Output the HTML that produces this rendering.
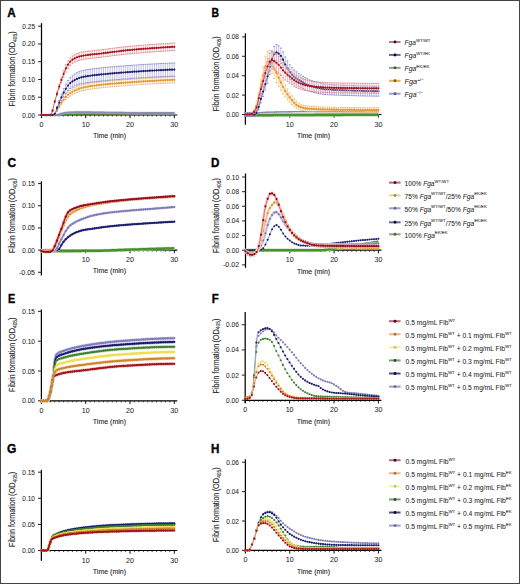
<!DOCTYPE html>
<html><head><meta charset="utf-8"><style>
html,body{margin:0;padding:0;background:#fff;}
body{width:520px;height:584px;overflow:hidden;}
svg{display:block;font-family:"Liberation Sans", sans-serif;}
text{stroke:#2a2a2a;stroke-width:0.04px;paint-order:stroke;}
.bt{stroke-width:0.1px;}
</style></head><body>
<svg width="520" height="584" viewBox="0 0 520 584">
<rect x="0" y="0" width="520" height="584" fill="#fff"/>
<line x1="41.50" y1="23.20" x2="41.50" y2="118.00" stroke="#000" stroke-width="1.25"/>
<line x1="38.10" y1="115.00" x2="41.50" y2="115.00" stroke="#333" stroke-width="1.1"/>
<text x="35.10" y="117.50" font-size="7.1" text-anchor="end" fill="#222" textLength="12.75" lengthAdjust="spacingAndGlyphs">0.00</text>
<line x1="38.10" y1="97.24" x2="41.50" y2="97.24" stroke="#333" stroke-width="1.1"/>
<text x="35.10" y="99.74" font-size="7.1" text-anchor="end" fill="#222" textLength="12.75" lengthAdjust="spacingAndGlyphs">0.05</text>
<line x1="38.10" y1="79.48" x2="41.50" y2="79.48" stroke="#333" stroke-width="1.1"/>
<text x="35.10" y="81.98" font-size="7.1" text-anchor="end" fill="#222" textLength="12.75" lengthAdjust="spacingAndGlyphs">0.10</text>
<line x1="38.10" y1="61.72" x2="41.50" y2="61.72" stroke="#333" stroke-width="1.1"/>
<text x="35.10" y="64.22" font-size="7.1" text-anchor="end" fill="#222" textLength="12.75" lengthAdjust="spacingAndGlyphs">0.15</text>
<line x1="38.10" y1="43.96" x2="41.50" y2="43.96" stroke="#333" stroke-width="1.1"/>
<text x="35.10" y="46.46" font-size="7.1" text-anchor="end" fill="#222" textLength="12.75" lengthAdjust="spacingAndGlyphs">0.20</text>
<line x1="38.10" y1="26.20" x2="41.50" y2="26.20" stroke="#333" stroke-width="1.1"/>
<text x="35.10" y="28.70" font-size="7.1" text-anchor="end" fill="#222" textLength="12.75" lengthAdjust="spacingAndGlyphs">0.25</text>
<line x1="41.50" y1="115.00" x2="177.30" y2="115.00" stroke="#000" stroke-width="1.2"/>
<line x1="41.50" y1="115.00" x2="41.50" y2="118.20" stroke="#111" stroke-width="1"/>
<text x="41.50" y="127.00" font-size="7.1" text-anchor="middle" fill="#222">0</text>
<line x1="45.93" y1="115.00" x2="45.93" y2="116.60" stroke="#222" stroke-width="0.8"/>
<line x1="50.35" y1="115.00" x2="50.35" y2="116.60" stroke="#222" stroke-width="0.8"/>
<line x1="54.78" y1="115.00" x2="54.78" y2="116.60" stroke="#222" stroke-width="0.8"/>
<line x1="59.21" y1="115.00" x2="59.21" y2="116.60" stroke="#222" stroke-width="0.8"/>
<line x1="63.63" y1="115.00" x2="63.63" y2="116.60" stroke="#222" stroke-width="0.8"/>
<line x1="68.06" y1="115.00" x2="68.06" y2="116.60" stroke="#222" stroke-width="0.8"/>
<line x1="72.49" y1="115.00" x2="72.49" y2="116.60" stroke="#222" stroke-width="0.8"/>
<line x1="76.91" y1="115.00" x2="76.91" y2="116.60" stroke="#222" stroke-width="0.8"/>
<line x1="81.34" y1="115.00" x2="81.34" y2="116.60" stroke="#222" stroke-width="0.8"/>
<line x1="85.77" y1="115.00" x2="85.77" y2="118.20" stroke="#111" stroke-width="1"/>
<text x="85.77" y="127.00" font-size="7.1" text-anchor="middle" fill="#222">10</text>
<line x1="90.19" y1="115.00" x2="90.19" y2="116.60" stroke="#222" stroke-width="0.8"/>
<line x1="94.62" y1="115.00" x2="94.62" y2="116.60" stroke="#222" stroke-width="0.8"/>
<line x1="99.05" y1="115.00" x2="99.05" y2="116.60" stroke="#222" stroke-width="0.8"/>
<line x1="103.47" y1="115.00" x2="103.47" y2="116.60" stroke="#222" stroke-width="0.8"/>
<line x1="107.90" y1="115.00" x2="107.90" y2="116.60" stroke="#222" stroke-width="0.8"/>
<line x1="112.33" y1="115.00" x2="112.33" y2="116.60" stroke="#222" stroke-width="0.8"/>
<line x1="116.75" y1="115.00" x2="116.75" y2="116.60" stroke="#222" stroke-width="0.8"/>
<line x1="121.18" y1="115.00" x2="121.18" y2="116.60" stroke="#222" stroke-width="0.8"/>
<line x1="125.61" y1="115.00" x2="125.61" y2="116.60" stroke="#222" stroke-width="0.8"/>
<line x1="130.03" y1="115.00" x2="130.03" y2="118.20" stroke="#111" stroke-width="1"/>
<text x="130.03" y="127.00" font-size="7.1" text-anchor="middle" fill="#222">20</text>
<line x1="134.46" y1="115.00" x2="134.46" y2="116.60" stroke="#222" stroke-width="0.8"/>
<line x1="138.89" y1="115.00" x2="138.89" y2="116.60" stroke="#222" stroke-width="0.8"/>
<line x1="143.31" y1="115.00" x2="143.31" y2="116.60" stroke="#222" stroke-width="0.8"/>
<line x1="147.74" y1="115.00" x2="147.74" y2="116.60" stroke="#222" stroke-width="0.8"/>
<line x1="152.17" y1="115.00" x2="152.17" y2="116.60" stroke="#222" stroke-width="0.8"/>
<line x1="156.59" y1="115.00" x2="156.59" y2="116.60" stroke="#222" stroke-width="0.8"/>
<line x1="161.02" y1="115.00" x2="161.02" y2="116.60" stroke="#222" stroke-width="0.8"/>
<line x1="165.45" y1="115.00" x2="165.45" y2="116.60" stroke="#222" stroke-width="0.8"/>
<line x1="169.87" y1="115.00" x2="169.87" y2="116.60" stroke="#222" stroke-width="0.8"/>
<line x1="174.30" y1="115.00" x2="174.30" y2="118.20" stroke="#111" stroke-width="1"/>
<text x="174.30" y="127.00" font-size="7.1" text-anchor="middle" fill="#222">30</text>
<text class="bt" x="109.50" y="138.30" font-size="7.8" text-anchor="middle" fill="#222" textLength="33.2" lengthAdjust="spacingAndGlyphs">Time (min)</text>
<text class="bt" transform="translate(15.10,106.50) rotate(-90)" font-size="8.9" fill="#222" textLength="49.7" lengthAdjust="spacingAndGlyphs">Fibrin formation</text>
<text class="bt" transform="translate(15.10,55.51) rotate(-90)" font-size="8.9" fill="#222" textLength="24.2" lengthAdjust="spacingAndGlyphs">(OD<tspan font-size="5.9" dy="1.5">405</tspan><tspan dy="-1.5">)</tspan></text>
<text transform="translate(7.2,17.0) scale(0.97,1)" font-size="12" font-weight="bold" fill="#000" style="stroke:#000;stroke-width:0.35px">A</text>
<polyline points="41.50,115.00 42.61,115.00 43.71,115.00 44.82,115.00 45.93,115.00 47.03,115.00 48.14,115.00 49.25,115.00 50.35,115.00 51.46,115.00 52.57,115.00 53.67,115.00 54.78,115.00 55.89,114.98 56.99,114.93 58.10,114.86 59.21,114.77 60.31,114.68 61.42,114.60 62.53,114.52 63.63,114.47 64.74,114.43 65.85,114.39 66.95,114.35 68.06,114.32 69.17,114.28 70.27,114.25 71.38,114.22 72.49,114.19 73.59,114.16 74.70,114.13 75.81,114.11 76.91,114.08 78.02,114.06 79.13,114.04 80.23,114.02 81.34,114.00 82.45,113.98 83.55,113.96 84.66,113.95 85.77,113.93 86.87,113.92 87.98,113.91 89.09,113.89 90.19,113.88 91.30,113.87 92.41,113.86 93.51,113.84 94.62,113.83 95.73,113.82 96.83,113.81 97.94,113.80 99.05,113.79 100.15,113.78 101.26,113.77 102.37,113.76 103.47,113.75 104.58,113.74 105.69,113.73 106.79,113.72 107.90,113.72 109.01,113.71 110.11,113.70 111.22,113.69 112.33,113.68 113.43,113.68 114.54,113.67 115.65,113.66 116.75,113.66 117.86,113.65 118.97,113.64 120.07,113.63 121.18,113.63 122.29,113.62 123.39,113.62 124.50,113.61 125.61,113.60 126.71,113.60 127.82,113.59 128.93,113.59 130.03,113.58 131.14,113.57 132.25,113.57 133.35,113.56 134.46,113.56 135.57,113.55 136.67,113.54 137.78,113.54 138.89,113.53 139.99,113.53 141.10,113.52 142.21,113.52 143.31,113.51 144.42,113.51 145.53,113.50 146.63,113.50 147.74,113.49 148.85,113.49 149.95,113.48 151.06,113.48 152.17,113.47 153.27,113.47 154.38,113.46 155.49,113.46 156.59,113.45 157.70,113.45 158.81,113.45 159.91,113.44 161.02,113.44 162.13,113.43 163.23,113.43 164.34,113.43 165.45,113.42 166.55,113.42 167.66,113.42 168.77,113.41 169.87,113.41 170.98,113.41 172.09,113.41 173.19,113.40 174.30,113.40" fill="none" stroke="#3f8030" stroke-width="1.5" stroke-linejoin="round"/>
<path d="M40.60,115.00a0.9,0.9 0 1,0 1.8,0a0.9,0.9 0 1,0 -1.8,0M42.81,115.00a0.9,0.9 0 1,0 1.8,0a0.9,0.9 0 1,0 -1.8,0M45.03,115.00a0.9,0.9 0 1,0 1.8,0a0.9,0.9 0 1,0 -1.8,0M47.24,115.00a0.9,0.9 0 1,0 1.8,0a0.9,0.9 0 1,0 -1.8,0M49.45,115.00a0.9,0.9 0 1,0 1.8,0a0.9,0.9 0 1,0 -1.8,0M51.67,115.00a0.9,0.9 0 1,0 1.8,0a0.9,0.9 0 1,0 -1.8,0M53.88,115.00a0.9,0.9 0 1,0 1.8,0a0.9,0.9 0 1,0 -1.8,0M56.09,114.93a0.9,0.9 0 1,0 1.8,0a0.9,0.9 0 1,0 -1.8,0M58.31,114.77a0.9,0.9 0 1,0 1.8,0a0.9,0.9 0 1,0 -1.8,0M60.52,114.60a0.9,0.9 0 1,0 1.8,0a0.9,0.9 0 1,0 -1.8,0M62.73,114.47a0.9,0.9 0 1,0 1.8,0a0.9,0.9 0 1,0 -1.8,0M64.95,114.39a0.9,0.9 0 1,0 1.8,0a0.9,0.9 0 1,0 -1.8,0M67.16,114.32a0.9,0.9 0 1,0 1.8,0a0.9,0.9 0 1,0 -1.8,0M69.37,114.25a0.9,0.9 0 1,0 1.8,0a0.9,0.9 0 1,0 -1.8,0M71.59,114.19a0.9,0.9 0 1,0 1.8,0a0.9,0.9 0 1,0 -1.8,0M73.80,114.13a0.9,0.9 0 1,0 1.8,0a0.9,0.9 0 1,0 -1.8,0M76.01,114.08a0.9,0.9 0 1,0 1.8,0a0.9,0.9 0 1,0 -1.8,0M78.23,114.04a0.9,0.9 0 1,0 1.8,0a0.9,0.9 0 1,0 -1.8,0M80.44,114.00a0.9,0.9 0 1,0 1.8,0a0.9,0.9 0 1,0 -1.8,0M82.65,113.96a0.9,0.9 0 1,0 1.8,0a0.9,0.9 0 1,0 -1.8,0M84.87,113.93a0.9,0.9 0 1,0 1.8,0a0.9,0.9 0 1,0 -1.8,0M87.08,113.91a0.9,0.9 0 1,0 1.8,0a0.9,0.9 0 1,0 -1.8,0M89.29,113.88a0.9,0.9 0 1,0 1.8,0a0.9,0.9 0 1,0 -1.8,0M91.51,113.86a0.9,0.9 0 1,0 1.8,0a0.9,0.9 0 1,0 -1.8,0M93.72,113.83a0.9,0.9 0 1,0 1.8,0a0.9,0.9 0 1,0 -1.8,0M95.93,113.81a0.9,0.9 0 1,0 1.8,0a0.9,0.9 0 1,0 -1.8,0M98.15,113.79a0.9,0.9 0 1,0 1.8,0a0.9,0.9 0 1,0 -1.8,0M100.36,113.77a0.9,0.9 0 1,0 1.8,0a0.9,0.9 0 1,0 -1.8,0M102.57,113.75a0.9,0.9 0 1,0 1.8,0a0.9,0.9 0 1,0 -1.8,0M104.79,113.73a0.9,0.9 0 1,0 1.8,0a0.9,0.9 0 1,0 -1.8,0M107.00,113.72a0.9,0.9 0 1,0 1.8,0a0.9,0.9 0 1,0 -1.8,0M109.21,113.70a0.9,0.9 0 1,0 1.8,0a0.9,0.9 0 1,0 -1.8,0M111.43,113.68a0.9,0.9 0 1,0 1.8,0a0.9,0.9 0 1,0 -1.8,0M113.64,113.67a0.9,0.9 0 1,0 1.8,0a0.9,0.9 0 1,0 -1.8,0M115.85,113.66a0.9,0.9 0 1,0 1.8,0a0.9,0.9 0 1,0 -1.8,0M118.07,113.64a0.9,0.9 0 1,0 1.8,0a0.9,0.9 0 1,0 -1.8,0M120.28,113.63a0.9,0.9 0 1,0 1.8,0a0.9,0.9 0 1,0 -1.8,0M122.49,113.62a0.9,0.9 0 1,0 1.8,0a0.9,0.9 0 1,0 -1.8,0M124.71,113.60a0.9,0.9 0 1,0 1.8,0a0.9,0.9 0 1,0 -1.8,0M126.92,113.59a0.9,0.9 0 1,0 1.8,0a0.9,0.9 0 1,0 -1.8,0M129.13,113.58a0.9,0.9 0 1,0 1.8,0a0.9,0.9 0 1,0 -1.8,0M131.35,113.57a0.9,0.9 0 1,0 1.8,0a0.9,0.9 0 1,0 -1.8,0M133.56,113.56a0.9,0.9 0 1,0 1.8,0a0.9,0.9 0 1,0 -1.8,0M135.77,113.54a0.9,0.9 0 1,0 1.8,0a0.9,0.9 0 1,0 -1.8,0M137.99,113.53a0.9,0.9 0 1,0 1.8,0a0.9,0.9 0 1,0 -1.8,0M140.20,113.52a0.9,0.9 0 1,0 1.8,0a0.9,0.9 0 1,0 -1.8,0M142.41,113.51a0.9,0.9 0 1,0 1.8,0a0.9,0.9 0 1,0 -1.8,0M144.63,113.50a0.9,0.9 0 1,0 1.8,0a0.9,0.9 0 1,0 -1.8,0M146.84,113.49a0.9,0.9 0 1,0 1.8,0a0.9,0.9 0 1,0 -1.8,0M149.05,113.48a0.9,0.9 0 1,0 1.8,0a0.9,0.9 0 1,0 -1.8,0M151.27,113.47a0.9,0.9 0 1,0 1.8,0a0.9,0.9 0 1,0 -1.8,0M153.48,113.46a0.9,0.9 0 1,0 1.8,0a0.9,0.9 0 1,0 -1.8,0M155.69,113.45a0.9,0.9 0 1,0 1.8,0a0.9,0.9 0 1,0 -1.8,0M157.91,113.45a0.9,0.9 0 1,0 1.8,0a0.9,0.9 0 1,0 -1.8,0M160.12,113.44a0.9,0.9 0 1,0 1.8,0a0.9,0.9 0 1,0 -1.8,0M162.33,113.43a0.9,0.9 0 1,0 1.8,0a0.9,0.9 0 1,0 -1.8,0M164.55,113.42a0.9,0.9 0 1,0 1.8,0a0.9,0.9 0 1,0 -1.8,0M166.76,113.42a0.9,0.9 0 1,0 1.8,0a0.9,0.9 0 1,0 -1.8,0M168.97,113.41a0.9,0.9 0 1,0 1.8,0a0.9,0.9 0 1,0 -1.8,0M171.19,113.41a0.9,0.9 0 1,0 1.8,0a0.9,0.9 0 1,0 -1.8,0M173.40,113.40a0.9,0.9 0 1,0 1.8,0a0.9,0.9 0 1,0 -1.8,0" fill="#3f8030"/>
<path d="M41.50,114.11V115.89M43.71,114.11V115.89M45.93,114.11V115.89M48.14,114.11V115.89M50.35,114.11V115.89M52.57,114.11V115.89M54.78,114.11V115.89M56.99,114.11V115.89M59.21,113.50V115.28M61.42,112.84V114.62M63.63,112.34V114.11M65.85,111.93V113.70M68.06,111.70V113.47M70.27,111.59V113.37M72.49,111.51V113.28M74.70,111.44V113.21M76.91,111.38V113.16M79.13,111.35V113.13M81.34,111.34V113.12M83.55,111.35V113.12M85.77,111.37V113.14M87.98,111.39V113.17M90.19,111.42V113.20M92.41,111.45V113.23M94.62,111.48V113.26M96.83,111.52V113.29M99.05,111.56V113.33M101.26,111.60V113.38M103.47,111.64V113.42M105.69,111.69V113.47M107.90,111.73V113.51M110.11,111.77V113.55M112.33,111.80V113.58M114.54,111.83V113.61M116.75,111.86V113.63M118.97,111.88V113.66M121.18,111.91V113.68M123.39,111.93V113.70M125.61,111.95V113.72M127.82,111.97V113.74M130.03,111.98V113.76M132.25,111.99V113.77M134.46,112.01V113.78M136.67,112.02V113.80M138.89,112.03V113.81M141.10,112.05V113.82M143.31,112.06V113.83M145.53,112.07V113.85M147.74,112.08V113.86M149.95,112.09V113.87M152.17,112.10V113.88M154.38,112.11V113.89M156.59,112.12V113.90M158.81,112.13V113.91M161.02,112.14V113.91M163.23,112.14V113.92M165.45,112.15V113.92M167.66,112.15V113.93M169.87,112.16V113.93M172.09,112.16V113.93M174.30,112.16V113.93" stroke="#c8c8dc" stroke-width="0.8" fill="none"/>
<path d="M40.55,114.11h1.9M40.55,115.89h1.9M42.76,114.11h1.9M42.76,115.89h1.9M44.98,114.11h1.9M44.98,115.89h1.9M47.19,114.11h1.9M47.19,115.89h1.9M49.40,114.11h1.9M49.40,115.89h1.9M51.62,114.11h1.9M51.62,115.89h1.9M53.83,114.11h1.9M53.83,115.89h1.9M56.04,114.11h1.9M56.04,115.89h1.9M58.26,113.50h1.9M58.26,115.28h1.9M60.47,112.84h1.9M60.47,114.62h1.9M62.68,112.34h1.9M62.68,114.11h1.9M64.90,111.93h1.9M64.90,113.70h1.9M67.11,111.70h1.9M67.11,113.47h1.9M69.32,111.59h1.9M69.32,113.37h1.9M71.54,111.51h1.9M71.54,113.28h1.9M73.75,111.44h1.9M73.75,113.21h1.9M75.96,111.38h1.9M75.96,113.16h1.9M78.18,111.35h1.9M78.18,113.13h1.9M80.39,111.34h1.9M80.39,113.12h1.9M82.60,111.35h1.9M82.60,113.12h1.9M84.82,111.37h1.9M84.82,113.14h1.9M87.03,111.39h1.9M87.03,113.17h1.9M89.24,111.42h1.9M89.24,113.20h1.9M91.46,111.45h1.9M91.46,113.23h1.9M93.67,111.48h1.9M93.67,113.26h1.9M95.88,111.52h1.9M95.88,113.29h1.9M98.10,111.56h1.9M98.10,113.33h1.9M100.31,111.60h1.9M100.31,113.38h1.9M102.52,111.64h1.9M102.52,113.42h1.9M104.74,111.69h1.9M104.74,113.47h1.9M106.95,111.73h1.9M106.95,113.51h1.9M109.16,111.77h1.9M109.16,113.55h1.9M111.38,111.80h1.9M111.38,113.58h1.9M113.59,111.83h1.9M113.59,113.61h1.9M115.80,111.86h1.9M115.80,113.63h1.9M118.02,111.88h1.9M118.02,113.66h1.9M120.23,111.91h1.9M120.23,113.68h1.9M122.44,111.93h1.9M122.44,113.70h1.9M124.66,111.95h1.9M124.66,113.72h1.9M126.87,111.97h1.9M126.87,113.74h1.9M129.08,111.98h1.9M129.08,113.76h1.9M131.30,111.99h1.9M131.30,113.77h1.9M133.51,112.01h1.9M133.51,113.78h1.9M135.72,112.02h1.9M135.72,113.80h1.9M137.94,112.03h1.9M137.94,113.81h1.9M140.15,112.05h1.9M140.15,113.82h1.9M142.36,112.06h1.9M142.36,113.83h1.9M144.58,112.07h1.9M144.58,113.85h1.9M146.79,112.08h1.9M146.79,113.86h1.9M149.00,112.09h1.9M149.00,113.87h1.9M151.22,112.10h1.9M151.22,113.88h1.9M153.43,112.11h1.9M153.43,113.89h1.9M155.64,112.12h1.9M155.64,113.90h1.9M157.86,112.13h1.9M157.86,113.91h1.9M160.07,112.14h1.9M160.07,113.91h1.9M162.28,112.14h1.9M162.28,113.92h1.9M164.50,112.15h1.9M164.50,113.92h1.9M166.71,112.15h1.9M166.71,113.93h1.9M168.92,112.16h1.9M168.92,113.93h1.9M171.14,112.16h1.9M171.14,113.93h1.9M173.35,112.16h1.9M173.35,113.93h1.9" stroke="#c8c8dc" stroke-width="0.8" fill="none"/>
<polyline points="41.50,115.00 42.61,115.00 43.71,115.00 44.82,115.00 45.93,115.00 47.03,115.00 48.14,115.00 49.25,115.00 50.35,115.00 51.46,115.00 52.57,115.00 53.67,115.00 54.78,115.00 55.89,115.00 56.99,115.00 58.10,114.81 59.21,114.39 60.31,113.99 61.42,113.73 62.53,113.47 63.63,113.23 64.74,113.00 65.85,112.81 66.95,112.67 68.06,112.58 69.17,112.53 70.27,112.48 71.38,112.44 72.49,112.39 73.59,112.36 74.70,112.32 75.81,112.30 76.91,112.27 78.02,112.25 79.13,112.24 80.23,112.23 81.34,112.23 82.45,112.23 83.55,112.24 84.66,112.24 85.77,112.25 86.87,112.27 87.98,112.28 89.09,112.29 90.19,112.31 91.30,112.32 92.41,112.34 93.51,112.36 94.62,112.37 95.73,112.39 96.83,112.40 97.94,112.42 99.05,112.44 100.15,112.47 101.26,112.49 102.37,112.51 103.47,112.53 104.58,112.55 105.69,112.58 106.79,112.60 107.90,112.62 109.01,112.64 110.11,112.66 111.22,112.68 112.33,112.69 113.43,112.71 114.54,112.72 115.65,112.73 116.75,112.75 117.86,112.76 118.97,112.77 120.07,112.78 121.18,112.80 122.29,112.81 123.39,112.82 124.50,112.83 125.61,112.84 126.71,112.85 127.82,112.85 128.93,112.86 130.03,112.87 131.14,112.88 132.25,112.88 133.35,112.89 134.46,112.90 135.57,112.90 136.67,112.91 137.78,112.92 138.89,112.92 139.99,112.93 141.10,112.93 142.21,112.94 143.31,112.95 144.42,112.95 145.53,112.96 146.63,112.96 147.74,112.97 148.85,112.98 149.95,112.98 151.06,112.99 152.17,112.99 153.27,113.00 154.38,113.00 155.49,113.01 156.59,113.01 157.70,113.01 158.81,113.02 159.91,113.02 161.02,113.03 162.13,113.03 163.23,113.03 164.34,113.03 165.45,113.04 166.55,113.04 167.66,113.04 168.77,113.04 169.87,113.04 170.98,113.04 172.09,113.05 173.19,113.05 174.30,113.05" fill="none" stroke="#8c8cb0" stroke-width="1.9" stroke-linejoin="round"/>
<path d="M41.50,114.64V115.36M43.71,114.64V115.36M45.93,114.64V115.36M48.14,114.64V115.36M50.35,114.64V115.36M52.57,114.64V115.36M54.78,113.87V114.75M56.99,109.90V111.63M59.21,105.36V108.06M61.42,101.12V104.73M63.63,97.56V101.93M65.85,94.37V99.43M68.06,91.97V97.54M70.27,90.20V96.15M72.49,88.75V94.79M74.70,87.53V93.57M76.91,86.50V92.54M79.13,85.65V91.69M81.34,84.99V91.02M83.55,84.45V90.49M85.77,83.98V90.01M87.98,83.56V89.59M90.19,83.18V89.22M92.41,82.84V88.88M94.62,82.54V88.58M96.83,82.26V88.30M99.05,81.99V88.03M101.26,81.74V87.78M103.47,81.50V87.53M105.69,81.27V87.30M107.90,81.05V87.09M110.11,80.85V86.88M112.33,80.65V86.69M114.54,80.47V86.50M116.75,80.29V86.33M118.97,80.11V86.15M121.18,79.95V85.99M123.39,79.78V85.82M125.61,79.62V85.66M127.82,79.46V85.50M130.03,79.30V85.34M132.25,79.14V85.18M134.46,78.99V85.03M136.67,78.84V84.87M138.89,78.69V84.73M141.10,78.54V84.58M143.31,78.40V84.44M145.53,78.27V84.30M147.74,78.13V84.17M149.95,78.01V84.04M152.17,77.88V83.92M154.38,77.76V83.80M156.59,77.64V83.68M158.81,77.53V83.57M161.02,77.42V83.45M163.23,77.31V83.35M165.45,77.20V83.24M167.66,77.10V83.14M169.87,77.00V83.04M172.09,76.91V82.95M174.30,76.82V82.85" stroke="#f6cf98" stroke-width="0.8" fill="none"/>
<path d="M40.55,114.64h1.9M40.55,115.36h1.9M42.76,114.64h1.9M42.76,115.36h1.9M44.98,114.64h1.9M44.98,115.36h1.9M47.19,114.64h1.9M47.19,115.36h1.9M49.40,114.64h1.9M49.40,115.36h1.9M51.62,114.64h1.9M51.62,115.36h1.9M53.83,113.87h1.9M53.83,114.75h1.9M56.04,109.90h1.9M56.04,111.63h1.9M58.26,105.36h1.9M58.26,108.06h1.9M60.47,101.12h1.9M60.47,104.73h1.9M62.68,97.56h1.9M62.68,101.93h1.9M64.90,94.37h1.9M64.90,99.43h1.9M67.11,91.97h1.9M67.11,97.54h1.9M69.32,90.20h1.9M69.32,96.15h1.9M71.54,88.75h1.9M71.54,94.79h1.9M73.75,87.53h1.9M73.75,93.57h1.9M75.96,86.50h1.9M75.96,92.54h1.9M78.18,85.65h1.9M78.18,91.69h1.9M80.39,84.99h1.9M80.39,91.02h1.9M82.60,84.45h1.9M82.60,90.49h1.9M84.82,83.98h1.9M84.82,90.01h1.9M87.03,83.56h1.9M87.03,89.59h1.9M89.24,83.18h1.9M89.24,89.22h1.9M91.46,82.84h1.9M91.46,88.88h1.9M93.67,82.54h1.9M93.67,88.58h1.9M95.88,82.26h1.9M95.88,88.30h1.9M98.10,81.99h1.9M98.10,88.03h1.9M100.31,81.74h1.9M100.31,87.78h1.9M102.52,81.50h1.9M102.52,87.53h1.9M104.74,81.27h1.9M104.74,87.30h1.9M106.95,81.05h1.9M106.95,87.09h1.9M109.16,80.85h1.9M109.16,86.88h1.9M111.38,80.65h1.9M111.38,86.69h1.9M113.59,80.47h1.9M113.59,86.50h1.9M115.80,80.29h1.9M115.80,86.33h1.9M118.02,80.11h1.9M118.02,86.15h1.9M120.23,79.95h1.9M120.23,85.99h1.9M122.44,79.78h1.9M122.44,85.82h1.9M124.66,79.62h1.9M124.66,85.66h1.9M126.87,79.46h1.9M126.87,85.50h1.9M129.08,79.30h1.9M129.08,85.34h1.9M131.30,79.14h1.9M131.30,85.18h1.9M133.51,78.99h1.9M133.51,85.03h1.9M135.72,78.84h1.9M135.72,84.87h1.9M137.94,78.69h1.9M137.94,84.73h1.9M140.15,78.54h1.9M140.15,84.58h1.9M142.36,78.40h1.9M142.36,84.44h1.9M144.58,78.27h1.9M144.58,84.30h1.9M146.79,78.13h1.9M146.79,84.17h1.9M149.00,78.01h1.9M149.00,84.04h1.9M151.22,77.88h1.9M151.22,83.92h1.9M153.43,77.76h1.9M153.43,83.80h1.9M155.64,77.64h1.9M155.64,83.68h1.9M157.86,77.53h1.9M157.86,83.57h1.9M160.07,77.42h1.9M160.07,83.45h1.9M162.28,77.31h1.9M162.28,83.35h1.9M164.50,77.20h1.9M164.50,83.24h1.9M166.71,77.10h1.9M166.71,83.14h1.9M168.92,77.00h1.9M168.92,83.04h1.9M171.14,76.91h1.9M171.14,82.95h1.9M173.35,76.82h1.9M173.35,82.85h1.9" stroke="#e8b070" stroke-width="0.8" fill="none"/>
<polyline points="41.50,115.00 42.61,115.00 43.71,115.00 44.82,115.00 45.93,115.00 47.03,115.00 48.14,115.00 49.25,115.00 50.35,115.00 51.46,115.00 52.57,115.00 53.67,115.00 54.78,114.31 55.89,112.50 56.99,110.76 58.10,108.79 59.21,106.71 60.31,104.70 61.42,102.92 62.53,101.32 63.63,99.75 64.74,98.26 65.85,96.90 66.95,95.72 68.06,94.75 69.17,93.94 70.27,93.17 71.38,92.45 72.49,91.77 73.59,91.14 74.70,90.55 75.81,90.01 76.91,89.52 78.02,89.07 79.13,88.67 80.23,88.31 81.34,88.00 82.45,87.73 83.55,87.47 84.66,87.23 85.77,87.00 86.87,86.78 87.98,86.57 89.09,86.38 90.19,86.20 91.30,86.03 92.41,85.86 93.51,85.71 94.62,85.56 95.73,85.42 96.83,85.28 97.94,85.14 99.05,85.01 100.15,84.88 101.26,84.76 102.37,84.63 103.47,84.51 104.58,84.40 105.69,84.29 106.79,84.18 107.90,84.07 109.01,83.97 110.11,83.86 111.22,83.77 112.33,83.67 113.43,83.58 114.54,83.48 115.65,83.39 116.75,83.31 117.86,83.22 118.97,83.13 120.07,83.05 121.18,82.97 122.29,82.88 123.39,82.80 124.50,82.72 125.61,82.64 126.71,82.56 127.82,82.48 128.93,82.40 130.03,82.32 131.14,82.24 132.25,82.16 133.35,82.08 134.46,82.01 135.57,81.93 136.67,81.85 137.78,81.78 138.89,81.71 139.99,81.63 141.10,81.56 142.21,81.49 143.31,81.42 144.42,81.35 145.53,81.29 146.63,81.22 147.74,81.15 148.85,81.09 149.95,81.02 151.06,80.96 152.17,80.90 153.27,80.84 154.38,80.78 155.49,80.72 156.59,80.66 157.70,80.60 158.81,80.55 159.91,80.49 161.02,80.44 162.13,80.38 163.23,80.33 164.34,80.27 165.45,80.22 166.55,80.17 167.66,80.12 168.77,80.07 169.87,80.02 170.98,79.97 172.09,79.93 173.19,79.88 174.30,79.84" fill="none" stroke="#f0b060" stroke-width="0.8" stroke-linejoin="round"/>
<path d="M40.40,115.00a1.1,1.1 0 1,0 2.2,0a1.1,1.1 0 1,0 -2.2,0M42.61,115.00a1.1,1.1 0 1,0 2.2,0a1.1,1.1 0 1,0 -2.2,0M44.83,115.00a1.1,1.1 0 1,0 2.2,0a1.1,1.1 0 1,0 -2.2,0M47.04,115.00a1.1,1.1 0 1,0 2.2,0a1.1,1.1 0 1,0 -2.2,0M49.25,115.00a1.1,1.1 0 1,0 2.2,0a1.1,1.1 0 1,0 -2.2,0M51.47,115.00a1.1,1.1 0 1,0 2.2,0a1.1,1.1 0 1,0 -2.2,0M53.68,114.31a1.1,1.1 0 1,0 2.2,0a1.1,1.1 0 1,0 -2.2,0M55.89,110.76a1.1,1.1 0 1,0 2.2,0a1.1,1.1 0 1,0 -2.2,0M58.11,106.71a1.1,1.1 0 1,0 2.2,0a1.1,1.1 0 1,0 -2.2,0M60.32,102.92a1.1,1.1 0 1,0 2.2,0a1.1,1.1 0 1,0 -2.2,0M62.53,99.75a1.1,1.1 0 1,0 2.2,0a1.1,1.1 0 1,0 -2.2,0M64.75,96.90a1.1,1.1 0 1,0 2.2,0a1.1,1.1 0 1,0 -2.2,0M66.96,94.75a1.1,1.1 0 1,0 2.2,0a1.1,1.1 0 1,0 -2.2,0M69.17,93.17a1.1,1.1 0 1,0 2.2,0a1.1,1.1 0 1,0 -2.2,0M71.39,91.77a1.1,1.1 0 1,0 2.2,0a1.1,1.1 0 1,0 -2.2,0M73.60,90.55a1.1,1.1 0 1,0 2.2,0a1.1,1.1 0 1,0 -2.2,0M75.81,89.52a1.1,1.1 0 1,0 2.2,0a1.1,1.1 0 1,0 -2.2,0M78.03,88.67a1.1,1.1 0 1,0 2.2,0a1.1,1.1 0 1,0 -2.2,0M80.24,88.00a1.1,1.1 0 1,0 2.2,0a1.1,1.1 0 1,0 -2.2,0M82.45,87.47a1.1,1.1 0 1,0 2.2,0a1.1,1.1 0 1,0 -2.2,0M84.67,87.00a1.1,1.1 0 1,0 2.2,0a1.1,1.1 0 1,0 -2.2,0M86.88,86.57a1.1,1.1 0 1,0 2.2,0a1.1,1.1 0 1,0 -2.2,0M89.09,86.20a1.1,1.1 0 1,0 2.2,0a1.1,1.1 0 1,0 -2.2,0M91.31,85.86a1.1,1.1 0 1,0 2.2,0a1.1,1.1 0 1,0 -2.2,0M93.52,85.56a1.1,1.1 0 1,0 2.2,0a1.1,1.1 0 1,0 -2.2,0M95.73,85.28a1.1,1.1 0 1,0 2.2,0a1.1,1.1 0 1,0 -2.2,0M97.95,85.01a1.1,1.1 0 1,0 2.2,0a1.1,1.1 0 1,0 -2.2,0M100.16,84.76a1.1,1.1 0 1,0 2.2,0a1.1,1.1 0 1,0 -2.2,0M102.37,84.51a1.1,1.1 0 1,0 2.2,0a1.1,1.1 0 1,0 -2.2,0M104.59,84.29a1.1,1.1 0 1,0 2.2,0a1.1,1.1 0 1,0 -2.2,0M106.80,84.07a1.1,1.1 0 1,0 2.2,0a1.1,1.1 0 1,0 -2.2,0M109.01,83.86a1.1,1.1 0 1,0 2.2,0a1.1,1.1 0 1,0 -2.2,0M111.23,83.67a1.1,1.1 0 1,0 2.2,0a1.1,1.1 0 1,0 -2.2,0M113.44,83.48a1.1,1.1 0 1,0 2.2,0a1.1,1.1 0 1,0 -2.2,0M115.65,83.31a1.1,1.1 0 1,0 2.2,0a1.1,1.1 0 1,0 -2.2,0M117.87,83.13a1.1,1.1 0 1,0 2.2,0a1.1,1.1 0 1,0 -2.2,0M120.08,82.97a1.1,1.1 0 1,0 2.2,0a1.1,1.1 0 1,0 -2.2,0M122.29,82.80a1.1,1.1 0 1,0 2.2,0a1.1,1.1 0 1,0 -2.2,0M124.51,82.64a1.1,1.1 0 1,0 2.2,0a1.1,1.1 0 1,0 -2.2,0M126.72,82.48a1.1,1.1 0 1,0 2.2,0a1.1,1.1 0 1,0 -2.2,0M128.93,82.32a1.1,1.1 0 1,0 2.2,0a1.1,1.1 0 1,0 -2.2,0M131.15,82.16a1.1,1.1 0 1,0 2.2,0a1.1,1.1 0 1,0 -2.2,0M133.36,82.01a1.1,1.1 0 1,0 2.2,0a1.1,1.1 0 1,0 -2.2,0M135.57,81.85a1.1,1.1 0 1,0 2.2,0a1.1,1.1 0 1,0 -2.2,0M137.79,81.71a1.1,1.1 0 1,0 2.2,0a1.1,1.1 0 1,0 -2.2,0M140.00,81.56a1.1,1.1 0 1,0 2.2,0a1.1,1.1 0 1,0 -2.2,0M142.21,81.42a1.1,1.1 0 1,0 2.2,0a1.1,1.1 0 1,0 -2.2,0M144.43,81.29a1.1,1.1 0 1,0 2.2,0a1.1,1.1 0 1,0 -2.2,0M146.64,81.15a1.1,1.1 0 1,0 2.2,0a1.1,1.1 0 1,0 -2.2,0M148.85,81.02a1.1,1.1 0 1,0 2.2,0a1.1,1.1 0 1,0 -2.2,0M151.07,80.90a1.1,1.1 0 1,0 2.2,0a1.1,1.1 0 1,0 -2.2,0M153.28,80.78a1.1,1.1 0 1,0 2.2,0a1.1,1.1 0 1,0 -2.2,0M155.49,80.66a1.1,1.1 0 1,0 2.2,0a1.1,1.1 0 1,0 -2.2,0M157.71,80.55a1.1,1.1 0 1,0 2.2,0a1.1,1.1 0 1,0 -2.2,0M159.92,80.44a1.1,1.1 0 1,0 2.2,0a1.1,1.1 0 1,0 -2.2,0M162.13,80.33a1.1,1.1 0 1,0 2.2,0a1.1,1.1 0 1,0 -2.2,0M164.35,80.22a1.1,1.1 0 1,0 2.2,0a1.1,1.1 0 1,0 -2.2,0M166.56,80.12a1.1,1.1 0 1,0 2.2,0a1.1,1.1 0 1,0 -2.2,0M168.77,80.02a1.1,1.1 0 1,0 2.2,0a1.1,1.1 0 1,0 -2.2,0M170.99,79.93a1.1,1.1 0 1,0 2.2,0a1.1,1.1 0 1,0 -2.2,0M173.20,79.84a1.1,1.1 0 1,0 2.2,0a1.1,1.1 0 1,0 -2.2,0" fill="#e0962e"/>
<path d="M41.50,114.64V115.36M43.71,114.64V115.36M45.93,114.64V115.36M48.14,114.64V115.36M50.35,114.64V115.36M52.57,114.64V115.36M54.78,113.25V114.35M56.99,106.48V109.44M59.21,100.21V104.90M61.42,94.21V100.56M63.63,88.72V96.58M65.85,84.18V93.29M68.06,80.44V90.58M70.27,77.57V88.51M72.49,75.68V87.14M74.70,74.09V85.99M76.91,72.77V85.03M79.13,71.73V84.28M81.34,70.97V83.73M83.55,70.40V83.31M85.77,69.90V82.96M87.98,69.49V82.63M90.19,69.16V82.30M92.41,68.87V82.01M94.62,68.61V81.75M96.83,68.37V81.51M99.05,68.13V81.27M101.26,67.89V81.03M103.47,67.65V80.80M105.69,67.43V80.57M107.90,67.22V80.36M110.11,67.01V80.16M112.33,66.82V79.96M114.54,66.63V79.77M116.75,66.45V79.59M118.97,66.28V79.42M121.18,66.10V79.25M123.39,65.94V79.08M125.61,65.77V78.92M127.82,65.61V78.75M130.03,65.45V78.59M132.25,65.29V78.43M134.46,65.13V78.28M136.67,64.98V78.13M138.89,64.83V77.98M141.10,64.69V77.83M143.31,64.55V77.69M145.53,64.41V77.56M147.74,64.28V77.42M149.95,64.15V77.30M152.17,64.03V77.17M154.38,63.91V77.05M156.59,63.79V76.93M158.81,63.68V76.82M161.02,63.56V76.71M163.23,63.45V76.60M165.45,63.35V76.49M167.66,63.25V76.39M169.87,63.15V76.29M172.09,63.05V76.20M174.30,62.96V76.11" stroke="#b4b4e4" stroke-width="0.8" fill="none"/>
<path d="M40.55,114.64h1.9M40.55,115.36h1.9M42.76,114.64h1.9M42.76,115.36h1.9M44.98,114.64h1.9M44.98,115.36h1.9M47.19,114.64h1.9M47.19,115.36h1.9M49.40,114.64h1.9M49.40,115.36h1.9M51.62,114.64h1.9M51.62,115.36h1.9M53.83,113.25h1.9M53.83,114.35h1.9M56.04,106.48h1.9M56.04,109.44h1.9M58.26,100.21h1.9M58.26,104.90h1.9M60.47,94.21h1.9M60.47,100.56h1.9M62.68,88.72h1.9M62.68,96.58h1.9M64.90,84.18h1.9M64.90,93.29h1.9M67.11,80.44h1.9M67.11,90.58h1.9M69.32,77.57h1.9M69.32,88.51h1.9M71.54,75.68h1.9M71.54,87.14h1.9M73.75,74.09h1.9M73.75,85.99h1.9M75.96,72.77h1.9M75.96,85.03h1.9M78.18,71.73h1.9M78.18,84.28h1.9M80.39,70.97h1.9M80.39,83.73h1.9M82.60,70.40h1.9M82.60,83.31h1.9M84.82,69.90h1.9M84.82,82.96h1.9M87.03,69.49h1.9M87.03,82.63h1.9M89.24,69.16h1.9M89.24,82.30h1.9M91.46,68.87h1.9M91.46,82.01h1.9M93.67,68.61h1.9M93.67,81.75h1.9M95.88,68.37h1.9M95.88,81.51h1.9M98.10,68.13h1.9M98.10,81.27h1.9M100.31,67.89h1.9M100.31,81.03h1.9M102.52,67.65h1.9M102.52,80.80h1.9M104.74,67.43h1.9M104.74,80.57h1.9M106.95,67.22h1.9M106.95,80.36h1.9M109.16,67.01h1.9M109.16,80.16h1.9M111.38,66.82h1.9M111.38,79.96h1.9M113.59,66.63h1.9M113.59,79.77h1.9M115.80,66.45h1.9M115.80,79.59h1.9M118.02,66.28h1.9M118.02,79.42h1.9M120.23,66.10h1.9M120.23,79.25h1.9M122.44,65.94h1.9M122.44,79.08h1.9M124.66,65.77h1.9M124.66,78.92h1.9M126.87,65.61h1.9M126.87,78.75h1.9M129.08,65.45h1.9M129.08,78.59h1.9M131.30,65.29h1.9M131.30,78.43h1.9M133.51,65.13h1.9M133.51,78.28h1.9M135.72,64.98h1.9M135.72,78.13h1.9M137.94,64.83h1.9M137.94,77.98h1.9M140.15,64.69h1.9M140.15,77.83h1.9M142.36,64.55h1.9M142.36,77.69h1.9M144.58,64.41h1.9M144.58,77.56h1.9M146.79,64.28h1.9M146.79,77.42h1.9M149.00,64.15h1.9M149.00,77.30h1.9M151.22,64.03h1.9M151.22,77.17h1.9M153.43,63.91h1.9M153.43,77.05h1.9M155.64,63.79h1.9M155.64,76.93h1.9M157.86,63.68h1.9M157.86,76.82h1.9M160.07,63.56h1.9M160.07,76.71h1.9M162.28,63.45h1.9M162.28,76.60h1.9M164.50,63.35h1.9M164.50,76.49h1.9M166.71,63.25h1.9M166.71,76.39h1.9M168.92,63.15h1.9M168.92,76.29h1.9M171.14,63.05h1.9M171.14,76.20h1.9M173.35,62.96h1.9M173.35,76.11h1.9" stroke="#7a7ac4" stroke-width="0.8" fill="none"/>
<polyline points="41.50,115.00 42.61,115.00 43.71,115.00 44.82,115.00 45.93,115.00 47.03,115.00 48.14,115.00 49.25,115.00 50.35,115.00 51.46,115.00 52.57,115.00 53.67,114.84 54.78,113.80 55.89,111.13 56.99,107.96 58.10,105.25 59.21,102.56 60.31,99.89 61.42,97.38 62.53,94.98 63.63,92.65 64.74,90.54 65.85,88.73 66.95,87.06 68.06,85.51 69.17,84.15 70.27,83.04 71.38,82.19 72.49,81.41 73.59,80.70 74.70,80.04 75.81,79.44 76.91,78.90 78.02,78.42 79.13,78.00 80.23,77.64 81.34,77.35 82.45,77.09 83.55,76.86 84.66,76.63 85.77,76.43 86.87,76.24 87.98,76.06 89.09,75.89 90.19,75.73 91.30,75.58 92.41,75.44 93.51,75.31 94.62,75.18 95.73,75.06 96.83,74.94 97.94,74.82 99.05,74.70 100.15,74.58 101.26,74.46 102.37,74.34 103.47,74.23 104.58,74.11 105.69,74.00 106.79,73.89 107.90,73.79 109.01,73.69 110.11,73.59 111.22,73.49 112.33,73.39 113.43,73.30 114.54,73.20 115.65,73.11 116.75,73.02 117.86,72.93 118.97,72.85 120.07,72.76 121.18,72.68 122.29,72.59 123.39,72.51 124.50,72.43 125.61,72.34 126.71,72.26 127.82,72.18 128.93,72.10 130.03,72.02 131.14,71.94 132.25,71.86 133.35,71.78 134.46,71.71 135.57,71.63 136.67,71.55 137.78,71.48 138.89,71.41 139.99,71.33 141.10,71.26 142.21,71.19 143.31,71.12 144.42,71.05 145.53,70.98 146.63,70.92 147.74,70.85 148.85,70.79 149.95,70.72 151.06,70.66 152.17,70.60 153.27,70.54 154.38,70.48 155.49,70.42 156.59,70.36 157.70,70.30 158.81,70.25 159.91,70.19 161.02,70.13 162.13,70.08 163.23,70.03 164.34,69.97 165.45,69.92 166.55,69.87 167.66,69.82 168.77,69.77 169.87,69.72 170.98,69.67 172.09,69.63 173.19,69.58 174.30,69.53" fill="none" stroke="#5a5aa0" stroke-width="0.8" stroke-linejoin="round"/>
<path d="M40.40,115.00a1.1,1.1 0 1,0 2.2,0a1.1,1.1 0 1,0 -2.2,0M42.61,115.00a1.1,1.1 0 1,0 2.2,0a1.1,1.1 0 1,0 -2.2,0M44.83,115.00a1.1,1.1 0 1,0 2.2,0a1.1,1.1 0 1,0 -2.2,0M47.04,115.00a1.1,1.1 0 1,0 2.2,0a1.1,1.1 0 1,0 -2.2,0M49.25,115.00a1.1,1.1 0 1,0 2.2,0a1.1,1.1 0 1,0 -2.2,0M51.47,115.00a1.1,1.1 0 1,0 2.2,0a1.1,1.1 0 1,0 -2.2,0M53.68,113.80a1.1,1.1 0 1,0 2.2,0a1.1,1.1 0 1,0 -2.2,0M55.89,107.96a1.1,1.1 0 1,0 2.2,0a1.1,1.1 0 1,0 -2.2,0M58.11,102.56a1.1,1.1 0 1,0 2.2,0a1.1,1.1 0 1,0 -2.2,0M60.32,97.38a1.1,1.1 0 1,0 2.2,0a1.1,1.1 0 1,0 -2.2,0M62.53,92.65a1.1,1.1 0 1,0 2.2,0a1.1,1.1 0 1,0 -2.2,0M64.75,88.73a1.1,1.1 0 1,0 2.2,0a1.1,1.1 0 1,0 -2.2,0M66.96,85.51a1.1,1.1 0 1,0 2.2,0a1.1,1.1 0 1,0 -2.2,0M69.17,83.04a1.1,1.1 0 1,0 2.2,0a1.1,1.1 0 1,0 -2.2,0M71.39,81.41a1.1,1.1 0 1,0 2.2,0a1.1,1.1 0 1,0 -2.2,0M73.60,80.04a1.1,1.1 0 1,0 2.2,0a1.1,1.1 0 1,0 -2.2,0M75.81,78.90a1.1,1.1 0 1,0 2.2,0a1.1,1.1 0 1,0 -2.2,0M78.03,78.00a1.1,1.1 0 1,0 2.2,0a1.1,1.1 0 1,0 -2.2,0M80.24,77.35a1.1,1.1 0 1,0 2.2,0a1.1,1.1 0 1,0 -2.2,0M82.45,76.86a1.1,1.1 0 1,0 2.2,0a1.1,1.1 0 1,0 -2.2,0M84.67,76.43a1.1,1.1 0 1,0 2.2,0a1.1,1.1 0 1,0 -2.2,0M86.88,76.06a1.1,1.1 0 1,0 2.2,0a1.1,1.1 0 1,0 -2.2,0M89.09,75.73a1.1,1.1 0 1,0 2.2,0a1.1,1.1 0 1,0 -2.2,0M91.31,75.44a1.1,1.1 0 1,0 2.2,0a1.1,1.1 0 1,0 -2.2,0M93.52,75.18a1.1,1.1 0 1,0 2.2,0a1.1,1.1 0 1,0 -2.2,0M95.73,74.94a1.1,1.1 0 1,0 2.2,0a1.1,1.1 0 1,0 -2.2,0M97.95,74.70a1.1,1.1 0 1,0 2.2,0a1.1,1.1 0 1,0 -2.2,0M100.16,74.46a1.1,1.1 0 1,0 2.2,0a1.1,1.1 0 1,0 -2.2,0M102.37,74.23a1.1,1.1 0 1,0 2.2,0a1.1,1.1 0 1,0 -2.2,0M104.59,74.00a1.1,1.1 0 1,0 2.2,0a1.1,1.1 0 1,0 -2.2,0M106.80,73.79a1.1,1.1 0 1,0 2.2,0a1.1,1.1 0 1,0 -2.2,0M109.01,73.59a1.1,1.1 0 1,0 2.2,0a1.1,1.1 0 1,0 -2.2,0M111.23,73.39a1.1,1.1 0 1,0 2.2,0a1.1,1.1 0 1,0 -2.2,0M113.44,73.20a1.1,1.1 0 1,0 2.2,0a1.1,1.1 0 1,0 -2.2,0M115.65,73.02a1.1,1.1 0 1,0 2.2,0a1.1,1.1 0 1,0 -2.2,0M117.87,72.85a1.1,1.1 0 1,0 2.2,0a1.1,1.1 0 1,0 -2.2,0M120.08,72.68a1.1,1.1 0 1,0 2.2,0a1.1,1.1 0 1,0 -2.2,0M122.29,72.51a1.1,1.1 0 1,0 2.2,0a1.1,1.1 0 1,0 -2.2,0M124.51,72.34a1.1,1.1 0 1,0 2.2,0a1.1,1.1 0 1,0 -2.2,0M126.72,72.18a1.1,1.1 0 1,0 2.2,0a1.1,1.1 0 1,0 -2.2,0M128.93,72.02a1.1,1.1 0 1,0 2.2,0a1.1,1.1 0 1,0 -2.2,0M131.15,71.86a1.1,1.1 0 1,0 2.2,0a1.1,1.1 0 1,0 -2.2,0M133.36,71.71a1.1,1.1 0 1,0 2.2,0a1.1,1.1 0 1,0 -2.2,0M135.57,71.55a1.1,1.1 0 1,0 2.2,0a1.1,1.1 0 1,0 -2.2,0M137.79,71.41a1.1,1.1 0 1,0 2.2,0a1.1,1.1 0 1,0 -2.2,0M140.00,71.26a1.1,1.1 0 1,0 2.2,0a1.1,1.1 0 1,0 -2.2,0M142.21,71.12a1.1,1.1 0 1,0 2.2,0a1.1,1.1 0 1,0 -2.2,0M144.43,70.98a1.1,1.1 0 1,0 2.2,0a1.1,1.1 0 1,0 -2.2,0M146.64,70.85a1.1,1.1 0 1,0 2.2,0a1.1,1.1 0 1,0 -2.2,0M148.85,70.72a1.1,1.1 0 1,0 2.2,0a1.1,1.1 0 1,0 -2.2,0M151.07,70.60a1.1,1.1 0 1,0 2.2,0a1.1,1.1 0 1,0 -2.2,0M153.28,70.48a1.1,1.1 0 1,0 2.2,0a1.1,1.1 0 1,0 -2.2,0M155.49,70.36a1.1,1.1 0 1,0 2.2,0a1.1,1.1 0 1,0 -2.2,0M157.71,70.25a1.1,1.1 0 1,0 2.2,0a1.1,1.1 0 1,0 -2.2,0M159.92,70.13a1.1,1.1 0 1,0 2.2,0a1.1,1.1 0 1,0 -2.2,0M162.13,70.03a1.1,1.1 0 1,0 2.2,0a1.1,1.1 0 1,0 -2.2,0M164.35,69.92a1.1,1.1 0 1,0 2.2,0a1.1,1.1 0 1,0 -2.2,0M166.56,69.82a1.1,1.1 0 1,0 2.2,0a1.1,1.1 0 1,0 -2.2,0M168.77,69.72a1.1,1.1 0 1,0 2.2,0a1.1,1.1 0 1,0 -2.2,0M170.99,69.63a1.1,1.1 0 1,0 2.2,0a1.1,1.1 0 1,0 -2.2,0M173.20,69.53a1.1,1.1 0 1,0 2.2,0a1.1,1.1 0 1,0 -2.2,0" fill="#1a1a6a"/>
<path d="M41.50,114.64V115.36M43.71,114.64V115.36M45.93,114.64V115.36M48.14,114.64V115.36M50.35,114.48V115.21M52.57,109.98V111.30M54.78,100.20V102.80M56.99,92.05V95.72M59.21,84.28V88.96M61.42,77.15V82.76M63.63,70.68V77.14M65.85,64.78V72.02M68.06,60.81V68.27M70.27,57.82V65.28M72.49,55.93V63.39M74.70,54.66V62.12M76.91,53.64V61.10M79.13,52.87V60.33M81.34,52.31V59.77M83.55,51.88V59.34M85.77,51.52V58.98M87.98,51.22V58.68M90.19,50.96V58.42M92.41,50.72V58.18M94.62,50.49V57.95M96.83,50.27V57.73M99.05,50.03V57.49M101.26,49.77V57.22M103.47,49.49V56.94M105.69,49.20V56.66M107.90,48.91V56.37M110.11,48.62V56.08M112.33,48.34V55.80M114.54,48.05V55.51M116.75,47.77V55.23M118.97,47.50V54.96M121.18,47.23V54.69M123.39,46.97V54.43M125.61,46.72V54.18M127.82,46.49V53.95M130.03,46.27V53.73M132.25,46.06V53.52M134.46,45.86V53.32M136.67,45.67V53.13M138.89,45.49V52.95M141.10,45.31V52.77M143.31,45.14V52.60M145.53,44.97V52.43M147.74,44.81V52.27M149.95,44.65V52.11M152.17,44.49V51.95M154.38,44.34V51.80M156.59,44.18V51.64M158.81,44.03V51.49M161.02,43.88V51.34M163.23,43.74V51.20M165.45,43.60V51.06M167.66,43.46V50.92M169.87,43.33V50.79M172.09,43.20V50.66M174.30,43.07V50.53" stroke="#f3b4b8" stroke-width="0.8" fill="none"/>
<path d="M40.55,114.64h1.9M40.55,115.36h1.9M42.76,114.64h1.9M42.76,115.36h1.9M44.98,114.64h1.9M44.98,115.36h1.9M47.19,114.64h1.9M47.19,115.36h1.9M49.40,114.48h1.9M49.40,115.21h1.9M51.62,109.98h1.9M51.62,111.30h1.9M53.83,100.20h1.9M53.83,102.80h1.9M56.04,92.05h1.9M56.04,95.72h1.9M58.26,84.28h1.9M58.26,88.96h1.9M60.47,77.15h1.9M60.47,82.76h1.9M62.68,70.68h1.9M62.68,77.14h1.9M64.90,64.78h1.9M64.90,72.02h1.9M67.11,60.81h1.9M67.11,68.27h1.9M69.32,57.82h1.9M69.32,65.28h1.9M71.54,55.93h1.9M71.54,63.39h1.9M73.75,54.66h1.9M73.75,62.12h1.9M75.96,53.64h1.9M75.96,61.10h1.9M78.18,52.87h1.9M78.18,60.33h1.9M80.39,52.31h1.9M80.39,59.77h1.9M82.60,51.88h1.9M82.60,59.34h1.9M84.82,51.52h1.9M84.82,58.98h1.9M87.03,51.22h1.9M87.03,58.68h1.9M89.24,50.96h1.9M89.24,58.42h1.9M91.46,50.72h1.9M91.46,58.18h1.9M93.67,50.49h1.9M93.67,57.95h1.9M95.88,50.27h1.9M95.88,57.73h1.9M98.10,50.03h1.9M98.10,57.49h1.9M100.31,49.77h1.9M100.31,57.22h1.9M102.52,49.49h1.9M102.52,56.94h1.9M104.74,49.20h1.9M104.74,56.66h1.9M106.95,48.91h1.9M106.95,56.37h1.9M109.16,48.62h1.9M109.16,56.08h1.9M111.38,48.34h1.9M111.38,55.80h1.9M113.59,48.05h1.9M113.59,55.51h1.9M115.80,47.77h1.9M115.80,55.23h1.9M118.02,47.50h1.9M118.02,54.96h1.9M120.23,47.23h1.9M120.23,54.69h1.9M122.44,46.97h1.9M122.44,54.43h1.9M124.66,46.72h1.9M124.66,54.18h1.9M126.87,46.49h1.9M126.87,53.95h1.9M129.08,46.27h1.9M129.08,53.73h1.9M131.30,46.06h1.9M131.30,53.52h1.9M133.51,45.86h1.9M133.51,53.32h1.9M135.72,45.67h1.9M135.72,53.13h1.9M137.94,45.49h1.9M137.94,52.95h1.9M140.15,45.31h1.9M140.15,52.77h1.9M142.36,45.14h1.9M142.36,52.60h1.9M144.58,44.97h1.9M144.58,52.43h1.9M146.79,44.81h1.9M146.79,52.27h1.9M149.00,44.65h1.9M149.00,52.11h1.9M151.22,44.49h1.9M151.22,51.95h1.9M153.43,44.34h1.9M153.43,51.80h1.9M155.64,44.18h1.9M155.64,51.64h1.9M157.86,44.03h1.9M157.86,51.49h1.9M160.07,43.88h1.9M160.07,51.34h1.9M162.28,43.74h1.9M162.28,51.20h1.9M164.50,43.60h1.9M164.50,51.06h1.9M166.71,43.46h1.9M166.71,50.92h1.9M168.92,43.33h1.9M168.92,50.79h1.9M171.14,43.20h1.9M171.14,50.66h1.9M173.35,43.07h1.9M173.35,50.53h1.9" stroke="#d87a80" stroke-width="0.8" fill="none"/>
<polyline points="41.50,115.00 42.61,115.00 43.71,115.00 44.82,115.00 45.93,115.00 47.03,115.00 48.14,115.00 49.25,114.96 50.35,114.85 51.46,114.04 52.57,110.64 53.67,105.92 54.78,101.50 55.89,97.72 56.99,93.89 58.10,90.15 59.21,86.62 60.31,83.22 61.42,79.96 62.53,76.87 63.63,73.91 64.74,71.01 65.85,68.40 66.95,66.32 68.06,64.54 69.17,62.93 70.27,61.55 71.38,60.45 72.49,59.66 73.59,58.99 74.70,58.39 75.81,57.85 76.91,57.37 78.02,56.96 79.13,56.60 80.23,56.29 81.34,56.04 82.45,55.82 83.55,55.61 84.66,55.43 85.77,55.25 86.87,55.10 87.98,54.95 89.09,54.81 90.19,54.69 91.30,54.56 92.41,54.45 93.51,54.34 94.62,54.22 95.73,54.11 96.83,54.00 97.94,53.88 99.05,53.76 100.15,53.63 101.26,53.50 102.37,53.36 103.47,53.21 104.58,53.07 105.69,52.93 106.79,52.79 107.90,52.64 109.01,52.50 110.11,52.35 111.22,52.21 112.33,52.07 113.43,51.92 114.54,51.78 115.65,51.64 116.75,51.50 117.86,51.36 118.97,51.23 120.07,51.09 121.18,50.96 122.29,50.83 123.39,50.70 124.50,50.57 125.61,50.45 126.71,50.33 127.82,50.22 128.93,50.11 130.03,50.00 131.14,49.89 132.25,49.79 133.35,49.69 134.46,49.59 135.57,49.50 136.67,49.40 137.78,49.31 138.89,49.22 139.99,49.13 141.10,49.04 142.21,48.96 143.31,48.87 144.42,48.79 145.53,48.70 146.63,48.62 147.74,48.54 148.85,48.46 149.95,48.38 151.06,48.30 152.17,48.22 153.27,48.14 154.38,48.07 155.49,47.99 156.59,47.91 157.70,47.84 158.81,47.76 159.91,47.69 161.02,47.61 162.13,47.54 163.23,47.47 164.34,47.40 165.45,47.33 166.55,47.26 167.66,47.19 168.77,47.12 169.87,47.06 170.98,46.99 172.09,46.93 173.19,46.86 174.30,46.80" fill="none" stroke="#c83038" stroke-width="0.8" stroke-linejoin="round"/>
<path d="M40.40,115.00a1.1,1.1 0 1,0 2.2,0a1.1,1.1 0 1,0 -2.2,0M42.61,115.00a1.1,1.1 0 1,0 2.2,0a1.1,1.1 0 1,0 -2.2,0M44.83,115.00a1.1,1.1 0 1,0 2.2,0a1.1,1.1 0 1,0 -2.2,0M47.04,115.00a1.1,1.1 0 1,0 2.2,0a1.1,1.1 0 1,0 -2.2,0M49.25,114.85a1.1,1.1 0 1,0 2.2,0a1.1,1.1 0 1,0 -2.2,0M51.47,110.64a1.1,1.1 0 1,0 2.2,0a1.1,1.1 0 1,0 -2.2,0M53.68,101.50a1.1,1.1 0 1,0 2.2,0a1.1,1.1 0 1,0 -2.2,0M55.89,93.89a1.1,1.1 0 1,0 2.2,0a1.1,1.1 0 1,0 -2.2,0M58.11,86.62a1.1,1.1 0 1,0 2.2,0a1.1,1.1 0 1,0 -2.2,0M60.32,79.96a1.1,1.1 0 1,0 2.2,0a1.1,1.1 0 1,0 -2.2,0M62.53,73.91a1.1,1.1 0 1,0 2.2,0a1.1,1.1 0 1,0 -2.2,0M64.75,68.40a1.1,1.1 0 1,0 2.2,0a1.1,1.1 0 1,0 -2.2,0M66.96,64.54a1.1,1.1 0 1,0 2.2,0a1.1,1.1 0 1,0 -2.2,0M69.17,61.55a1.1,1.1 0 1,0 2.2,0a1.1,1.1 0 1,0 -2.2,0M71.39,59.66a1.1,1.1 0 1,0 2.2,0a1.1,1.1 0 1,0 -2.2,0M73.60,58.39a1.1,1.1 0 1,0 2.2,0a1.1,1.1 0 1,0 -2.2,0M75.81,57.37a1.1,1.1 0 1,0 2.2,0a1.1,1.1 0 1,0 -2.2,0M78.03,56.60a1.1,1.1 0 1,0 2.2,0a1.1,1.1 0 1,0 -2.2,0M80.24,56.04a1.1,1.1 0 1,0 2.2,0a1.1,1.1 0 1,0 -2.2,0M82.45,55.61a1.1,1.1 0 1,0 2.2,0a1.1,1.1 0 1,0 -2.2,0M84.67,55.25a1.1,1.1 0 1,0 2.2,0a1.1,1.1 0 1,0 -2.2,0M86.88,54.95a1.1,1.1 0 1,0 2.2,0a1.1,1.1 0 1,0 -2.2,0M89.09,54.69a1.1,1.1 0 1,0 2.2,0a1.1,1.1 0 1,0 -2.2,0M91.31,54.45a1.1,1.1 0 1,0 2.2,0a1.1,1.1 0 1,0 -2.2,0M93.52,54.22a1.1,1.1 0 1,0 2.2,0a1.1,1.1 0 1,0 -2.2,0M95.73,54.00a1.1,1.1 0 1,0 2.2,0a1.1,1.1 0 1,0 -2.2,0M97.95,53.76a1.1,1.1 0 1,0 2.2,0a1.1,1.1 0 1,0 -2.2,0M100.16,53.50a1.1,1.1 0 1,0 2.2,0a1.1,1.1 0 1,0 -2.2,0M102.37,53.21a1.1,1.1 0 1,0 2.2,0a1.1,1.1 0 1,0 -2.2,0M104.59,52.93a1.1,1.1 0 1,0 2.2,0a1.1,1.1 0 1,0 -2.2,0M106.80,52.64a1.1,1.1 0 1,0 2.2,0a1.1,1.1 0 1,0 -2.2,0M109.01,52.35a1.1,1.1 0 1,0 2.2,0a1.1,1.1 0 1,0 -2.2,0M111.23,52.07a1.1,1.1 0 1,0 2.2,0a1.1,1.1 0 1,0 -2.2,0M113.44,51.78a1.1,1.1 0 1,0 2.2,0a1.1,1.1 0 1,0 -2.2,0M115.65,51.50a1.1,1.1 0 1,0 2.2,0a1.1,1.1 0 1,0 -2.2,0M117.87,51.23a1.1,1.1 0 1,0 2.2,0a1.1,1.1 0 1,0 -2.2,0M120.08,50.96a1.1,1.1 0 1,0 2.2,0a1.1,1.1 0 1,0 -2.2,0M122.29,50.70a1.1,1.1 0 1,0 2.2,0a1.1,1.1 0 1,0 -2.2,0M124.51,50.45a1.1,1.1 0 1,0 2.2,0a1.1,1.1 0 1,0 -2.2,0M126.72,50.22a1.1,1.1 0 1,0 2.2,0a1.1,1.1 0 1,0 -2.2,0M128.93,50.00a1.1,1.1 0 1,0 2.2,0a1.1,1.1 0 1,0 -2.2,0M131.15,49.79a1.1,1.1 0 1,0 2.2,0a1.1,1.1 0 1,0 -2.2,0M133.36,49.59a1.1,1.1 0 1,0 2.2,0a1.1,1.1 0 1,0 -2.2,0M135.57,49.40a1.1,1.1 0 1,0 2.2,0a1.1,1.1 0 1,0 -2.2,0M137.79,49.22a1.1,1.1 0 1,0 2.2,0a1.1,1.1 0 1,0 -2.2,0M140.00,49.04a1.1,1.1 0 1,0 2.2,0a1.1,1.1 0 1,0 -2.2,0M142.21,48.87a1.1,1.1 0 1,0 2.2,0a1.1,1.1 0 1,0 -2.2,0M144.43,48.70a1.1,1.1 0 1,0 2.2,0a1.1,1.1 0 1,0 -2.2,0M146.64,48.54a1.1,1.1 0 1,0 2.2,0a1.1,1.1 0 1,0 -2.2,0M148.85,48.38a1.1,1.1 0 1,0 2.2,0a1.1,1.1 0 1,0 -2.2,0M151.07,48.22a1.1,1.1 0 1,0 2.2,0a1.1,1.1 0 1,0 -2.2,0M153.28,48.07a1.1,1.1 0 1,0 2.2,0a1.1,1.1 0 1,0 -2.2,0M155.49,47.91a1.1,1.1 0 1,0 2.2,0a1.1,1.1 0 1,0 -2.2,0M157.71,47.76a1.1,1.1 0 1,0 2.2,0a1.1,1.1 0 1,0 -2.2,0M159.92,47.61a1.1,1.1 0 1,0 2.2,0a1.1,1.1 0 1,0 -2.2,0M162.13,47.47a1.1,1.1 0 1,0 2.2,0a1.1,1.1 0 1,0 -2.2,0M164.35,47.33a1.1,1.1 0 1,0 2.2,0a1.1,1.1 0 1,0 -2.2,0M166.56,47.19a1.1,1.1 0 1,0 2.2,0a1.1,1.1 0 1,0 -2.2,0M168.77,47.06a1.1,1.1 0 1,0 2.2,0a1.1,1.1 0 1,0 -2.2,0M170.99,46.93a1.1,1.1 0 1,0 2.2,0a1.1,1.1 0 1,0 -2.2,0M173.20,46.80a1.1,1.1 0 1,0 2.2,0a1.1,1.1 0 1,0 -2.2,0" fill="#a0121a"/>
<line x1="245.40" y1="33.30" x2="245.40" y2="124.80" stroke="#000" stroke-width="1.25"/>
<line x1="242.00" y1="114.50" x2="245.40" y2="114.50" stroke="#333" stroke-width="1.1"/>
<text x="239.00" y="117.00" font-size="7.1" text-anchor="end" fill="#222" textLength="12.75" lengthAdjust="spacingAndGlyphs">0.00</text>
<line x1="242.00" y1="95.10" x2="245.40" y2="95.10" stroke="#333" stroke-width="1.1"/>
<text x="239.00" y="97.60" font-size="7.1" text-anchor="end" fill="#222" textLength="12.75" lengthAdjust="spacingAndGlyphs">0.02</text>
<line x1="242.00" y1="75.70" x2="245.40" y2="75.70" stroke="#333" stroke-width="1.1"/>
<text x="239.00" y="78.20" font-size="7.1" text-anchor="end" fill="#222" textLength="12.75" lengthAdjust="spacingAndGlyphs">0.04</text>
<line x1="242.00" y1="56.30" x2="245.40" y2="56.30" stroke="#333" stroke-width="1.1"/>
<text x="239.00" y="58.80" font-size="7.1" text-anchor="end" fill="#222" textLength="12.75" lengthAdjust="spacingAndGlyphs">0.06</text>
<line x1="242.00" y1="36.90" x2="245.40" y2="36.90" stroke="#333" stroke-width="1.1"/>
<text x="239.00" y="39.40" font-size="7.1" text-anchor="end" fill="#222" textLength="12.75" lengthAdjust="spacingAndGlyphs">0.08</text>
<line x1="245.40" y1="114.50" x2="381.40" y2="114.50" stroke="#000" stroke-width="1.2"/>
<line x1="245.40" y1="114.50" x2="245.40" y2="117.70" stroke="#111" stroke-width="1"/>
<line x1="249.83" y1="114.50" x2="249.83" y2="116.10" stroke="#222" stroke-width="0.8"/>
<line x1="254.27" y1="114.50" x2="254.27" y2="116.10" stroke="#222" stroke-width="0.8"/>
<line x1="258.70" y1="114.50" x2="258.70" y2="116.10" stroke="#222" stroke-width="0.8"/>
<line x1="263.13" y1="114.50" x2="263.13" y2="116.10" stroke="#222" stroke-width="0.8"/>
<line x1="267.57" y1="114.50" x2="267.57" y2="116.10" stroke="#222" stroke-width="0.8"/>
<line x1="272.00" y1="114.50" x2="272.00" y2="116.10" stroke="#222" stroke-width="0.8"/>
<line x1="276.43" y1="114.50" x2="276.43" y2="116.10" stroke="#222" stroke-width="0.8"/>
<line x1="280.87" y1="114.50" x2="280.87" y2="116.10" stroke="#222" stroke-width="0.8"/>
<line x1="285.30" y1="114.50" x2="285.30" y2="116.10" stroke="#222" stroke-width="0.8"/>
<line x1="289.73" y1="114.50" x2="289.73" y2="117.70" stroke="#111" stroke-width="1"/>
<text x="289.73" y="126.50" font-size="7.1" text-anchor="middle" fill="#222">10</text>
<line x1="294.17" y1="114.50" x2="294.17" y2="116.10" stroke="#222" stroke-width="0.8"/>
<line x1="298.60" y1="114.50" x2="298.60" y2="116.10" stroke="#222" stroke-width="0.8"/>
<line x1="303.03" y1="114.50" x2="303.03" y2="116.10" stroke="#222" stroke-width="0.8"/>
<line x1="307.47" y1="114.50" x2="307.47" y2="116.10" stroke="#222" stroke-width="0.8"/>
<line x1="311.90" y1="114.50" x2="311.90" y2="116.10" stroke="#222" stroke-width="0.8"/>
<line x1="316.33" y1="114.50" x2="316.33" y2="116.10" stroke="#222" stroke-width="0.8"/>
<line x1="320.77" y1="114.50" x2="320.77" y2="116.10" stroke="#222" stroke-width="0.8"/>
<line x1="325.20" y1="114.50" x2="325.20" y2="116.10" stroke="#222" stroke-width="0.8"/>
<line x1="329.63" y1="114.50" x2="329.63" y2="116.10" stroke="#222" stroke-width="0.8"/>
<line x1="334.07" y1="114.50" x2="334.07" y2="117.70" stroke="#111" stroke-width="1"/>
<text x="334.07" y="126.50" font-size="7.1" text-anchor="middle" fill="#222">20</text>
<line x1="338.50" y1="114.50" x2="338.50" y2="116.10" stroke="#222" stroke-width="0.8"/>
<line x1="342.93" y1="114.50" x2="342.93" y2="116.10" stroke="#222" stroke-width="0.8"/>
<line x1="347.37" y1="114.50" x2="347.37" y2="116.10" stroke="#222" stroke-width="0.8"/>
<line x1="351.80" y1="114.50" x2="351.80" y2="116.10" stroke="#222" stroke-width="0.8"/>
<line x1="356.23" y1="114.50" x2="356.23" y2="116.10" stroke="#222" stroke-width="0.8"/>
<line x1="360.67" y1="114.50" x2="360.67" y2="116.10" stroke="#222" stroke-width="0.8"/>
<line x1="365.10" y1="114.50" x2="365.10" y2="116.10" stroke="#222" stroke-width="0.8"/>
<line x1="369.53" y1="114.50" x2="369.53" y2="116.10" stroke="#222" stroke-width="0.8"/>
<line x1="373.97" y1="114.50" x2="373.97" y2="116.10" stroke="#222" stroke-width="0.8"/>
<line x1="378.40" y1="114.50" x2="378.40" y2="117.70" stroke="#111" stroke-width="1"/>
<text x="378.40" y="126.50" font-size="7.1" text-anchor="middle" fill="#222">30</text>
<text class="bt" x="313.50" y="137.80" font-size="7.8" text-anchor="middle" fill="#222" textLength="33.2" lengthAdjust="spacingAndGlyphs">Time (min)</text>
<text class="bt" transform="translate(219.00,111.30) rotate(-90)" font-size="8.9" fill="#222" textLength="49.6" lengthAdjust="spacingAndGlyphs">Fibrin formation</text>
<text class="bt" transform="translate(219.00,60.38) rotate(-90)" font-size="8.9" fill="#222" textLength="24.2" lengthAdjust="spacingAndGlyphs">(OD<tspan font-size="5.9" dy="1.5">405</tspan><tspan dy="-1.5">)</tspan></text>
<text transform="translate(211.4,16.6) scale(0.87,1)" font-size="12" font-weight="bold" fill="#000" style="stroke:#000;stroke-width:0.35px">B</text>
<polyline points="245.40,114.50 246.51,114.49 247.62,114.46 248.72,114.42 249.83,114.36 250.94,114.29 252.05,114.20 253.16,114.11 254.27,114.02 255.38,113.85 256.48,113.59 257.59,113.28 258.70,112.97 259.81,112.71 260.92,112.56 262.02,112.48 263.13,112.41 264.24,112.34 265.35,112.29 266.46,112.24 267.57,112.20 268.68,112.16 269.78,112.13 270.89,112.10 272.00,112.08 273.11,112.05 274.22,112.03 275.32,112.01 276.43,111.98 277.54,111.96 278.65,111.94 279.76,111.92 280.87,111.90 281.98,111.88 283.08,111.86 284.19,111.84 285.30,111.82 286.41,111.81 287.52,111.79 288.62,111.77 289.73,111.76 290.84,111.74 291.95,111.73 293.06,111.71 294.17,111.70 295.27,111.69 296.38,111.67 297.49,111.66 298.60,111.65 299.71,111.64 300.82,111.63 301.93,111.63 303.03,111.62 304.14,111.61 305.25,111.61 306.36,111.60 307.47,111.60 308.57,111.59 309.68,111.59 310.79,111.59 311.90,111.59 313.01,111.59 314.12,111.59 315.23,111.59 316.33,111.59 317.44,111.59 318.55,111.59 319.66,111.59 320.77,111.59 321.88,111.59 322.98,111.59 324.09,111.59 325.20,111.59 326.31,111.59 327.42,111.59 328.52,111.59 329.63,111.59 330.74,111.59 331.85,111.59 332.96,111.59 334.07,111.59 335.18,111.59 336.28,111.59 337.39,111.59 338.50,111.59 339.61,111.59 340.72,111.59 341.82,111.59 342.93,111.59 344.04,111.59 345.15,111.59 346.26,111.59 347.37,111.59 348.48,111.59 349.58,111.59 350.69,111.59 351.80,111.59 352.91,111.59 354.02,111.59 355.12,111.59 356.23,111.59 357.34,111.59 358.45,111.59 359.56,111.59 360.67,111.59 361.77,111.59 362.88,111.59 363.99,111.59 365.10,111.59 366.21,111.59 367.32,111.59 368.42,111.59 369.53,111.59 370.64,111.59 371.75,111.59 372.86,111.59 373.97,111.59 375.07,111.59 376.18,111.59 377.29,111.59 378.40,111.59" fill="none" stroke="#8484b8" stroke-width="1.3" stroke-linejoin="round"/>
<path d="M244.70,114.50a0.7,0.7 0 1,0 1.4,0a0.7,0.7 0 1,0 -1.4,0M246.92,114.46a0.7,0.7 0 1,0 1.4,0a0.7,0.7 0 1,0 -1.4,0M249.13,114.36a0.7,0.7 0 1,0 1.4,0a0.7,0.7 0 1,0 -1.4,0M251.35,114.20a0.7,0.7 0 1,0 1.4,0a0.7,0.7 0 1,0 -1.4,0M253.57,114.02a0.7,0.7 0 1,0 1.4,0a0.7,0.7 0 1,0 -1.4,0M255.78,113.59a0.7,0.7 0 1,0 1.4,0a0.7,0.7 0 1,0 -1.4,0M258.00,112.97a0.7,0.7 0 1,0 1.4,0a0.7,0.7 0 1,0 -1.4,0M260.22,112.56a0.7,0.7 0 1,0 1.4,0a0.7,0.7 0 1,0 -1.4,0M262.43,112.41a0.7,0.7 0 1,0 1.4,0a0.7,0.7 0 1,0 -1.4,0M264.65,112.29a0.7,0.7 0 1,0 1.4,0a0.7,0.7 0 1,0 -1.4,0M266.87,112.20a0.7,0.7 0 1,0 1.4,0a0.7,0.7 0 1,0 -1.4,0M269.08,112.13a0.7,0.7 0 1,0 1.4,0a0.7,0.7 0 1,0 -1.4,0M271.30,112.08a0.7,0.7 0 1,0 1.4,0a0.7,0.7 0 1,0 -1.4,0M273.52,112.03a0.7,0.7 0 1,0 1.4,0a0.7,0.7 0 1,0 -1.4,0M275.73,111.98a0.7,0.7 0 1,0 1.4,0a0.7,0.7 0 1,0 -1.4,0M277.95,111.94a0.7,0.7 0 1,0 1.4,0a0.7,0.7 0 1,0 -1.4,0M280.17,111.90a0.7,0.7 0 1,0 1.4,0a0.7,0.7 0 1,0 -1.4,0M282.38,111.86a0.7,0.7 0 1,0 1.4,0a0.7,0.7 0 1,0 -1.4,0M284.60,111.82a0.7,0.7 0 1,0 1.4,0a0.7,0.7 0 1,0 -1.4,0M286.82,111.79a0.7,0.7 0 1,0 1.4,0a0.7,0.7 0 1,0 -1.4,0M289.03,111.76a0.7,0.7 0 1,0 1.4,0a0.7,0.7 0 1,0 -1.4,0M291.25,111.73a0.7,0.7 0 1,0 1.4,0a0.7,0.7 0 1,0 -1.4,0M293.47,111.70a0.7,0.7 0 1,0 1.4,0a0.7,0.7 0 1,0 -1.4,0M295.68,111.67a0.7,0.7 0 1,0 1.4,0a0.7,0.7 0 1,0 -1.4,0M297.90,111.65a0.7,0.7 0 1,0 1.4,0a0.7,0.7 0 1,0 -1.4,0M300.12,111.63a0.7,0.7 0 1,0 1.4,0a0.7,0.7 0 1,0 -1.4,0M302.33,111.62a0.7,0.7 0 1,0 1.4,0a0.7,0.7 0 1,0 -1.4,0M304.55,111.61a0.7,0.7 0 1,0 1.4,0a0.7,0.7 0 1,0 -1.4,0M306.77,111.60a0.7,0.7 0 1,0 1.4,0a0.7,0.7 0 1,0 -1.4,0M308.98,111.59a0.7,0.7 0 1,0 1.4,0a0.7,0.7 0 1,0 -1.4,0M311.20,111.59a0.7,0.7 0 1,0 1.4,0a0.7,0.7 0 1,0 -1.4,0M313.42,111.59a0.7,0.7 0 1,0 1.4,0a0.7,0.7 0 1,0 -1.4,0M315.63,111.59a0.7,0.7 0 1,0 1.4,0a0.7,0.7 0 1,0 -1.4,0M317.85,111.59a0.7,0.7 0 1,0 1.4,0a0.7,0.7 0 1,0 -1.4,0M320.07,111.59a0.7,0.7 0 1,0 1.4,0a0.7,0.7 0 1,0 -1.4,0M322.28,111.59a0.7,0.7 0 1,0 1.4,0a0.7,0.7 0 1,0 -1.4,0M324.50,111.59a0.7,0.7 0 1,0 1.4,0a0.7,0.7 0 1,0 -1.4,0M326.72,111.59a0.7,0.7 0 1,0 1.4,0a0.7,0.7 0 1,0 -1.4,0M328.93,111.59a0.7,0.7 0 1,0 1.4,0a0.7,0.7 0 1,0 -1.4,0M331.15,111.59a0.7,0.7 0 1,0 1.4,0a0.7,0.7 0 1,0 -1.4,0M333.37,111.59a0.7,0.7 0 1,0 1.4,0a0.7,0.7 0 1,0 -1.4,0M335.58,111.59a0.7,0.7 0 1,0 1.4,0a0.7,0.7 0 1,0 -1.4,0M337.80,111.59a0.7,0.7 0 1,0 1.4,0a0.7,0.7 0 1,0 -1.4,0M340.02,111.59a0.7,0.7 0 1,0 1.4,0a0.7,0.7 0 1,0 -1.4,0M342.23,111.59a0.7,0.7 0 1,0 1.4,0a0.7,0.7 0 1,0 -1.4,0M344.45,111.59a0.7,0.7 0 1,0 1.4,0a0.7,0.7 0 1,0 -1.4,0M346.67,111.59a0.7,0.7 0 1,0 1.4,0a0.7,0.7 0 1,0 -1.4,0M348.88,111.59a0.7,0.7 0 1,0 1.4,0a0.7,0.7 0 1,0 -1.4,0M351.10,111.59a0.7,0.7 0 1,0 1.4,0a0.7,0.7 0 1,0 -1.4,0M353.32,111.59a0.7,0.7 0 1,0 1.4,0a0.7,0.7 0 1,0 -1.4,0M355.53,111.59a0.7,0.7 0 1,0 1.4,0a0.7,0.7 0 1,0 -1.4,0M357.75,111.59a0.7,0.7 0 1,0 1.4,0a0.7,0.7 0 1,0 -1.4,0M359.97,111.59a0.7,0.7 0 1,0 1.4,0a0.7,0.7 0 1,0 -1.4,0M362.18,111.59a0.7,0.7 0 1,0 1.4,0a0.7,0.7 0 1,0 -1.4,0M364.40,111.59a0.7,0.7 0 1,0 1.4,0a0.7,0.7 0 1,0 -1.4,0M366.62,111.59a0.7,0.7 0 1,0 1.4,0a0.7,0.7 0 1,0 -1.4,0M368.83,111.59a0.7,0.7 0 1,0 1.4,0a0.7,0.7 0 1,0 -1.4,0M371.05,111.59a0.7,0.7 0 1,0 1.4,0a0.7,0.7 0 1,0 -1.4,0M373.27,111.59a0.7,0.7 0 1,0 1.4,0a0.7,0.7 0 1,0 -1.4,0M375.48,111.59a0.7,0.7 0 1,0 1.4,0a0.7,0.7 0 1,0 -1.4,0M377.70,111.59a0.7,0.7 0 1,0 1.4,0a0.7,0.7 0 1,0 -1.4,0" fill="#8484b8"/>
<polyline points="245.40,115.18 246.51,115.17 247.62,115.17 248.72,115.17 249.83,115.16 250.94,115.16 252.05,115.15 253.16,115.15 254.27,115.15 255.38,115.14 256.48,115.14 257.59,115.13 258.70,115.13 259.81,115.13 260.92,115.12 262.02,115.12 263.13,115.11 264.24,115.11 265.35,115.11 266.46,115.10 267.57,115.10 268.68,115.09 269.78,115.09 270.89,115.09 272.00,115.08 273.11,115.08 274.22,115.07 275.32,115.07 276.43,115.07 277.54,115.06 278.65,115.06 279.76,115.05 280.87,115.05 281.98,115.05 283.08,115.04 284.19,115.04 285.30,115.03 286.41,115.03 287.52,115.03 288.62,115.02 289.73,115.02 290.84,115.01 291.95,115.01 293.06,115.01 294.17,115.00 295.27,115.00 296.38,114.99 297.49,114.99 298.60,114.98 299.71,114.98 300.82,114.98 301.93,114.97 303.03,114.97 304.14,114.96 305.25,114.96 306.36,114.96 307.47,114.95 308.57,114.95 309.68,114.94 310.79,114.94 311.90,114.94 313.01,114.93 314.12,114.93 315.23,114.92 316.33,114.92 317.44,114.92 318.55,114.91 319.66,114.91 320.77,114.90 321.88,114.90 322.98,114.90 324.09,114.89 325.20,114.89 326.31,114.88 327.42,114.88 328.52,114.88 329.63,114.87 330.74,114.87 331.85,114.86 332.96,114.86 334.07,114.86 335.18,114.85 336.28,114.85 337.39,114.84 338.50,114.84 339.61,114.84 340.72,114.83 341.82,114.83 342.93,114.82 344.04,114.82 345.15,114.82 346.26,114.81 347.37,114.81 348.48,114.80 349.58,114.80 350.69,114.80 351.80,114.79 352.91,114.79 354.02,114.78 355.12,114.78 356.23,114.77 357.34,114.77 358.45,114.77 359.56,114.76 360.67,114.76 361.77,114.75 362.88,114.75 363.99,114.75 365.10,114.74 366.21,114.74 367.32,114.73 368.42,114.73 369.53,114.73 370.64,114.72 371.75,114.72 372.86,114.71 373.97,114.71 375.07,114.71 376.18,114.70 377.29,114.70 378.40,114.69" fill="none" stroke="#b8dca8" stroke-width="3.4" stroke-linejoin="round"/>
<polyline points="245.40,115.18 246.51,115.17 247.62,115.17 248.72,115.17 249.83,115.16 250.94,115.16 252.05,115.15 253.16,115.15 254.27,115.15 255.38,115.14 256.48,115.14 257.59,115.13 258.70,115.13 259.81,115.13 260.92,115.12 262.02,115.12 263.13,115.11 264.24,115.11 265.35,115.11 266.46,115.10 267.57,115.10 268.68,115.09 269.78,115.09 270.89,115.09 272.00,115.08 273.11,115.08 274.22,115.07 275.32,115.07 276.43,115.07 277.54,115.06 278.65,115.06 279.76,115.05 280.87,115.05 281.98,115.05 283.08,115.04 284.19,115.04 285.30,115.03 286.41,115.03 287.52,115.03 288.62,115.02 289.73,115.02 290.84,115.01 291.95,115.01 293.06,115.01 294.17,115.00 295.27,115.00 296.38,114.99 297.49,114.99 298.60,114.98 299.71,114.98 300.82,114.98 301.93,114.97 303.03,114.97 304.14,114.96 305.25,114.96 306.36,114.96 307.47,114.95 308.57,114.95 309.68,114.94 310.79,114.94 311.90,114.94 313.01,114.93 314.12,114.93 315.23,114.92 316.33,114.92 317.44,114.92 318.55,114.91 319.66,114.91 320.77,114.90 321.88,114.90 322.98,114.90 324.09,114.89 325.20,114.89 326.31,114.88 327.42,114.88 328.52,114.88 329.63,114.87 330.74,114.87 331.85,114.86 332.96,114.86 334.07,114.86 335.18,114.85 336.28,114.85 337.39,114.84 338.50,114.84 339.61,114.84 340.72,114.83 341.82,114.83 342.93,114.82 344.04,114.82 345.15,114.82 346.26,114.81 347.37,114.81 348.48,114.80 349.58,114.80 350.69,114.80 351.80,114.79 352.91,114.79 354.02,114.78 355.12,114.78 356.23,114.77 357.34,114.77 358.45,114.77 359.56,114.76 360.67,114.76 361.77,114.75 362.88,114.75 363.99,114.75 365.10,114.74 366.21,114.74 367.32,114.73 368.42,114.73 369.53,114.73 370.64,114.72 371.75,114.72 372.86,114.71 373.97,114.71 375.07,114.71 376.18,114.70 377.29,114.70 378.40,114.69" fill="none" stroke="#4a9030" stroke-width="2.6" stroke-linejoin="round"/>
<path d="M245.40,113.05V115.95M247.62,112.91V115.87M249.83,112.52V115.61M252.05,111.88V115.18M254.27,109.06V113.30M256.48,103.13V109.35M258.70,93.20V102.72M260.92,79.80V93.79M263.13,66.97V85.24M265.35,56.35V77.69M267.57,51.39V72.73M269.78,50.34V71.68M272.00,52.09V73.43M274.22,57.27V78.61M276.43,62.97V82.57M278.65,68.87V86.51M280.87,74.52V90.27M283.08,80.02V93.94M285.30,84.83V97.15M287.52,88.99V99.92M289.73,92.61V102.33M291.95,95.84V104.48M294.17,98.92V106.54M296.38,101.45V108.22M298.60,103.04V109.29M300.82,104.15V110.02M303.03,105.05V110.62M305.25,105.70V111.06M307.47,106.06V111.30M309.68,106.25V111.42M311.90,106.41V111.53M314.12,106.55V111.62M316.33,106.67V111.71M318.55,106.78V111.78M320.77,106.87V111.84M322.98,106.95V111.89M325.20,107.02V111.94M327.42,107.07V111.97M329.63,107.13V112.01M331.85,107.18V112.04M334.07,107.22V112.08M336.28,107.27V112.11M338.50,107.32V112.14M340.72,107.36V112.17M342.93,107.41V112.20M345.15,107.45V112.22M347.37,107.49V112.25M349.58,107.53V112.28M351.80,107.56V112.30M354.02,107.60V112.33M356.23,107.63V112.35M358.45,107.66V112.37M360.67,107.69V112.39M362.88,107.72V112.40M365.10,107.74V112.42M367.32,107.76V112.43M369.53,107.78V112.44M371.75,107.79V112.45M373.97,107.80V112.46M376.18,107.81V112.46M378.40,107.81V112.46" stroke="#f6cf98" stroke-width="0.8" fill="none"/>
<path d="M244.45,113.05h1.9M244.45,115.95h1.9M246.67,112.91h1.9M246.67,115.87h1.9M248.88,112.52h1.9M248.88,115.61h1.9M251.10,111.88h1.9M251.10,115.18h1.9M253.32,109.06h1.9M253.32,113.30h1.9M255.53,103.13h1.9M255.53,109.35h1.9M257.75,93.20h1.9M257.75,102.72h1.9M259.97,79.80h1.9M259.97,93.79h1.9M262.18,66.97h1.9M262.18,85.24h1.9M264.40,56.35h1.9M264.40,77.69h1.9M266.62,51.39h1.9M266.62,72.73h1.9M268.83,50.34h1.9M268.83,71.68h1.9M271.05,52.09h1.9M271.05,73.43h1.9M273.27,57.27h1.9M273.27,78.61h1.9M275.48,62.97h1.9M275.48,82.57h1.9M277.70,68.87h1.9M277.70,86.51h1.9M279.92,74.52h1.9M279.92,90.27h1.9M282.13,80.02h1.9M282.13,93.94h1.9M284.35,84.83h1.9M284.35,97.15h1.9M286.57,88.99h1.9M286.57,99.92h1.9M288.78,92.61h1.9M288.78,102.33h1.9M291.00,95.84h1.9M291.00,104.48h1.9M293.22,98.92h1.9M293.22,106.54h1.9M295.43,101.45h1.9M295.43,108.22h1.9M297.65,103.04h1.9M297.65,109.29h1.9M299.87,104.15h1.9M299.87,110.02h1.9M302.08,105.05h1.9M302.08,110.62h1.9M304.30,105.70h1.9M304.30,111.06h1.9M306.52,106.06h1.9M306.52,111.30h1.9M308.73,106.25h1.9M308.73,111.42h1.9M310.95,106.41h1.9M310.95,111.53h1.9M313.17,106.55h1.9M313.17,111.62h1.9M315.38,106.67h1.9M315.38,111.71h1.9M317.60,106.78h1.9M317.60,111.78h1.9M319.82,106.87h1.9M319.82,111.84h1.9M322.03,106.95h1.9M322.03,111.89h1.9M324.25,107.02h1.9M324.25,111.94h1.9M326.47,107.07h1.9M326.47,111.97h1.9M328.68,107.13h1.9M328.68,112.01h1.9M330.90,107.18h1.9M330.90,112.04h1.9M333.12,107.22h1.9M333.12,112.08h1.9M335.33,107.27h1.9M335.33,112.11h1.9M337.55,107.32h1.9M337.55,112.14h1.9M339.77,107.36h1.9M339.77,112.17h1.9M341.98,107.41h1.9M341.98,112.20h1.9M344.20,107.45h1.9M344.20,112.22h1.9M346.42,107.49h1.9M346.42,112.25h1.9M348.63,107.53h1.9M348.63,112.28h1.9M350.85,107.56h1.9M350.85,112.30h1.9M353.07,107.60h1.9M353.07,112.33h1.9M355.28,107.63h1.9M355.28,112.35h1.9M357.50,107.66h1.9M357.50,112.37h1.9M359.72,107.69h1.9M359.72,112.39h1.9M361.93,107.72h1.9M361.93,112.40h1.9M364.15,107.74h1.9M364.15,112.42h1.9M366.37,107.76h1.9M366.37,112.43h1.9M368.58,107.78h1.9M368.58,112.44h1.9M370.80,107.79h1.9M370.80,112.45h1.9M373.02,107.80h1.9M373.02,112.46h1.9M375.23,107.81h1.9M375.23,112.46h1.9M377.45,107.81h1.9M377.45,112.46h1.9" stroke="#e8b070" stroke-width="0.8" fill="none"/>
<polyline points="245.40,114.50 246.51,114.47 247.62,114.39 248.72,114.26 249.83,114.07 250.94,113.82 252.05,113.53 253.16,112.72 254.27,111.18 255.38,109.22 256.48,106.24 257.59,102.30 258.70,97.96 259.81,92.74 260.92,86.80 262.02,81.04 263.13,76.10 264.24,71.27 265.35,67.02 266.46,64.06 267.57,62.06 268.68,60.90 269.78,61.01 270.89,61.51 272.00,62.76 273.11,65.29 274.22,67.94 275.32,70.32 276.43,72.77 277.54,75.25 278.65,77.69 279.76,80.05 280.87,82.39 281.98,84.72 283.08,86.98 284.19,89.08 285.30,90.99 286.41,92.78 287.52,94.46 288.62,96.02 289.73,97.47 290.84,98.81 291.95,100.16 293.06,101.48 294.17,102.73 295.27,103.86 296.38,104.84 297.49,105.61 298.60,106.16 299.71,106.64 300.82,107.08 301.93,107.48 303.03,107.84 304.14,108.14 305.25,108.38 306.36,108.56 307.47,108.68 308.57,108.76 309.68,108.83 310.79,108.90 311.90,108.97 313.01,109.03 314.12,109.09 315.23,109.14 316.33,109.19 317.44,109.23 318.55,109.28 319.66,109.32 320.77,109.35 321.88,109.39 322.98,109.42 324.09,109.45 325.20,109.48 326.31,109.50 327.42,109.52 328.52,109.55 329.63,109.57 330.74,109.59 331.85,109.61 332.96,109.63 334.07,109.65 335.18,109.67 336.28,109.69 337.39,109.71 338.50,109.73 339.61,109.75 340.72,109.76 341.82,109.78 342.93,109.80 344.04,109.82 345.15,109.84 346.26,109.85 347.37,109.87 348.48,109.89 349.58,109.90 350.69,109.92 351.80,109.93 352.91,109.95 354.02,109.96 355.12,109.98 356.23,109.99 357.34,110.00 358.45,110.02 359.56,110.03 360.67,110.04 361.77,110.05 362.88,110.06 363.99,110.07 365.10,110.08 366.21,110.09 367.32,110.10 368.42,110.10 369.53,110.11 370.64,110.12 371.75,110.12 372.86,110.12 373.97,110.13 375.07,110.13 376.18,110.13 377.29,110.13 378.40,110.14" fill="none" stroke="#f8dcb0" stroke-width="2.6" stroke-linejoin="round"/>
<polyline points="245.40,114.50 246.51,114.47 247.62,114.39 248.72,114.26 249.83,114.07 250.94,113.82 252.05,113.53 253.16,112.72 254.27,111.18 255.38,109.22 256.48,106.24 257.59,102.30 258.70,97.96 259.81,92.74 260.92,86.80 262.02,81.04 263.13,76.10 264.24,71.27 265.35,67.02 266.46,64.06 267.57,62.06 268.68,60.90 269.78,61.01 270.89,61.51 272.00,62.76 273.11,65.29 274.22,67.94 275.32,70.32 276.43,72.77 277.54,75.25 278.65,77.69 279.76,80.05 280.87,82.39 281.98,84.72 283.08,86.98 284.19,89.08 285.30,90.99 286.41,92.78 287.52,94.46 288.62,96.02 289.73,97.47 290.84,98.81 291.95,100.16 293.06,101.48 294.17,102.73 295.27,103.86 296.38,104.84 297.49,105.61 298.60,106.16 299.71,106.64 300.82,107.08 301.93,107.48 303.03,107.84 304.14,108.14 305.25,108.38 306.36,108.56 307.47,108.68 308.57,108.76 309.68,108.83 310.79,108.90 311.90,108.97 313.01,109.03 314.12,109.09 315.23,109.14 316.33,109.19 317.44,109.23 318.55,109.28 319.66,109.32 320.77,109.35 321.88,109.39 322.98,109.42 324.09,109.45 325.20,109.48 326.31,109.50 327.42,109.52 328.52,109.55 329.63,109.57 330.74,109.59 331.85,109.61 332.96,109.63 334.07,109.65 335.18,109.67 336.28,109.69 337.39,109.71 338.50,109.73 339.61,109.75 340.72,109.76 341.82,109.78 342.93,109.80 344.04,109.82 345.15,109.84 346.26,109.85 347.37,109.87 348.48,109.89 349.58,109.90 350.69,109.92 351.80,109.93 352.91,109.95 354.02,109.96 355.12,109.98 356.23,109.99 357.34,110.00 358.45,110.02 359.56,110.03 360.67,110.04 361.77,110.05 362.88,110.06 363.99,110.07 365.10,110.08 366.21,110.09 367.32,110.10 368.42,110.10 369.53,110.11 370.64,110.12 371.75,110.12 372.86,110.12 373.97,110.13 375.07,110.13 376.18,110.13 377.29,110.13 378.40,110.14" fill="none" stroke="#f0b060" stroke-width="0.8" stroke-linejoin="round"/>
<path d="M244.30,114.50a1.1,1.1 0 1,0 2.2,0a1.1,1.1 0 1,0 -2.2,0M246.52,114.39a1.1,1.1 0 1,0 2.2,0a1.1,1.1 0 1,0 -2.2,0M248.73,114.07a1.1,1.1 0 1,0 2.2,0a1.1,1.1 0 1,0 -2.2,0M250.95,113.53a1.1,1.1 0 1,0 2.2,0a1.1,1.1 0 1,0 -2.2,0M253.17,111.18a1.1,1.1 0 1,0 2.2,0a1.1,1.1 0 1,0 -2.2,0M255.38,106.24a1.1,1.1 0 1,0 2.2,0a1.1,1.1 0 1,0 -2.2,0M257.60,97.96a1.1,1.1 0 1,0 2.2,0a1.1,1.1 0 1,0 -2.2,0M259.82,86.80a1.1,1.1 0 1,0 2.2,0a1.1,1.1 0 1,0 -2.2,0M262.03,76.10a1.1,1.1 0 1,0 2.2,0a1.1,1.1 0 1,0 -2.2,0M264.25,67.02a1.1,1.1 0 1,0 2.2,0a1.1,1.1 0 1,0 -2.2,0M266.47,62.06a1.1,1.1 0 1,0 2.2,0a1.1,1.1 0 1,0 -2.2,0M268.68,61.01a1.1,1.1 0 1,0 2.2,0a1.1,1.1 0 1,0 -2.2,0M270.90,62.76a1.1,1.1 0 1,0 2.2,0a1.1,1.1 0 1,0 -2.2,0M273.12,67.94a1.1,1.1 0 1,0 2.2,0a1.1,1.1 0 1,0 -2.2,0M275.33,72.77a1.1,1.1 0 1,0 2.2,0a1.1,1.1 0 1,0 -2.2,0M277.55,77.69a1.1,1.1 0 1,0 2.2,0a1.1,1.1 0 1,0 -2.2,0M279.77,82.39a1.1,1.1 0 1,0 2.2,0a1.1,1.1 0 1,0 -2.2,0M281.98,86.98a1.1,1.1 0 1,0 2.2,0a1.1,1.1 0 1,0 -2.2,0M284.20,90.99a1.1,1.1 0 1,0 2.2,0a1.1,1.1 0 1,0 -2.2,0M286.42,94.46a1.1,1.1 0 1,0 2.2,0a1.1,1.1 0 1,0 -2.2,0M288.63,97.47a1.1,1.1 0 1,0 2.2,0a1.1,1.1 0 1,0 -2.2,0M290.85,100.16a1.1,1.1 0 1,0 2.2,0a1.1,1.1 0 1,0 -2.2,0M293.07,102.73a1.1,1.1 0 1,0 2.2,0a1.1,1.1 0 1,0 -2.2,0M295.28,104.84a1.1,1.1 0 1,0 2.2,0a1.1,1.1 0 1,0 -2.2,0M297.50,106.16a1.1,1.1 0 1,0 2.2,0a1.1,1.1 0 1,0 -2.2,0M299.72,107.08a1.1,1.1 0 1,0 2.2,0a1.1,1.1 0 1,0 -2.2,0M301.93,107.84a1.1,1.1 0 1,0 2.2,0a1.1,1.1 0 1,0 -2.2,0M304.15,108.38a1.1,1.1 0 1,0 2.2,0a1.1,1.1 0 1,0 -2.2,0M306.37,108.68a1.1,1.1 0 1,0 2.2,0a1.1,1.1 0 1,0 -2.2,0M308.58,108.83a1.1,1.1 0 1,0 2.2,0a1.1,1.1 0 1,0 -2.2,0M310.80,108.97a1.1,1.1 0 1,0 2.2,0a1.1,1.1 0 1,0 -2.2,0M313.02,109.09a1.1,1.1 0 1,0 2.2,0a1.1,1.1 0 1,0 -2.2,0M315.23,109.19a1.1,1.1 0 1,0 2.2,0a1.1,1.1 0 1,0 -2.2,0M317.45,109.28a1.1,1.1 0 1,0 2.2,0a1.1,1.1 0 1,0 -2.2,0M319.67,109.35a1.1,1.1 0 1,0 2.2,0a1.1,1.1 0 1,0 -2.2,0M321.88,109.42a1.1,1.1 0 1,0 2.2,0a1.1,1.1 0 1,0 -2.2,0M324.10,109.48a1.1,1.1 0 1,0 2.2,0a1.1,1.1 0 1,0 -2.2,0M326.32,109.52a1.1,1.1 0 1,0 2.2,0a1.1,1.1 0 1,0 -2.2,0M328.53,109.57a1.1,1.1 0 1,0 2.2,0a1.1,1.1 0 1,0 -2.2,0M330.75,109.61a1.1,1.1 0 1,0 2.2,0a1.1,1.1 0 1,0 -2.2,0M332.97,109.65a1.1,1.1 0 1,0 2.2,0a1.1,1.1 0 1,0 -2.2,0M335.18,109.69a1.1,1.1 0 1,0 2.2,0a1.1,1.1 0 1,0 -2.2,0M337.40,109.73a1.1,1.1 0 1,0 2.2,0a1.1,1.1 0 1,0 -2.2,0M339.62,109.76a1.1,1.1 0 1,0 2.2,0a1.1,1.1 0 1,0 -2.2,0M341.83,109.80a1.1,1.1 0 1,0 2.2,0a1.1,1.1 0 1,0 -2.2,0M344.05,109.84a1.1,1.1 0 1,0 2.2,0a1.1,1.1 0 1,0 -2.2,0M346.27,109.87a1.1,1.1 0 1,0 2.2,0a1.1,1.1 0 1,0 -2.2,0M348.48,109.90a1.1,1.1 0 1,0 2.2,0a1.1,1.1 0 1,0 -2.2,0M350.70,109.93a1.1,1.1 0 1,0 2.2,0a1.1,1.1 0 1,0 -2.2,0M352.92,109.96a1.1,1.1 0 1,0 2.2,0a1.1,1.1 0 1,0 -2.2,0M355.13,109.99a1.1,1.1 0 1,0 2.2,0a1.1,1.1 0 1,0 -2.2,0M357.35,110.02a1.1,1.1 0 1,0 2.2,0a1.1,1.1 0 1,0 -2.2,0M359.57,110.04a1.1,1.1 0 1,0 2.2,0a1.1,1.1 0 1,0 -2.2,0M361.78,110.06a1.1,1.1 0 1,0 2.2,0a1.1,1.1 0 1,0 -2.2,0M364.00,110.08a1.1,1.1 0 1,0 2.2,0a1.1,1.1 0 1,0 -2.2,0M366.22,110.10a1.1,1.1 0 1,0 2.2,0a1.1,1.1 0 1,0 -2.2,0M368.43,110.11a1.1,1.1 0 1,0 2.2,0a1.1,1.1 0 1,0 -2.2,0M370.65,110.12a1.1,1.1 0 1,0 2.2,0a1.1,1.1 0 1,0 -2.2,0M372.87,110.13a1.1,1.1 0 1,0 2.2,0a1.1,1.1 0 1,0 -2.2,0M375.08,110.13a1.1,1.1 0 1,0 2.2,0a1.1,1.1 0 1,0 -2.2,0M377.30,110.14a1.1,1.1 0 1,0 2.2,0a1.1,1.1 0 1,0 -2.2,0" fill="#e0962e"/>
<path d="M245.40,112.56V116.44M247.62,112.56V116.44M249.83,112.56V116.44M252.05,112.56V116.44M254.27,112.56V116.44M256.48,110.66V114.98M258.70,104.13V109.95M260.92,94.95V102.88M263.13,86.68V96.51M265.35,78.26V90.04M267.57,69.43V83.24M269.78,59.11V74.63M272.00,50.99V66.51M274.22,46.47V61.99M276.43,44.66V60.18M278.65,45.80V61.32M280.87,48.05V63.58M283.08,51.92V67.44M285.30,56.93V72.45M287.52,60.89V76.41M289.73,64.70V79.59M291.95,67.68V81.89M294.17,69.93V83.62M296.38,71.81V85.07M298.60,73.44V86.32M300.82,74.93V87.46M303.03,76.34V88.55M305.25,77.66V89.57M307.47,78.87V90.50M309.68,79.91V91.31M311.90,80.77V91.97M314.12,81.51V92.53M316.33,82.20V93.06M318.55,82.81V93.54M320.77,83.34V93.95M322.98,83.77V94.27M325.20,84.06V94.50M327.42,84.27V94.66M329.63,84.45V94.80M331.85,84.61V94.92M334.07,84.74V95.02M336.28,84.86V95.11M338.50,84.96V95.19M340.72,85.06V95.27M342.93,85.16V95.34M345.15,85.25V95.42M347.37,85.34V95.49M349.58,85.44V95.56M351.80,85.53V95.63M354.02,85.61V95.69M356.23,85.69V95.76M358.45,85.77V95.82M360.67,85.85V95.88M362.88,85.92V95.93M365.10,85.99V95.98M367.32,86.05V96.03M369.53,86.10V96.07M371.75,86.15V96.11M373.97,86.19V96.14M376.18,86.23V96.17M378.40,86.25V96.19" stroke="#b4b4e4" stroke-width="0.8" fill="none"/>
<path d="M244.45,112.56h1.9M244.45,116.44h1.9M246.67,112.56h1.9M246.67,116.44h1.9M248.88,112.56h1.9M248.88,116.44h1.9M251.10,112.56h1.9M251.10,116.44h1.9M253.32,112.56h1.9M253.32,116.44h1.9M255.53,110.66h1.9M255.53,114.98h1.9M257.75,104.13h1.9M257.75,109.95h1.9M259.97,94.95h1.9M259.97,102.88h1.9M262.18,86.68h1.9M262.18,96.51h1.9M264.40,78.26h1.9M264.40,90.04h1.9M266.62,69.43h1.9M266.62,83.24h1.9M268.83,59.11h1.9M268.83,74.63h1.9M271.05,50.99h1.9M271.05,66.51h1.9M273.27,46.47h1.9M273.27,61.99h1.9M275.48,44.66h1.9M275.48,60.18h1.9M277.70,45.80h1.9M277.70,61.32h1.9M279.92,48.05h1.9M279.92,63.58h1.9M282.13,51.92h1.9M282.13,67.44h1.9M284.35,56.93h1.9M284.35,72.45h1.9M286.57,60.89h1.9M286.57,76.41h1.9M288.78,64.70h1.9M288.78,79.59h1.9M291.00,67.68h1.9M291.00,81.89h1.9M293.22,69.93h1.9M293.22,83.62h1.9M295.43,71.81h1.9M295.43,85.07h1.9M297.65,73.44h1.9M297.65,86.32h1.9M299.87,74.93h1.9M299.87,87.46h1.9M302.08,76.34h1.9M302.08,88.55h1.9M304.30,77.66h1.9M304.30,89.57h1.9M306.52,78.87h1.9M306.52,90.50h1.9M308.73,79.91h1.9M308.73,91.31h1.9M310.95,80.77h1.9M310.95,91.97h1.9M313.17,81.51h1.9M313.17,92.53h1.9M315.38,82.20h1.9M315.38,93.06h1.9M317.60,82.81h1.9M317.60,93.54h1.9M319.82,83.34h1.9M319.82,93.95h1.9M322.03,83.77h1.9M322.03,94.27h1.9M324.25,84.06h1.9M324.25,94.50h1.9M326.47,84.27h1.9M326.47,94.66h1.9M328.68,84.45h1.9M328.68,94.80h1.9M330.90,84.61h1.9M330.90,94.92h1.9M333.12,84.74h1.9M333.12,95.02h1.9M335.33,84.86h1.9M335.33,95.11h1.9M337.55,84.96h1.9M337.55,95.19h1.9M339.77,85.06h1.9M339.77,95.27h1.9M341.98,85.16h1.9M341.98,95.34h1.9M344.20,85.25h1.9M344.20,95.42h1.9M346.42,85.34h1.9M346.42,95.49h1.9M348.63,85.44h1.9M348.63,95.56h1.9M350.85,85.53h1.9M350.85,95.63h1.9M353.07,85.61h1.9M353.07,95.69h1.9M355.28,85.69h1.9M355.28,95.76h1.9M357.50,85.77h1.9M357.50,95.82h1.9M359.72,85.85h1.9M359.72,95.88h1.9M361.93,85.92h1.9M361.93,95.93h1.9M364.15,85.99h1.9M364.15,95.98h1.9M366.37,86.05h1.9M366.37,96.03h1.9M368.58,86.10h1.9M368.58,96.07h1.9M370.80,86.15h1.9M370.80,96.11h1.9M373.02,86.19h1.9M373.02,96.14h1.9M375.23,86.23h1.9M375.23,96.17h1.9M377.45,86.25h1.9M377.45,96.19h1.9" stroke="#7a7ac4" stroke-width="0.8" fill="none"/>
<polyline points="245.40,114.50 246.51,114.50 247.62,114.50 248.72,114.50 249.83,114.50 250.94,114.50 252.05,114.50 253.16,114.50 254.27,114.50 255.38,114.44 256.48,112.82 257.59,110.39 258.70,107.04 259.81,102.99 260.92,98.92 262.02,95.23 263.13,91.59 264.24,87.93 265.35,84.15 266.46,80.31 267.57,76.34 268.68,72.08 269.78,66.87 270.89,61.88 272.00,58.75 273.11,56.29 274.22,54.23 275.32,52.85 276.43,52.42 277.54,52.77 278.65,53.56 279.76,54.63 280.87,55.82 281.98,57.43 283.08,59.68 284.19,62.21 285.30,64.69 286.41,66.77 287.52,68.65 288.62,70.47 289.73,72.15 290.84,73.60 291.95,74.79 293.06,75.83 294.17,76.77 295.27,77.64 296.38,78.44 297.49,79.18 298.60,79.88 299.71,80.55 300.82,81.20 301.93,81.83 303.03,82.45 304.14,83.04 305.25,83.62 306.36,84.17 307.47,84.68 308.57,85.16 309.68,85.61 310.79,86.01 311.90,86.37 313.01,86.70 314.12,87.02 315.23,87.33 316.33,87.63 317.44,87.91 318.55,88.18 319.66,88.42 320.77,88.65 321.88,88.84 322.98,89.02 324.09,89.16 325.20,89.28 326.31,89.38 327.42,89.47 328.52,89.55 329.63,89.62 330.74,89.70 331.85,89.76 332.96,89.82 334.07,89.88 335.18,89.93 336.28,89.99 337.39,90.03 338.50,90.08 339.61,90.12 340.72,90.17 341.82,90.21 342.93,90.25 344.04,90.29 345.15,90.33 346.26,90.37 347.37,90.42 348.48,90.46 349.58,90.50 350.69,90.54 351.80,90.58 352.91,90.61 354.02,90.65 355.12,90.69 356.23,90.73 357.34,90.76 358.45,90.80 359.56,90.83 360.67,90.86 361.77,90.89 362.88,90.93 363.99,90.96 365.10,90.98 366.21,91.01 367.32,91.04 368.42,91.06 369.53,91.09 370.64,91.11 371.75,91.13 372.86,91.15 373.97,91.17 375.07,91.18 376.18,91.20 377.29,91.21 378.40,91.22" fill="none" stroke="#5a5aa0" stroke-width="0.8" stroke-linejoin="round"/>
<path d="M244.30,114.50a1.1,1.1 0 1,0 2.2,0a1.1,1.1 0 1,0 -2.2,0M246.52,114.50a1.1,1.1 0 1,0 2.2,0a1.1,1.1 0 1,0 -2.2,0M248.73,114.50a1.1,1.1 0 1,0 2.2,0a1.1,1.1 0 1,0 -2.2,0M250.95,114.50a1.1,1.1 0 1,0 2.2,0a1.1,1.1 0 1,0 -2.2,0M253.17,114.50a1.1,1.1 0 1,0 2.2,0a1.1,1.1 0 1,0 -2.2,0M255.38,112.82a1.1,1.1 0 1,0 2.2,0a1.1,1.1 0 1,0 -2.2,0M257.60,107.04a1.1,1.1 0 1,0 2.2,0a1.1,1.1 0 1,0 -2.2,0M259.82,98.92a1.1,1.1 0 1,0 2.2,0a1.1,1.1 0 1,0 -2.2,0M262.03,91.59a1.1,1.1 0 1,0 2.2,0a1.1,1.1 0 1,0 -2.2,0M264.25,84.15a1.1,1.1 0 1,0 2.2,0a1.1,1.1 0 1,0 -2.2,0M266.47,76.34a1.1,1.1 0 1,0 2.2,0a1.1,1.1 0 1,0 -2.2,0M268.68,66.87a1.1,1.1 0 1,0 2.2,0a1.1,1.1 0 1,0 -2.2,0M270.90,58.75a1.1,1.1 0 1,0 2.2,0a1.1,1.1 0 1,0 -2.2,0M273.12,54.23a1.1,1.1 0 1,0 2.2,0a1.1,1.1 0 1,0 -2.2,0M275.33,52.42a1.1,1.1 0 1,0 2.2,0a1.1,1.1 0 1,0 -2.2,0M277.55,53.56a1.1,1.1 0 1,0 2.2,0a1.1,1.1 0 1,0 -2.2,0M279.77,55.82a1.1,1.1 0 1,0 2.2,0a1.1,1.1 0 1,0 -2.2,0M281.98,59.68a1.1,1.1 0 1,0 2.2,0a1.1,1.1 0 1,0 -2.2,0M284.20,64.69a1.1,1.1 0 1,0 2.2,0a1.1,1.1 0 1,0 -2.2,0M286.42,68.65a1.1,1.1 0 1,0 2.2,0a1.1,1.1 0 1,0 -2.2,0M288.63,72.15a1.1,1.1 0 1,0 2.2,0a1.1,1.1 0 1,0 -2.2,0M290.85,74.79a1.1,1.1 0 1,0 2.2,0a1.1,1.1 0 1,0 -2.2,0M293.07,76.77a1.1,1.1 0 1,0 2.2,0a1.1,1.1 0 1,0 -2.2,0M295.28,78.44a1.1,1.1 0 1,0 2.2,0a1.1,1.1 0 1,0 -2.2,0M297.50,79.88a1.1,1.1 0 1,0 2.2,0a1.1,1.1 0 1,0 -2.2,0M299.72,81.20a1.1,1.1 0 1,0 2.2,0a1.1,1.1 0 1,0 -2.2,0M301.93,82.45a1.1,1.1 0 1,0 2.2,0a1.1,1.1 0 1,0 -2.2,0M304.15,83.62a1.1,1.1 0 1,0 2.2,0a1.1,1.1 0 1,0 -2.2,0M306.37,84.68a1.1,1.1 0 1,0 2.2,0a1.1,1.1 0 1,0 -2.2,0M308.58,85.61a1.1,1.1 0 1,0 2.2,0a1.1,1.1 0 1,0 -2.2,0M310.80,86.37a1.1,1.1 0 1,0 2.2,0a1.1,1.1 0 1,0 -2.2,0M313.02,87.02a1.1,1.1 0 1,0 2.2,0a1.1,1.1 0 1,0 -2.2,0M315.23,87.63a1.1,1.1 0 1,0 2.2,0a1.1,1.1 0 1,0 -2.2,0M317.45,88.18a1.1,1.1 0 1,0 2.2,0a1.1,1.1 0 1,0 -2.2,0M319.67,88.65a1.1,1.1 0 1,0 2.2,0a1.1,1.1 0 1,0 -2.2,0M321.88,89.02a1.1,1.1 0 1,0 2.2,0a1.1,1.1 0 1,0 -2.2,0M324.10,89.28a1.1,1.1 0 1,0 2.2,0a1.1,1.1 0 1,0 -2.2,0M326.32,89.47a1.1,1.1 0 1,0 2.2,0a1.1,1.1 0 1,0 -2.2,0M328.53,89.62a1.1,1.1 0 1,0 2.2,0a1.1,1.1 0 1,0 -2.2,0M330.75,89.76a1.1,1.1 0 1,0 2.2,0a1.1,1.1 0 1,0 -2.2,0M332.97,89.88a1.1,1.1 0 1,0 2.2,0a1.1,1.1 0 1,0 -2.2,0M335.18,89.99a1.1,1.1 0 1,0 2.2,0a1.1,1.1 0 1,0 -2.2,0M337.40,90.08a1.1,1.1 0 1,0 2.2,0a1.1,1.1 0 1,0 -2.2,0M339.62,90.17a1.1,1.1 0 1,0 2.2,0a1.1,1.1 0 1,0 -2.2,0M341.83,90.25a1.1,1.1 0 1,0 2.2,0a1.1,1.1 0 1,0 -2.2,0M344.05,90.33a1.1,1.1 0 1,0 2.2,0a1.1,1.1 0 1,0 -2.2,0M346.27,90.42a1.1,1.1 0 1,0 2.2,0a1.1,1.1 0 1,0 -2.2,0M348.48,90.50a1.1,1.1 0 1,0 2.2,0a1.1,1.1 0 1,0 -2.2,0M350.70,90.58a1.1,1.1 0 1,0 2.2,0a1.1,1.1 0 1,0 -2.2,0M352.92,90.65a1.1,1.1 0 1,0 2.2,0a1.1,1.1 0 1,0 -2.2,0M355.13,90.73a1.1,1.1 0 1,0 2.2,0a1.1,1.1 0 1,0 -2.2,0M357.35,90.80a1.1,1.1 0 1,0 2.2,0a1.1,1.1 0 1,0 -2.2,0M359.57,90.86a1.1,1.1 0 1,0 2.2,0a1.1,1.1 0 1,0 -2.2,0M361.78,90.93a1.1,1.1 0 1,0 2.2,0a1.1,1.1 0 1,0 -2.2,0M364.00,90.98a1.1,1.1 0 1,0 2.2,0a1.1,1.1 0 1,0 -2.2,0M366.22,91.04a1.1,1.1 0 1,0 2.2,0a1.1,1.1 0 1,0 -2.2,0M368.43,91.09a1.1,1.1 0 1,0 2.2,0a1.1,1.1 0 1,0 -2.2,0M370.65,91.13a1.1,1.1 0 1,0 2.2,0a1.1,1.1 0 1,0 -2.2,0M372.87,91.17a1.1,1.1 0 1,0 2.2,0a1.1,1.1 0 1,0 -2.2,0M375.08,91.20a1.1,1.1 0 1,0 2.2,0a1.1,1.1 0 1,0 -2.2,0M377.30,91.22a1.1,1.1 0 1,0 2.2,0a1.1,1.1 0 1,0 -2.2,0" fill="#1a1a6a"/>
<path d="M245.40,113.53V115.47M247.62,113.47V115.43M249.83,113.29V115.29M252.05,112.97V115.06M254.27,110.59V113.30M256.48,105.57V109.58M258.70,94.81V101.64M260.92,84.34V93.90M263.13,75.09V87.06M265.35,66.03V80.36M267.57,58.31V74.66M269.78,53.14V70.60M272.00,51.48V68.94M274.22,52.42V69.88M276.43,54.03V71.49M278.65,56.32V73.18M280.87,59.50V75.53M283.08,62.80V77.98M285.30,65.47V79.95M287.52,67.76V81.64M289.73,69.97V83.27M291.95,72.04V84.81M294.17,73.94V86.21M296.38,75.60V87.43M298.60,76.97V88.45M300.82,78.02V89.22M303.03,78.89V89.86M305.25,79.65V90.43M307.47,80.30V90.91M309.68,80.82V91.29M311.90,81.18V91.56M314.12,81.45V91.76M316.33,81.70V91.94M318.55,81.93V92.11M320.77,82.13V92.26M322.98,82.31V92.39M325.20,82.46V92.51M327.42,82.59V92.60M329.63,82.70V92.69M331.85,82.79V92.75M334.07,82.85V92.80M336.28,82.90V92.83M338.50,82.95V92.87M340.72,83.00V92.90M342.93,83.04V92.94M345.15,83.09V92.97M347.37,83.13V93.00M349.58,83.16V93.03M351.80,83.20V93.05M354.02,83.23V93.08M356.23,83.26V93.10M358.45,83.29V93.12M360.67,83.31V93.14M362.88,83.34V93.15M365.10,83.36V93.17M367.32,83.37V93.18M369.53,83.39V93.19M371.75,83.40V93.20M373.97,83.41V93.20M376.18,83.41V93.21M378.40,83.41V93.21" stroke="#f3b4b8" stroke-width="0.8" fill="none"/>
<path d="M244.45,113.53h1.9M244.45,115.47h1.9M246.67,113.47h1.9M246.67,115.43h1.9M248.88,113.29h1.9M248.88,115.29h1.9M251.10,112.97h1.9M251.10,115.06h1.9M253.32,110.59h1.9M253.32,113.30h1.9M255.53,105.57h1.9M255.53,109.58h1.9M257.75,94.81h1.9M257.75,101.64h1.9M259.97,84.34h1.9M259.97,93.90h1.9M262.18,75.09h1.9M262.18,87.06h1.9M264.40,66.03h1.9M264.40,80.36h1.9M266.62,58.31h1.9M266.62,74.66h1.9M268.83,53.14h1.9M268.83,70.60h1.9M271.05,51.48h1.9M271.05,68.94h1.9M273.27,52.42h1.9M273.27,69.88h1.9M275.48,54.03h1.9M275.48,71.49h1.9M277.70,56.32h1.9M277.70,73.18h1.9M279.92,59.50h1.9M279.92,75.53h1.9M282.13,62.80h1.9M282.13,77.98h1.9M284.35,65.47h1.9M284.35,79.95h1.9M286.57,67.76h1.9M286.57,81.64h1.9M288.78,69.97h1.9M288.78,83.27h1.9M291.00,72.04h1.9M291.00,84.81h1.9M293.22,73.94h1.9M293.22,86.21h1.9M295.43,75.60h1.9M295.43,87.43h1.9M297.65,76.97h1.9M297.65,88.45h1.9M299.87,78.02h1.9M299.87,89.22h1.9M302.08,78.89h1.9M302.08,89.86h1.9M304.30,79.65h1.9M304.30,90.43h1.9M306.52,80.30h1.9M306.52,90.91h1.9M308.73,80.82h1.9M308.73,91.29h1.9M310.95,81.18h1.9M310.95,91.56h1.9M313.17,81.45h1.9M313.17,91.76h1.9M315.38,81.70h1.9M315.38,91.94h1.9M317.60,81.93h1.9M317.60,92.11h1.9M319.82,82.13h1.9M319.82,92.26h1.9M322.03,82.31h1.9M322.03,92.39h1.9M324.25,82.46h1.9M324.25,92.51h1.9M326.47,82.59h1.9M326.47,92.60h1.9M328.68,82.70h1.9M328.68,92.69h1.9M330.90,82.79h1.9M330.90,92.75h1.9M333.12,82.85h1.9M333.12,92.80h1.9M335.33,82.90h1.9M335.33,92.83h1.9M337.55,82.95h1.9M337.55,92.87h1.9M339.77,83.00h1.9M339.77,92.90h1.9M341.98,83.04h1.9M341.98,92.94h1.9M344.20,83.09h1.9M344.20,92.97h1.9M346.42,83.13h1.9M346.42,93.00h1.9M348.63,83.16h1.9M348.63,93.03h1.9M350.85,83.20h1.9M350.85,93.05h1.9M353.07,83.23h1.9M353.07,93.08h1.9M355.28,83.26h1.9M355.28,93.10h1.9M357.50,83.29h1.9M357.50,93.12h1.9M359.72,83.31h1.9M359.72,93.14h1.9M361.93,83.34h1.9M361.93,93.15h1.9M364.15,83.36h1.9M364.15,93.17h1.9M366.37,83.37h1.9M366.37,93.18h1.9M368.58,83.39h1.9M368.58,93.19h1.9M370.80,83.40h1.9M370.80,93.20h1.9M373.02,83.41h1.9M373.02,93.20h1.9M375.23,83.41h1.9M375.23,93.21h1.9M377.45,83.41h1.9M377.45,93.21h1.9" stroke="#d87a80" stroke-width="0.8" fill="none"/>
<polyline points="245.40,114.50 246.51,114.49 247.62,114.45 248.72,114.38 249.83,114.29 250.94,114.17 252.05,114.02 253.16,113.37 254.27,111.95 255.38,109.99 256.48,107.57 257.59,103.40 258.70,98.23 259.81,93.33 260.92,89.12 262.02,85.03 263.13,81.08 264.24,77.21 265.35,73.20 266.46,69.44 267.57,66.48 268.68,64.06 269.78,61.87 270.89,60.45 272.00,60.21 273.11,60.55 274.22,61.15 275.32,61.93 276.43,62.76 277.54,63.63 278.65,64.75 279.76,66.08 280.87,67.51 281.98,68.98 283.08,70.39 284.19,71.65 285.30,72.71 286.41,73.71 287.52,74.70 288.62,75.67 289.73,76.62 290.84,77.54 291.95,78.42 293.06,79.27 294.17,80.07 295.27,80.82 296.38,81.52 297.49,82.15 298.60,82.71 299.71,83.20 300.82,83.62 301.93,84.01 303.03,84.38 304.14,84.72 305.25,85.04 306.36,85.34 307.47,85.61 308.57,85.85 309.68,86.05 310.79,86.23 311.90,86.37 313.01,86.49 314.12,86.61 315.23,86.72 316.33,86.82 317.44,86.92 318.55,87.02 319.66,87.11 320.77,87.19 321.88,87.27 322.98,87.35 324.09,87.42 325.20,87.48 326.31,87.54 327.42,87.60 328.52,87.65 329.63,87.69 330.74,87.73 331.85,87.77 332.96,87.80 334.07,87.83 335.18,87.85 336.28,87.87 337.39,87.89 338.50,87.91 339.61,87.93 340.72,87.95 341.82,87.97 342.93,87.99 344.04,88.01 345.15,88.03 346.26,88.05 347.37,88.06 348.48,88.08 349.58,88.10 350.69,88.11 351.80,88.13 352.91,88.14 354.02,88.15 355.12,88.17 356.23,88.18 357.34,88.19 358.45,88.20 359.56,88.22 360.67,88.23 361.77,88.24 362.88,88.25 363.99,88.25 365.10,88.26 366.21,88.27 367.32,88.28 368.42,88.28 369.53,88.29 370.64,88.29 371.75,88.30 372.86,88.30 373.97,88.30 375.07,88.31 376.18,88.31 377.29,88.31 378.40,88.31" fill="none" stroke="#c83038" stroke-width="0.8" stroke-linejoin="round"/>
<path d="M244.30,114.50a1.1,1.1 0 1,0 2.2,0a1.1,1.1 0 1,0 -2.2,0M246.52,114.45a1.1,1.1 0 1,0 2.2,0a1.1,1.1 0 1,0 -2.2,0M248.73,114.29a1.1,1.1 0 1,0 2.2,0a1.1,1.1 0 1,0 -2.2,0M250.95,114.02a1.1,1.1 0 1,0 2.2,0a1.1,1.1 0 1,0 -2.2,0M253.17,111.95a1.1,1.1 0 1,0 2.2,0a1.1,1.1 0 1,0 -2.2,0M255.38,107.57a1.1,1.1 0 1,0 2.2,0a1.1,1.1 0 1,0 -2.2,0M257.60,98.23a1.1,1.1 0 1,0 2.2,0a1.1,1.1 0 1,0 -2.2,0M259.82,89.12a1.1,1.1 0 1,0 2.2,0a1.1,1.1 0 1,0 -2.2,0M262.03,81.08a1.1,1.1 0 1,0 2.2,0a1.1,1.1 0 1,0 -2.2,0M264.25,73.20a1.1,1.1 0 1,0 2.2,0a1.1,1.1 0 1,0 -2.2,0M266.47,66.48a1.1,1.1 0 1,0 2.2,0a1.1,1.1 0 1,0 -2.2,0M268.68,61.87a1.1,1.1 0 1,0 2.2,0a1.1,1.1 0 1,0 -2.2,0M270.90,60.21a1.1,1.1 0 1,0 2.2,0a1.1,1.1 0 1,0 -2.2,0M273.12,61.15a1.1,1.1 0 1,0 2.2,0a1.1,1.1 0 1,0 -2.2,0M275.33,62.76a1.1,1.1 0 1,0 2.2,0a1.1,1.1 0 1,0 -2.2,0M277.55,64.75a1.1,1.1 0 1,0 2.2,0a1.1,1.1 0 1,0 -2.2,0M279.77,67.51a1.1,1.1 0 1,0 2.2,0a1.1,1.1 0 1,0 -2.2,0M281.98,70.39a1.1,1.1 0 1,0 2.2,0a1.1,1.1 0 1,0 -2.2,0M284.20,72.71a1.1,1.1 0 1,0 2.2,0a1.1,1.1 0 1,0 -2.2,0M286.42,74.70a1.1,1.1 0 1,0 2.2,0a1.1,1.1 0 1,0 -2.2,0M288.63,76.62a1.1,1.1 0 1,0 2.2,0a1.1,1.1 0 1,0 -2.2,0M290.85,78.42a1.1,1.1 0 1,0 2.2,0a1.1,1.1 0 1,0 -2.2,0M293.07,80.07a1.1,1.1 0 1,0 2.2,0a1.1,1.1 0 1,0 -2.2,0M295.28,81.52a1.1,1.1 0 1,0 2.2,0a1.1,1.1 0 1,0 -2.2,0M297.50,82.71a1.1,1.1 0 1,0 2.2,0a1.1,1.1 0 1,0 -2.2,0M299.72,83.62a1.1,1.1 0 1,0 2.2,0a1.1,1.1 0 1,0 -2.2,0M301.93,84.38a1.1,1.1 0 1,0 2.2,0a1.1,1.1 0 1,0 -2.2,0M304.15,85.04a1.1,1.1 0 1,0 2.2,0a1.1,1.1 0 1,0 -2.2,0M306.37,85.61a1.1,1.1 0 1,0 2.2,0a1.1,1.1 0 1,0 -2.2,0M308.58,86.05a1.1,1.1 0 1,0 2.2,0a1.1,1.1 0 1,0 -2.2,0M310.80,86.37a1.1,1.1 0 1,0 2.2,0a1.1,1.1 0 1,0 -2.2,0M313.02,86.61a1.1,1.1 0 1,0 2.2,0a1.1,1.1 0 1,0 -2.2,0M315.23,86.82a1.1,1.1 0 1,0 2.2,0a1.1,1.1 0 1,0 -2.2,0M317.45,87.02a1.1,1.1 0 1,0 2.2,0a1.1,1.1 0 1,0 -2.2,0M319.67,87.19a1.1,1.1 0 1,0 2.2,0a1.1,1.1 0 1,0 -2.2,0M321.88,87.35a1.1,1.1 0 1,0 2.2,0a1.1,1.1 0 1,0 -2.2,0M324.10,87.48a1.1,1.1 0 1,0 2.2,0a1.1,1.1 0 1,0 -2.2,0M326.32,87.60a1.1,1.1 0 1,0 2.2,0a1.1,1.1 0 1,0 -2.2,0M328.53,87.69a1.1,1.1 0 1,0 2.2,0a1.1,1.1 0 1,0 -2.2,0M330.75,87.77a1.1,1.1 0 1,0 2.2,0a1.1,1.1 0 1,0 -2.2,0M332.97,87.83a1.1,1.1 0 1,0 2.2,0a1.1,1.1 0 1,0 -2.2,0M335.18,87.87a1.1,1.1 0 1,0 2.2,0a1.1,1.1 0 1,0 -2.2,0M337.40,87.91a1.1,1.1 0 1,0 2.2,0a1.1,1.1 0 1,0 -2.2,0M339.62,87.95a1.1,1.1 0 1,0 2.2,0a1.1,1.1 0 1,0 -2.2,0M341.83,87.99a1.1,1.1 0 1,0 2.2,0a1.1,1.1 0 1,0 -2.2,0M344.05,88.03a1.1,1.1 0 1,0 2.2,0a1.1,1.1 0 1,0 -2.2,0M346.27,88.06a1.1,1.1 0 1,0 2.2,0a1.1,1.1 0 1,0 -2.2,0M348.48,88.10a1.1,1.1 0 1,0 2.2,0a1.1,1.1 0 1,0 -2.2,0M350.70,88.13a1.1,1.1 0 1,0 2.2,0a1.1,1.1 0 1,0 -2.2,0M352.92,88.15a1.1,1.1 0 1,0 2.2,0a1.1,1.1 0 1,0 -2.2,0M355.13,88.18a1.1,1.1 0 1,0 2.2,0a1.1,1.1 0 1,0 -2.2,0M357.35,88.20a1.1,1.1 0 1,0 2.2,0a1.1,1.1 0 1,0 -2.2,0M359.57,88.23a1.1,1.1 0 1,0 2.2,0a1.1,1.1 0 1,0 -2.2,0M361.78,88.25a1.1,1.1 0 1,0 2.2,0a1.1,1.1 0 1,0 -2.2,0M364.00,88.26a1.1,1.1 0 1,0 2.2,0a1.1,1.1 0 1,0 -2.2,0M366.22,88.28a1.1,1.1 0 1,0 2.2,0a1.1,1.1 0 1,0 -2.2,0M368.43,88.29a1.1,1.1 0 1,0 2.2,0a1.1,1.1 0 1,0 -2.2,0M370.65,88.30a1.1,1.1 0 1,0 2.2,0a1.1,1.1 0 1,0 -2.2,0M372.87,88.30a1.1,1.1 0 1,0 2.2,0a1.1,1.1 0 1,0 -2.2,0M375.08,88.31a1.1,1.1 0 1,0 2.2,0a1.1,1.1 0 1,0 -2.2,0M377.30,88.31a1.1,1.1 0 1,0 2.2,0a1.1,1.1 0 1,0 -2.2,0" fill="#a0121a"/>
<line x1="41.40" y1="181.30" x2="41.40" y2="275.50" stroke="#000" stroke-width="1.25"/>
<line x1="38.00" y1="272.30" x2="41.40" y2="272.30" stroke="#333" stroke-width="1.1"/>
<text x="35.00" y="274.80" font-size="7.1" text-anchor="end" fill="#222" textLength="16.08" lengthAdjust="spacingAndGlyphs">-0.05</text>
<line x1="38.00" y1="250.10" x2="41.40" y2="250.10" stroke="#333" stroke-width="1.1"/>
<text x="35.00" y="252.60" font-size="7.1" text-anchor="end" fill="#222" textLength="12.75" lengthAdjust="spacingAndGlyphs">0.00</text>
<line x1="38.00" y1="227.90" x2="41.40" y2="227.90" stroke="#333" stroke-width="1.1"/>
<text x="35.00" y="230.40" font-size="7.1" text-anchor="end" fill="#222" textLength="12.75" lengthAdjust="spacingAndGlyphs">0.05</text>
<line x1="38.00" y1="205.70" x2="41.40" y2="205.70" stroke="#333" stroke-width="1.1"/>
<text x="35.00" y="208.20" font-size="7.1" text-anchor="end" fill="#222" textLength="12.75" lengthAdjust="spacingAndGlyphs">0.10</text>
<line x1="38.00" y1="183.50" x2="41.40" y2="183.50" stroke="#333" stroke-width="1.1"/>
<text x="35.00" y="186.00" font-size="7.1" text-anchor="end" fill="#222" textLength="12.75" lengthAdjust="spacingAndGlyphs">0.15</text>
<line x1="41.40" y1="250.10" x2="177.30" y2="250.10" stroke="#000" stroke-width="1.2"/>
<line x1="41.40" y1="250.10" x2="41.40" y2="253.30" stroke="#111" stroke-width="1"/>
<line x1="45.83" y1="250.10" x2="45.83" y2="251.70" stroke="#222" stroke-width="0.8"/>
<line x1="50.26" y1="250.10" x2="50.26" y2="251.70" stroke="#222" stroke-width="0.8"/>
<line x1="54.69" y1="250.10" x2="54.69" y2="251.70" stroke="#222" stroke-width="0.8"/>
<line x1="59.12" y1="250.10" x2="59.12" y2="251.70" stroke="#222" stroke-width="0.8"/>
<line x1="63.55" y1="250.10" x2="63.55" y2="251.70" stroke="#222" stroke-width="0.8"/>
<line x1="67.98" y1="250.10" x2="67.98" y2="251.70" stroke="#222" stroke-width="0.8"/>
<line x1="72.41" y1="250.10" x2="72.41" y2="251.70" stroke="#222" stroke-width="0.8"/>
<line x1="76.84" y1="250.10" x2="76.84" y2="251.70" stroke="#222" stroke-width="0.8"/>
<line x1="81.27" y1="250.10" x2="81.27" y2="251.70" stroke="#222" stroke-width="0.8"/>
<line x1="85.70" y1="250.10" x2="85.70" y2="253.30" stroke="#111" stroke-width="1"/>
<text x="85.70" y="262.10" font-size="7.1" text-anchor="middle" fill="#222">10</text>
<line x1="90.13" y1="250.10" x2="90.13" y2="251.70" stroke="#222" stroke-width="0.8"/>
<line x1="94.56" y1="250.10" x2="94.56" y2="251.70" stroke="#222" stroke-width="0.8"/>
<line x1="98.99" y1="250.10" x2="98.99" y2="251.70" stroke="#222" stroke-width="0.8"/>
<line x1="103.42" y1="250.10" x2="103.42" y2="251.70" stroke="#222" stroke-width="0.8"/>
<line x1="107.85" y1="250.10" x2="107.85" y2="251.70" stroke="#222" stroke-width="0.8"/>
<line x1="112.28" y1="250.10" x2="112.28" y2="251.70" stroke="#222" stroke-width="0.8"/>
<line x1="116.71" y1="250.10" x2="116.71" y2="251.70" stroke="#222" stroke-width="0.8"/>
<line x1="121.14" y1="250.10" x2="121.14" y2="251.70" stroke="#222" stroke-width="0.8"/>
<line x1="125.57" y1="250.10" x2="125.57" y2="251.70" stroke="#222" stroke-width="0.8"/>
<line x1="130.00" y1="250.10" x2="130.00" y2="253.30" stroke="#111" stroke-width="1"/>
<text x="130.00" y="262.10" font-size="7.1" text-anchor="middle" fill="#222">20</text>
<line x1="134.43" y1="250.10" x2="134.43" y2="251.70" stroke="#222" stroke-width="0.8"/>
<line x1="138.86" y1="250.10" x2="138.86" y2="251.70" stroke="#222" stroke-width="0.8"/>
<line x1="143.29" y1="250.10" x2="143.29" y2="251.70" stroke="#222" stroke-width="0.8"/>
<line x1="147.72" y1="250.10" x2="147.72" y2="251.70" stroke="#222" stroke-width="0.8"/>
<line x1="152.15" y1="250.10" x2="152.15" y2="251.70" stroke="#222" stroke-width="0.8"/>
<line x1="156.58" y1="250.10" x2="156.58" y2="251.70" stroke="#222" stroke-width="0.8"/>
<line x1="161.01" y1="250.10" x2="161.01" y2="251.70" stroke="#222" stroke-width="0.8"/>
<line x1="165.44" y1="250.10" x2="165.44" y2="251.70" stroke="#222" stroke-width="0.8"/>
<line x1="169.87" y1="250.10" x2="169.87" y2="251.70" stroke="#222" stroke-width="0.8"/>
<line x1="174.30" y1="250.10" x2="174.30" y2="253.30" stroke="#111" stroke-width="1"/>
<text x="174.30" y="262.10" font-size="7.1" text-anchor="middle" fill="#222">30</text>
<text class="bt" x="109.45" y="273.40" font-size="7.8" text-anchor="middle" fill="#222" textLength="33.2" lengthAdjust="spacingAndGlyphs">Time (min)</text>
<text class="bt" transform="translate(15.00,253.10) rotate(-90)" font-size="8.9" fill="#222" textLength="49.5" lengthAdjust="spacingAndGlyphs">Fibrin formation</text>
<text class="bt" transform="translate(15.00,202.25) rotate(-90)" font-size="8.9" fill="#222" textLength="24.2" lengthAdjust="spacingAndGlyphs">(OD<tspan font-size="5.9" dy="1.5">405</tspan><tspan dy="-1.5">)</tspan></text>
<text transform="translate(7.5,167.2) scale(1.0,1)" font-size="12" font-weight="bold" fill="#000" style="stroke:#000;stroke-width:0.35px">C</text>
<polyline points="41.40,250.99 42.51,250.99 43.62,250.99 44.72,250.99 45.83,250.99 46.94,250.99 48.05,250.99 49.15,250.99 50.26,250.99 51.37,250.99 52.47,250.99 53.58,250.99 54.69,250.99 55.80,250.99 56.91,250.99 58.01,250.99 59.12,250.98 60.23,250.98 61.34,250.98 62.44,250.98 63.55,250.97 64.66,250.97 65.77,250.97 66.87,250.96 67.98,250.96 69.09,250.95 70.19,250.95 71.30,250.94 72.41,250.94 73.52,250.93 74.62,250.92 75.73,250.92 76.84,250.91 77.95,250.90 79.06,250.90 80.16,250.89 81.27,250.88 82.38,250.87 83.48,250.86 84.59,250.85 85.70,250.85 86.81,250.84 87.91,250.83 89.02,250.82 90.13,250.81 91.24,250.80 92.34,250.79 93.45,250.78 94.56,250.77 95.67,250.75 96.78,250.74 97.88,250.72 98.99,250.70 100.10,250.68 101.20,250.65 102.31,250.63 103.42,250.60 104.53,250.56 105.63,250.53 106.74,250.50 107.85,250.46 108.96,250.42 110.06,250.38 111.17,250.35 112.28,250.30 113.39,250.26 114.50,250.22 115.60,250.18 116.71,250.14 117.82,250.09 118.93,250.05 120.03,250.01 121.14,249.97 122.25,249.92 123.35,249.88 124.46,249.84 125.57,249.80 126.68,249.76 127.78,249.73 128.89,249.69 130.00,249.66 131.11,249.62 132.22,249.59 133.32,249.55 134.43,249.52 135.54,249.49 136.64,249.45 137.75,249.42 138.86,249.39 139.97,249.35 141.07,249.32 142.18,249.28 143.29,249.25 144.40,249.22 145.50,249.18 146.61,249.15 147.72,249.12 148.83,249.08 149.94,249.05 151.04,249.02 152.15,248.98 153.26,248.95 154.37,248.92 155.47,248.88 156.58,248.85 157.69,248.82 158.80,248.78 159.90,248.75 161.01,248.72 162.12,248.68 163.22,248.65 164.33,248.62 165.44,248.59 166.55,248.55 167.66,248.52 168.76,248.49 169.87,248.45 170.98,248.42 172.09,248.39 173.19,248.36 174.30,248.32" fill="none" stroke="#b8dca8" stroke-width="3.4" stroke-linejoin="round"/>
<polyline points="41.40,250.99 42.51,250.99 43.62,250.99 44.72,250.99 45.83,250.99 46.94,250.99 48.05,250.99 49.15,250.99 50.26,250.99 51.37,250.99 52.47,250.99 53.58,250.99 54.69,250.99 55.80,250.99 56.91,250.99 58.01,250.99 59.12,250.98 60.23,250.98 61.34,250.98 62.44,250.98 63.55,250.97 64.66,250.97 65.77,250.97 66.87,250.96 67.98,250.96 69.09,250.95 70.19,250.95 71.30,250.94 72.41,250.94 73.52,250.93 74.62,250.92 75.73,250.92 76.84,250.91 77.95,250.90 79.06,250.90 80.16,250.89 81.27,250.88 82.38,250.87 83.48,250.86 84.59,250.85 85.70,250.85 86.81,250.84 87.91,250.83 89.02,250.82 90.13,250.81 91.24,250.80 92.34,250.79 93.45,250.78 94.56,250.77 95.67,250.75 96.78,250.74 97.88,250.72 98.99,250.70 100.10,250.68 101.20,250.65 102.31,250.63 103.42,250.60 104.53,250.56 105.63,250.53 106.74,250.50 107.85,250.46 108.96,250.42 110.06,250.38 111.17,250.35 112.28,250.30 113.39,250.26 114.50,250.22 115.60,250.18 116.71,250.14 117.82,250.09 118.93,250.05 120.03,250.01 121.14,249.97 122.25,249.92 123.35,249.88 124.46,249.84 125.57,249.80 126.68,249.76 127.78,249.73 128.89,249.69 130.00,249.66 131.11,249.62 132.22,249.59 133.32,249.55 134.43,249.52 135.54,249.49 136.64,249.45 137.75,249.42 138.86,249.39 139.97,249.35 141.07,249.32 142.18,249.28 143.29,249.25 144.40,249.22 145.50,249.18 146.61,249.15 147.72,249.12 148.83,249.08 149.94,249.05 151.04,249.02 152.15,248.98 153.26,248.95 154.37,248.92 155.47,248.88 156.58,248.85 157.69,248.82 158.80,248.78 159.90,248.75 161.01,248.72 162.12,248.68 163.22,248.65 164.33,248.62 165.44,248.59 166.55,248.55 167.66,248.52 168.76,248.49 169.87,248.45 170.98,248.42 172.09,248.39 173.19,248.36 174.30,248.32" fill="none" stroke="#4a9030" stroke-width="2.5" stroke-linejoin="round"/>
<polyline points="41.40,250.10 42.51,250.10 43.62,250.10 44.72,250.10 45.83,250.10 46.94,250.10 48.05,250.10 49.15,250.10 50.26,250.10 51.37,250.10 52.47,250.10 53.58,250.10 54.69,250.10 55.80,250.10 56.91,250.10 58.01,249.77 59.12,248.99 60.23,247.18 61.34,245.04 62.44,243.38 63.55,241.84 64.66,240.44 65.77,239.22 66.87,238.17 67.98,237.22 69.09,236.36 70.19,235.58 71.30,234.87 72.41,234.21 73.52,233.60 74.62,233.03 75.73,232.52 76.84,232.07 77.95,231.67 79.06,231.29 80.16,230.94 81.27,230.63 82.38,230.34 83.48,230.08 84.59,229.86 85.70,229.66 86.81,229.49 87.91,229.34 89.02,229.19 90.13,229.04 91.24,228.89 92.34,228.73 93.45,228.57 94.56,228.40 95.67,228.24 96.78,228.07 97.88,227.91 98.99,227.74 100.10,227.58 101.20,227.42 102.31,227.27 103.42,227.12 104.53,226.97 105.63,226.83 106.74,226.70 107.85,226.57 108.96,226.45 110.06,226.33 111.17,226.21 112.28,226.09 113.39,225.98 114.50,225.87 115.60,225.77 116.71,225.66 117.82,225.56 118.93,225.46 120.03,225.36 121.14,225.26 122.25,225.17 123.35,225.07 124.46,224.98 125.57,224.89 126.68,224.80 127.78,224.71 128.89,224.62 130.00,224.54 131.11,224.45 132.22,224.37 133.32,224.28 134.43,224.20 135.54,224.12 136.64,224.04 137.75,223.96 138.86,223.89 139.97,223.81 141.07,223.74 142.18,223.66 143.29,223.59 144.40,223.52 145.50,223.44 146.61,223.37 147.72,223.30 148.83,223.23 149.94,223.16 151.04,223.09 152.15,223.02 153.26,222.95 154.37,222.87 155.47,222.80 156.58,222.74 157.69,222.67 158.80,222.60 159.90,222.53 161.01,222.46 162.12,222.39 163.22,222.33 164.33,222.26 165.44,222.19 166.55,222.13 167.66,222.06 168.76,222.00 169.87,221.94 170.98,221.87 172.09,221.81 173.19,221.75 174.30,221.68" fill="none" stroke="#c8c8e4" stroke-width="2.6" stroke-linejoin="round"/>
<polyline points="41.40,250.10 42.51,250.10 43.62,250.10 44.72,250.10 45.83,250.10 46.94,250.10 48.05,250.10 49.15,250.10 50.26,250.10 51.37,250.10 52.47,250.10 53.58,250.10 54.69,250.10 55.80,250.10 56.91,250.10 58.01,249.77 59.12,248.99 60.23,247.18 61.34,245.04 62.44,243.38 63.55,241.84 64.66,240.44 65.77,239.22 66.87,238.17 67.98,237.22 69.09,236.36 70.19,235.58 71.30,234.87 72.41,234.21 73.52,233.60 74.62,233.03 75.73,232.52 76.84,232.07 77.95,231.67 79.06,231.29 80.16,230.94 81.27,230.63 82.38,230.34 83.48,230.08 84.59,229.86 85.70,229.66 86.81,229.49 87.91,229.34 89.02,229.19 90.13,229.04 91.24,228.89 92.34,228.73 93.45,228.57 94.56,228.40 95.67,228.24 96.78,228.07 97.88,227.91 98.99,227.74 100.10,227.58 101.20,227.42 102.31,227.27 103.42,227.12 104.53,226.97 105.63,226.83 106.74,226.70 107.85,226.57 108.96,226.45 110.06,226.33 111.17,226.21 112.28,226.09 113.39,225.98 114.50,225.87 115.60,225.77 116.71,225.66 117.82,225.56 118.93,225.46 120.03,225.36 121.14,225.26 122.25,225.17 123.35,225.07 124.46,224.98 125.57,224.89 126.68,224.80 127.78,224.71 128.89,224.62 130.00,224.54 131.11,224.45 132.22,224.37 133.32,224.28 134.43,224.20 135.54,224.12 136.64,224.04 137.75,223.96 138.86,223.89 139.97,223.81 141.07,223.74 142.18,223.66 143.29,223.59 144.40,223.52 145.50,223.44 146.61,223.37 147.72,223.30 148.83,223.23 149.94,223.16 151.04,223.09 152.15,223.02 153.26,222.95 154.37,222.87 155.47,222.80 156.58,222.74 157.69,222.67 158.80,222.60 159.90,222.53 161.01,222.46 162.12,222.39 163.22,222.33 164.33,222.26 165.44,222.19 166.55,222.13 167.66,222.06 168.76,222.00 169.87,221.94 170.98,221.87 172.09,221.81 173.19,221.75 174.30,221.68" fill="none" stroke="#2a2a80" stroke-width="1.5" stroke-linejoin="round"/>
<path d="M40.30,250.10a1.1,1.1 0 1,0 2.2,0a1.1,1.1 0 1,0 -2.2,0M42.52,250.10a1.1,1.1 0 1,0 2.2,0a1.1,1.1 0 1,0 -2.2,0M44.73,250.10a1.1,1.1 0 1,0 2.2,0a1.1,1.1 0 1,0 -2.2,0M46.95,250.10a1.1,1.1 0 1,0 2.2,0a1.1,1.1 0 1,0 -2.2,0M49.16,250.10a1.1,1.1 0 1,0 2.2,0a1.1,1.1 0 1,0 -2.2,0M51.37,250.10a1.1,1.1 0 1,0 2.2,0a1.1,1.1 0 1,0 -2.2,0M53.59,250.10a1.1,1.1 0 1,0 2.2,0a1.1,1.1 0 1,0 -2.2,0M55.80,250.10a1.1,1.1 0 1,0 2.2,0a1.1,1.1 0 1,0 -2.2,0M58.02,248.99a1.1,1.1 0 1,0 2.2,0a1.1,1.1 0 1,0 -2.2,0M60.23,245.04a1.1,1.1 0 1,0 2.2,0a1.1,1.1 0 1,0 -2.2,0M62.45,241.84a1.1,1.1 0 1,0 2.2,0a1.1,1.1 0 1,0 -2.2,0M64.67,239.22a1.1,1.1 0 1,0 2.2,0a1.1,1.1 0 1,0 -2.2,0M66.88,237.22a1.1,1.1 0 1,0 2.2,0a1.1,1.1 0 1,0 -2.2,0M69.09,235.58a1.1,1.1 0 1,0 2.2,0a1.1,1.1 0 1,0 -2.2,0M71.31,234.21a1.1,1.1 0 1,0 2.2,0a1.1,1.1 0 1,0 -2.2,0M73.53,233.03a1.1,1.1 0 1,0 2.2,0a1.1,1.1 0 1,0 -2.2,0M75.74,232.07a1.1,1.1 0 1,0 2.2,0a1.1,1.1 0 1,0 -2.2,0M77.96,231.29a1.1,1.1 0 1,0 2.2,0a1.1,1.1 0 1,0 -2.2,0M80.17,230.63a1.1,1.1 0 1,0 2.2,0a1.1,1.1 0 1,0 -2.2,0M82.39,230.08a1.1,1.1 0 1,0 2.2,0a1.1,1.1 0 1,0 -2.2,0M84.60,229.66a1.1,1.1 0 1,0 2.2,0a1.1,1.1 0 1,0 -2.2,0M86.81,229.34a1.1,1.1 0 1,0 2.2,0a1.1,1.1 0 1,0 -2.2,0M89.03,229.04a1.1,1.1 0 1,0 2.2,0a1.1,1.1 0 1,0 -2.2,0M91.25,228.73a1.1,1.1 0 1,0 2.2,0a1.1,1.1 0 1,0 -2.2,0M93.46,228.40a1.1,1.1 0 1,0 2.2,0a1.1,1.1 0 1,0 -2.2,0M95.68,228.07a1.1,1.1 0 1,0 2.2,0a1.1,1.1 0 1,0 -2.2,0M97.89,227.74a1.1,1.1 0 1,0 2.2,0a1.1,1.1 0 1,0 -2.2,0M100.11,227.42a1.1,1.1 0 1,0 2.2,0a1.1,1.1 0 1,0 -2.2,0M102.32,227.12a1.1,1.1 0 1,0 2.2,0a1.1,1.1 0 1,0 -2.2,0M104.53,226.83a1.1,1.1 0 1,0 2.2,0a1.1,1.1 0 1,0 -2.2,0M106.75,226.57a1.1,1.1 0 1,0 2.2,0a1.1,1.1 0 1,0 -2.2,0M108.97,226.33a1.1,1.1 0 1,0 2.2,0a1.1,1.1 0 1,0 -2.2,0M111.18,226.09a1.1,1.1 0 1,0 2.2,0a1.1,1.1 0 1,0 -2.2,0M113.40,225.87a1.1,1.1 0 1,0 2.2,0a1.1,1.1 0 1,0 -2.2,0M115.61,225.66a1.1,1.1 0 1,0 2.2,0a1.1,1.1 0 1,0 -2.2,0M117.83,225.46a1.1,1.1 0 1,0 2.2,0a1.1,1.1 0 1,0 -2.2,0M120.04,225.26a1.1,1.1 0 1,0 2.2,0a1.1,1.1 0 1,0 -2.2,0M122.25,225.07a1.1,1.1 0 1,0 2.2,0a1.1,1.1 0 1,0 -2.2,0M124.47,224.89a1.1,1.1 0 1,0 2.2,0a1.1,1.1 0 1,0 -2.2,0M126.69,224.71a1.1,1.1 0 1,0 2.2,0a1.1,1.1 0 1,0 -2.2,0M128.90,224.54a1.1,1.1 0 1,0 2.2,0a1.1,1.1 0 1,0 -2.2,0M131.12,224.37a1.1,1.1 0 1,0 2.2,0a1.1,1.1 0 1,0 -2.2,0M133.33,224.20a1.1,1.1 0 1,0 2.2,0a1.1,1.1 0 1,0 -2.2,0M135.54,224.04a1.1,1.1 0 1,0 2.2,0a1.1,1.1 0 1,0 -2.2,0M137.76,223.89a1.1,1.1 0 1,0 2.2,0a1.1,1.1 0 1,0 -2.2,0M139.97,223.74a1.1,1.1 0 1,0 2.2,0a1.1,1.1 0 1,0 -2.2,0M142.19,223.59a1.1,1.1 0 1,0 2.2,0a1.1,1.1 0 1,0 -2.2,0M144.41,223.44a1.1,1.1 0 1,0 2.2,0a1.1,1.1 0 1,0 -2.2,0M146.62,223.30a1.1,1.1 0 1,0 2.2,0a1.1,1.1 0 1,0 -2.2,0M148.84,223.16a1.1,1.1 0 1,0 2.2,0a1.1,1.1 0 1,0 -2.2,0M151.05,223.02a1.1,1.1 0 1,0 2.2,0a1.1,1.1 0 1,0 -2.2,0M153.27,222.87a1.1,1.1 0 1,0 2.2,0a1.1,1.1 0 1,0 -2.2,0M155.48,222.74a1.1,1.1 0 1,0 2.2,0a1.1,1.1 0 1,0 -2.2,0M157.70,222.60a1.1,1.1 0 1,0 2.2,0a1.1,1.1 0 1,0 -2.2,0M159.91,222.46a1.1,1.1 0 1,0 2.2,0a1.1,1.1 0 1,0 -2.2,0M162.12,222.33a1.1,1.1 0 1,0 2.2,0a1.1,1.1 0 1,0 -2.2,0M164.34,222.19a1.1,1.1 0 1,0 2.2,0a1.1,1.1 0 1,0 -2.2,0M166.56,222.06a1.1,1.1 0 1,0 2.2,0a1.1,1.1 0 1,0 -2.2,0M168.77,221.94a1.1,1.1 0 1,0 2.2,0a1.1,1.1 0 1,0 -2.2,0M170.99,221.81a1.1,1.1 0 1,0 2.2,0a1.1,1.1 0 1,0 -2.2,0M173.20,221.68a1.1,1.1 0 1,0 2.2,0a1.1,1.1 0 1,0 -2.2,0" fill="#1a1a6a"/>
<polyline points="41.40,250.10 42.51,250.10 43.62,250.10 44.72,250.10 45.83,250.10 46.94,250.10 48.05,250.10 49.15,250.10 50.26,250.10 51.37,250.10 52.47,250.10 53.58,250.10 54.69,250.10 55.80,249.39 56.91,248.04 58.01,246.06 59.12,243.66 60.23,241.43 61.34,239.29 62.44,237.17 63.55,235.06 64.66,232.91 65.77,231.01 66.87,229.36 67.98,227.85 69.09,226.55 70.19,225.52 71.30,224.64 72.41,223.86 73.52,223.17 74.62,222.53 75.73,221.93 76.84,221.37 77.95,220.83 79.06,220.33 80.16,219.86 81.27,219.41 82.38,218.97 83.48,218.55 84.59,218.14 85.70,217.73 86.81,217.32 87.91,216.93 89.02,216.57 90.13,216.24 91.24,215.95 92.34,215.67 93.45,215.41 94.56,215.16 95.67,214.91 96.78,214.68 97.88,214.46 98.99,214.24 100.10,214.03 101.20,213.83 102.31,213.64 103.42,213.46 104.53,213.28 105.63,213.12 106.74,212.96 107.85,212.80 108.96,212.66 110.06,212.52 111.17,212.38 112.28,212.25 113.39,212.12 114.50,212.00 115.60,211.88 116.71,211.77 117.82,211.66 118.93,211.55 120.03,211.44 121.14,211.34 122.25,211.24 123.35,211.14 124.46,211.04 125.57,210.94 126.68,210.84 127.78,210.74 128.89,210.64 130.00,210.54 131.11,210.45 132.22,210.35 133.32,210.26 134.43,210.17 135.54,210.08 136.64,209.99 137.75,209.91 138.86,209.82 139.97,209.74 141.07,209.65 142.18,209.57 143.29,209.49 144.40,209.40 145.50,209.32 146.61,209.24 147.72,209.15 148.83,209.07 149.94,208.98 151.04,208.90 152.15,208.81 153.26,208.72 154.37,208.63 155.47,208.54 156.58,208.46 157.69,208.37 158.80,208.28 159.90,208.19 161.01,208.10 162.12,208.01 163.22,207.92 164.33,207.84 165.44,207.75 166.55,207.66 167.66,207.57 168.76,207.48 169.87,207.39 170.98,207.30 172.09,207.21 173.19,207.12 174.30,207.03" fill="none" stroke="#d8d8ee" stroke-width="2.8" stroke-linejoin="round"/>
<polyline points="41.40,250.10 42.51,250.10 43.62,250.10 44.72,250.10 45.83,250.10 46.94,250.10 48.05,250.10 49.15,250.10 50.26,250.10 51.37,250.10 52.47,250.10 53.58,250.10 54.69,250.10 55.80,249.39 56.91,248.04 58.01,246.06 59.12,243.66 60.23,241.43 61.34,239.29 62.44,237.17 63.55,235.06 64.66,232.91 65.77,231.01 66.87,229.36 67.98,227.85 69.09,226.55 70.19,225.52 71.30,224.64 72.41,223.86 73.52,223.17 74.62,222.53 75.73,221.93 76.84,221.37 77.95,220.83 79.06,220.33 80.16,219.86 81.27,219.41 82.38,218.97 83.48,218.55 84.59,218.14 85.70,217.73 86.81,217.32 87.91,216.93 89.02,216.57 90.13,216.24 91.24,215.95 92.34,215.67 93.45,215.41 94.56,215.16 95.67,214.91 96.78,214.68 97.88,214.46 98.99,214.24 100.10,214.03 101.20,213.83 102.31,213.64 103.42,213.46 104.53,213.28 105.63,213.12 106.74,212.96 107.85,212.80 108.96,212.66 110.06,212.52 111.17,212.38 112.28,212.25 113.39,212.12 114.50,212.00 115.60,211.88 116.71,211.77 117.82,211.66 118.93,211.55 120.03,211.44 121.14,211.34 122.25,211.24 123.35,211.14 124.46,211.04 125.57,210.94 126.68,210.84 127.78,210.74 128.89,210.64 130.00,210.54 131.11,210.45 132.22,210.35 133.32,210.26 134.43,210.17 135.54,210.08 136.64,209.99 137.75,209.91 138.86,209.82 139.97,209.74 141.07,209.65 142.18,209.57 143.29,209.49 144.40,209.40 145.50,209.32 146.61,209.24 147.72,209.15 148.83,209.07 149.94,208.98 151.04,208.90 152.15,208.81 153.26,208.72 154.37,208.63 155.47,208.54 156.58,208.46 157.69,208.37 158.80,208.28 159.90,208.19 161.01,208.10 162.12,208.01 163.22,207.92 164.33,207.84 165.44,207.75 166.55,207.66 167.66,207.57 168.76,207.48 169.87,207.39 170.98,207.30 172.09,207.21 173.19,207.12 174.30,207.03" fill="none" stroke="#8c8ac0" stroke-width="1.4" stroke-linejoin="round"/>
<path d="M40.30,250.10a1.1,1.1 0 1,0 2.2,0a1.1,1.1 0 1,0 -2.2,0M42.52,250.10a1.1,1.1 0 1,0 2.2,0a1.1,1.1 0 1,0 -2.2,0M44.73,250.10a1.1,1.1 0 1,0 2.2,0a1.1,1.1 0 1,0 -2.2,0M46.95,250.10a1.1,1.1 0 1,0 2.2,0a1.1,1.1 0 1,0 -2.2,0M49.16,250.10a1.1,1.1 0 1,0 2.2,0a1.1,1.1 0 1,0 -2.2,0M51.37,250.10a1.1,1.1 0 1,0 2.2,0a1.1,1.1 0 1,0 -2.2,0M53.59,250.10a1.1,1.1 0 1,0 2.2,0a1.1,1.1 0 1,0 -2.2,0M55.80,248.04a1.1,1.1 0 1,0 2.2,0a1.1,1.1 0 1,0 -2.2,0M58.02,243.66a1.1,1.1 0 1,0 2.2,0a1.1,1.1 0 1,0 -2.2,0M60.23,239.29a1.1,1.1 0 1,0 2.2,0a1.1,1.1 0 1,0 -2.2,0M62.45,235.06a1.1,1.1 0 1,0 2.2,0a1.1,1.1 0 1,0 -2.2,0M64.67,231.01a1.1,1.1 0 1,0 2.2,0a1.1,1.1 0 1,0 -2.2,0M66.88,227.85a1.1,1.1 0 1,0 2.2,0a1.1,1.1 0 1,0 -2.2,0M69.09,225.52a1.1,1.1 0 1,0 2.2,0a1.1,1.1 0 1,0 -2.2,0M71.31,223.86a1.1,1.1 0 1,0 2.2,0a1.1,1.1 0 1,0 -2.2,0M73.53,222.53a1.1,1.1 0 1,0 2.2,0a1.1,1.1 0 1,0 -2.2,0M75.74,221.37a1.1,1.1 0 1,0 2.2,0a1.1,1.1 0 1,0 -2.2,0M77.96,220.33a1.1,1.1 0 1,0 2.2,0a1.1,1.1 0 1,0 -2.2,0M80.17,219.41a1.1,1.1 0 1,0 2.2,0a1.1,1.1 0 1,0 -2.2,0M82.39,218.55a1.1,1.1 0 1,0 2.2,0a1.1,1.1 0 1,0 -2.2,0M84.60,217.73a1.1,1.1 0 1,0 2.2,0a1.1,1.1 0 1,0 -2.2,0M86.81,216.93a1.1,1.1 0 1,0 2.2,0a1.1,1.1 0 1,0 -2.2,0M89.03,216.24a1.1,1.1 0 1,0 2.2,0a1.1,1.1 0 1,0 -2.2,0M91.25,215.67a1.1,1.1 0 1,0 2.2,0a1.1,1.1 0 1,0 -2.2,0M93.46,215.16a1.1,1.1 0 1,0 2.2,0a1.1,1.1 0 1,0 -2.2,0M95.68,214.68a1.1,1.1 0 1,0 2.2,0a1.1,1.1 0 1,0 -2.2,0M97.89,214.24a1.1,1.1 0 1,0 2.2,0a1.1,1.1 0 1,0 -2.2,0M100.11,213.83a1.1,1.1 0 1,0 2.2,0a1.1,1.1 0 1,0 -2.2,0M102.32,213.46a1.1,1.1 0 1,0 2.2,0a1.1,1.1 0 1,0 -2.2,0M104.53,213.12a1.1,1.1 0 1,0 2.2,0a1.1,1.1 0 1,0 -2.2,0M106.75,212.80a1.1,1.1 0 1,0 2.2,0a1.1,1.1 0 1,0 -2.2,0M108.97,212.52a1.1,1.1 0 1,0 2.2,0a1.1,1.1 0 1,0 -2.2,0M111.18,212.25a1.1,1.1 0 1,0 2.2,0a1.1,1.1 0 1,0 -2.2,0M113.40,212.00a1.1,1.1 0 1,0 2.2,0a1.1,1.1 0 1,0 -2.2,0M115.61,211.77a1.1,1.1 0 1,0 2.2,0a1.1,1.1 0 1,0 -2.2,0M117.83,211.55a1.1,1.1 0 1,0 2.2,0a1.1,1.1 0 1,0 -2.2,0M120.04,211.34a1.1,1.1 0 1,0 2.2,0a1.1,1.1 0 1,0 -2.2,0M122.25,211.14a1.1,1.1 0 1,0 2.2,0a1.1,1.1 0 1,0 -2.2,0M124.47,210.94a1.1,1.1 0 1,0 2.2,0a1.1,1.1 0 1,0 -2.2,0M126.69,210.74a1.1,1.1 0 1,0 2.2,0a1.1,1.1 0 1,0 -2.2,0M128.90,210.54a1.1,1.1 0 1,0 2.2,0a1.1,1.1 0 1,0 -2.2,0M131.12,210.35a1.1,1.1 0 1,0 2.2,0a1.1,1.1 0 1,0 -2.2,0M133.33,210.17a1.1,1.1 0 1,0 2.2,0a1.1,1.1 0 1,0 -2.2,0M135.54,209.99a1.1,1.1 0 1,0 2.2,0a1.1,1.1 0 1,0 -2.2,0M137.76,209.82a1.1,1.1 0 1,0 2.2,0a1.1,1.1 0 1,0 -2.2,0M139.97,209.65a1.1,1.1 0 1,0 2.2,0a1.1,1.1 0 1,0 -2.2,0M142.19,209.49a1.1,1.1 0 1,0 2.2,0a1.1,1.1 0 1,0 -2.2,0M144.41,209.32a1.1,1.1 0 1,0 2.2,0a1.1,1.1 0 1,0 -2.2,0M146.62,209.15a1.1,1.1 0 1,0 2.2,0a1.1,1.1 0 1,0 -2.2,0M148.84,208.98a1.1,1.1 0 1,0 2.2,0a1.1,1.1 0 1,0 -2.2,0M151.05,208.81a1.1,1.1 0 1,0 2.2,0a1.1,1.1 0 1,0 -2.2,0M153.27,208.63a1.1,1.1 0 1,0 2.2,0a1.1,1.1 0 1,0 -2.2,0M155.48,208.46a1.1,1.1 0 1,0 2.2,0a1.1,1.1 0 1,0 -2.2,0M157.70,208.28a1.1,1.1 0 1,0 2.2,0a1.1,1.1 0 1,0 -2.2,0M159.91,208.10a1.1,1.1 0 1,0 2.2,0a1.1,1.1 0 1,0 -2.2,0M162.12,207.92a1.1,1.1 0 1,0 2.2,0a1.1,1.1 0 1,0 -2.2,0M164.34,207.75a1.1,1.1 0 1,0 2.2,0a1.1,1.1 0 1,0 -2.2,0M166.56,207.57a1.1,1.1 0 1,0 2.2,0a1.1,1.1 0 1,0 -2.2,0M168.77,207.39a1.1,1.1 0 1,0 2.2,0a1.1,1.1 0 1,0 -2.2,0M170.99,207.21a1.1,1.1 0 1,0 2.2,0a1.1,1.1 0 1,0 -2.2,0M173.20,207.03a1.1,1.1 0 1,0 2.2,0a1.1,1.1 0 1,0 -2.2,0" fill="#7c79b4"/>
<polyline points="41.40,250.10 42.51,250.10 43.62,250.10 44.72,250.10 45.83,250.10 46.94,250.10 48.05,250.10 49.15,250.10 50.26,250.10 51.37,250.10 52.47,250.10 53.58,249.24 54.69,247.62 55.80,245.19 56.91,242.33 58.01,239.56 59.12,236.67 60.23,233.79 61.34,231.01 62.44,228.29 63.55,225.68 64.66,223.13 65.77,220.70 66.87,218.64 67.98,216.84 69.09,215.31 70.19,214.17 71.30,213.27 72.41,212.51 73.52,211.85 74.62,211.23 75.73,210.65 76.84,210.10 77.95,209.59 79.06,209.11 80.16,208.66 81.27,208.24 82.38,207.84 83.48,207.47 84.59,207.11 85.70,206.77 86.81,206.44 87.91,206.14 89.02,205.85 90.13,205.59 91.24,205.34 92.34,205.11 93.45,204.89 94.56,204.68 95.67,204.47 96.78,204.28 97.88,204.09 98.99,203.91 100.10,203.73 101.20,203.56 102.31,203.39 103.42,203.23 104.53,203.07 105.63,202.91 106.74,202.75 107.85,202.59 108.96,202.44 110.06,202.28 111.17,202.13 112.28,201.97 113.39,201.82 114.50,201.68 115.60,201.53 116.71,201.39 117.82,201.25 118.93,201.11 120.03,200.97 121.14,200.84 122.25,200.71 123.35,200.58 124.46,200.46 125.57,200.33 126.68,200.22 127.78,200.10 128.89,199.99 130.00,199.89 131.11,199.78 132.22,199.68 133.32,199.58 134.43,199.48 135.54,199.39 136.64,199.30 137.75,199.21 138.86,199.12 139.97,199.03 141.07,198.94 142.18,198.86 143.29,198.78 144.40,198.70 145.50,198.62 146.61,198.54 147.72,198.46 148.83,198.38 149.94,198.30 151.04,198.23 152.15,198.15 153.26,198.08 154.37,198.00 155.47,197.93 156.58,197.86 157.69,197.78 158.80,197.71 159.90,197.64 161.01,197.57 162.12,197.51 163.22,197.44 164.33,197.37 165.44,197.31 166.55,197.24 167.66,197.18 168.76,197.12 169.87,197.05 170.98,196.99 172.09,196.94 173.19,196.88 174.30,196.82" fill="none" stroke="#f8dcb4" stroke-width="2.8" stroke-linejoin="round"/>
<polyline points="41.40,250.10 42.51,250.10 43.62,250.10 44.72,250.10 45.83,250.10 46.94,250.10 48.05,250.10 49.15,250.10 50.26,250.10 51.37,250.10 52.47,250.10 53.58,249.24 54.69,247.62 55.80,245.19 56.91,242.33 58.01,239.56 59.12,236.67 60.23,233.79 61.34,231.01 62.44,228.29 63.55,225.68 64.66,223.13 65.77,220.70 66.87,218.64 67.98,216.84 69.09,215.31 70.19,214.17 71.30,213.27 72.41,212.51 73.52,211.85 74.62,211.23 75.73,210.65 76.84,210.10 77.95,209.59 79.06,209.11 80.16,208.66 81.27,208.24 82.38,207.84 83.48,207.47 84.59,207.11 85.70,206.77 86.81,206.44 87.91,206.14 89.02,205.85 90.13,205.59 91.24,205.34 92.34,205.11 93.45,204.89 94.56,204.68 95.67,204.47 96.78,204.28 97.88,204.09 98.99,203.91 100.10,203.73 101.20,203.56 102.31,203.39 103.42,203.23 104.53,203.07 105.63,202.91 106.74,202.75 107.85,202.59 108.96,202.44 110.06,202.28 111.17,202.13 112.28,201.97 113.39,201.82 114.50,201.68 115.60,201.53 116.71,201.39 117.82,201.25 118.93,201.11 120.03,200.97 121.14,200.84 122.25,200.71 123.35,200.58 124.46,200.46 125.57,200.33 126.68,200.22 127.78,200.10 128.89,199.99 130.00,199.89 131.11,199.78 132.22,199.68 133.32,199.58 134.43,199.48 135.54,199.39 136.64,199.30 137.75,199.21 138.86,199.12 139.97,199.03 141.07,198.94 142.18,198.86 143.29,198.78 144.40,198.70 145.50,198.62 146.61,198.54 147.72,198.46 148.83,198.38 149.94,198.30 151.04,198.23 152.15,198.15 153.26,198.08 154.37,198.00 155.47,197.93 156.58,197.86 157.69,197.78 158.80,197.71 159.90,197.64 161.01,197.57 162.12,197.51 163.22,197.44 164.33,197.37 165.44,197.31 166.55,197.24 167.66,197.18 168.76,197.12 169.87,197.05 170.98,196.99 172.09,196.94 173.19,196.88 174.30,196.82" fill="none" stroke="#f0a850" stroke-width="1.2" stroke-linejoin="round"/>
<path d="M40.30,250.10a1.1,1.1 0 1,0 2.2,0a1.1,1.1 0 1,0 -2.2,0M42.52,250.10a1.1,1.1 0 1,0 2.2,0a1.1,1.1 0 1,0 -2.2,0M44.73,250.10a1.1,1.1 0 1,0 2.2,0a1.1,1.1 0 1,0 -2.2,0M46.95,250.10a1.1,1.1 0 1,0 2.2,0a1.1,1.1 0 1,0 -2.2,0M49.16,250.10a1.1,1.1 0 1,0 2.2,0a1.1,1.1 0 1,0 -2.2,0M51.37,250.10a1.1,1.1 0 1,0 2.2,0a1.1,1.1 0 1,0 -2.2,0M53.59,247.62a1.1,1.1 0 1,0 2.2,0a1.1,1.1 0 1,0 -2.2,0M55.80,242.33a1.1,1.1 0 1,0 2.2,0a1.1,1.1 0 1,0 -2.2,0M58.02,236.67a1.1,1.1 0 1,0 2.2,0a1.1,1.1 0 1,0 -2.2,0M60.23,231.01a1.1,1.1 0 1,0 2.2,0a1.1,1.1 0 1,0 -2.2,0M62.45,225.68a1.1,1.1 0 1,0 2.2,0a1.1,1.1 0 1,0 -2.2,0M64.67,220.70a1.1,1.1 0 1,0 2.2,0a1.1,1.1 0 1,0 -2.2,0M66.88,216.84a1.1,1.1 0 1,0 2.2,0a1.1,1.1 0 1,0 -2.2,0M69.09,214.17a1.1,1.1 0 1,0 2.2,0a1.1,1.1 0 1,0 -2.2,0M71.31,212.51a1.1,1.1 0 1,0 2.2,0a1.1,1.1 0 1,0 -2.2,0M73.53,211.23a1.1,1.1 0 1,0 2.2,0a1.1,1.1 0 1,0 -2.2,0M75.74,210.10a1.1,1.1 0 1,0 2.2,0a1.1,1.1 0 1,0 -2.2,0M77.96,209.11a1.1,1.1 0 1,0 2.2,0a1.1,1.1 0 1,0 -2.2,0M80.17,208.24a1.1,1.1 0 1,0 2.2,0a1.1,1.1 0 1,0 -2.2,0M82.39,207.47a1.1,1.1 0 1,0 2.2,0a1.1,1.1 0 1,0 -2.2,0M84.60,206.77a1.1,1.1 0 1,0 2.2,0a1.1,1.1 0 1,0 -2.2,0M86.81,206.14a1.1,1.1 0 1,0 2.2,0a1.1,1.1 0 1,0 -2.2,0M89.03,205.59a1.1,1.1 0 1,0 2.2,0a1.1,1.1 0 1,0 -2.2,0M91.25,205.11a1.1,1.1 0 1,0 2.2,0a1.1,1.1 0 1,0 -2.2,0M93.46,204.68a1.1,1.1 0 1,0 2.2,0a1.1,1.1 0 1,0 -2.2,0M95.68,204.28a1.1,1.1 0 1,0 2.2,0a1.1,1.1 0 1,0 -2.2,0M97.89,203.91a1.1,1.1 0 1,0 2.2,0a1.1,1.1 0 1,0 -2.2,0M100.11,203.56a1.1,1.1 0 1,0 2.2,0a1.1,1.1 0 1,0 -2.2,0M102.32,203.23a1.1,1.1 0 1,0 2.2,0a1.1,1.1 0 1,0 -2.2,0M104.53,202.91a1.1,1.1 0 1,0 2.2,0a1.1,1.1 0 1,0 -2.2,0M106.75,202.59a1.1,1.1 0 1,0 2.2,0a1.1,1.1 0 1,0 -2.2,0M108.97,202.28a1.1,1.1 0 1,0 2.2,0a1.1,1.1 0 1,0 -2.2,0M111.18,201.97a1.1,1.1 0 1,0 2.2,0a1.1,1.1 0 1,0 -2.2,0M113.40,201.68a1.1,1.1 0 1,0 2.2,0a1.1,1.1 0 1,0 -2.2,0M115.61,201.39a1.1,1.1 0 1,0 2.2,0a1.1,1.1 0 1,0 -2.2,0M117.83,201.11a1.1,1.1 0 1,0 2.2,0a1.1,1.1 0 1,0 -2.2,0M120.04,200.84a1.1,1.1 0 1,0 2.2,0a1.1,1.1 0 1,0 -2.2,0M122.25,200.58a1.1,1.1 0 1,0 2.2,0a1.1,1.1 0 1,0 -2.2,0M124.47,200.33a1.1,1.1 0 1,0 2.2,0a1.1,1.1 0 1,0 -2.2,0M126.69,200.10a1.1,1.1 0 1,0 2.2,0a1.1,1.1 0 1,0 -2.2,0M128.90,199.89a1.1,1.1 0 1,0 2.2,0a1.1,1.1 0 1,0 -2.2,0M131.12,199.68a1.1,1.1 0 1,0 2.2,0a1.1,1.1 0 1,0 -2.2,0M133.33,199.48a1.1,1.1 0 1,0 2.2,0a1.1,1.1 0 1,0 -2.2,0M135.54,199.30a1.1,1.1 0 1,0 2.2,0a1.1,1.1 0 1,0 -2.2,0M137.76,199.12a1.1,1.1 0 1,0 2.2,0a1.1,1.1 0 1,0 -2.2,0M139.97,198.94a1.1,1.1 0 1,0 2.2,0a1.1,1.1 0 1,0 -2.2,0M142.19,198.78a1.1,1.1 0 1,0 2.2,0a1.1,1.1 0 1,0 -2.2,0M144.41,198.62a1.1,1.1 0 1,0 2.2,0a1.1,1.1 0 1,0 -2.2,0M146.62,198.46a1.1,1.1 0 1,0 2.2,0a1.1,1.1 0 1,0 -2.2,0M148.84,198.30a1.1,1.1 0 1,0 2.2,0a1.1,1.1 0 1,0 -2.2,0M151.05,198.15a1.1,1.1 0 1,0 2.2,0a1.1,1.1 0 1,0 -2.2,0M153.27,198.00a1.1,1.1 0 1,0 2.2,0a1.1,1.1 0 1,0 -2.2,0M155.48,197.86a1.1,1.1 0 1,0 2.2,0a1.1,1.1 0 1,0 -2.2,0M157.70,197.71a1.1,1.1 0 1,0 2.2,0a1.1,1.1 0 1,0 -2.2,0M159.91,197.57a1.1,1.1 0 1,0 2.2,0a1.1,1.1 0 1,0 -2.2,0M162.12,197.44a1.1,1.1 0 1,0 2.2,0a1.1,1.1 0 1,0 -2.2,0M164.34,197.31a1.1,1.1 0 1,0 2.2,0a1.1,1.1 0 1,0 -2.2,0M166.56,197.18a1.1,1.1 0 1,0 2.2,0a1.1,1.1 0 1,0 -2.2,0M168.77,197.05a1.1,1.1 0 1,0 2.2,0a1.1,1.1 0 1,0 -2.2,0M170.99,196.94a1.1,1.1 0 1,0 2.2,0a1.1,1.1 0 1,0 -2.2,0M173.20,196.82a1.1,1.1 0 1,0 2.2,0a1.1,1.1 0 1,0 -2.2,0" fill="#e0962e"/>
<polyline points="41.40,250.99 42.51,251.38 43.62,251.71 44.72,251.87 45.83,251.88 46.94,251.88 48.05,251.88 49.15,251.88 50.26,251.76 51.37,251.35 52.47,250.54 53.58,248.49 54.69,246.16 55.80,243.46 56.91,240.66 58.01,237.77 59.12,234.78 60.23,231.84 61.34,228.94 62.44,226.00 63.55,222.85 64.66,219.45 65.77,216.58 66.87,214.36 67.98,212.51 69.09,211.28 70.19,210.42 71.30,209.72 72.41,209.15 73.52,208.65 74.62,208.18 75.73,207.74 76.84,207.33 77.95,206.96 79.06,206.61 80.16,206.29 81.27,206.00 82.38,205.74 83.48,205.50 84.59,205.27 85.70,205.07 86.81,204.88 87.91,204.69 89.02,204.51 90.13,204.33 91.24,204.15 92.34,203.97 93.45,203.79 94.56,203.62 95.67,203.44 96.78,203.27 97.88,203.09 98.99,202.92 100.10,202.76 101.20,202.60 102.31,202.44 103.42,202.28 104.53,202.13 105.63,201.98 106.74,201.84 107.85,201.70 108.96,201.57 110.06,201.44 111.17,201.31 112.28,201.19 113.39,201.06 114.50,200.94 115.60,200.82 116.71,200.71 117.82,200.59 118.93,200.48 120.03,200.37 121.14,200.26 122.25,200.16 123.35,200.05 124.46,199.95 125.57,199.84 126.68,199.74 127.78,199.64 128.89,199.54 130.00,199.44 131.11,199.35 132.22,199.25 133.32,199.16 134.43,199.07 135.54,198.98 136.64,198.89 137.75,198.80 138.86,198.71 139.97,198.62 141.07,198.54 142.18,198.45 143.29,198.37 144.40,198.28 145.50,198.20 146.61,198.12 147.72,198.04 148.83,197.95 149.94,197.87 151.04,197.79 152.15,197.71 153.26,197.63 154.37,197.54 155.47,197.46 156.58,197.38 157.69,197.30 158.80,197.22 159.90,197.14 161.01,197.06 162.12,196.99 163.22,196.91 164.33,196.83 165.44,196.75 166.55,196.68 167.66,196.60 168.76,196.53 169.87,196.45 170.98,196.38 172.09,196.30 173.19,196.23 174.30,196.15" fill="none" stroke="#f0b8b8" stroke-width="3.0" stroke-linejoin="round"/>
<polyline points="41.40,250.99 42.51,251.38 43.62,251.71 44.72,251.87 45.83,251.88 46.94,251.88 48.05,251.88 49.15,251.88 50.26,251.76 51.37,251.35 52.47,250.54 53.58,248.49 54.69,246.16 55.80,243.46 56.91,240.66 58.01,237.77 59.12,234.78 60.23,231.84 61.34,228.94 62.44,226.00 63.55,222.85 64.66,219.45 65.77,216.58 66.87,214.36 67.98,212.51 69.09,211.28 70.19,210.42 71.30,209.72 72.41,209.15 73.52,208.65 74.62,208.18 75.73,207.74 76.84,207.33 77.95,206.96 79.06,206.61 80.16,206.29 81.27,206.00 82.38,205.74 83.48,205.50 84.59,205.27 85.70,205.07 86.81,204.88 87.91,204.69 89.02,204.51 90.13,204.33 91.24,204.15 92.34,203.97 93.45,203.79 94.56,203.62 95.67,203.44 96.78,203.27 97.88,203.09 98.99,202.92 100.10,202.76 101.20,202.60 102.31,202.44 103.42,202.28 104.53,202.13 105.63,201.98 106.74,201.84 107.85,201.70 108.96,201.57 110.06,201.44 111.17,201.31 112.28,201.19 113.39,201.06 114.50,200.94 115.60,200.82 116.71,200.71 117.82,200.59 118.93,200.48 120.03,200.37 121.14,200.26 122.25,200.16 123.35,200.05 124.46,199.95 125.57,199.84 126.68,199.74 127.78,199.64 128.89,199.54 130.00,199.44 131.11,199.35 132.22,199.25 133.32,199.16 134.43,199.07 135.54,198.98 136.64,198.89 137.75,198.80 138.86,198.71 139.97,198.62 141.07,198.54 142.18,198.45 143.29,198.37 144.40,198.28 145.50,198.20 146.61,198.12 147.72,198.04 148.83,197.95 149.94,197.87 151.04,197.79 152.15,197.71 153.26,197.63 154.37,197.54 155.47,197.46 156.58,197.38 157.69,197.30 158.80,197.22 159.90,197.14 161.01,197.06 162.12,196.99 163.22,196.91 164.33,196.83 165.44,196.75 166.55,196.68 167.66,196.60 168.76,196.53 169.87,196.45 170.98,196.38 172.09,196.30 173.19,196.23 174.30,196.15" fill="none" stroke="#b01820" stroke-width="1.4" stroke-linejoin="round"/>
<path d="M40.25,250.99a1.15,1.15 0 1,0 2.3,0a1.15,1.15 0 1,0 -2.3,0M42.47,251.71a1.15,1.15 0 1,0 2.3,0a1.15,1.15 0 1,0 -2.3,0M44.68,251.88a1.15,1.15 0 1,0 2.3,0a1.15,1.15 0 1,0 -2.3,0M46.90,251.88a1.15,1.15 0 1,0 2.3,0a1.15,1.15 0 1,0 -2.3,0M49.11,251.76a1.15,1.15 0 1,0 2.3,0a1.15,1.15 0 1,0 -2.3,0M51.32,250.54a1.15,1.15 0 1,0 2.3,0a1.15,1.15 0 1,0 -2.3,0M53.54,246.16a1.15,1.15 0 1,0 2.3,0a1.15,1.15 0 1,0 -2.3,0M55.76,240.66a1.15,1.15 0 1,0 2.3,0a1.15,1.15 0 1,0 -2.3,0M57.97,234.78a1.15,1.15 0 1,0 2.3,0a1.15,1.15 0 1,0 -2.3,0M60.19,228.94a1.15,1.15 0 1,0 2.3,0a1.15,1.15 0 1,0 -2.3,0M62.40,222.85a1.15,1.15 0 1,0 2.3,0a1.15,1.15 0 1,0 -2.3,0M64.61,216.58a1.15,1.15 0 1,0 2.3,0a1.15,1.15 0 1,0 -2.3,0M66.83,212.51a1.15,1.15 0 1,0 2.3,0a1.15,1.15 0 1,0 -2.3,0M69.04,210.42a1.15,1.15 0 1,0 2.3,0a1.15,1.15 0 1,0 -2.3,0M71.26,209.15a1.15,1.15 0 1,0 2.3,0a1.15,1.15 0 1,0 -2.3,0M73.47,208.18a1.15,1.15 0 1,0 2.3,0a1.15,1.15 0 1,0 -2.3,0M75.69,207.33a1.15,1.15 0 1,0 2.3,0a1.15,1.15 0 1,0 -2.3,0M77.91,206.61a1.15,1.15 0 1,0 2.3,0a1.15,1.15 0 1,0 -2.3,0M80.12,206.00a1.15,1.15 0 1,0 2.3,0a1.15,1.15 0 1,0 -2.3,0M82.33,205.50a1.15,1.15 0 1,0 2.3,0a1.15,1.15 0 1,0 -2.3,0M84.55,205.07a1.15,1.15 0 1,0 2.3,0a1.15,1.15 0 1,0 -2.3,0M86.76,204.69a1.15,1.15 0 1,0 2.3,0a1.15,1.15 0 1,0 -2.3,0M88.98,204.33a1.15,1.15 0 1,0 2.3,0a1.15,1.15 0 1,0 -2.3,0M91.19,203.97a1.15,1.15 0 1,0 2.3,0a1.15,1.15 0 1,0 -2.3,0M93.41,203.62a1.15,1.15 0 1,0 2.3,0a1.15,1.15 0 1,0 -2.3,0M95.62,203.27a1.15,1.15 0 1,0 2.3,0a1.15,1.15 0 1,0 -2.3,0M97.84,202.92a1.15,1.15 0 1,0 2.3,0a1.15,1.15 0 1,0 -2.3,0M100.05,202.60a1.15,1.15 0 1,0 2.3,0a1.15,1.15 0 1,0 -2.3,0M102.27,202.28a1.15,1.15 0 1,0 2.3,0a1.15,1.15 0 1,0 -2.3,0M104.48,201.98a1.15,1.15 0 1,0 2.3,0a1.15,1.15 0 1,0 -2.3,0M106.70,201.70a1.15,1.15 0 1,0 2.3,0a1.15,1.15 0 1,0 -2.3,0M108.91,201.44a1.15,1.15 0 1,0 2.3,0a1.15,1.15 0 1,0 -2.3,0M111.13,201.19a1.15,1.15 0 1,0 2.3,0a1.15,1.15 0 1,0 -2.3,0M113.34,200.94a1.15,1.15 0 1,0 2.3,0a1.15,1.15 0 1,0 -2.3,0M115.56,200.71a1.15,1.15 0 1,0 2.3,0a1.15,1.15 0 1,0 -2.3,0M117.78,200.48a1.15,1.15 0 1,0 2.3,0a1.15,1.15 0 1,0 -2.3,0M119.99,200.26a1.15,1.15 0 1,0 2.3,0a1.15,1.15 0 1,0 -2.3,0M122.20,200.05a1.15,1.15 0 1,0 2.3,0a1.15,1.15 0 1,0 -2.3,0M124.42,199.84a1.15,1.15 0 1,0 2.3,0a1.15,1.15 0 1,0 -2.3,0M126.63,199.64a1.15,1.15 0 1,0 2.3,0a1.15,1.15 0 1,0 -2.3,0M128.85,199.44a1.15,1.15 0 1,0 2.3,0a1.15,1.15 0 1,0 -2.3,0M131.06,199.25a1.15,1.15 0 1,0 2.3,0a1.15,1.15 0 1,0 -2.3,0M133.28,199.07a1.15,1.15 0 1,0 2.3,0a1.15,1.15 0 1,0 -2.3,0M135.49,198.89a1.15,1.15 0 1,0 2.3,0a1.15,1.15 0 1,0 -2.3,0M137.71,198.71a1.15,1.15 0 1,0 2.3,0a1.15,1.15 0 1,0 -2.3,0M139.92,198.54a1.15,1.15 0 1,0 2.3,0a1.15,1.15 0 1,0 -2.3,0M142.14,198.37a1.15,1.15 0 1,0 2.3,0a1.15,1.15 0 1,0 -2.3,0M144.35,198.20a1.15,1.15 0 1,0 2.3,0a1.15,1.15 0 1,0 -2.3,0M146.57,198.04a1.15,1.15 0 1,0 2.3,0a1.15,1.15 0 1,0 -2.3,0M148.78,197.87a1.15,1.15 0 1,0 2.3,0a1.15,1.15 0 1,0 -2.3,0M151.00,197.71a1.15,1.15 0 1,0 2.3,0a1.15,1.15 0 1,0 -2.3,0M153.22,197.54a1.15,1.15 0 1,0 2.3,0a1.15,1.15 0 1,0 -2.3,0M155.43,197.38a1.15,1.15 0 1,0 2.3,0a1.15,1.15 0 1,0 -2.3,0M157.65,197.22a1.15,1.15 0 1,0 2.3,0a1.15,1.15 0 1,0 -2.3,0M159.86,197.06a1.15,1.15 0 1,0 2.3,0a1.15,1.15 0 1,0 -2.3,0M162.07,196.91a1.15,1.15 0 1,0 2.3,0a1.15,1.15 0 1,0 -2.3,0M164.29,196.75a1.15,1.15 0 1,0 2.3,0a1.15,1.15 0 1,0 -2.3,0M166.50,196.60a1.15,1.15 0 1,0 2.3,0a1.15,1.15 0 1,0 -2.3,0M168.72,196.45a1.15,1.15 0 1,0 2.3,0a1.15,1.15 0 1,0 -2.3,0M170.94,196.30a1.15,1.15 0 1,0 2.3,0a1.15,1.15 0 1,0 -2.3,0M173.15,196.15a1.15,1.15 0 1,0 2.3,0a1.15,1.15 0 1,0 -2.3,0" fill="#8c1018"/>
<line x1="245.50" y1="173.50" x2="245.50" y2="267.80" stroke="#000" stroke-width="1.25"/>
<line x1="242.10" y1="264.84" x2="245.50" y2="264.84" stroke="#333" stroke-width="1.1"/>
<text x="239.10" y="267.34" font-size="7.1" text-anchor="end" fill="#222" textLength="16.08" lengthAdjust="spacingAndGlyphs">-0.02</text>
<line x1="242.10" y1="250.20" x2="245.50" y2="250.20" stroke="#333" stroke-width="1.1"/>
<text x="239.10" y="252.70" font-size="7.1" text-anchor="end" fill="#222" textLength="12.75" lengthAdjust="spacingAndGlyphs">0.00</text>
<line x1="242.10" y1="235.56" x2="245.50" y2="235.56" stroke="#333" stroke-width="1.1"/>
<text x="239.10" y="238.06" font-size="7.1" text-anchor="end" fill="#222" textLength="12.75" lengthAdjust="spacingAndGlyphs">0.02</text>
<line x1="242.10" y1="220.92" x2="245.50" y2="220.92" stroke="#333" stroke-width="1.1"/>
<text x="239.10" y="223.42" font-size="7.1" text-anchor="end" fill="#222" textLength="12.75" lengthAdjust="spacingAndGlyphs">0.04</text>
<line x1="242.10" y1="206.28" x2="245.50" y2="206.28" stroke="#333" stroke-width="1.1"/>
<text x="239.10" y="208.78" font-size="7.1" text-anchor="end" fill="#222" textLength="12.75" lengthAdjust="spacingAndGlyphs">0.06</text>
<line x1="242.10" y1="191.64" x2="245.50" y2="191.64" stroke="#333" stroke-width="1.1"/>
<text x="239.10" y="194.14" font-size="7.1" text-anchor="end" fill="#222" textLength="12.75" lengthAdjust="spacingAndGlyphs">0.08</text>
<line x1="242.10" y1="177.00" x2="245.50" y2="177.00" stroke="#333" stroke-width="1.1"/>
<text x="239.10" y="179.50" font-size="7.1" text-anchor="end" fill="#222" textLength="12.75" lengthAdjust="spacingAndGlyphs">0.10</text>
<line x1="245.50" y1="250.20" x2="381.40" y2="250.20" stroke="#000" stroke-width="1.2"/>
<line x1="245.50" y1="250.20" x2="245.50" y2="253.40" stroke="#111" stroke-width="1"/>
<line x1="249.93" y1="250.20" x2="249.93" y2="251.80" stroke="#222" stroke-width="0.8"/>
<line x1="254.36" y1="250.20" x2="254.36" y2="251.80" stroke="#222" stroke-width="0.8"/>
<line x1="258.79" y1="250.20" x2="258.79" y2="251.80" stroke="#222" stroke-width="0.8"/>
<line x1="263.22" y1="250.20" x2="263.22" y2="251.80" stroke="#222" stroke-width="0.8"/>
<line x1="267.65" y1="250.20" x2="267.65" y2="251.80" stroke="#222" stroke-width="0.8"/>
<line x1="272.08" y1="250.20" x2="272.08" y2="251.80" stroke="#222" stroke-width="0.8"/>
<line x1="276.51" y1="250.20" x2="276.51" y2="251.80" stroke="#222" stroke-width="0.8"/>
<line x1="280.94" y1="250.20" x2="280.94" y2="251.80" stroke="#222" stroke-width="0.8"/>
<line x1="285.37" y1="250.20" x2="285.37" y2="251.80" stroke="#222" stroke-width="0.8"/>
<line x1="289.80" y1="250.20" x2="289.80" y2="253.40" stroke="#111" stroke-width="1"/>
<text x="289.80" y="262.20" font-size="7.1" text-anchor="middle" fill="#222">10</text>
<line x1="294.23" y1="250.20" x2="294.23" y2="251.80" stroke="#222" stroke-width="0.8"/>
<line x1="298.66" y1="250.20" x2="298.66" y2="251.80" stroke="#222" stroke-width="0.8"/>
<line x1="303.09" y1="250.20" x2="303.09" y2="251.80" stroke="#222" stroke-width="0.8"/>
<line x1="307.52" y1="250.20" x2="307.52" y2="251.80" stroke="#222" stroke-width="0.8"/>
<line x1="311.95" y1="250.20" x2="311.95" y2="251.80" stroke="#222" stroke-width="0.8"/>
<line x1="316.38" y1="250.20" x2="316.38" y2="251.80" stroke="#222" stroke-width="0.8"/>
<line x1="320.81" y1="250.20" x2="320.81" y2="251.80" stroke="#222" stroke-width="0.8"/>
<line x1="325.24" y1="250.20" x2="325.24" y2="251.80" stroke="#222" stroke-width="0.8"/>
<line x1="329.67" y1="250.20" x2="329.67" y2="251.80" stroke="#222" stroke-width="0.8"/>
<line x1="334.10" y1="250.20" x2="334.10" y2="253.40" stroke="#111" stroke-width="1"/>
<text x="334.10" y="262.20" font-size="7.1" text-anchor="middle" fill="#222">20</text>
<line x1="338.53" y1="250.20" x2="338.53" y2="251.80" stroke="#222" stroke-width="0.8"/>
<line x1="342.96" y1="250.20" x2="342.96" y2="251.80" stroke="#222" stroke-width="0.8"/>
<line x1="347.39" y1="250.20" x2="347.39" y2="251.80" stroke="#222" stroke-width="0.8"/>
<line x1="351.82" y1="250.20" x2="351.82" y2="251.80" stroke="#222" stroke-width="0.8"/>
<line x1="356.25" y1="250.20" x2="356.25" y2="251.80" stroke="#222" stroke-width="0.8"/>
<line x1="360.68" y1="250.20" x2="360.68" y2="251.80" stroke="#222" stroke-width="0.8"/>
<line x1="365.11" y1="250.20" x2="365.11" y2="251.80" stroke="#222" stroke-width="0.8"/>
<line x1="369.54" y1="250.20" x2="369.54" y2="251.80" stroke="#222" stroke-width="0.8"/>
<line x1="373.97" y1="250.20" x2="373.97" y2="251.80" stroke="#222" stroke-width="0.8"/>
<line x1="378.40" y1="250.20" x2="378.40" y2="253.40" stroke="#111" stroke-width="1"/>
<text x="378.40" y="262.20" font-size="7.1" text-anchor="middle" fill="#222">30</text>
<text class="bt" x="313.55" y="273.50" font-size="7.8" text-anchor="middle" fill="#222" textLength="33.2" lengthAdjust="spacingAndGlyphs">Time (min)</text>
<text class="bt" transform="translate(219.10,253.00) rotate(-90)" font-size="8.9" fill="#222" textLength="49.5" lengthAdjust="spacingAndGlyphs">Fibrin formation</text>
<text class="bt" transform="translate(219.10,202.15) rotate(-90)" font-size="8.9" fill="#222" textLength="24.2" lengthAdjust="spacingAndGlyphs">(OD<tspan font-size="5.9" dy="1.5">405</tspan><tspan dy="-1.5">)</tspan></text>
<text transform="translate(211,167.2) scale(0.97,1)" font-size="12" font-weight="bold" fill="#000" style="stroke:#000;stroke-width:0.35px">D</text>
<polyline points="245.50,250.20 246.61,250.20 247.72,250.20 248.82,250.20 249.93,250.20 251.04,250.20 252.15,250.20 253.25,250.20 254.36,250.20 255.47,250.20 256.57,250.20 257.68,250.20 258.79,250.20 259.90,250.20 261.00,250.20 262.11,250.20 263.22,250.20 264.33,250.20 265.44,250.20 266.54,250.20 267.65,250.20 268.76,250.20 269.87,250.20 270.97,250.20 272.08,250.20 273.19,250.20 274.30,250.20 275.40,250.20 276.51,250.20 277.62,250.20 278.73,250.20 279.83,250.20 280.94,250.20 282.05,250.20 283.15,250.20 284.26,250.20 285.37,250.20 286.48,250.20 287.58,250.20 288.69,250.20 289.80,250.20 290.91,250.20 292.01,250.20 293.12,250.20 294.23,250.20 295.34,250.20 296.44,250.20 297.55,250.20 298.66,250.20 299.77,250.20 300.88,250.20 301.98,250.20 303.09,250.20 304.20,250.20 305.31,250.20 306.41,250.20 307.52,250.20 308.63,250.20 309.74,250.20 310.84,250.20 311.95,250.20 313.06,250.20 314.16,250.20 315.27,250.20 316.38,250.20 317.49,250.20 318.59,250.20 319.70,250.20 320.81,250.20 321.92,250.18 323.02,250.13 324.13,250.05 325.24,249.94 326.35,249.82 327.45,249.67 328.56,249.52 329.67,249.36 330.78,249.20 331.88,249.04 332.99,248.88 334.10,248.74 335.21,248.60 336.31,248.45 337.42,248.31 338.53,248.15 339.64,248.00 340.75,247.84 341.85,247.68 342.96,247.52 344.07,247.36 345.17,247.19 346.28,247.03 347.39,246.86 348.50,246.69 349.61,246.52 350.71,246.35 351.82,246.17 352.93,246.00 354.03,245.82 355.14,245.64 356.25,245.46 357.36,245.28 358.46,245.09 359.57,244.91 360.68,244.72 361.79,244.53 362.89,244.35 364.00,244.16 365.11,243.98 366.22,243.79 367.32,243.61 368.43,243.43 369.54,243.25 370.65,243.06 371.75,242.88 372.86,242.70 373.97,242.51 375.08,242.33 376.18,242.15 377.29,241.97 378.40,241.78" fill="none" stroke="#b8dca8" stroke-width="3.2" stroke-linejoin="round"/>
<polyline points="245.50,250.20 246.61,250.20 247.72,250.20 248.82,250.20 249.93,250.20 251.04,250.20 252.15,250.20 253.25,250.20 254.36,250.20 255.47,250.20 256.57,250.20 257.68,250.20 258.79,250.20 259.90,250.20 261.00,250.20 262.11,250.20 263.22,250.20 264.33,250.20 265.44,250.20 266.54,250.20 267.65,250.20 268.76,250.20 269.87,250.20 270.97,250.20 272.08,250.20 273.19,250.20 274.30,250.20 275.40,250.20 276.51,250.20 277.62,250.20 278.73,250.20 279.83,250.20 280.94,250.20 282.05,250.20 283.15,250.20 284.26,250.20 285.37,250.20 286.48,250.20 287.58,250.20 288.69,250.20 289.80,250.20 290.91,250.20 292.01,250.20 293.12,250.20 294.23,250.20 295.34,250.20 296.44,250.20 297.55,250.20 298.66,250.20 299.77,250.20 300.88,250.20 301.98,250.20 303.09,250.20 304.20,250.20 305.31,250.20 306.41,250.20 307.52,250.20 308.63,250.20 309.74,250.20 310.84,250.20 311.95,250.20 313.06,250.20 314.16,250.20 315.27,250.20 316.38,250.20 317.49,250.20 318.59,250.20 319.70,250.20 320.81,250.20 321.92,250.18 323.02,250.13 324.13,250.05 325.24,249.94 326.35,249.82 327.45,249.67 328.56,249.52 329.67,249.36 330.78,249.20 331.88,249.04 332.99,248.88 334.10,248.74 335.21,248.60 336.31,248.45 337.42,248.31 338.53,248.15 339.64,248.00 340.75,247.84 341.85,247.68 342.96,247.52 344.07,247.36 345.17,247.19 346.28,247.03 347.39,246.86 348.50,246.69 349.61,246.52 350.71,246.35 351.82,246.17 352.93,246.00 354.03,245.82 355.14,245.64 356.25,245.46 357.36,245.28 358.46,245.09 359.57,244.91 360.68,244.72 361.79,244.53 362.89,244.35 364.00,244.16 365.11,243.98 366.22,243.79 367.32,243.61 368.43,243.43 369.54,243.25 370.65,243.06 371.75,242.88 372.86,242.70 373.97,242.51 375.08,242.33 376.18,242.15 377.29,241.97 378.40,241.78" fill="none" stroke="#4a9030" stroke-width="2.4" stroke-linejoin="round"/>
<polyline points="245.50,250.20 246.61,250.20 247.72,250.20 248.82,250.20 249.93,250.20 251.04,250.20 252.15,250.20 253.25,250.20 254.36,250.20 255.47,250.20 256.57,250.20 257.68,250.20 258.79,250.18 259.90,249.98 261.00,249.58 262.11,249.04 263.22,248.21 264.33,246.50 265.44,244.52 266.54,242.31 267.65,239.85 268.76,237.07 269.87,234.24 270.97,231.69 272.08,229.28 273.19,227.51 274.30,226.26 275.40,225.31 276.51,225.04 277.62,225.63 278.73,226.73 279.83,228.00 280.94,229.85 282.05,231.87 283.15,233.51 284.26,235.02 285.37,236.43 286.48,237.70 287.58,238.78 288.69,239.73 289.80,240.62 290.91,241.44 292.01,242.19 293.12,242.85 294.23,243.40 295.34,243.84 296.44,244.24 297.55,244.62 298.66,244.96 299.77,245.24 300.88,245.46 301.98,245.57 303.09,245.60 304.20,245.61 305.31,245.63 306.41,245.64 307.52,245.65 308.63,245.65 309.74,245.66 310.84,245.66 311.95,245.66 313.06,245.65 314.16,245.61 315.27,245.54 316.38,245.46 317.49,245.36 318.59,245.25 319.70,245.13 320.81,245.00 321.92,244.87 323.02,244.74 324.13,244.61 325.24,244.49 326.35,244.37 327.45,244.23 328.56,244.09 329.67,243.94 330.78,243.78 331.88,243.62 332.99,243.46 334.10,243.30 335.21,243.14 336.31,242.98 337.42,242.83 338.53,242.68 339.64,242.54 340.75,242.41 341.85,242.28 342.96,242.15 344.07,242.03 345.17,241.90 346.28,241.78 347.39,241.66 348.50,241.54 349.61,241.42 350.71,241.31 351.82,241.19 352.93,241.08 354.03,240.97 355.14,240.86 356.25,240.75 357.36,240.64 358.46,240.53 359.57,240.42 360.68,240.32 361.79,240.21 362.89,240.11 364.00,240.01 365.11,239.91 366.22,239.81 367.32,239.71 368.43,239.61 369.54,239.51 370.65,239.42 371.75,239.32 372.86,239.23 373.97,239.14 375.08,239.05 376.18,238.96 377.29,238.87 378.40,238.78" fill="none" stroke="#5a5aa0" stroke-width="0.7" stroke-linejoin="round"/>
<path d="M244.50,250.20a1.0,1.0 0 1,0 2.0,0a1.0,1.0 0 1,0 -2.0,0M246.72,250.20a1.0,1.0 0 1,0 2.0,0a1.0,1.0 0 1,0 -2.0,0M248.93,250.20a1.0,1.0 0 1,0 2.0,0a1.0,1.0 0 1,0 -2.0,0M251.15,250.20a1.0,1.0 0 1,0 2.0,0a1.0,1.0 0 1,0 -2.0,0M253.36,250.20a1.0,1.0 0 1,0 2.0,0a1.0,1.0 0 1,0 -2.0,0M255.57,250.20a1.0,1.0 0 1,0 2.0,0a1.0,1.0 0 1,0 -2.0,0M257.79,250.18a1.0,1.0 0 1,0 2.0,0a1.0,1.0 0 1,0 -2.0,0M260.00,249.58a1.0,1.0 0 1,0 2.0,0a1.0,1.0 0 1,0 -2.0,0M262.22,248.21a1.0,1.0 0 1,0 2.0,0a1.0,1.0 0 1,0 -2.0,0M264.44,244.52a1.0,1.0 0 1,0 2.0,0a1.0,1.0 0 1,0 -2.0,0M266.65,239.85a1.0,1.0 0 1,0 2.0,0a1.0,1.0 0 1,0 -2.0,0M268.87,234.24a1.0,1.0 0 1,0 2.0,0a1.0,1.0 0 1,0 -2.0,0M271.08,229.28a1.0,1.0 0 1,0 2.0,0a1.0,1.0 0 1,0 -2.0,0M273.30,226.26a1.0,1.0 0 1,0 2.0,0a1.0,1.0 0 1,0 -2.0,0M275.51,225.04a1.0,1.0 0 1,0 2.0,0a1.0,1.0 0 1,0 -2.0,0M277.73,226.73a1.0,1.0 0 1,0 2.0,0a1.0,1.0 0 1,0 -2.0,0M279.94,229.85a1.0,1.0 0 1,0 2.0,0a1.0,1.0 0 1,0 -2.0,0M282.15,233.51a1.0,1.0 0 1,0 2.0,0a1.0,1.0 0 1,0 -2.0,0M284.37,236.43a1.0,1.0 0 1,0 2.0,0a1.0,1.0 0 1,0 -2.0,0M286.58,238.78a1.0,1.0 0 1,0 2.0,0a1.0,1.0 0 1,0 -2.0,0M288.80,240.62a1.0,1.0 0 1,0 2.0,0a1.0,1.0 0 1,0 -2.0,0M291.01,242.19a1.0,1.0 0 1,0 2.0,0a1.0,1.0 0 1,0 -2.0,0M293.23,243.40a1.0,1.0 0 1,0 2.0,0a1.0,1.0 0 1,0 -2.0,0M295.44,244.24a1.0,1.0 0 1,0 2.0,0a1.0,1.0 0 1,0 -2.0,0M297.66,244.96a1.0,1.0 0 1,0 2.0,0a1.0,1.0 0 1,0 -2.0,0M299.88,245.46a1.0,1.0 0 1,0 2.0,0a1.0,1.0 0 1,0 -2.0,0M302.09,245.60a1.0,1.0 0 1,0 2.0,0a1.0,1.0 0 1,0 -2.0,0M304.31,245.63a1.0,1.0 0 1,0 2.0,0a1.0,1.0 0 1,0 -2.0,0M306.52,245.65a1.0,1.0 0 1,0 2.0,0a1.0,1.0 0 1,0 -2.0,0M308.74,245.66a1.0,1.0 0 1,0 2.0,0a1.0,1.0 0 1,0 -2.0,0M310.95,245.66a1.0,1.0 0 1,0 2.0,0a1.0,1.0 0 1,0 -2.0,0M313.16,245.61a1.0,1.0 0 1,0 2.0,0a1.0,1.0 0 1,0 -2.0,0M315.38,245.46a1.0,1.0 0 1,0 2.0,0a1.0,1.0 0 1,0 -2.0,0M317.59,245.25a1.0,1.0 0 1,0 2.0,0a1.0,1.0 0 1,0 -2.0,0M319.81,245.00a1.0,1.0 0 1,0 2.0,0a1.0,1.0 0 1,0 -2.0,0M322.02,244.74a1.0,1.0 0 1,0 2.0,0a1.0,1.0 0 1,0 -2.0,0M324.24,244.49a1.0,1.0 0 1,0 2.0,0a1.0,1.0 0 1,0 -2.0,0M326.45,244.23a1.0,1.0 0 1,0 2.0,0a1.0,1.0 0 1,0 -2.0,0M328.67,243.94a1.0,1.0 0 1,0 2.0,0a1.0,1.0 0 1,0 -2.0,0M330.88,243.62a1.0,1.0 0 1,0 2.0,0a1.0,1.0 0 1,0 -2.0,0M333.10,243.30a1.0,1.0 0 1,0 2.0,0a1.0,1.0 0 1,0 -2.0,0M335.31,242.98a1.0,1.0 0 1,0 2.0,0a1.0,1.0 0 1,0 -2.0,0M337.53,242.68a1.0,1.0 0 1,0 2.0,0a1.0,1.0 0 1,0 -2.0,0M339.75,242.41a1.0,1.0 0 1,0 2.0,0a1.0,1.0 0 1,0 -2.0,0M341.96,242.15a1.0,1.0 0 1,0 2.0,0a1.0,1.0 0 1,0 -2.0,0M344.17,241.90a1.0,1.0 0 1,0 2.0,0a1.0,1.0 0 1,0 -2.0,0M346.39,241.66a1.0,1.0 0 1,0 2.0,0a1.0,1.0 0 1,0 -2.0,0M348.61,241.42a1.0,1.0 0 1,0 2.0,0a1.0,1.0 0 1,0 -2.0,0M350.82,241.19a1.0,1.0 0 1,0 2.0,0a1.0,1.0 0 1,0 -2.0,0M353.03,240.97a1.0,1.0 0 1,0 2.0,0a1.0,1.0 0 1,0 -2.0,0M355.25,240.75a1.0,1.0 0 1,0 2.0,0a1.0,1.0 0 1,0 -2.0,0M357.46,240.53a1.0,1.0 0 1,0 2.0,0a1.0,1.0 0 1,0 -2.0,0M359.68,240.32a1.0,1.0 0 1,0 2.0,0a1.0,1.0 0 1,0 -2.0,0M361.89,240.11a1.0,1.0 0 1,0 2.0,0a1.0,1.0 0 1,0 -2.0,0M364.11,239.91a1.0,1.0 0 1,0 2.0,0a1.0,1.0 0 1,0 -2.0,0M366.32,239.71a1.0,1.0 0 1,0 2.0,0a1.0,1.0 0 1,0 -2.0,0M368.54,239.51a1.0,1.0 0 1,0 2.0,0a1.0,1.0 0 1,0 -2.0,0M370.75,239.32a1.0,1.0 0 1,0 2.0,0a1.0,1.0 0 1,0 -2.0,0M372.97,239.14a1.0,1.0 0 1,0 2.0,0a1.0,1.0 0 1,0 -2.0,0M375.18,238.96a1.0,1.0 0 1,0 2.0,0a1.0,1.0 0 1,0 -2.0,0M377.40,238.78a1.0,1.0 0 1,0 2.0,0a1.0,1.0 0 1,0 -2.0,0" fill="#1a1a6a"/>
<polyline points="245.50,250.93 246.61,251.95 247.72,252.75 248.82,253.34 249.93,253.70 251.04,253.86 252.15,253.76 253.25,253.38 254.36,252.80 255.47,252.07 256.57,251.26 257.68,250.37 258.79,249.14 259.90,247.61 261.00,245.73 262.11,243.37 263.22,240.60 264.33,237.41 265.44,233.19 266.54,228.68 267.65,224.89 268.76,221.82 269.87,219.01 270.97,216.65 272.08,214.95 273.19,213.60 274.30,212.49 275.40,211.93 276.51,212.17 277.62,213.05 278.73,214.26 279.83,215.56 280.94,217.33 282.05,219.38 283.15,221.29 284.26,222.97 285.37,224.59 286.48,226.12 287.58,227.51 288.69,228.78 289.80,229.99 290.91,231.13 292.01,232.21 293.12,233.24 294.23,234.22 295.34,235.16 296.44,236.09 297.55,237.00 298.66,237.89 299.77,238.72 300.88,239.48 301.98,240.14 303.09,240.68 304.20,241.15 305.31,241.61 306.41,242.04 307.52,242.44 308.63,242.82 309.74,243.15 310.84,243.44 311.95,243.67 313.06,243.86 314.16,243.98 315.27,244.06 316.38,244.14 317.49,244.22 318.59,244.29 319.70,244.35 320.81,244.40 321.92,244.44 323.02,244.47 324.13,244.48 325.24,244.49 326.35,244.49 327.45,244.49 328.56,244.49 329.67,244.49 330.78,244.49 331.88,244.49 332.99,244.49 334.10,244.49 335.21,244.49 336.31,244.49 337.42,244.49 338.53,244.49 339.64,244.49 340.75,244.49 341.85,244.49 342.96,244.49 344.07,244.49 345.17,244.48 346.28,244.47 347.39,244.46 348.50,244.45 349.61,244.43 350.71,244.41 351.82,244.39 352.93,244.37 354.03,244.34 355.14,244.32 356.25,244.29 357.36,244.27 358.46,244.24 359.57,244.22 360.68,244.20 361.79,244.18 362.89,244.15 364.00,244.13 365.11,244.10 366.22,244.08 367.32,244.05 368.43,244.03 369.54,244.00 370.65,243.97 371.75,243.94 372.86,243.91 373.97,243.88 375.08,243.85 376.18,243.82 377.29,243.79 378.40,243.76" fill="none" stroke="#d4d2ec" stroke-width="2.8" stroke-linejoin="round"/>
<polyline points="245.50,250.93 246.61,251.95 247.72,252.75 248.82,253.34 249.93,253.70 251.04,253.86 252.15,253.76 253.25,253.38 254.36,252.80 255.47,252.07 256.57,251.26 257.68,250.37 258.79,249.14 259.90,247.61 261.00,245.73 262.11,243.37 263.22,240.60 264.33,237.41 265.44,233.19 266.54,228.68 267.65,224.89 268.76,221.82 269.87,219.01 270.97,216.65 272.08,214.95 273.19,213.60 274.30,212.49 275.40,211.93 276.51,212.17 277.62,213.05 278.73,214.26 279.83,215.56 280.94,217.33 282.05,219.38 283.15,221.29 284.26,222.97 285.37,224.59 286.48,226.12 287.58,227.51 288.69,228.78 289.80,229.99 290.91,231.13 292.01,232.21 293.12,233.24 294.23,234.22 295.34,235.16 296.44,236.09 297.55,237.00 298.66,237.89 299.77,238.72 300.88,239.48 301.98,240.14 303.09,240.68 304.20,241.15 305.31,241.61 306.41,242.04 307.52,242.44 308.63,242.82 309.74,243.15 310.84,243.44 311.95,243.67 313.06,243.86 314.16,243.98 315.27,244.06 316.38,244.14 317.49,244.22 318.59,244.29 319.70,244.35 320.81,244.40 321.92,244.44 323.02,244.47 324.13,244.48 325.24,244.49 326.35,244.49 327.45,244.49 328.56,244.49 329.67,244.49 330.78,244.49 331.88,244.49 332.99,244.49 334.10,244.49 335.21,244.49 336.31,244.49 337.42,244.49 338.53,244.49 339.64,244.49 340.75,244.49 341.85,244.49 342.96,244.49 344.07,244.49 345.17,244.48 346.28,244.47 347.39,244.46 348.50,244.45 349.61,244.43 350.71,244.41 351.82,244.39 352.93,244.37 354.03,244.34 355.14,244.32 356.25,244.29 357.36,244.27 358.46,244.24 359.57,244.22 360.68,244.20 361.79,244.18 362.89,244.15 364.00,244.13 365.11,244.10 366.22,244.08 367.32,244.05 368.43,244.03 369.54,244.00 370.65,243.97 371.75,243.94 372.86,243.91 373.97,243.88 375.08,243.85 376.18,243.82 377.29,243.79 378.40,243.76" fill="none" stroke="#a4a2d0" stroke-width="0.7" stroke-linejoin="round"/>
<path d="M244.45,250.93a1.05,1.05 0 1,0 2.1,0a1.05,1.05 0 1,0 -2.1,0M246.66,252.75a1.05,1.05 0 1,0 2.1,0a1.05,1.05 0 1,0 -2.1,0M248.88,253.70a1.05,1.05 0 1,0 2.1,0a1.05,1.05 0 1,0 -2.1,0M251.09,253.76a1.05,1.05 0 1,0 2.1,0a1.05,1.05 0 1,0 -2.1,0M253.31,252.80a1.05,1.05 0 1,0 2.1,0a1.05,1.05 0 1,0 -2.1,0M255.52,251.26a1.05,1.05 0 1,0 2.1,0a1.05,1.05 0 1,0 -2.1,0M257.74,249.14a1.05,1.05 0 1,0 2.1,0a1.05,1.05 0 1,0 -2.1,0M259.95,245.73a1.05,1.05 0 1,0 2.1,0a1.05,1.05 0 1,0 -2.1,0M262.17,240.60a1.05,1.05 0 1,0 2.1,0a1.05,1.05 0 1,0 -2.1,0M264.38,233.19a1.05,1.05 0 1,0 2.1,0a1.05,1.05 0 1,0 -2.1,0M266.60,224.89a1.05,1.05 0 1,0 2.1,0a1.05,1.05 0 1,0 -2.1,0M268.81,219.01a1.05,1.05 0 1,0 2.1,0a1.05,1.05 0 1,0 -2.1,0M271.03,214.95a1.05,1.05 0 1,0 2.1,0a1.05,1.05 0 1,0 -2.1,0M273.25,212.49a1.05,1.05 0 1,0 2.1,0a1.05,1.05 0 1,0 -2.1,0M275.46,212.17a1.05,1.05 0 1,0 2.1,0a1.05,1.05 0 1,0 -2.1,0M277.68,214.26a1.05,1.05 0 1,0 2.1,0a1.05,1.05 0 1,0 -2.1,0M279.89,217.33a1.05,1.05 0 1,0 2.1,0a1.05,1.05 0 1,0 -2.1,0M282.10,221.29a1.05,1.05 0 1,0 2.1,0a1.05,1.05 0 1,0 -2.1,0M284.32,224.59a1.05,1.05 0 1,0 2.1,0a1.05,1.05 0 1,0 -2.1,0M286.53,227.51a1.05,1.05 0 1,0 2.1,0a1.05,1.05 0 1,0 -2.1,0M288.75,229.99a1.05,1.05 0 1,0 2.1,0a1.05,1.05 0 1,0 -2.1,0M290.96,232.21a1.05,1.05 0 1,0 2.1,0a1.05,1.05 0 1,0 -2.1,0M293.18,234.22a1.05,1.05 0 1,0 2.1,0a1.05,1.05 0 1,0 -2.1,0M295.39,236.09a1.05,1.05 0 1,0 2.1,0a1.05,1.05 0 1,0 -2.1,0M297.61,237.89a1.05,1.05 0 1,0 2.1,0a1.05,1.05 0 1,0 -2.1,0M299.82,239.48a1.05,1.05 0 1,0 2.1,0a1.05,1.05 0 1,0 -2.1,0M302.04,240.68a1.05,1.05 0 1,0 2.1,0a1.05,1.05 0 1,0 -2.1,0M304.25,241.61a1.05,1.05 0 1,0 2.1,0a1.05,1.05 0 1,0 -2.1,0M306.47,242.44a1.05,1.05 0 1,0 2.1,0a1.05,1.05 0 1,0 -2.1,0M308.69,243.15a1.05,1.05 0 1,0 2.1,0a1.05,1.05 0 1,0 -2.1,0M310.90,243.67a1.05,1.05 0 1,0 2.1,0a1.05,1.05 0 1,0 -2.1,0M313.11,243.98a1.05,1.05 0 1,0 2.1,0a1.05,1.05 0 1,0 -2.1,0M315.33,244.14a1.05,1.05 0 1,0 2.1,0a1.05,1.05 0 1,0 -2.1,0M317.54,244.29a1.05,1.05 0 1,0 2.1,0a1.05,1.05 0 1,0 -2.1,0M319.76,244.40a1.05,1.05 0 1,0 2.1,0a1.05,1.05 0 1,0 -2.1,0M321.97,244.47a1.05,1.05 0 1,0 2.1,0a1.05,1.05 0 1,0 -2.1,0M324.19,244.49a1.05,1.05 0 1,0 2.1,0a1.05,1.05 0 1,0 -2.1,0M326.40,244.49a1.05,1.05 0 1,0 2.1,0a1.05,1.05 0 1,0 -2.1,0M328.62,244.49a1.05,1.05 0 1,0 2.1,0a1.05,1.05 0 1,0 -2.1,0M330.83,244.49a1.05,1.05 0 1,0 2.1,0a1.05,1.05 0 1,0 -2.1,0M333.05,244.49a1.05,1.05 0 1,0 2.1,0a1.05,1.05 0 1,0 -2.1,0M335.26,244.49a1.05,1.05 0 1,0 2.1,0a1.05,1.05 0 1,0 -2.1,0M337.48,244.49a1.05,1.05 0 1,0 2.1,0a1.05,1.05 0 1,0 -2.1,0M339.69,244.49a1.05,1.05 0 1,0 2.1,0a1.05,1.05 0 1,0 -2.1,0M341.91,244.49a1.05,1.05 0 1,0 2.1,0a1.05,1.05 0 1,0 -2.1,0M344.12,244.48a1.05,1.05 0 1,0 2.1,0a1.05,1.05 0 1,0 -2.1,0M346.34,244.46a1.05,1.05 0 1,0 2.1,0a1.05,1.05 0 1,0 -2.1,0M348.56,244.43a1.05,1.05 0 1,0 2.1,0a1.05,1.05 0 1,0 -2.1,0M350.77,244.39a1.05,1.05 0 1,0 2.1,0a1.05,1.05 0 1,0 -2.1,0M352.98,244.34a1.05,1.05 0 1,0 2.1,0a1.05,1.05 0 1,0 -2.1,0M355.20,244.29a1.05,1.05 0 1,0 2.1,0a1.05,1.05 0 1,0 -2.1,0M357.41,244.24a1.05,1.05 0 1,0 2.1,0a1.05,1.05 0 1,0 -2.1,0M359.63,244.20a1.05,1.05 0 1,0 2.1,0a1.05,1.05 0 1,0 -2.1,0M361.84,244.15a1.05,1.05 0 1,0 2.1,0a1.05,1.05 0 1,0 -2.1,0M364.06,244.10a1.05,1.05 0 1,0 2.1,0a1.05,1.05 0 1,0 -2.1,0M366.27,244.05a1.05,1.05 0 1,0 2.1,0a1.05,1.05 0 1,0 -2.1,0M368.49,244.00a1.05,1.05 0 1,0 2.1,0a1.05,1.05 0 1,0 -2.1,0M370.70,243.94a1.05,1.05 0 1,0 2.1,0a1.05,1.05 0 1,0 -2.1,0M372.92,243.88a1.05,1.05 0 1,0 2.1,0a1.05,1.05 0 1,0 -2.1,0M375.13,243.82a1.05,1.05 0 1,0 2.1,0a1.05,1.05 0 1,0 -2.1,0M377.35,243.76a1.05,1.05 0 1,0 2.1,0a1.05,1.05 0 1,0 -2.1,0" fill="#7c79b4"/>
<polyline points="245.50,250.93 246.61,251.93 247.72,252.73 248.82,253.32 249.93,253.70 251.04,253.86 252.15,253.79 253.25,253.50 254.36,253.03 255.47,252.41 256.57,251.66 257.68,250.26 258.79,248.00 259.90,244.59 261.00,240.19 262.11,235.67 263.22,230.71 264.33,225.77 265.44,221.34 266.54,217.06 267.65,213.14 268.76,210.13 269.87,208.03 270.97,206.31 272.08,204.89 273.19,203.72 274.30,202.61 275.40,201.91 276.51,202.35 277.62,203.80 278.73,205.55 279.83,207.47 280.94,209.79 282.05,212.27 283.15,214.74 284.26,217.43 285.37,220.21 286.48,222.83 287.58,225.02 288.69,226.84 289.80,228.53 290.91,230.08 292.01,231.51 293.12,232.83 294.23,234.06 295.34,235.20 296.44,236.28 297.55,237.32 298.66,238.30 299.77,239.21 300.88,240.04 301.98,240.78 303.09,241.42 304.20,242.00 305.31,242.56 306.41,243.09 307.52,243.60 308.63,244.07 309.74,244.49 310.84,244.87 311.95,245.20 313.06,245.46 314.16,245.66 315.27,245.82 316.38,245.96 317.49,246.08 318.59,246.20 319.70,246.30 320.81,246.39 321.92,246.47 323.02,246.55 324.13,246.62 325.24,246.69 326.35,246.75 327.45,246.81 328.56,246.87 329.67,246.92 330.78,246.98 331.88,247.03 332.99,247.08 334.10,247.12 335.21,247.17 336.31,247.21 337.42,247.25 338.53,247.28 339.64,247.32 340.75,247.35 341.85,247.39 342.96,247.42 344.07,247.45 345.17,247.48 346.28,247.50 347.39,247.53 348.50,247.56 349.61,247.58 350.71,247.61 351.82,247.63 352.93,247.65 354.03,247.67 355.14,247.69 356.25,247.71 357.36,247.73 358.46,247.75 359.57,247.77 360.68,247.78 361.79,247.80 362.89,247.82 364.00,247.83 365.11,247.85 366.22,247.87 367.32,247.88 368.43,247.90 369.54,247.91 370.65,247.92 371.75,247.94 372.86,247.95 373.97,247.96 375.08,247.97 376.18,247.98 377.29,247.99 378.40,248.00" fill="none" stroke="#f8d8b0" stroke-width="2.8" stroke-linejoin="round"/>
<polyline points="245.50,250.93 246.61,251.93 247.72,252.73 248.82,253.32 249.93,253.70 251.04,253.86 252.15,253.79 253.25,253.50 254.36,253.03 255.47,252.41 256.57,251.66 257.68,250.26 258.79,248.00 259.90,244.59 261.00,240.19 262.11,235.67 263.22,230.71 264.33,225.77 265.44,221.34 266.54,217.06 267.65,213.14 268.76,210.13 269.87,208.03 270.97,206.31 272.08,204.89 273.19,203.72 274.30,202.61 275.40,201.91 276.51,202.35 277.62,203.80 278.73,205.55 279.83,207.47 280.94,209.79 282.05,212.27 283.15,214.74 284.26,217.43 285.37,220.21 286.48,222.83 287.58,225.02 288.69,226.84 289.80,228.53 290.91,230.08 292.01,231.51 293.12,232.83 294.23,234.06 295.34,235.20 296.44,236.28 297.55,237.32 298.66,238.30 299.77,239.21 300.88,240.04 301.98,240.78 303.09,241.42 304.20,242.00 305.31,242.56 306.41,243.09 307.52,243.60 308.63,244.07 309.74,244.49 310.84,244.87 311.95,245.20 313.06,245.46 314.16,245.66 315.27,245.82 316.38,245.96 317.49,246.08 318.59,246.20 319.70,246.30 320.81,246.39 321.92,246.47 323.02,246.55 324.13,246.62 325.24,246.69 326.35,246.75 327.45,246.81 328.56,246.87 329.67,246.92 330.78,246.98 331.88,247.03 332.99,247.08 334.10,247.12 335.21,247.17 336.31,247.21 337.42,247.25 338.53,247.28 339.64,247.32 340.75,247.35 341.85,247.39 342.96,247.42 344.07,247.45 345.17,247.48 346.28,247.50 347.39,247.53 348.50,247.56 349.61,247.58 350.71,247.61 351.82,247.63 352.93,247.65 354.03,247.67 355.14,247.69 356.25,247.71 357.36,247.73 358.46,247.75 359.57,247.77 360.68,247.78 361.79,247.80 362.89,247.82 364.00,247.83 365.11,247.85 366.22,247.87 367.32,247.88 368.43,247.90 369.54,247.91 370.65,247.92 371.75,247.94 372.86,247.95 373.97,247.96 375.08,247.97 376.18,247.98 377.29,247.99 378.40,248.00" fill="none" stroke="#f0b060" stroke-width="0.7" stroke-linejoin="round"/>
<path d="M244.45,250.93a1.05,1.05 0 1,0 2.1,0a1.05,1.05 0 1,0 -2.1,0M246.66,252.73a1.05,1.05 0 1,0 2.1,0a1.05,1.05 0 1,0 -2.1,0M248.88,253.70a1.05,1.05 0 1,0 2.1,0a1.05,1.05 0 1,0 -2.1,0M251.09,253.79a1.05,1.05 0 1,0 2.1,0a1.05,1.05 0 1,0 -2.1,0M253.31,253.03a1.05,1.05 0 1,0 2.1,0a1.05,1.05 0 1,0 -2.1,0M255.52,251.66a1.05,1.05 0 1,0 2.1,0a1.05,1.05 0 1,0 -2.1,0M257.74,248.00a1.05,1.05 0 1,0 2.1,0a1.05,1.05 0 1,0 -2.1,0M259.95,240.19a1.05,1.05 0 1,0 2.1,0a1.05,1.05 0 1,0 -2.1,0M262.17,230.71a1.05,1.05 0 1,0 2.1,0a1.05,1.05 0 1,0 -2.1,0M264.38,221.34a1.05,1.05 0 1,0 2.1,0a1.05,1.05 0 1,0 -2.1,0M266.60,213.14a1.05,1.05 0 1,0 2.1,0a1.05,1.05 0 1,0 -2.1,0M268.81,208.03a1.05,1.05 0 1,0 2.1,0a1.05,1.05 0 1,0 -2.1,0M271.03,204.89a1.05,1.05 0 1,0 2.1,0a1.05,1.05 0 1,0 -2.1,0M273.25,202.61a1.05,1.05 0 1,0 2.1,0a1.05,1.05 0 1,0 -2.1,0M275.46,202.35a1.05,1.05 0 1,0 2.1,0a1.05,1.05 0 1,0 -2.1,0M277.68,205.55a1.05,1.05 0 1,0 2.1,0a1.05,1.05 0 1,0 -2.1,0M279.89,209.79a1.05,1.05 0 1,0 2.1,0a1.05,1.05 0 1,0 -2.1,0M282.10,214.74a1.05,1.05 0 1,0 2.1,0a1.05,1.05 0 1,0 -2.1,0M284.32,220.21a1.05,1.05 0 1,0 2.1,0a1.05,1.05 0 1,0 -2.1,0M286.53,225.02a1.05,1.05 0 1,0 2.1,0a1.05,1.05 0 1,0 -2.1,0M288.75,228.53a1.05,1.05 0 1,0 2.1,0a1.05,1.05 0 1,0 -2.1,0M290.96,231.51a1.05,1.05 0 1,0 2.1,0a1.05,1.05 0 1,0 -2.1,0M293.18,234.06a1.05,1.05 0 1,0 2.1,0a1.05,1.05 0 1,0 -2.1,0M295.39,236.28a1.05,1.05 0 1,0 2.1,0a1.05,1.05 0 1,0 -2.1,0M297.61,238.30a1.05,1.05 0 1,0 2.1,0a1.05,1.05 0 1,0 -2.1,0M299.82,240.04a1.05,1.05 0 1,0 2.1,0a1.05,1.05 0 1,0 -2.1,0M302.04,241.42a1.05,1.05 0 1,0 2.1,0a1.05,1.05 0 1,0 -2.1,0M304.25,242.56a1.05,1.05 0 1,0 2.1,0a1.05,1.05 0 1,0 -2.1,0M306.47,243.60a1.05,1.05 0 1,0 2.1,0a1.05,1.05 0 1,0 -2.1,0M308.69,244.49a1.05,1.05 0 1,0 2.1,0a1.05,1.05 0 1,0 -2.1,0M310.90,245.20a1.05,1.05 0 1,0 2.1,0a1.05,1.05 0 1,0 -2.1,0M313.11,245.66a1.05,1.05 0 1,0 2.1,0a1.05,1.05 0 1,0 -2.1,0M315.33,245.96a1.05,1.05 0 1,0 2.1,0a1.05,1.05 0 1,0 -2.1,0M317.54,246.20a1.05,1.05 0 1,0 2.1,0a1.05,1.05 0 1,0 -2.1,0M319.76,246.39a1.05,1.05 0 1,0 2.1,0a1.05,1.05 0 1,0 -2.1,0M321.97,246.55a1.05,1.05 0 1,0 2.1,0a1.05,1.05 0 1,0 -2.1,0M324.19,246.69a1.05,1.05 0 1,0 2.1,0a1.05,1.05 0 1,0 -2.1,0M326.40,246.81a1.05,1.05 0 1,0 2.1,0a1.05,1.05 0 1,0 -2.1,0M328.62,246.92a1.05,1.05 0 1,0 2.1,0a1.05,1.05 0 1,0 -2.1,0M330.83,247.03a1.05,1.05 0 1,0 2.1,0a1.05,1.05 0 1,0 -2.1,0M333.05,247.12a1.05,1.05 0 1,0 2.1,0a1.05,1.05 0 1,0 -2.1,0M335.26,247.21a1.05,1.05 0 1,0 2.1,0a1.05,1.05 0 1,0 -2.1,0M337.48,247.28a1.05,1.05 0 1,0 2.1,0a1.05,1.05 0 1,0 -2.1,0M339.69,247.35a1.05,1.05 0 1,0 2.1,0a1.05,1.05 0 1,0 -2.1,0M341.91,247.42a1.05,1.05 0 1,0 2.1,0a1.05,1.05 0 1,0 -2.1,0M344.12,247.48a1.05,1.05 0 1,0 2.1,0a1.05,1.05 0 1,0 -2.1,0M346.34,247.53a1.05,1.05 0 1,0 2.1,0a1.05,1.05 0 1,0 -2.1,0M348.56,247.58a1.05,1.05 0 1,0 2.1,0a1.05,1.05 0 1,0 -2.1,0M350.77,247.63a1.05,1.05 0 1,0 2.1,0a1.05,1.05 0 1,0 -2.1,0M352.98,247.67a1.05,1.05 0 1,0 2.1,0a1.05,1.05 0 1,0 -2.1,0M355.20,247.71a1.05,1.05 0 1,0 2.1,0a1.05,1.05 0 1,0 -2.1,0M357.41,247.75a1.05,1.05 0 1,0 2.1,0a1.05,1.05 0 1,0 -2.1,0M359.63,247.78a1.05,1.05 0 1,0 2.1,0a1.05,1.05 0 1,0 -2.1,0M361.84,247.82a1.05,1.05 0 1,0 2.1,0a1.05,1.05 0 1,0 -2.1,0M364.06,247.85a1.05,1.05 0 1,0 2.1,0a1.05,1.05 0 1,0 -2.1,0M366.27,247.88a1.05,1.05 0 1,0 2.1,0a1.05,1.05 0 1,0 -2.1,0M368.49,247.91a1.05,1.05 0 1,0 2.1,0a1.05,1.05 0 1,0 -2.1,0M370.70,247.94a1.05,1.05 0 1,0 2.1,0a1.05,1.05 0 1,0 -2.1,0M372.92,247.96a1.05,1.05 0 1,0 2.1,0a1.05,1.05 0 1,0 -2.1,0M375.13,247.98a1.05,1.05 0 1,0 2.1,0a1.05,1.05 0 1,0 -2.1,0M377.35,248.00a1.05,1.05 0 1,0 2.1,0a1.05,1.05 0 1,0 -2.1,0" fill="#e0962e"/>
<path d="M245.50,249.25V253.35M247.72,251.16V255.26M249.93,252.53V256.63M252.15,252.91V257.01M254.36,252.05V256.15M256.57,250.01V254.11M258.79,244.76V247.40M261.00,233.42V236.05M263.22,218.87V221.51M265.44,205.03V207.66M267.65,197.53V200.17M269.87,192.48V195.11M272.08,192.12V194.76M274.30,193.68V196.31M276.51,197.71V200.35M278.73,203.41V206.04M280.94,209.82V212.45M283.15,215.77V218.40M285.37,220.89V223.53M287.58,225.13V227.77M289.80,228.68V231.31M292.01,231.64V234.28M294.23,234.14V236.77M296.44,236.11V238.75M298.66,237.78V240.41M300.88,239.13V241.77M303.09,240.16V242.79M305.31,241.00V243.63M307.52,241.90V244.53M309.74,242.78V245.41M311.95,243.50V246.13M314.16,243.90V246.54M316.38,244.09V246.73M318.59,244.24V246.87M320.81,244.35V246.98M323.02,244.43V247.07M325.24,244.49V247.13M327.45,244.53V247.17M329.67,244.57V247.20M331.88,244.60V247.23M334.10,244.62V247.26M336.31,244.65V247.28M338.53,244.67V247.30M340.75,244.69V247.32M342.96,244.71V247.35M345.17,244.73V247.37M347.39,244.76V247.39M349.61,244.78V247.42M351.82,244.81V247.44M354.03,244.83V247.46M356.25,244.84V247.48M358.46,244.85V247.49M360.68,244.86V247.49M362.89,244.86V247.49M365.11,244.86V247.49M367.32,244.86V247.49M369.54,244.86V247.49M371.75,244.86V247.49M373.97,244.86V247.49M376.18,244.86V247.49M378.40,244.86V247.49" stroke="#f4c0c4" stroke-width="0.8" fill="none"/>
<path d="M244.55,249.25h1.9M244.55,253.35h1.9M246.77,251.16h1.9M246.77,255.26h1.9M248.98,252.53h1.9M248.98,256.63h1.9M251.20,252.91h1.9M251.20,257.01h1.9M253.41,252.05h1.9M253.41,256.15h1.9M255.62,250.01h1.9M255.62,254.11h1.9M257.84,244.76h1.9M257.84,247.40h1.9M260.06,233.42h1.9M260.06,236.05h1.9M262.27,218.87h1.9M262.27,221.51h1.9M264.49,205.03h1.9M264.49,207.66h1.9M266.70,197.53h1.9M266.70,200.17h1.9M268.92,192.48h1.9M268.92,195.11h1.9M271.13,192.12h1.9M271.13,194.76h1.9M273.35,193.68h1.9M273.35,196.31h1.9M275.56,197.71h1.9M275.56,200.35h1.9M277.78,203.41h1.9M277.78,206.04h1.9M279.99,209.82h1.9M279.99,212.45h1.9M282.20,215.77h1.9M282.20,218.40h1.9M284.42,220.89h1.9M284.42,223.53h1.9M286.63,225.13h1.9M286.63,227.77h1.9M288.85,228.68h1.9M288.85,231.31h1.9M291.06,231.64h1.9M291.06,234.28h1.9M293.28,234.14h1.9M293.28,236.77h1.9M295.50,236.11h1.9M295.50,238.75h1.9M297.71,237.78h1.9M297.71,240.41h1.9M299.93,239.13h1.9M299.93,241.77h1.9M302.14,240.16h1.9M302.14,242.79h1.9M304.36,241.00h1.9M304.36,243.63h1.9M306.57,241.90h1.9M306.57,244.53h1.9M308.79,242.78h1.9M308.79,245.41h1.9M311.00,243.50h1.9M311.00,246.13h1.9M313.21,243.90h1.9M313.21,246.54h1.9M315.43,244.09h1.9M315.43,246.73h1.9M317.64,244.24h1.9M317.64,246.87h1.9M319.86,244.35h1.9M319.86,246.98h1.9M322.07,244.43h1.9M322.07,247.07h1.9M324.29,244.49h1.9M324.29,247.13h1.9M326.50,244.53h1.9M326.50,247.17h1.9M328.72,244.57h1.9M328.72,247.20h1.9M330.94,244.60h1.9M330.94,247.23h1.9M333.15,244.62h1.9M333.15,247.26h1.9M335.37,244.65h1.9M335.37,247.28h1.9M337.58,244.67h1.9M337.58,247.30h1.9M339.80,244.69h1.9M339.80,247.32h1.9M342.01,244.71h1.9M342.01,247.35h1.9M344.22,244.73h1.9M344.22,247.37h1.9M346.44,244.76h1.9M346.44,247.39h1.9M348.66,244.78h1.9M348.66,247.42h1.9M350.87,244.81h1.9M350.87,247.44h1.9M353.08,244.83h1.9M353.08,247.46h1.9M355.30,244.84h1.9M355.30,247.48h1.9M357.51,244.85h1.9M357.51,247.49h1.9M359.73,244.86h1.9M359.73,247.49h1.9M361.94,244.86h1.9M361.94,247.49h1.9M364.16,244.86h1.9M364.16,247.49h1.9M366.38,244.86h1.9M366.38,247.49h1.9M368.59,244.86h1.9M368.59,247.49h1.9M370.81,244.86h1.9M370.81,247.49h1.9M373.02,244.86h1.9M373.02,247.49h1.9M375.23,244.86h1.9M375.23,247.49h1.9M377.45,244.86h1.9M377.45,247.49h1.9" stroke="#e8a0a8" stroke-width="0.8" fill="none"/>
<polyline points="245.50,251.30 246.61,252.33 247.72,253.21 248.82,253.91 249.93,254.58 251.04,254.99 252.15,254.96 253.25,254.63 254.36,254.10 255.47,253.38 256.57,252.06 257.68,250.11 258.79,246.08 259.90,240.80 261.00,234.73 262.11,227.77 263.22,220.19 264.33,212.43 265.44,206.35 266.54,202.06 267.65,198.85 268.76,196.04 269.87,193.79 270.97,193.11 272.08,193.44 273.19,194.09 274.30,194.99 275.40,196.73 276.51,199.03 277.62,201.57 278.73,204.72 279.83,208.06 280.94,211.14 282.05,214.15 283.15,217.09 284.26,219.81 285.37,222.21 286.48,224.41 287.58,226.45 288.69,228.32 289.80,230.00 290.91,231.53 292.01,232.96 293.12,234.27 294.23,235.45 295.34,236.49 296.44,237.43 297.55,238.30 298.66,239.09 299.77,239.81 300.88,240.45 301.98,241.00 303.09,241.48 304.20,241.90 305.31,242.32 306.41,242.76 307.52,243.21 308.63,243.66 309.74,244.09 310.84,244.48 311.95,244.81 313.06,245.07 314.16,245.22 315.27,245.32 316.38,245.41 317.49,245.49 318.59,245.55 319.70,245.61 320.81,245.67 321.92,245.71 323.02,245.75 324.13,245.78 325.24,245.81 326.35,245.83 327.45,245.85 328.56,245.87 329.67,245.89 330.78,245.90 331.88,245.92 332.99,245.93 334.10,245.94 335.21,245.95 336.31,245.97 337.42,245.98 338.53,245.99 339.64,246.00 340.75,246.01 341.85,246.02 342.96,246.03 344.07,246.04 345.17,246.05 346.28,246.06 347.39,246.08 348.50,246.09 349.61,246.10 350.71,246.11 351.82,246.12 352.93,246.13 354.03,246.14 355.14,246.15 356.25,246.16 357.36,246.17 358.46,246.17 359.57,246.17 360.68,246.17 361.79,246.17 362.89,246.17 364.00,246.17 365.11,246.17 366.22,246.17 367.32,246.17 368.43,246.17 369.54,246.17 370.65,246.17 371.75,246.17 372.86,246.17 373.97,246.17 375.08,246.17 376.18,246.17 377.29,246.17 378.40,246.17" fill="none" stroke="#f6c8c8" stroke-width="2.6" stroke-linejoin="round"/>
<polyline points="245.50,251.30 246.61,252.33 247.72,253.21 248.82,253.91 249.93,254.58 251.04,254.99 252.15,254.96 253.25,254.63 254.36,254.10 255.47,253.38 256.57,252.06 257.68,250.11 258.79,246.08 259.90,240.80 261.00,234.73 262.11,227.77 263.22,220.19 264.33,212.43 265.44,206.35 266.54,202.06 267.65,198.85 268.76,196.04 269.87,193.79 270.97,193.11 272.08,193.44 273.19,194.09 274.30,194.99 275.40,196.73 276.51,199.03 277.62,201.57 278.73,204.72 279.83,208.06 280.94,211.14 282.05,214.15 283.15,217.09 284.26,219.81 285.37,222.21 286.48,224.41 287.58,226.45 288.69,228.32 289.80,230.00 290.91,231.53 292.01,232.96 293.12,234.27 294.23,235.45 295.34,236.49 296.44,237.43 297.55,238.30 298.66,239.09 299.77,239.81 300.88,240.45 301.98,241.00 303.09,241.48 304.20,241.90 305.31,242.32 306.41,242.76 307.52,243.21 308.63,243.66 309.74,244.09 310.84,244.48 311.95,244.81 313.06,245.07 314.16,245.22 315.27,245.32 316.38,245.41 317.49,245.49 318.59,245.55 319.70,245.61 320.81,245.67 321.92,245.71 323.02,245.75 324.13,245.78 325.24,245.81 326.35,245.83 327.45,245.85 328.56,245.87 329.67,245.89 330.78,245.90 331.88,245.92 332.99,245.93 334.10,245.94 335.21,245.95 336.31,245.97 337.42,245.98 338.53,245.99 339.64,246.00 340.75,246.01 341.85,246.02 342.96,246.03 344.07,246.04 345.17,246.05 346.28,246.06 347.39,246.08 348.50,246.09 349.61,246.10 350.71,246.11 351.82,246.12 352.93,246.13 354.03,246.14 355.14,246.15 356.25,246.16 357.36,246.17 358.46,246.17 359.57,246.17 360.68,246.17 361.79,246.17 362.89,246.17 364.00,246.17 365.11,246.17 366.22,246.17 367.32,246.17 368.43,246.17 369.54,246.17 370.65,246.17 371.75,246.17 372.86,246.17 373.97,246.17 375.08,246.17 376.18,246.17 377.29,246.17 378.40,246.17" fill="none" stroke="#d04850" stroke-width="0.7" stroke-linejoin="round"/>
<path d="M244.35,251.30a1.15,1.15 0 1,0 2.3,0a1.15,1.15 0 1,0 -2.3,0M246.56,253.21a1.15,1.15 0 1,0 2.3,0a1.15,1.15 0 1,0 -2.3,0M248.78,254.58a1.15,1.15 0 1,0 2.3,0a1.15,1.15 0 1,0 -2.3,0M251.00,254.96a1.15,1.15 0 1,0 2.3,0a1.15,1.15 0 1,0 -2.3,0M253.21,254.10a1.15,1.15 0 1,0 2.3,0a1.15,1.15 0 1,0 -2.3,0M255.42,252.06a1.15,1.15 0 1,0 2.3,0a1.15,1.15 0 1,0 -2.3,0M257.64,246.08a1.15,1.15 0 1,0 2.3,0a1.15,1.15 0 1,0 -2.3,0M259.86,234.73a1.15,1.15 0 1,0 2.3,0a1.15,1.15 0 1,0 -2.3,0M262.07,220.19a1.15,1.15 0 1,0 2.3,0a1.15,1.15 0 1,0 -2.3,0M264.29,206.35a1.15,1.15 0 1,0 2.3,0a1.15,1.15 0 1,0 -2.3,0M266.50,198.85a1.15,1.15 0 1,0 2.3,0a1.15,1.15 0 1,0 -2.3,0M268.72,193.79a1.15,1.15 0 1,0 2.3,0a1.15,1.15 0 1,0 -2.3,0M270.93,193.44a1.15,1.15 0 1,0 2.3,0a1.15,1.15 0 1,0 -2.3,0M273.15,194.99a1.15,1.15 0 1,0 2.3,0a1.15,1.15 0 1,0 -2.3,0M275.36,199.03a1.15,1.15 0 1,0 2.3,0a1.15,1.15 0 1,0 -2.3,0M277.58,204.72a1.15,1.15 0 1,0 2.3,0a1.15,1.15 0 1,0 -2.3,0M279.79,211.14a1.15,1.15 0 1,0 2.3,0a1.15,1.15 0 1,0 -2.3,0M282.00,217.09a1.15,1.15 0 1,0 2.3,0a1.15,1.15 0 1,0 -2.3,0M284.22,222.21a1.15,1.15 0 1,0 2.3,0a1.15,1.15 0 1,0 -2.3,0M286.44,226.45a1.15,1.15 0 1,0 2.3,0a1.15,1.15 0 1,0 -2.3,0M288.65,230.00a1.15,1.15 0 1,0 2.3,0a1.15,1.15 0 1,0 -2.3,0M290.87,232.96a1.15,1.15 0 1,0 2.3,0a1.15,1.15 0 1,0 -2.3,0M293.08,235.45a1.15,1.15 0 1,0 2.3,0a1.15,1.15 0 1,0 -2.3,0M295.30,237.43a1.15,1.15 0 1,0 2.3,0a1.15,1.15 0 1,0 -2.3,0M297.51,239.09a1.15,1.15 0 1,0 2.3,0a1.15,1.15 0 1,0 -2.3,0M299.73,240.45a1.15,1.15 0 1,0 2.3,0a1.15,1.15 0 1,0 -2.3,0M301.94,241.48a1.15,1.15 0 1,0 2.3,0a1.15,1.15 0 1,0 -2.3,0M304.16,242.32a1.15,1.15 0 1,0 2.3,0a1.15,1.15 0 1,0 -2.3,0M306.37,243.21a1.15,1.15 0 1,0 2.3,0a1.15,1.15 0 1,0 -2.3,0M308.59,244.09a1.15,1.15 0 1,0 2.3,0a1.15,1.15 0 1,0 -2.3,0M310.80,244.81a1.15,1.15 0 1,0 2.3,0a1.15,1.15 0 1,0 -2.3,0M313.01,245.22a1.15,1.15 0 1,0 2.3,0a1.15,1.15 0 1,0 -2.3,0M315.23,245.41a1.15,1.15 0 1,0 2.3,0a1.15,1.15 0 1,0 -2.3,0M317.44,245.55a1.15,1.15 0 1,0 2.3,0a1.15,1.15 0 1,0 -2.3,0M319.66,245.67a1.15,1.15 0 1,0 2.3,0a1.15,1.15 0 1,0 -2.3,0M321.88,245.75a1.15,1.15 0 1,0 2.3,0a1.15,1.15 0 1,0 -2.3,0M324.09,245.81a1.15,1.15 0 1,0 2.3,0a1.15,1.15 0 1,0 -2.3,0M326.31,245.85a1.15,1.15 0 1,0 2.3,0a1.15,1.15 0 1,0 -2.3,0M328.52,245.89a1.15,1.15 0 1,0 2.3,0a1.15,1.15 0 1,0 -2.3,0M330.74,245.92a1.15,1.15 0 1,0 2.3,0a1.15,1.15 0 1,0 -2.3,0M332.95,245.94a1.15,1.15 0 1,0 2.3,0a1.15,1.15 0 1,0 -2.3,0M335.17,245.97a1.15,1.15 0 1,0 2.3,0a1.15,1.15 0 1,0 -2.3,0M337.38,245.99a1.15,1.15 0 1,0 2.3,0a1.15,1.15 0 1,0 -2.3,0M339.60,246.01a1.15,1.15 0 1,0 2.3,0a1.15,1.15 0 1,0 -2.3,0M341.81,246.03a1.15,1.15 0 1,0 2.3,0a1.15,1.15 0 1,0 -2.3,0M344.02,246.05a1.15,1.15 0 1,0 2.3,0a1.15,1.15 0 1,0 -2.3,0M346.24,246.08a1.15,1.15 0 1,0 2.3,0a1.15,1.15 0 1,0 -2.3,0M348.46,246.10a1.15,1.15 0 1,0 2.3,0a1.15,1.15 0 1,0 -2.3,0M350.67,246.12a1.15,1.15 0 1,0 2.3,0a1.15,1.15 0 1,0 -2.3,0M352.88,246.14a1.15,1.15 0 1,0 2.3,0a1.15,1.15 0 1,0 -2.3,0M355.10,246.16a1.15,1.15 0 1,0 2.3,0a1.15,1.15 0 1,0 -2.3,0M357.31,246.17a1.15,1.15 0 1,0 2.3,0a1.15,1.15 0 1,0 -2.3,0M359.53,246.17a1.15,1.15 0 1,0 2.3,0a1.15,1.15 0 1,0 -2.3,0M361.75,246.17a1.15,1.15 0 1,0 2.3,0a1.15,1.15 0 1,0 -2.3,0M363.96,246.17a1.15,1.15 0 1,0 2.3,0a1.15,1.15 0 1,0 -2.3,0M366.18,246.17a1.15,1.15 0 1,0 2.3,0a1.15,1.15 0 1,0 -2.3,0M368.39,246.17a1.15,1.15 0 1,0 2.3,0a1.15,1.15 0 1,0 -2.3,0M370.61,246.17a1.15,1.15 0 1,0 2.3,0a1.15,1.15 0 1,0 -2.3,0M372.82,246.17a1.15,1.15 0 1,0 2.3,0a1.15,1.15 0 1,0 -2.3,0M375.03,246.17a1.15,1.15 0 1,0 2.3,0a1.15,1.15 0 1,0 -2.3,0M377.25,246.17a1.15,1.15 0 1,0 2.3,0a1.15,1.15 0 1,0 -2.3,0" fill="#900c16"/>
<line x1="41.40" y1="309.40" x2="41.40" y2="403.00" stroke="#000" stroke-width="1.25"/>
<line x1="38.00" y1="400.80" x2="41.40" y2="400.80" stroke="#333" stroke-width="1.1"/>
<text x="35.00" y="403.30" font-size="7.1" text-anchor="end" fill="#222" textLength="12.75" lengthAdjust="spacingAndGlyphs">0.00</text>
<line x1="38.00" y1="371.00" x2="41.40" y2="371.00" stroke="#333" stroke-width="1.1"/>
<text x="35.00" y="373.50" font-size="7.1" text-anchor="end" fill="#222" textLength="12.75" lengthAdjust="spacingAndGlyphs">0.05</text>
<line x1="38.00" y1="341.20" x2="41.40" y2="341.20" stroke="#333" stroke-width="1.1"/>
<text x="35.00" y="343.70" font-size="7.1" text-anchor="end" fill="#222" textLength="12.75" lengthAdjust="spacingAndGlyphs">0.10</text>
<line x1="38.00" y1="311.40" x2="41.40" y2="311.40" stroke="#333" stroke-width="1.1"/>
<text x="35.00" y="313.90" font-size="7.1" text-anchor="end" fill="#222" textLength="12.75" lengthAdjust="spacingAndGlyphs">0.15</text>
<line x1="41.40" y1="400.80" x2="177.30" y2="400.80" stroke="#000" stroke-width="1.2"/>
<line x1="41.40" y1="400.80" x2="41.40" y2="404.00" stroke="#111" stroke-width="1"/>
<text x="41.40" y="412.80" font-size="7.1" text-anchor="middle" fill="#222">0</text>
<line x1="45.83" y1="400.80" x2="45.83" y2="402.40" stroke="#222" stroke-width="0.8"/>
<line x1="50.26" y1="400.80" x2="50.26" y2="402.40" stroke="#222" stroke-width="0.8"/>
<line x1="54.69" y1="400.80" x2="54.69" y2="402.40" stroke="#222" stroke-width="0.8"/>
<line x1="59.12" y1="400.80" x2="59.12" y2="402.40" stroke="#222" stroke-width="0.8"/>
<line x1="63.55" y1="400.80" x2="63.55" y2="402.40" stroke="#222" stroke-width="0.8"/>
<line x1="67.98" y1="400.80" x2="67.98" y2="402.40" stroke="#222" stroke-width="0.8"/>
<line x1="72.41" y1="400.80" x2="72.41" y2="402.40" stroke="#222" stroke-width="0.8"/>
<line x1="76.84" y1="400.80" x2="76.84" y2="402.40" stroke="#222" stroke-width="0.8"/>
<line x1="81.27" y1="400.80" x2="81.27" y2="402.40" stroke="#222" stroke-width="0.8"/>
<line x1="85.70" y1="400.80" x2="85.70" y2="404.00" stroke="#111" stroke-width="1"/>
<text x="85.70" y="412.80" font-size="7.1" text-anchor="middle" fill="#222">10</text>
<line x1="90.13" y1="400.80" x2="90.13" y2="402.40" stroke="#222" stroke-width="0.8"/>
<line x1="94.56" y1="400.80" x2="94.56" y2="402.40" stroke="#222" stroke-width="0.8"/>
<line x1="98.99" y1="400.80" x2="98.99" y2="402.40" stroke="#222" stroke-width="0.8"/>
<line x1="103.42" y1="400.80" x2="103.42" y2="402.40" stroke="#222" stroke-width="0.8"/>
<line x1="107.85" y1="400.80" x2="107.85" y2="402.40" stroke="#222" stroke-width="0.8"/>
<line x1="112.28" y1="400.80" x2="112.28" y2="402.40" stroke="#222" stroke-width="0.8"/>
<line x1="116.71" y1="400.80" x2="116.71" y2="402.40" stroke="#222" stroke-width="0.8"/>
<line x1="121.14" y1="400.80" x2="121.14" y2="402.40" stroke="#222" stroke-width="0.8"/>
<line x1="125.57" y1="400.80" x2="125.57" y2="402.40" stroke="#222" stroke-width="0.8"/>
<line x1="130.00" y1="400.80" x2="130.00" y2="404.00" stroke="#111" stroke-width="1"/>
<text x="130.00" y="412.80" font-size="7.1" text-anchor="middle" fill="#222">20</text>
<line x1="134.43" y1="400.80" x2="134.43" y2="402.40" stroke="#222" stroke-width="0.8"/>
<line x1="138.86" y1="400.80" x2="138.86" y2="402.40" stroke="#222" stroke-width="0.8"/>
<line x1="143.29" y1="400.80" x2="143.29" y2="402.40" stroke="#222" stroke-width="0.8"/>
<line x1="147.72" y1="400.80" x2="147.72" y2="402.40" stroke="#222" stroke-width="0.8"/>
<line x1="152.15" y1="400.80" x2="152.15" y2="402.40" stroke="#222" stroke-width="0.8"/>
<line x1="156.58" y1="400.80" x2="156.58" y2="402.40" stroke="#222" stroke-width="0.8"/>
<line x1="161.01" y1="400.80" x2="161.01" y2="402.40" stroke="#222" stroke-width="0.8"/>
<line x1="165.44" y1="400.80" x2="165.44" y2="402.40" stroke="#222" stroke-width="0.8"/>
<line x1="169.87" y1="400.80" x2="169.87" y2="402.40" stroke="#222" stroke-width="0.8"/>
<line x1="174.30" y1="400.80" x2="174.30" y2="404.00" stroke="#111" stroke-width="1"/>
<text x="174.30" y="412.80" font-size="7.1" text-anchor="middle" fill="#222">30</text>
<text class="bt" x="109.45" y="424.10" font-size="7.8" text-anchor="middle" fill="#222" textLength="33.2" lengthAdjust="spacingAndGlyphs">Time (min)</text>
<text class="bt" transform="translate(15.00,391.90) rotate(-90)" font-size="8.9" fill="#222" textLength="49.1" lengthAdjust="spacingAndGlyphs">Fibrin formation</text>
<text class="bt" transform="translate(15.00,341.46) rotate(-90)" font-size="8.9" fill="#222" textLength="24.0" lengthAdjust="spacingAndGlyphs">(OD<tspan font-size="5.9" dy="1.5">405</tspan><tspan dy="-1.5">)</tspan></text>
<text transform="translate(8.0,302.7) scale(0.9,1)" font-size="12" font-weight="bold" fill="#000" style="stroke:#000;stroke-width:0.35px">E</text>
<polyline points="41.40,400.80 42.51,400.80 43.62,400.80 44.72,400.80 45.83,400.80 46.94,400.80 48.05,399.74 49.15,396.69 50.26,392.58 51.37,387.22 52.47,381.72 53.58,374.58 54.69,361.80 55.80,355.22 56.91,354.04 58.01,353.16 59.12,352.51 60.23,352.03 61.34,351.65 62.44,351.31 63.55,350.94 64.66,350.55 65.77,350.16 66.87,349.80 67.98,349.45 69.09,349.12 70.19,348.80 71.30,348.49 72.41,348.20 73.52,347.92 74.62,347.65 75.73,347.39 76.84,347.15 77.95,346.91 79.06,346.68 80.16,346.46 81.27,346.24 82.38,346.04 83.48,345.84 84.59,345.64 85.70,345.45 86.81,345.26 87.91,345.07 89.02,344.89 90.13,344.71 91.24,344.54 92.34,344.37 93.45,344.20 94.56,344.03 95.67,343.87 96.78,343.71 97.88,343.55 98.99,343.40 100.10,343.25 101.20,343.10 102.31,342.96 103.42,342.82 104.53,342.69 105.63,342.55 106.74,342.42 107.85,342.30 108.96,342.18 110.06,342.06 111.17,341.94 112.28,341.83 113.39,341.72 114.50,341.62 115.60,341.52 116.71,341.42 117.82,341.33 118.93,341.23 120.03,341.15 121.14,341.06 122.25,340.98 123.35,340.89 124.46,340.80 125.57,340.72 126.68,340.63 127.78,340.55 128.89,340.47 130.00,340.38 131.11,340.30 132.22,340.22 133.32,340.14 134.43,340.06 135.54,339.98 136.64,339.90 137.75,339.82 138.86,339.75 139.97,339.67 141.07,339.60 142.18,339.53 143.29,339.46 144.40,339.39 145.50,339.32 146.61,339.25 147.72,339.19 148.83,339.12 149.94,339.06 151.04,339.00 152.15,338.94 153.26,338.89 154.37,338.83 155.47,338.78 156.58,338.73 157.69,338.68 158.80,338.63 159.90,338.59 161.01,338.54 162.12,338.50 163.22,338.46 164.33,338.43 165.44,338.39 166.55,338.36 167.66,338.34 168.76,338.31 169.87,338.29 170.98,338.27 172.09,338.25 173.19,338.23 174.30,338.22" fill="none" stroke="#d4d2ec" stroke-width="3.4" stroke-linejoin="round"/>
<polyline points="41.40,400.80 42.51,400.80 43.62,400.80 44.72,400.80 45.83,400.80 46.94,400.80 48.05,399.74 49.15,396.69 50.26,392.58 51.37,387.22 52.47,381.60 53.58,374.73 54.69,363.81 55.80,358.21 56.91,357.06 58.01,356.20 59.12,355.56 60.23,355.08 61.34,354.71 62.44,354.37 63.55,354.01 64.66,353.61 65.77,353.24 66.87,352.88 67.98,352.53 69.09,352.20 70.19,351.88 71.30,351.58 72.41,351.29 73.52,351.01 74.62,350.74 75.73,350.49 76.84,350.24 77.95,350.01 79.06,349.78 80.16,349.57 81.27,349.36 82.38,349.16 83.48,348.97 84.59,348.78 85.70,348.60 86.81,348.43 87.91,348.26 89.02,348.09 90.13,347.92 91.24,347.76 92.34,347.61 93.45,347.45 94.56,347.31 95.67,347.16 96.78,347.02 97.88,346.88 98.99,346.74 100.10,346.61 101.20,346.48 102.31,346.35 103.42,346.23 104.53,346.10 105.63,345.99 106.74,345.87 107.85,345.76 108.96,345.65 110.06,345.55 111.17,345.45 112.28,345.35 113.39,345.25 114.50,345.16 115.60,345.06 116.71,344.98 117.82,344.89 118.93,344.81 120.03,344.73 121.14,344.65 122.25,344.57 123.35,344.49 124.46,344.41 125.57,344.33 126.68,344.25 127.78,344.17 128.89,344.10 130.00,344.02 131.11,343.94 132.22,343.87 133.32,343.79 134.43,343.72 135.54,343.65 136.64,343.58 137.75,343.51 138.86,343.43 139.97,343.37 141.07,343.30 142.18,343.23 143.29,343.16 144.40,343.10 145.50,343.04 146.61,342.97 147.72,342.91 148.83,342.85 149.94,342.80 151.04,342.74 152.15,342.68 153.26,342.63 154.37,342.58 155.47,342.53 156.58,342.48 157.69,342.43 158.80,342.39 159.90,342.35 161.01,342.30 162.12,342.27 163.22,342.23 164.33,342.19 165.44,342.16 166.55,342.13 167.66,342.10 168.76,342.07 169.87,342.05 170.98,342.03 172.09,342.01 173.19,341.99 174.30,341.97" fill="none" stroke="#b8b8e0" stroke-width="3.4" stroke-linejoin="round"/>
<polyline points="41.40,400.80 42.51,400.80 43.62,400.80 44.72,400.80 45.83,400.80 46.94,400.80 48.05,399.74 49.15,396.69 50.26,392.58 51.37,387.21 52.47,381.45 53.58,374.89 54.69,365.77 55.80,361.24 56.91,360.27 58.01,359.55 59.12,359.01 60.23,358.61 61.34,358.30 62.44,358.02 63.55,357.71 64.66,357.38 65.77,357.07 66.87,356.77 67.98,356.49 69.09,356.22 70.19,355.96 71.30,355.71 72.41,355.47 73.52,355.25 74.62,355.03 75.73,354.82 76.84,354.62 77.95,354.43 79.06,354.24 80.16,354.05 81.27,353.87 82.38,353.70 83.48,353.53 84.59,353.36 85.70,353.19 86.81,353.02 87.91,352.85 89.02,352.69 90.13,352.52 91.24,352.36 92.34,352.20 93.45,352.04 94.56,351.88 95.67,351.73 96.78,351.57 97.88,351.42 98.99,351.28 100.10,351.13 101.20,350.99 102.31,350.85 103.42,350.71 104.53,350.58 105.63,350.45 106.74,350.33 107.85,350.20 108.96,350.09 110.06,349.97 111.17,349.86 112.28,349.76 113.39,349.65 114.50,349.56 115.60,349.46 116.71,349.38 117.82,349.29 118.93,349.22 120.03,349.14 121.14,349.07 122.25,349.00 123.35,348.92 124.46,348.85 125.57,348.78 126.68,348.71 127.78,348.64 128.89,348.57 130.00,348.50 131.11,348.43 132.22,348.36 133.32,348.29 134.43,348.22 135.54,348.16 136.64,348.09 137.75,348.03 138.86,347.96 139.97,347.90 141.07,347.84 142.18,347.78 143.29,347.72 144.40,347.66 145.50,347.61 146.61,347.55 147.72,347.50 148.83,347.45 149.94,347.40 151.04,347.35 152.15,347.30 153.26,347.26 154.37,347.21 155.47,347.17 156.58,347.13 157.69,347.09 158.80,347.06 159.90,347.02 161.01,346.99 162.12,346.96 163.22,346.94 164.33,346.91 165.44,346.89 166.55,346.87 167.66,346.85 168.76,346.84 169.87,346.82 170.98,346.82 172.09,346.81 173.19,346.80 174.30,346.80" fill="none" stroke="#c0dcb0" stroke-width="3.4" stroke-linejoin="round"/>
<polyline points="41.40,400.80 42.51,400.80 43.62,400.80 44.72,400.80 45.83,400.80 46.94,400.80 48.05,399.74 49.15,396.69 50.26,392.58 51.37,387.19 52.47,381.12 53.58,375.21 54.69,369.05 55.80,366.03 56.91,365.15 58.01,364.49 59.12,363.99 60.23,363.61 61.34,363.31 62.44,363.03 63.55,362.75 64.66,362.44 65.77,362.15 66.87,361.88 67.98,361.61 69.09,361.36 70.19,361.13 71.30,360.90 72.41,360.68 73.52,360.47 74.62,360.27 75.73,360.08 76.84,359.89 77.95,359.71 79.06,359.54 80.16,359.37 81.27,359.20 82.38,359.04 83.48,358.87 84.59,358.71 85.70,358.55 86.81,358.39 87.91,358.23 89.02,358.07 90.13,357.91 91.24,357.75 92.34,357.60 93.45,357.44 94.56,357.29 95.67,357.14 96.78,356.99 97.88,356.85 98.99,356.70 100.10,356.56 101.20,356.42 102.31,356.29 103.42,356.16 104.53,356.03 105.63,355.90 106.74,355.77 107.85,355.65 108.96,355.53 110.06,355.42 111.17,355.31 112.28,355.20 113.39,355.10 114.50,355.00 115.60,354.90 116.71,354.81 117.82,354.72 118.93,354.64 120.03,354.56 121.14,354.48 122.25,354.41 123.35,354.33 124.46,354.25 125.57,354.17 126.68,354.09 127.78,354.02 128.89,353.94 130.00,353.87 131.11,353.79 132.22,353.72 133.32,353.64 134.43,353.57 135.54,353.50 136.64,353.43 137.75,353.36 138.86,353.29 139.97,353.22 141.07,353.15 142.18,353.09 143.29,353.02 144.40,352.96 145.50,352.90 146.61,352.84 147.72,352.78 148.83,352.72 149.94,352.66 151.04,352.61 152.15,352.56 153.26,352.51 154.37,352.46 155.47,352.41 156.58,352.36 157.69,352.32 158.80,352.28 159.90,352.24 161.01,352.20 162.12,352.16 163.22,352.13 164.33,352.10 165.44,352.07 166.55,352.04 167.66,352.02 168.76,352.00 169.87,351.98 170.98,351.96 172.09,351.95 173.19,351.94 174.30,351.93" fill="none" stroke="#fbf0b8" stroke-width="3.4" stroke-linejoin="round"/>
<polyline points="41.40,400.80 42.51,400.80 43.62,400.80 44.72,400.80 45.83,400.80 46.94,400.80 48.05,399.74 49.15,396.69 50.26,392.58 51.37,387.15 52.47,380.60 53.58,375.63 54.69,372.42 55.80,370.84 56.91,370.14 58.01,369.59 59.12,369.16 60.23,368.83 61.34,368.55 62.44,368.30 63.55,368.05 64.66,367.79 65.77,367.55 66.87,367.32 67.98,367.10 69.09,366.89 70.19,366.69 71.30,366.50 72.41,366.32 73.52,366.14 74.62,365.97 75.73,365.81 76.84,365.66 77.95,365.51 79.06,365.36 80.16,365.21 81.27,365.07 82.38,364.93 83.48,364.79 84.59,364.64 85.70,364.50 86.81,364.36 87.91,364.21 89.02,364.07 90.13,363.93 91.24,363.79 92.34,363.65 93.45,363.51 94.56,363.37 95.67,363.23 96.78,363.10 97.88,362.96 98.99,362.83 100.10,362.70 101.20,362.57 102.31,362.44 103.42,362.32 104.53,362.20 105.63,362.08 106.74,361.96 107.85,361.85 108.96,361.74 110.06,361.63 111.17,361.53 112.28,361.43 113.39,361.33 114.50,361.24 115.60,361.15 116.71,361.06 117.82,360.98 118.93,360.90 120.03,360.82 121.14,360.75 122.25,360.67 123.35,360.60 124.46,360.53 125.57,360.45 126.68,360.38 127.78,360.31 128.89,360.24 130.00,360.17 131.11,360.10 132.22,360.03 133.32,359.96 134.43,359.89 135.54,359.82 136.64,359.75 137.75,359.69 138.86,359.62 139.97,359.56 141.07,359.49 142.18,359.43 143.29,359.37 144.40,359.31 145.50,359.25 146.61,359.20 147.72,359.14 148.83,359.08 149.94,359.03 151.04,358.98 152.15,358.93 153.26,358.88 154.37,358.83 155.47,358.79 156.58,358.74 157.69,358.70 158.80,358.66 159.90,358.62 161.01,358.58 162.12,358.55 163.22,358.52 164.33,358.49 165.44,358.46 166.55,358.43 167.66,358.41 168.76,358.38 169.87,358.36 170.98,358.34 172.09,358.33 173.19,358.32 174.30,358.31" fill="none" stroke="#f2d2a8" stroke-width="3.4" stroke-linejoin="round"/>
<polyline points="41.40,400.80 42.51,400.80 43.62,400.80 44.72,400.80 45.83,400.80 46.94,400.80 48.05,399.74 49.15,396.69 50.26,392.58 51.37,387.10 52.47,379.79 53.58,376.20 54.69,375.69 55.80,375.33 56.91,374.92 58.01,374.53 59.12,374.16 60.23,373.81 61.34,373.49 62.44,373.21 63.55,372.97 64.66,372.76 65.77,372.56 66.87,372.37 67.98,372.19 69.09,372.02 70.19,371.86 71.30,371.71 72.41,371.57 73.52,371.43 74.62,371.29 75.73,371.16 76.84,371.04 77.95,370.91 79.06,370.79 80.16,370.67 81.27,370.55 82.38,370.42 83.48,370.30 84.59,370.17 85.70,370.04 86.81,369.91 87.91,369.77 89.02,369.63 90.13,369.49 91.24,369.35 92.34,369.20 93.45,369.06 94.56,368.92 95.67,368.77 96.78,368.63 97.88,368.49 98.99,368.34 100.10,368.20 101.20,368.06 102.31,367.93 103.42,367.79 104.53,367.66 105.63,367.53 106.74,367.40 107.85,367.27 108.96,367.15 110.06,367.03 111.17,366.92 112.28,366.81 113.39,366.71 114.50,366.61 115.60,366.51 116.71,366.42 117.82,366.34 118.93,366.26 120.03,366.19 121.14,366.12 122.25,366.04 123.35,365.97 124.46,365.90 125.57,365.83 126.68,365.76 127.78,365.69 128.89,365.62 130.00,365.55 131.11,365.48 132.22,365.41 133.32,365.34 134.43,365.28 135.54,365.21 136.64,365.14 137.75,365.08 138.86,365.02 139.97,364.95 141.07,364.89 142.18,364.83 143.29,364.77 144.40,364.72 145.50,364.66 146.61,364.60 147.72,364.55 148.83,364.50 149.94,364.45 151.04,364.40 152.15,364.35 153.26,364.31 154.37,364.26 155.47,364.22 156.58,364.18 157.69,364.14 158.80,364.11 159.90,364.07 161.01,364.04 162.12,364.01 163.22,363.98 164.33,363.96 165.44,363.94 166.55,363.92 167.66,363.90 168.76,363.88 169.87,363.87 170.98,363.86 172.09,363.85 173.19,363.85 174.30,363.85" fill="none" stroke="#f2b8b8" stroke-width="3.4" stroke-linejoin="round"/>
<polyline points="41.40,400.80 42.51,400.80 43.62,400.80 44.72,400.80 45.83,400.80 46.94,400.80 48.05,399.74 49.15,396.69 50.26,392.58 51.37,387.10 52.47,379.79 53.58,376.20 54.69,375.69 55.80,375.33 56.91,374.92 58.01,374.53 59.12,374.16 60.23,373.81 61.34,373.49 62.44,373.21 63.55,372.97 64.66,372.76 65.77,372.56 66.87,372.37 67.98,372.19 69.09,372.02 70.19,371.86 71.30,371.71 72.41,371.57 73.52,371.43 74.62,371.29 75.73,371.16 76.84,371.04 77.95,370.91 79.06,370.79 80.16,370.67 81.27,370.55 82.38,370.42 83.48,370.30 84.59,370.17 85.70,370.04 86.81,369.91 87.91,369.77 89.02,369.63 90.13,369.49 91.24,369.35 92.34,369.20 93.45,369.06 94.56,368.92 95.67,368.77 96.78,368.63 97.88,368.49 98.99,368.34 100.10,368.20 101.20,368.06 102.31,367.93 103.42,367.79 104.53,367.66 105.63,367.53 106.74,367.40 107.85,367.27 108.96,367.15 110.06,367.03 111.17,366.92 112.28,366.81 113.39,366.71 114.50,366.61 115.60,366.51 116.71,366.42 117.82,366.34 118.93,366.26 120.03,366.19 121.14,366.12 122.25,366.04 123.35,365.97 124.46,365.90 125.57,365.83 126.68,365.76 127.78,365.69 128.89,365.62 130.00,365.55 131.11,365.48 132.22,365.41 133.32,365.34 134.43,365.28 135.54,365.21 136.64,365.14 137.75,365.08 138.86,365.02 139.97,364.95 141.07,364.89 142.18,364.83 143.29,364.77 144.40,364.72 145.50,364.66 146.61,364.60 147.72,364.55 148.83,364.50 149.94,364.45 151.04,364.40 152.15,364.35 153.26,364.31 154.37,364.26 155.47,364.22 156.58,364.18 157.69,364.14 158.80,364.11 159.90,364.07 161.01,364.04 162.12,364.01 163.22,363.98 164.33,363.96 165.44,363.94 166.55,363.92 167.66,363.90 168.76,363.88 169.87,363.87 170.98,363.86 172.09,363.85 173.19,363.85 174.30,363.85" fill="none" stroke="#a0121a" stroke-width="1.5" stroke-linejoin="round"/>
<path d="M40.30,400.80a1.1,1.1 0 1,0 2.2,0a1.1,1.1 0 1,0 -2.2,0M42.52,400.80a1.1,1.1 0 1,0 2.2,0a1.1,1.1 0 1,0 -2.2,0M44.73,400.80a1.1,1.1 0 1,0 2.2,0a1.1,1.1 0 1,0 -2.2,0M46.95,399.74a1.1,1.1 0 1,0 2.2,0a1.1,1.1 0 1,0 -2.2,0M49.16,392.58a1.1,1.1 0 1,0 2.2,0a1.1,1.1 0 1,0 -2.2,0M51.37,379.79a1.1,1.1 0 1,0 2.2,0a1.1,1.1 0 1,0 -2.2,0M53.59,375.69a1.1,1.1 0 1,0 2.2,0a1.1,1.1 0 1,0 -2.2,0M55.80,374.92a1.1,1.1 0 1,0 2.2,0a1.1,1.1 0 1,0 -2.2,0M58.02,374.16a1.1,1.1 0 1,0 2.2,0a1.1,1.1 0 1,0 -2.2,0M60.23,373.49a1.1,1.1 0 1,0 2.2,0a1.1,1.1 0 1,0 -2.2,0M62.45,372.97a1.1,1.1 0 1,0 2.2,0a1.1,1.1 0 1,0 -2.2,0M64.67,372.56a1.1,1.1 0 1,0 2.2,0a1.1,1.1 0 1,0 -2.2,0M66.88,372.19a1.1,1.1 0 1,0 2.2,0a1.1,1.1 0 1,0 -2.2,0M69.09,371.86a1.1,1.1 0 1,0 2.2,0a1.1,1.1 0 1,0 -2.2,0M71.31,371.57a1.1,1.1 0 1,0 2.2,0a1.1,1.1 0 1,0 -2.2,0M73.53,371.29a1.1,1.1 0 1,0 2.2,0a1.1,1.1 0 1,0 -2.2,0M75.74,371.04a1.1,1.1 0 1,0 2.2,0a1.1,1.1 0 1,0 -2.2,0M77.96,370.79a1.1,1.1 0 1,0 2.2,0a1.1,1.1 0 1,0 -2.2,0M80.17,370.55a1.1,1.1 0 1,0 2.2,0a1.1,1.1 0 1,0 -2.2,0M82.39,370.30a1.1,1.1 0 1,0 2.2,0a1.1,1.1 0 1,0 -2.2,0M84.60,370.04a1.1,1.1 0 1,0 2.2,0a1.1,1.1 0 1,0 -2.2,0M86.81,369.77a1.1,1.1 0 1,0 2.2,0a1.1,1.1 0 1,0 -2.2,0M89.03,369.49a1.1,1.1 0 1,0 2.2,0a1.1,1.1 0 1,0 -2.2,0M91.25,369.20a1.1,1.1 0 1,0 2.2,0a1.1,1.1 0 1,0 -2.2,0M93.46,368.92a1.1,1.1 0 1,0 2.2,0a1.1,1.1 0 1,0 -2.2,0M95.68,368.63a1.1,1.1 0 1,0 2.2,0a1.1,1.1 0 1,0 -2.2,0M97.89,368.34a1.1,1.1 0 1,0 2.2,0a1.1,1.1 0 1,0 -2.2,0M100.11,368.06a1.1,1.1 0 1,0 2.2,0a1.1,1.1 0 1,0 -2.2,0M102.32,367.79a1.1,1.1 0 1,0 2.2,0a1.1,1.1 0 1,0 -2.2,0M104.53,367.53a1.1,1.1 0 1,0 2.2,0a1.1,1.1 0 1,0 -2.2,0M106.75,367.27a1.1,1.1 0 1,0 2.2,0a1.1,1.1 0 1,0 -2.2,0M108.97,367.03a1.1,1.1 0 1,0 2.2,0a1.1,1.1 0 1,0 -2.2,0M111.18,366.81a1.1,1.1 0 1,0 2.2,0a1.1,1.1 0 1,0 -2.2,0M113.40,366.61a1.1,1.1 0 1,0 2.2,0a1.1,1.1 0 1,0 -2.2,0M115.61,366.42a1.1,1.1 0 1,0 2.2,0a1.1,1.1 0 1,0 -2.2,0M117.83,366.26a1.1,1.1 0 1,0 2.2,0a1.1,1.1 0 1,0 -2.2,0M120.04,366.12a1.1,1.1 0 1,0 2.2,0a1.1,1.1 0 1,0 -2.2,0M122.25,365.97a1.1,1.1 0 1,0 2.2,0a1.1,1.1 0 1,0 -2.2,0M124.47,365.83a1.1,1.1 0 1,0 2.2,0a1.1,1.1 0 1,0 -2.2,0M126.69,365.69a1.1,1.1 0 1,0 2.2,0a1.1,1.1 0 1,0 -2.2,0M128.90,365.55a1.1,1.1 0 1,0 2.2,0a1.1,1.1 0 1,0 -2.2,0M131.12,365.41a1.1,1.1 0 1,0 2.2,0a1.1,1.1 0 1,0 -2.2,0M133.33,365.28a1.1,1.1 0 1,0 2.2,0a1.1,1.1 0 1,0 -2.2,0M135.54,365.14a1.1,1.1 0 1,0 2.2,0a1.1,1.1 0 1,0 -2.2,0M137.76,365.02a1.1,1.1 0 1,0 2.2,0a1.1,1.1 0 1,0 -2.2,0M139.97,364.89a1.1,1.1 0 1,0 2.2,0a1.1,1.1 0 1,0 -2.2,0M142.19,364.77a1.1,1.1 0 1,0 2.2,0a1.1,1.1 0 1,0 -2.2,0M144.41,364.66a1.1,1.1 0 1,0 2.2,0a1.1,1.1 0 1,0 -2.2,0M146.62,364.55a1.1,1.1 0 1,0 2.2,0a1.1,1.1 0 1,0 -2.2,0M148.84,364.45a1.1,1.1 0 1,0 2.2,0a1.1,1.1 0 1,0 -2.2,0M151.05,364.35a1.1,1.1 0 1,0 2.2,0a1.1,1.1 0 1,0 -2.2,0M153.27,364.26a1.1,1.1 0 1,0 2.2,0a1.1,1.1 0 1,0 -2.2,0M155.48,364.18a1.1,1.1 0 1,0 2.2,0a1.1,1.1 0 1,0 -2.2,0M157.70,364.11a1.1,1.1 0 1,0 2.2,0a1.1,1.1 0 1,0 -2.2,0M159.91,364.04a1.1,1.1 0 1,0 2.2,0a1.1,1.1 0 1,0 -2.2,0M162.12,363.98a1.1,1.1 0 1,0 2.2,0a1.1,1.1 0 1,0 -2.2,0M164.34,363.94a1.1,1.1 0 1,0 2.2,0a1.1,1.1 0 1,0 -2.2,0M166.56,363.90a1.1,1.1 0 1,0 2.2,0a1.1,1.1 0 1,0 -2.2,0M168.77,363.87a1.1,1.1 0 1,0 2.2,0a1.1,1.1 0 1,0 -2.2,0M170.99,363.85a1.1,1.1 0 1,0 2.2,0a1.1,1.1 0 1,0 -2.2,0M173.20,363.85a1.1,1.1 0 1,0 2.2,0a1.1,1.1 0 1,0 -2.2,0" fill="#a0121a"/>
<polyline points="41.40,400.80 42.51,400.80 43.62,400.80 44.72,400.80 45.83,400.80 46.94,400.80 48.05,399.74 49.15,396.69 50.26,392.58 51.37,387.22 52.47,381.72 53.58,374.58 54.69,361.80 55.80,355.22 56.91,354.04 58.01,353.16 59.12,352.51 60.23,352.03 61.34,351.65 62.44,351.31 63.55,350.94 64.66,350.55 65.77,350.16 66.87,349.80 67.98,349.45 69.09,349.12 70.19,348.80 71.30,348.49 72.41,348.20 73.52,347.92 74.62,347.65 75.73,347.39 76.84,347.15 77.95,346.91 79.06,346.68 80.16,346.46 81.27,346.24 82.38,346.04 83.48,345.84 84.59,345.64 85.70,345.45 86.81,345.26 87.91,345.07 89.02,344.89 90.13,344.71 91.24,344.54 92.34,344.37 93.45,344.20 94.56,344.03 95.67,343.87 96.78,343.71 97.88,343.55 98.99,343.40 100.10,343.25 101.20,343.10 102.31,342.96 103.42,342.82 104.53,342.69 105.63,342.55 106.74,342.42 107.85,342.30 108.96,342.18 110.06,342.06 111.17,341.94 112.28,341.83 113.39,341.72 114.50,341.62 115.60,341.52 116.71,341.42 117.82,341.33 118.93,341.23 120.03,341.15 121.14,341.06 122.25,340.98 123.35,340.89 124.46,340.80 125.57,340.72 126.68,340.63 127.78,340.55 128.89,340.47 130.00,340.38 131.11,340.30 132.22,340.22 133.32,340.14 134.43,340.06 135.54,339.98 136.64,339.90 137.75,339.82 138.86,339.75 139.97,339.67 141.07,339.60 142.18,339.53 143.29,339.46 144.40,339.39 145.50,339.32 146.61,339.25 147.72,339.19 148.83,339.12 149.94,339.06 151.04,339.00 152.15,338.94 153.26,338.89 154.37,338.83 155.47,338.78 156.58,338.73 157.69,338.68 158.80,338.63 159.90,338.59 161.01,338.54 162.12,338.50 163.22,338.46 164.33,338.43 165.44,338.39 166.55,338.36 167.66,338.34 168.76,338.31 169.87,338.29 170.98,338.27 172.09,338.25 173.19,338.23 174.30,338.22" fill="none" stroke="#7e7bb5" stroke-width="1.5" stroke-linejoin="round"/>
<path d="M40.30,400.80a1.1,1.1 0 1,0 2.2,0a1.1,1.1 0 1,0 -2.2,0M42.52,400.80a1.1,1.1 0 1,0 2.2,0a1.1,1.1 0 1,0 -2.2,0M44.73,400.80a1.1,1.1 0 1,0 2.2,0a1.1,1.1 0 1,0 -2.2,0M46.95,399.74a1.1,1.1 0 1,0 2.2,0a1.1,1.1 0 1,0 -2.2,0M49.16,392.58a1.1,1.1 0 1,0 2.2,0a1.1,1.1 0 1,0 -2.2,0M51.37,381.72a1.1,1.1 0 1,0 2.2,0a1.1,1.1 0 1,0 -2.2,0M53.59,361.80a1.1,1.1 0 1,0 2.2,0a1.1,1.1 0 1,0 -2.2,0M55.80,354.04a1.1,1.1 0 1,0 2.2,0a1.1,1.1 0 1,0 -2.2,0M58.02,352.51a1.1,1.1 0 1,0 2.2,0a1.1,1.1 0 1,0 -2.2,0M60.23,351.65a1.1,1.1 0 1,0 2.2,0a1.1,1.1 0 1,0 -2.2,0M62.45,350.94a1.1,1.1 0 1,0 2.2,0a1.1,1.1 0 1,0 -2.2,0M64.67,350.16a1.1,1.1 0 1,0 2.2,0a1.1,1.1 0 1,0 -2.2,0M66.88,349.45a1.1,1.1 0 1,0 2.2,0a1.1,1.1 0 1,0 -2.2,0M69.09,348.80a1.1,1.1 0 1,0 2.2,0a1.1,1.1 0 1,0 -2.2,0M71.31,348.20a1.1,1.1 0 1,0 2.2,0a1.1,1.1 0 1,0 -2.2,0M73.53,347.65a1.1,1.1 0 1,0 2.2,0a1.1,1.1 0 1,0 -2.2,0M75.74,347.15a1.1,1.1 0 1,0 2.2,0a1.1,1.1 0 1,0 -2.2,0M77.96,346.68a1.1,1.1 0 1,0 2.2,0a1.1,1.1 0 1,0 -2.2,0M80.17,346.24a1.1,1.1 0 1,0 2.2,0a1.1,1.1 0 1,0 -2.2,0M82.39,345.84a1.1,1.1 0 1,0 2.2,0a1.1,1.1 0 1,0 -2.2,0M84.60,345.45a1.1,1.1 0 1,0 2.2,0a1.1,1.1 0 1,0 -2.2,0M86.81,345.07a1.1,1.1 0 1,0 2.2,0a1.1,1.1 0 1,0 -2.2,0M89.03,344.71a1.1,1.1 0 1,0 2.2,0a1.1,1.1 0 1,0 -2.2,0M91.25,344.37a1.1,1.1 0 1,0 2.2,0a1.1,1.1 0 1,0 -2.2,0M93.46,344.03a1.1,1.1 0 1,0 2.2,0a1.1,1.1 0 1,0 -2.2,0M95.68,343.71a1.1,1.1 0 1,0 2.2,0a1.1,1.1 0 1,0 -2.2,0M97.89,343.40a1.1,1.1 0 1,0 2.2,0a1.1,1.1 0 1,0 -2.2,0M100.11,343.10a1.1,1.1 0 1,0 2.2,0a1.1,1.1 0 1,0 -2.2,0M102.32,342.82a1.1,1.1 0 1,0 2.2,0a1.1,1.1 0 1,0 -2.2,0M104.53,342.55a1.1,1.1 0 1,0 2.2,0a1.1,1.1 0 1,0 -2.2,0M106.75,342.30a1.1,1.1 0 1,0 2.2,0a1.1,1.1 0 1,0 -2.2,0M108.97,342.06a1.1,1.1 0 1,0 2.2,0a1.1,1.1 0 1,0 -2.2,0M111.18,341.83a1.1,1.1 0 1,0 2.2,0a1.1,1.1 0 1,0 -2.2,0M113.40,341.62a1.1,1.1 0 1,0 2.2,0a1.1,1.1 0 1,0 -2.2,0M115.61,341.42a1.1,1.1 0 1,0 2.2,0a1.1,1.1 0 1,0 -2.2,0M117.83,341.23a1.1,1.1 0 1,0 2.2,0a1.1,1.1 0 1,0 -2.2,0M120.04,341.06a1.1,1.1 0 1,0 2.2,0a1.1,1.1 0 1,0 -2.2,0M122.25,340.89a1.1,1.1 0 1,0 2.2,0a1.1,1.1 0 1,0 -2.2,0M124.47,340.72a1.1,1.1 0 1,0 2.2,0a1.1,1.1 0 1,0 -2.2,0M126.69,340.55a1.1,1.1 0 1,0 2.2,0a1.1,1.1 0 1,0 -2.2,0M128.90,340.38a1.1,1.1 0 1,0 2.2,0a1.1,1.1 0 1,0 -2.2,0M131.12,340.22a1.1,1.1 0 1,0 2.2,0a1.1,1.1 0 1,0 -2.2,0M133.33,340.06a1.1,1.1 0 1,0 2.2,0a1.1,1.1 0 1,0 -2.2,0M135.54,339.90a1.1,1.1 0 1,0 2.2,0a1.1,1.1 0 1,0 -2.2,0M137.76,339.75a1.1,1.1 0 1,0 2.2,0a1.1,1.1 0 1,0 -2.2,0M139.97,339.60a1.1,1.1 0 1,0 2.2,0a1.1,1.1 0 1,0 -2.2,0M142.19,339.46a1.1,1.1 0 1,0 2.2,0a1.1,1.1 0 1,0 -2.2,0M144.41,339.32a1.1,1.1 0 1,0 2.2,0a1.1,1.1 0 1,0 -2.2,0M146.62,339.19a1.1,1.1 0 1,0 2.2,0a1.1,1.1 0 1,0 -2.2,0M148.84,339.06a1.1,1.1 0 1,0 2.2,0a1.1,1.1 0 1,0 -2.2,0M151.05,338.94a1.1,1.1 0 1,0 2.2,0a1.1,1.1 0 1,0 -2.2,0M153.27,338.83a1.1,1.1 0 1,0 2.2,0a1.1,1.1 0 1,0 -2.2,0M155.48,338.73a1.1,1.1 0 1,0 2.2,0a1.1,1.1 0 1,0 -2.2,0M157.70,338.63a1.1,1.1 0 1,0 2.2,0a1.1,1.1 0 1,0 -2.2,0M159.91,338.54a1.1,1.1 0 1,0 2.2,0a1.1,1.1 0 1,0 -2.2,0M162.12,338.46a1.1,1.1 0 1,0 2.2,0a1.1,1.1 0 1,0 -2.2,0M164.34,338.39a1.1,1.1 0 1,0 2.2,0a1.1,1.1 0 1,0 -2.2,0M166.56,338.34a1.1,1.1 0 1,0 2.2,0a1.1,1.1 0 1,0 -2.2,0M168.77,338.29a1.1,1.1 0 1,0 2.2,0a1.1,1.1 0 1,0 -2.2,0M170.99,338.25a1.1,1.1 0 1,0 2.2,0a1.1,1.1 0 1,0 -2.2,0M173.20,338.22a1.1,1.1 0 1,0 2.2,0a1.1,1.1 0 1,0 -2.2,0" fill="#7e7bb5"/>
<polyline points="41.40,400.80 42.51,400.80 43.62,400.80 44.72,400.80 45.83,400.80 46.94,400.80 48.05,399.74 49.15,396.69 50.26,392.58 51.37,387.22 52.47,381.60 53.58,374.73 54.69,363.81 55.80,358.21 56.91,357.06 58.01,356.20 59.12,355.56 60.23,355.08 61.34,354.71 62.44,354.37 63.55,354.01 64.66,353.61 65.77,353.24 66.87,352.88 67.98,352.53 69.09,352.20 70.19,351.88 71.30,351.58 72.41,351.29 73.52,351.01 74.62,350.74 75.73,350.49 76.84,350.24 77.95,350.01 79.06,349.78 80.16,349.57 81.27,349.36 82.38,349.16 83.48,348.97 84.59,348.78 85.70,348.60 86.81,348.43 87.91,348.26 89.02,348.09 90.13,347.92 91.24,347.76 92.34,347.61 93.45,347.45 94.56,347.31 95.67,347.16 96.78,347.02 97.88,346.88 98.99,346.74 100.10,346.61 101.20,346.48 102.31,346.35 103.42,346.23 104.53,346.10 105.63,345.99 106.74,345.87 107.85,345.76 108.96,345.65 110.06,345.55 111.17,345.45 112.28,345.35 113.39,345.25 114.50,345.16 115.60,345.06 116.71,344.98 117.82,344.89 118.93,344.81 120.03,344.73 121.14,344.65 122.25,344.57 123.35,344.49 124.46,344.41 125.57,344.33 126.68,344.25 127.78,344.17 128.89,344.10 130.00,344.02 131.11,343.94 132.22,343.87 133.32,343.79 134.43,343.72 135.54,343.65 136.64,343.58 137.75,343.51 138.86,343.43 139.97,343.37 141.07,343.30 142.18,343.23 143.29,343.16 144.40,343.10 145.50,343.04 146.61,342.97 147.72,342.91 148.83,342.85 149.94,342.80 151.04,342.74 152.15,342.68 153.26,342.63 154.37,342.58 155.47,342.53 156.58,342.48 157.69,342.43 158.80,342.39 159.90,342.35 161.01,342.30 162.12,342.27 163.22,342.23 164.33,342.19 165.44,342.16 166.55,342.13 167.66,342.10 168.76,342.07 169.87,342.05 170.98,342.03 172.09,342.01 173.19,341.99 174.30,341.97" fill="none" stroke="#1a1a6a" stroke-width="1.5" stroke-linejoin="round"/>
<path d="M40.30,400.80a1.1,1.1 0 1,0 2.2,0a1.1,1.1 0 1,0 -2.2,0M42.52,400.80a1.1,1.1 0 1,0 2.2,0a1.1,1.1 0 1,0 -2.2,0M44.73,400.80a1.1,1.1 0 1,0 2.2,0a1.1,1.1 0 1,0 -2.2,0M46.95,399.74a1.1,1.1 0 1,0 2.2,0a1.1,1.1 0 1,0 -2.2,0M49.16,392.58a1.1,1.1 0 1,0 2.2,0a1.1,1.1 0 1,0 -2.2,0M51.37,381.60a1.1,1.1 0 1,0 2.2,0a1.1,1.1 0 1,0 -2.2,0M53.59,363.81a1.1,1.1 0 1,0 2.2,0a1.1,1.1 0 1,0 -2.2,0M55.80,357.06a1.1,1.1 0 1,0 2.2,0a1.1,1.1 0 1,0 -2.2,0M58.02,355.56a1.1,1.1 0 1,0 2.2,0a1.1,1.1 0 1,0 -2.2,0M60.23,354.71a1.1,1.1 0 1,0 2.2,0a1.1,1.1 0 1,0 -2.2,0M62.45,354.01a1.1,1.1 0 1,0 2.2,0a1.1,1.1 0 1,0 -2.2,0M64.67,353.24a1.1,1.1 0 1,0 2.2,0a1.1,1.1 0 1,0 -2.2,0M66.88,352.53a1.1,1.1 0 1,0 2.2,0a1.1,1.1 0 1,0 -2.2,0M69.09,351.88a1.1,1.1 0 1,0 2.2,0a1.1,1.1 0 1,0 -2.2,0M71.31,351.29a1.1,1.1 0 1,0 2.2,0a1.1,1.1 0 1,0 -2.2,0M73.53,350.74a1.1,1.1 0 1,0 2.2,0a1.1,1.1 0 1,0 -2.2,0M75.74,350.24a1.1,1.1 0 1,0 2.2,0a1.1,1.1 0 1,0 -2.2,0M77.96,349.78a1.1,1.1 0 1,0 2.2,0a1.1,1.1 0 1,0 -2.2,0M80.17,349.36a1.1,1.1 0 1,0 2.2,0a1.1,1.1 0 1,0 -2.2,0M82.39,348.97a1.1,1.1 0 1,0 2.2,0a1.1,1.1 0 1,0 -2.2,0M84.60,348.60a1.1,1.1 0 1,0 2.2,0a1.1,1.1 0 1,0 -2.2,0M86.81,348.26a1.1,1.1 0 1,0 2.2,0a1.1,1.1 0 1,0 -2.2,0M89.03,347.92a1.1,1.1 0 1,0 2.2,0a1.1,1.1 0 1,0 -2.2,0M91.25,347.61a1.1,1.1 0 1,0 2.2,0a1.1,1.1 0 1,0 -2.2,0M93.46,347.31a1.1,1.1 0 1,0 2.2,0a1.1,1.1 0 1,0 -2.2,0M95.68,347.02a1.1,1.1 0 1,0 2.2,0a1.1,1.1 0 1,0 -2.2,0M97.89,346.74a1.1,1.1 0 1,0 2.2,0a1.1,1.1 0 1,0 -2.2,0M100.11,346.48a1.1,1.1 0 1,0 2.2,0a1.1,1.1 0 1,0 -2.2,0M102.32,346.23a1.1,1.1 0 1,0 2.2,0a1.1,1.1 0 1,0 -2.2,0M104.53,345.99a1.1,1.1 0 1,0 2.2,0a1.1,1.1 0 1,0 -2.2,0M106.75,345.76a1.1,1.1 0 1,0 2.2,0a1.1,1.1 0 1,0 -2.2,0M108.97,345.55a1.1,1.1 0 1,0 2.2,0a1.1,1.1 0 1,0 -2.2,0M111.18,345.35a1.1,1.1 0 1,0 2.2,0a1.1,1.1 0 1,0 -2.2,0M113.40,345.16a1.1,1.1 0 1,0 2.2,0a1.1,1.1 0 1,0 -2.2,0M115.61,344.98a1.1,1.1 0 1,0 2.2,0a1.1,1.1 0 1,0 -2.2,0M117.83,344.81a1.1,1.1 0 1,0 2.2,0a1.1,1.1 0 1,0 -2.2,0M120.04,344.65a1.1,1.1 0 1,0 2.2,0a1.1,1.1 0 1,0 -2.2,0M122.25,344.49a1.1,1.1 0 1,0 2.2,0a1.1,1.1 0 1,0 -2.2,0M124.47,344.33a1.1,1.1 0 1,0 2.2,0a1.1,1.1 0 1,0 -2.2,0M126.69,344.17a1.1,1.1 0 1,0 2.2,0a1.1,1.1 0 1,0 -2.2,0M128.90,344.02a1.1,1.1 0 1,0 2.2,0a1.1,1.1 0 1,0 -2.2,0M131.12,343.87a1.1,1.1 0 1,0 2.2,0a1.1,1.1 0 1,0 -2.2,0M133.33,343.72a1.1,1.1 0 1,0 2.2,0a1.1,1.1 0 1,0 -2.2,0M135.54,343.58a1.1,1.1 0 1,0 2.2,0a1.1,1.1 0 1,0 -2.2,0M137.76,343.43a1.1,1.1 0 1,0 2.2,0a1.1,1.1 0 1,0 -2.2,0M139.97,343.30a1.1,1.1 0 1,0 2.2,0a1.1,1.1 0 1,0 -2.2,0M142.19,343.16a1.1,1.1 0 1,0 2.2,0a1.1,1.1 0 1,0 -2.2,0M144.41,343.04a1.1,1.1 0 1,0 2.2,0a1.1,1.1 0 1,0 -2.2,0M146.62,342.91a1.1,1.1 0 1,0 2.2,0a1.1,1.1 0 1,0 -2.2,0M148.84,342.80a1.1,1.1 0 1,0 2.2,0a1.1,1.1 0 1,0 -2.2,0M151.05,342.68a1.1,1.1 0 1,0 2.2,0a1.1,1.1 0 1,0 -2.2,0M153.27,342.58a1.1,1.1 0 1,0 2.2,0a1.1,1.1 0 1,0 -2.2,0M155.48,342.48a1.1,1.1 0 1,0 2.2,0a1.1,1.1 0 1,0 -2.2,0M157.70,342.39a1.1,1.1 0 1,0 2.2,0a1.1,1.1 0 1,0 -2.2,0M159.91,342.30a1.1,1.1 0 1,0 2.2,0a1.1,1.1 0 1,0 -2.2,0M162.12,342.23a1.1,1.1 0 1,0 2.2,0a1.1,1.1 0 1,0 -2.2,0M164.34,342.16a1.1,1.1 0 1,0 2.2,0a1.1,1.1 0 1,0 -2.2,0M166.56,342.10a1.1,1.1 0 1,0 2.2,0a1.1,1.1 0 1,0 -2.2,0M168.77,342.05a1.1,1.1 0 1,0 2.2,0a1.1,1.1 0 1,0 -2.2,0M170.99,342.01a1.1,1.1 0 1,0 2.2,0a1.1,1.1 0 1,0 -2.2,0M173.20,341.97a1.1,1.1 0 1,0 2.2,0a1.1,1.1 0 1,0 -2.2,0" fill="#1a1a6a"/>
<polyline points="41.40,400.80 42.51,400.80 43.62,400.80 44.72,400.80 45.83,400.80 46.94,400.80 48.05,399.74 49.15,396.69 50.26,392.58 51.37,387.21 52.47,381.45 53.58,374.89 54.69,365.77 55.80,361.24 56.91,360.27 58.01,359.55 59.12,359.01 60.23,358.61 61.34,358.30 62.44,358.02 63.55,357.71 64.66,357.38 65.77,357.07 66.87,356.77 67.98,356.49 69.09,356.22 70.19,355.96 71.30,355.71 72.41,355.47 73.52,355.25 74.62,355.03 75.73,354.82 76.84,354.62 77.95,354.43 79.06,354.24 80.16,354.05 81.27,353.87 82.38,353.70 83.48,353.53 84.59,353.36 85.70,353.19 86.81,353.02 87.91,352.85 89.02,352.69 90.13,352.52 91.24,352.36 92.34,352.20 93.45,352.04 94.56,351.88 95.67,351.73 96.78,351.57 97.88,351.42 98.99,351.28 100.10,351.13 101.20,350.99 102.31,350.85 103.42,350.71 104.53,350.58 105.63,350.45 106.74,350.33 107.85,350.20 108.96,350.09 110.06,349.97 111.17,349.86 112.28,349.76 113.39,349.65 114.50,349.56 115.60,349.46 116.71,349.38 117.82,349.29 118.93,349.22 120.03,349.14 121.14,349.07 122.25,349.00 123.35,348.92 124.46,348.85 125.57,348.78 126.68,348.71 127.78,348.64 128.89,348.57 130.00,348.50 131.11,348.43 132.22,348.36 133.32,348.29 134.43,348.22 135.54,348.16 136.64,348.09 137.75,348.03 138.86,347.96 139.97,347.90 141.07,347.84 142.18,347.78 143.29,347.72 144.40,347.66 145.50,347.61 146.61,347.55 147.72,347.50 148.83,347.45 149.94,347.40 151.04,347.35 152.15,347.30 153.26,347.26 154.37,347.21 155.47,347.17 156.58,347.13 157.69,347.09 158.80,347.06 159.90,347.02 161.01,346.99 162.12,346.96 163.22,346.94 164.33,346.91 165.44,346.89 166.55,346.87 167.66,346.85 168.76,346.84 169.87,346.82 170.98,346.82 172.09,346.81 173.19,346.80 174.30,346.80" fill="none" stroke="#3f8030" stroke-width="1.5" stroke-linejoin="round"/>
<path d="M40.30,400.80a1.1,1.1 0 1,0 2.2,0a1.1,1.1 0 1,0 -2.2,0M42.52,400.80a1.1,1.1 0 1,0 2.2,0a1.1,1.1 0 1,0 -2.2,0M44.73,400.80a1.1,1.1 0 1,0 2.2,0a1.1,1.1 0 1,0 -2.2,0M46.95,399.74a1.1,1.1 0 1,0 2.2,0a1.1,1.1 0 1,0 -2.2,0M49.16,392.58a1.1,1.1 0 1,0 2.2,0a1.1,1.1 0 1,0 -2.2,0M51.37,381.45a1.1,1.1 0 1,0 2.2,0a1.1,1.1 0 1,0 -2.2,0M53.59,365.77a1.1,1.1 0 1,0 2.2,0a1.1,1.1 0 1,0 -2.2,0M55.80,360.27a1.1,1.1 0 1,0 2.2,0a1.1,1.1 0 1,0 -2.2,0M58.02,359.01a1.1,1.1 0 1,0 2.2,0a1.1,1.1 0 1,0 -2.2,0M60.23,358.30a1.1,1.1 0 1,0 2.2,0a1.1,1.1 0 1,0 -2.2,0M62.45,357.71a1.1,1.1 0 1,0 2.2,0a1.1,1.1 0 1,0 -2.2,0M64.67,357.07a1.1,1.1 0 1,0 2.2,0a1.1,1.1 0 1,0 -2.2,0M66.88,356.49a1.1,1.1 0 1,0 2.2,0a1.1,1.1 0 1,0 -2.2,0M69.09,355.96a1.1,1.1 0 1,0 2.2,0a1.1,1.1 0 1,0 -2.2,0M71.31,355.47a1.1,1.1 0 1,0 2.2,0a1.1,1.1 0 1,0 -2.2,0M73.53,355.03a1.1,1.1 0 1,0 2.2,0a1.1,1.1 0 1,0 -2.2,0M75.74,354.62a1.1,1.1 0 1,0 2.2,0a1.1,1.1 0 1,0 -2.2,0M77.96,354.24a1.1,1.1 0 1,0 2.2,0a1.1,1.1 0 1,0 -2.2,0M80.17,353.87a1.1,1.1 0 1,0 2.2,0a1.1,1.1 0 1,0 -2.2,0M82.39,353.53a1.1,1.1 0 1,0 2.2,0a1.1,1.1 0 1,0 -2.2,0M84.60,353.19a1.1,1.1 0 1,0 2.2,0a1.1,1.1 0 1,0 -2.2,0M86.81,352.85a1.1,1.1 0 1,0 2.2,0a1.1,1.1 0 1,0 -2.2,0M89.03,352.52a1.1,1.1 0 1,0 2.2,0a1.1,1.1 0 1,0 -2.2,0M91.25,352.20a1.1,1.1 0 1,0 2.2,0a1.1,1.1 0 1,0 -2.2,0M93.46,351.88a1.1,1.1 0 1,0 2.2,0a1.1,1.1 0 1,0 -2.2,0M95.68,351.57a1.1,1.1 0 1,0 2.2,0a1.1,1.1 0 1,0 -2.2,0M97.89,351.28a1.1,1.1 0 1,0 2.2,0a1.1,1.1 0 1,0 -2.2,0M100.11,350.99a1.1,1.1 0 1,0 2.2,0a1.1,1.1 0 1,0 -2.2,0M102.32,350.71a1.1,1.1 0 1,0 2.2,0a1.1,1.1 0 1,0 -2.2,0M104.53,350.45a1.1,1.1 0 1,0 2.2,0a1.1,1.1 0 1,0 -2.2,0M106.75,350.20a1.1,1.1 0 1,0 2.2,0a1.1,1.1 0 1,0 -2.2,0M108.97,349.97a1.1,1.1 0 1,0 2.2,0a1.1,1.1 0 1,0 -2.2,0M111.18,349.76a1.1,1.1 0 1,0 2.2,0a1.1,1.1 0 1,0 -2.2,0M113.40,349.56a1.1,1.1 0 1,0 2.2,0a1.1,1.1 0 1,0 -2.2,0M115.61,349.38a1.1,1.1 0 1,0 2.2,0a1.1,1.1 0 1,0 -2.2,0M117.83,349.22a1.1,1.1 0 1,0 2.2,0a1.1,1.1 0 1,0 -2.2,0M120.04,349.07a1.1,1.1 0 1,0 2.2,0a1.1,1.1 0 1,0 -2.2,0M122.25,348.92a1.1,1.1 0 1,0 2.2,0a1.1,1.1 0 1,0 -2.2,0M124.47,348.78a1.1,1.1 0 1,0 2.2,0a1.1,1.1 0 1,0 -2.2,0M126.69,348.64a1.1,1.1 0 1,0 2.2,0a1.1,1.1 0 1,0 -2.2,0M128.90,348.50a1.1,1.1 0 1,0 2.2,0a1.1,1.1 0 1,0 -2.2,0M131.12,348.36a1.1,1.1 0 1,0 2.2,0a1.1,1.1 0 1,0 -2.2,0M133.33,348.22a1.1,1.1 0 1,0 2.2,0a1.1,1.1 0 1,0 -2.2,0M135.54,348.09a1.1,1.1 0 1,0 2.2,0a1.1,1.1 0 1,0 -2.2,0M137.76,347.96a1.1,1.1 0 1,0 2.2,0a1.1,1.1 0 1,0 -2.2,0M139.97,347.84a1.1,1.1 0 1,0 2.2,0a1.1,1.1 0 1,0 -2.2,0M142.19,347.72a1.1,1.1 0 1,0 2.2,0a1.1,1.1 0 1,0 -2.2,0M144.41,347.61a1.1,1.1 0 1,0 2.2,0a1.1,1.1 0 1,0 -2.2,0M146.62,347.50a1.1,1.1 0 1,0 2.2,0a1.1,1.1 0 1,0 -2.2,0M148.84,347.40a1.1,1.1 0 1,0 2.2,0a1.1,1.1 0 1,0 -2.2,0M151.05,347.30a1.1,1.1 0 1,0 2.2,0a1.1,1.1 0 1,0 -2.2,0M153.27,347.21a1.1,1.1 0 1,0 2.2,0a1.1,1.1 0 1,0 -2.2,0M155.48,347.13a1.1,1.1 0 1,0 2.2,0a1.1,1.1 0 1,0 -2.2,0M157.70,347.06a1.1,1.1 0 1,0 2.2,0a1.1,1.1 0 1,0 -2.2,0M159.91,346.99a1.1,1.1 0 1,0 2.2,0a1.1,1.1 0 1,0 -2.2,0M162.12,346.94a1.1,1.1 0 1,0 2.2,0a1.1,1.1 0 1,0 -2.2,0M164.34,346.89a1.1,1.1 0 1,0 2.2,0a1.1,1.1 0 1,0 -2.2,0M166.56,346.85a1.1,1.1 0 1,0 2.2,0a1.1,1.1 0 1,0 -2.2,0M168.77,346.82a1.1,1.1 0 1,0 2.2,0a1.1,1.1 0 1,0 -2.2,0M170.99,346.81a1.1,1.1 0 1,0 2.2,0a1.1,1.1 0 1,0 -2.2,0M173.20,346.80a1.1,1.1 0 1,0 2.2,0a1.1,1.1 0 1,0 -2.2,0" fill="#3f8030"/>
<polyline points="41.40,400.80 42.51,400.80 43.62,400.80 44.72,400.80 45.83,400.80 46.94,400.80 48.05,399.74 49.15,396.69 50.26,392.58 51.37,387.19 52.47,381.12 53.58,375.21 54.69,369.05 55.80,366.03 56.91,365.15 58.01,364.49 59.12,363.99 60.23,363.61 61.34,363.31 62.44,363.03 63.55,362.75 64.66,362.44 65.77,362.15 66.87,361.88 67.98,361.61 69.09,361.36 70.19,361.13 71.30,360.90 72.41,360.68 73.52,360.47 74.62,360.27 75.73,360.08 76.84,359.89 77.95,359.71 79.06,359.54 80.16,359.37 81.27,359.20 82.38,359.04 83.48,358.87 84.59,358.71 85.70,358.55 86.81,358.39 87.91,358.23 89.02,358.07 90.13,357.91 91.24,357.75 92.34,357.60 93.45,357.44 94.56,357.29 95.67,357.14 96.78,356.99 97.88,356.85 98.99,356.70 100.10,356.56 101.20,356.42 102.31,356.29 103.42,356.16 104.53,356.03 105.63,355.90 106.74,355.77 107.85,355.65 108.96,355.53 110.06,355.42 111.17,355.31 112.28,355.20 113.39,355.10 114.50,355.00 115.60,354.90 116.71,354.81 117.82,354.72 118.93,354.64 120.03,354.56 121.14,354.48 122.25,354.41 123.35,354.33 124.46,354.25 125.57,354.17 126.68,354.09 127.78,354.02 128.89,353.94 130.00,353.87 131.11,353.79 132.22,353.72 133.32,353.64 134.43,353.57 135.54,353.50 136.64,353.43 137.75,353.36 138.86,353.29 139.97,353.22 141.07,353.15 142.18,353.09 143.29,353.02 144.40,352.96 145.50,352.90 146.61,352.84 147.72,352.78 148.83,352.72 149.94,352.66 151.04,352.61 152.15,352.56 153.26,352.51 154.37,352.46 155.47,352.41 156.58,352.36 157.69,352.32 158.80,352.28 159.90,352.24 161.01,352.20 162.12,352.16 163.22,352.13 164.33,352.10 165.44,352.07 166.55,352.04 167.66,352.02 168.76,352.00 169.87,351.98 170.98,351.96 172.09,351.95 173.19,351.94 174.30,351.93" fill="none" stroke="#f0dc50" stroke-width="1.5" stroke-linejoin="round"/>
<path d="M40.30,400.80a1.1,1.1 0 1,0 2.2,0a1.1,1.1 0 1,0 -2.2,0M42.52,400.80a1.1,1.1 0 1,0 2.2,0a1.1,1.1 0 1,0 -2.2,0M44.73,400.80a1.1,1.1 0 1,0 2.2,0a1.1,1.1 0 1,0 -2.2,0M46.95,399.74a1.1,1.1 0 1,0 2.2,0a1.1,1.1 0 1,0 -2.2,0M49.16,392.58a1.1,1.1 0 1,0 2.2,0a1.1,1.1 0 1,0 -2.2,0M51.37,381.12a1.1,1.1 0 1,0 2.2,0a1.1,1.1 0 1,0 -2.2,0M53.59,369.05a1.1,1.1 0 1,0 2.2,0a1.1,1.1 0 1,0 -2.2,0M55.80,365.15a1.1,1.1 0 1,0 2.2,0a1.1,1.1 0 1,0 -2.2,0M58.02,363.99a1.1,1.1 0 1,0 2.2,0a1.1,1.1 0 1,0 -2.2,0M60.23,363.31a1.1,1.1 0 1,0 2.2,0a1.1,1.1 0 1,0 -2.2,0M62.45,362.75a1.1,1.1 0 1,0 2.2,0a1.1,1.1 0 1,0 -2.2,0M64.67,362.15a1.1,1.1 0 1,0 2.2,0a1.1,1.1 0 1,0 -2.2,0M66.88,361.61a1.1,1.1 0 1,0 2.2,0a1.1,1.1 0 1,0 -2.2,0M69.09,361.13a1.1,1.1 0 1,0 2.2,0a1.1,1.1 0 1,0 -2.2,0M71.31,360.68a1.1,1.1 0 1,0 2.2,0a1.1,1.1 0 1,0 -2.2,0M73.53,360.27a1.1,1.1 0 1,0 2.2,0a1.1,1.1 0 1,0 -2.2,0M75.74,359.89a1.1,1.1 0 1,0 2.2,0a1.1,1.1 0 1,0 -2.2,0M77.96,359.54a1.1,1.1 0 1,0 2.2,0a1.1,1.1 0 1,0 -2.2,0M80.17,359.20a1.1,1.1 0 1,0 2.2,0a1.1,1.1 0 1,0 -2.2,0M82.39,358.87a1.1,1.1 0 1,0 2.2,0a1.1,1.1 0 1,0 -2.2,0M84.60,358.55a1.1,1.1 0 1,0 2.2,0a1.1,1.1 0 1,0 -2.2,0M86.81,358.23a1.1,1.1 0 1,0 2.2,0a1.1,1.1 0 1,0 -2.2,0M89.03,357.91a1.1,1.1 0 1,0 2.2,0a1.1,1.1 0 1,0 -2.2,0M91.25,357.60a1.1,1.1 0 1,0 2.2,0a1.1,1.1 0 1,0 -2.2,0M93.46,357.29a1.1,1.1 0 1,0 2.2,0a1.1,1.1 0 1,0 -2.2,0M95.68,356.99a1.1,1.1 0 1,0 2.2,0a1.1,1.1 0 1,0 -2.2,0M97.89,356.70a1.1,1.1 0 1,0 2.2,0a1.1,1.1 0 1,0 -2.2,0M100.11,356.42a1.1,1.1 0 1,0 2.2,0a1.1,1.1 0 1,0 -2.2,0M102.32,356.16a1.1,1.1 0 1,0 2.2,0a1.1,1.1 0 1,0 -2.2,0M104.53,355.90a1.1,1.1 0 1,0 2.2,0a1.1,1.1 0 1,0 -2.2,0M106.75,355.65a1.1,1.1 0 1,0 2.2,0a1.1,1.1 0 1,0 -2.2,0M108.97,355.42a1.1,1.1 0 1,0 2.2,0a1.1,1.1 0 1,0 -2.2,0M111.18,355.20a1.1,1.1 0 1,0 2.2,0a1.1,1.1 0 1,0 -2.2,0M113.40,355.00a1.1,1.1 0 1,0 2.2,0a1.1,1.1 0 1,0 -2.2,0M115.61,354.81a1.1,1.1 0 1,0 2.2,0a1.1,1.1 0 1,0 -2.2,0M117.83,354.64a1.1,1.1 0 1,0 2.2,0a1.1,1.1 0 1,0 -2.2,0M120.04,354.48a1.1,1.1 0 1,0 2.2,0a1.1,1.1 0 1,0 -2.2,0M122.25,354.33a1.1,1.1 0 1,0 2.2,0a1.1,1.1 0 1,0 -2.2,0M124.47,354.17a1.1,1.1 0 1,0 2.2,0a1.1,1.1 0 1,0 -2.2,0M126.69,354.02a1.1,1.1 0 1,0 2.2,0a1.1,1.1 0 1,0 -2.2,0M128.90,353.87a1.1,1.1 0 1,0 2.2,0a1.1,1.1 0 1,0 -2.2,0M131.12,353.72a1.1,1.1 0 1,0 2.2,0a1.1,1.1 0 1,0 -2.2,0M133.33,353.57a1.1,1.1 0 1,0 2.2,0a1.1,1.1 0 1,0 -2.2,0M135.54,353.43a1.1,1.1 0 1,0 2.2,0a1.1,1.1 0 1,0 -2.2,0M137.76,353.29a1.1,1.1 0 1,0 2.2,0a1.1,1.1 0 1,0 -2.2,0M139.97,353.15a1.1,1.1 0 1,0 2.2,0a1.1,1.1 0 1,0 -2.2,0M142.19,353.02a1.1,1.1 0 1,0 2.2,0a1.1,1.1 0 1,0 -2.2,0M144.41,352.90a1.1,1.1 0 1,0 2.2,0a1.1,1.1 0 1,0 -2.2,0M146.62,352.78a1.1,1.1 0 1,0 2.2,0a1.1,1.1 0 1,0 -2.2,0M148.84,352.66a1.1,1.1 0 1,0 2.2,0a1.1,1.1 0 1,0 -2.2,0M151.05,352.56a1.1,1.1 0 1,0 2.2,0a1.1,1.1 0 1,0 -2.2,0M153.27,352.46a1.1,1.1 0 1,0 2.2,0a1.1,1.1 0 1,0 -2.2,0M155.48,352.36a1.1,1.1 0 1,0 2.2,0a1.1,1.1 0 1,0 -2.2,0M157.70,352.28a1.1,1.1 0 1,0 2.2,0a1.1,1.1 0 1,0 -2.2,0M159.91,352.20a1.1,1.1 0 1,0 2.2,0a1.1,1.1 0 1,0 -2.2,0M162.12,352.13a1.1,1.1 0 1,0 2.2,0a1.1,1.1 0 1,0 -2.2,0M164.34,352.07a1.1,1.1 0 1,0 2.2,0a1.1,1.1 0 1,0 -2.2,0M166.56,352.02a1.1,1.1 0 1,0 2.2,0a1.1,1.1 0 1,0 -2.2,0M168.77,351.98a1.1,1.1 0 1,0 2.2,0a1.1,1.1 0 1,0 -2.2,0M170.99,351.95a1.1,1.1 0 1,0 2.2,0a1.1,1.1 0 1,0 -2.2,0M173.20,351.93a1.1,1.1 0 1,0 2.2,0a1.1,1.1 0 1,0 -2.2,0" fill="#f0dc50"/>
<polyline points="41.40,400.80 42.51,400.80 43.62,400.80 44.72,400.80 45.83,400.80 46.94,400.80 48.05,399.74 49.15,396.69 50.26,392.58 51.37,387.15 52.47,380.60 53.58,375.63 54.69,372.42 55.80,370.84 56.91,370.14 58.01,369.59 59.12,369.16 60.23,368.83 61.34,368.55 62.44,368.30 63.55,368.05 64.66,367.79 65.77,367.55 66.87,367.32 67.98,367.10 69.09,366.89 70.19,366.69 71.30,366.50 72.41,366.32 73.52,366.14 74.62,365.97 75.73,365.81 76.84,365.66 77.95,365.51 79.06,365.36 80.16,365.21 81.27,365.07 82.38,364.93 83.48,364.79 84.59,364.64 85.70,364.50 86.81,364.36 87.91,364.21 89.02,364.07 90.13,363.93 91.24,363.79 92.34,363.65 93.45,363.51 94.56,363.37 95.67,363.23 96.78,363.10 97.88,362.96 98.99,362.83 100.10,362.70 101.20,362.57 102.31,362.44 103.42,362.32 104.53,362.20 105.63,362.08 106.74,361.96 107.85,361.85 108.96,361.74 110.06,361.63 111.17,361.53 112.28,361.43 113.39,361.33 114.50,361.24 115.60,361.15 116.71,361.06 117.82,360.98 118.93,360.90 120.03,360.82 121.14,360.75 122.25,360.67 123.35,360.60 124.46,360.53 125.57,360.45 126.68,360.38 127.78,360.31 128.89,360.24 130.00,360.17 131.11,360.10 132.22,360.03 133.32,359.96 134.43,359.89 135.54,359.82 136.64,359.75 137.75,359.69 138.86,359.62 139.97,359.56 141.07,359.49 142.18,359.43 143.29,359.37 144.40,359.31 145.50,359.25 146.61,359.20 147.72,359.14 148.83,359.08 149.94,359.03 151.04,358.98 152.15,358.93 153.26,358.88 154.37,358.83 155.47,358.79 156.58,358.74 157.69,358.70 158.80,358.66 159.90,358.62 161.01,358.58 162.12,358.55 163.22,358.52 164.33,358.49 165.44,358.46 166.55,358.43 167.66,358.41 168.76,358.38 169.87,358.36 170.98,358.34 172.09,358.33 173.19,358.32 174.30,358.31" fill="none" stroke="#cc8430" stroke-width="1.5" stroke-linejoin="round"/>
<path d="M40.30,400.80a1.1,1.1 0 1,0 2.2,0a1.1,1.1 0 1,0 -2.2,0M42.52,400.80a1.1,1.1 0 1,0 2.2,0a1.1,1.1 0 1,0 -2.2,0M44.73,400.80a1.1,1.1 0 1,0 2.2,0a1.1,1.1 0 1,0 -2.2,0M46.95,399.74a1.1,1.1 0 1,0 2.2,0a1.1,1.1 0 1,0 -2.2,0M49.16,392.58a1.1,1.1 0 1,0 2.2,0a1.1,1.1 0 1,0 -2.2,0M51.37,380.60a1.1,1.1 0 1,0 2.2,0a1.1,1.1 0 1,0 -2.2,0M53.59,372.42a1.1,1.1 0 1,0 2.2,0a1.1,1.1 0 1,0 -2.2,0M55.80,370.14a1.1,1.1 0 1,0 2.2,0a1.1,1.1 0 1,0 -2.2,0M58.02,369.16a1.1,1.1 0 1,0 2.2,0a1.1,1.1 0 1,0 -2.2,0M60.23,368.55a1.1,1.1 0 1,0 2.2,0a1.1,1.1 0 1,0 -2.2,0M62.45,368.05a1.1,1.1 0 1,0 2.2,0a1.1,1.1 0 1,0 -2.2,0M64.67,367.55a1.1,1.1 0 1,0 2.2,0a1.1,1.1 0 1,0 -2.2,0M66.88,367.10a1.1,1.1 0 1,0 2.2,0a1.1,1.1 0 1,0 -2.2,0M69.09,366.69a1.1,1.1 0 1,0 2.2,0a1.1,1.1 0 1,0 -2.2,0M71.31,366.32a1.1,1.1 0 1,0 2.2,0a1.1,1.1 0 1,0 -2.2,0M73.53,365.97a1.1,1.1 0 1,0 2.2,0a1.1,1.1 0 1,0 -2.2,0M75.74,365.66a1.1,1.1 0 1,0 2.2,0a1.1,1.1 0 1,0 -2.2,0M77.96,365.36a1.1,1.1 0 1,0 2.2,0a1.1,1.1 0 1,0 -2.2,0M80.17,365.07a1.1,1.1 0 1,0 2.2,0a1.1,1.1 0 1,0 -2.2,0M82.39,364.79a1.1,1.1 0 1,0 2.2,0a1.1,1.1 0 1,0 -2.2,0M84.60,364.50a1.1,1.1 0 1,0 2.2,0a1.1,1.1 0 1,0 -2.2,0M86.81,364.21a1.1,1.1 0 1,0 2.2,0a1.1,1.1 0 1,0 -2.2,0M89.03,363.93a1.1,1.1 0 1,0 2.2,0a1.1,1.1 0 1,0 -2.2,0M91.25,363.65a1.1,1.1 0 1,0 2.2,0a1.1,1.1 0 1,0 -2.2,0M93.46,363.37a1.1,1.1 0 1,0 2.2,0a1.1,1.1 0 1,0 -2.2,0M95.68,363.10a1.1,1.1 0 1,0 2.2,0a1.1,1.1 0 1,0 -2.2,0M97.89,362.83a1.1,1.1 0 1,0 2.2,0a1.1,1.1 0 1,0 -2.2,0M100.11,362.57a1.1,1.1 0 1,0 2.2,0a1.1,1.1 0 1,0 -2.2,0M102.32,362.32a1.1,1.1 0 1,0 2.2,0a1.1,1.1 0 1,0 -2.2,0M104.53,362.08a1.1,1.1 0 1,0 2.2,0a1.1,1.1 0 1,0 -2.2,0M106.75,361.85a1.1,1.1 0 1,0 2.2,0a1.1,1.1 0 1,0 -2.2,0M108.97,361.63a1.1,1.1 0 1,0 2.2,0a1.1,1.1 0 1,0 -2.2,0M111.18,361.43a1.1,1.1 0 1,0 2.2,0a1.1,1.1 0 1,0 -2.2,0M113.40,361.24a1.1,1.1 0 1,0 2.2,0a1.1,1.1 0 1,0 -2.2,0M115.61,361.06a1.1,1.1 0 1,0 2.2,0a1.1,1.1 0 1,0 -2.2,0M117.83,360.90a1.1,1.1 0 1,0 2.2,0a1.1,1.1 0 1,0 -2.2,0M120.04,360.75a1.1,1.1 0 1,0 2.2,0a1.1,1.1 0 1,0 -2.2,0M122.25,360.60a1.1,1.1 0 1,0 2.2,0a1.1,1.1 0 1,0 -2.2,0M124.47,360.45a1.1,1.1 0 1,0 2.2,0a1.1,1.1 0 1,0 -2.2,0M126.69,360.31a1.1,1.1 0 1,0 2.2,0a1.1,1.1 0 1,0 -2.2,0M128.90,360.17a1.1,1.1 0 1,0 2.2,0a1.1,1.1 0 1,0 -2.2,0M131.12,360.03a1.1,1.1 0 1,0 2.2,0a1.1,1.1 0 1,0 -2.2,0M133.33,359.89a1.1,1.1 0 1,0 2.2,0a1.1,1.1 0 1,0 -2.2,0M135.54,359.75a1.1,1.1 0 1,0 2.2,0a1.1,1.1 0 1,0 -2.2,0M137.76,359.62a1.1,1.1 0 1,0 2.2,0a1.1,1.1 0 1,0 -2.2,0M139.97,359.49a1.1,1.1 0 1,0 2.2,0a1.1,1.1 0 1,0 -2.2,0M142.19,359.37a1.1,1.1 0 1,0 2.2,0a1.1,1.1 0 1,0 -2.2,0M144.41,359.25a1.1,1.1 0 1,0 2.2,0a1.1,1.1 0 1,0 -2.2,0M146.62,359.14a1.1,1.1 0 1,0 2.2,0a1.1,1.1 0 1,0 -2.2,0M148.84,359.03a1.1,1.1 0 1,0 2.2,0a1.1,1.1 0 1,0 -2.2,0M151.05,358.93a1.1,1.1 0 1,0 2.2,0a1.1,1.1 0 1,0 -2.2,0M153.27,358.83a1.1,1.1 0 1,0 2.2,0a1.1,1.1 0 1,0 -2.2,0M155.48,358.74a1.1,1.1 0 1,0 2.2,0a1.1,1.1 0 1,0 -2.2,0M157.70,358.66a1.1,1.1 0 1,0 2.2,0a1.1,1.1 0 1,0 -2.2,0M159.91,358.58a1.1,1.1 0 1,0 2.2,0a1.1,1.1 0 1,0 -2.2,0M162.12,358.52a1.1,1.1 0 1,0 2.2,0a1.1,1.1 0 1,0 -2.2,0M164.34,358.46a1.1,1.1 0 1,0 2.2,0a1.1,1.1 0 1,0 -2.2,0M166.56,358.41a1.1,1.1 0 1,0 2.2,0a1.1,1.1 0 1,0 -2.2,0M168.77,358.36a1.1,1.1 0 1,0 2.2,0a1.1,1.1 0 1,0 -2.2,0M170.99,358.33a1.1,1.1 0 1,0 2.2,0a1.1,1.1 0 1,0 -2.2,0M173.20,358.31a1.1,1.1 0 1,0 2.2,0a1.1,1.1 0 1,0 -2.2,0" fill="#cc8430"/>
<line x1="245.20" y1="312.10" x2="245.20" y2="403.00" stroke="#000" stroke-width="1.25"/>
<line x1="241.80" y1="400.30" x2="245.20" y2="400.30" stroke="#333" stroke-width="1.1"/>
<text x="238.80" y="402.80" font-size="7.1" text-anchor="end" fill="#222" textLength="12.75" lengthAdjust="spacingAndGlyphs">0.00</text>
<line x1="241.80" y1="375.10" x2="245.20" y2="375.10" stroke="#333" stroke-width="1.1"/>
<text x="238.80" y="377.60" font-size="7.1" text-anchor="end" fill="#222" textLength="12.75" lengthAdjust="spacingAndGlyphs">0.02</text>
<line x1="241.80" y1="349.90" x2="245.20" y2="349.90" stroke="#333" stroke-width="1.1"/>
<text x="238.80" y="352.40" font-size="7.1" text-anchor="end" fill="#222" textLength="12.75" lengthAdjust="spacingAndGlyphs">0.04</text>
<line x1="241.80" y1="324.70" x2="245.20" y2="324.70" stroke="#333" stroke-width="1.1"/>
<text x="238.80" y="327.20" font-size="7.1" text-anchor="end" fill="#222" textLength="12.75" lengthAdjust="spacingAndGlyphs">0.06</text>
<line x1="245.20" y1="400.30" x2="381.40" y2="400.30" stroke="#000" stroke-width="1.2"/>
<line x1="245.20" y1="400.30" x2="245.20" y2="403.50" stroke="#111" stroke-width="1"/>
<text x="245.20" y="412.30" font-size="7.1" text-anchor="middle" fill="#222">0</text>
<line x1="249.64" y1="400.30" x2="249.64" y2="401.90" stroke="#222" stroke-width="0.8"/>
<line x1="254.08" y1="400.30" x2="254.08" y2="401.90" stroke="#222" stroke-width="0.8"/>
<line x1="258.52" y1="400.30" x2="258.52" y2="401.90" stroke="#222" stroke-width="0.8"/>
<line x1="262.96" y1="400.30" x2="262.96" y2="401.90" stroke="#222" stroke-width="0.8"/>
<line x1="267.40" y1="400.30" x2="267.40" y2="401.90" stroke="#222" stroke-width="0.8"/>
<line x1="271.84" y1="400.30" x2="271.84" y2="401.90" stroke="#222" stroke-width="0.8"/>
<line x1="276.28" y1="400.30" x2="276.28" y2="401.90" stroke="#222" stroke-width="0.8"/>
<line x1="280.72" y1="400.30" x2="280.72" y2="401.90" stroke="#222" stroke-width="0.8"/>
<line x1="285.16" y1="400.30" x2="285.16" y2="401.90" stroke="#222" stroke-width="0.8"/>
<line x1="289.60" y1="400.30" x2="289.60" y2="403.50" stroke="#111" stroke-width="1"/>
<text x="289.60" y="412.30" font-size="7.1" text-anchor="middle" fill="#222">10</text>
<line x1="294.04" y1="400.30" x2="294.04" y2="401.90" stroke="#222" stroke-width="0.8"/>
<line x1="298.48" y1="400.30" x2="298.48" y2="401.90" stroke="#222" stroke-width="0.8"/>
<line x1="302.92" y1="400.30" x2="302.92" y2="401.90" stroke="#222" stroke-width="0.8"/>
<line x1="307.36" y1="400.30" x2="307.36" y2="401.90" stroke="#222" stroke-width="0.8"/>
<line x1="311.80" y1="400.30" x2="311.80" y2="401.90" stroke="#222" stroke-width="0.8"/>
<line x1="316.24" y1="400.30" x2="316.24" y2="401.90" stroke="#222" stroke-width="0.8"/>
<line x1="320.68" y1="400.30" x2="320.68" y2="401.90" stroke="#222" stroke-width="0.8"/>
<line x1="325.12" y1="400.30" x2="325.12" y2="401.90" stroke="#222" stroke-width="0.8"/>
<line x1="329.56" y1="400.30" x2="329.56" y2="401.90" stroke="#222" stroke-width="0.8"/>
<line x1="334.00" y1="400.30" x2="334.00" y2="403.50" stroke="#111" stroke-width="1"/>
<text x="334.00" y="412.30" font-size="7.1" text-anchor="middle" fill="#222">20</text>
<line x1="338.44" y1="400.30" x2="338.44" y2="401.90" stroke="#222" stroke-width="0.8"/>
<line x1="342.88" y1="400.30" x2="342.88" y2="401.90" stroke="#222" stroke-width="0.8"/>
<line x1="347.32" y1="400.30" x2="347.32" y2="401.90" stroke="#222" stroke-width="0.8"/>
<line x1="351.76" y1="400.30" x2="351.76" y2="401.90" stroke="#222" stroke-width="0.8"/>
<line x1="356.20" y1="400.30" x2="356.20" y2="401.90" stroke="#222" stroke-width="0.8"/>
<line x1="360.64" y1="400.30" x2="360.64" y2="401.90" stroke="#222" stroke-width="0.8"/>
<line x1="365.08" y1="400.30" x2="365.08" y2="401.90" stroke="#222" stroke-width="0.8"/>
<line x1="369.52" y1="400.30" x2="369.52" y2="401.90" stroke="#222" stroke-width="0.8"/>
<line x1="373.96" y1="400.30" x2="373.96" y2="401.90" stroke="#222" stroke-width="0.8"/>
<line x1="378.40" y1="400.30" x2="378.40" y2="403.50" stroke="#111" stroke-width="1"/>
<text x="378.40" y="412.30" font-size="7.1" text-anchor="middle" fill="#222">30</text>
<text class="bt" x="313.40" y="423.60" font-size="7.8" text-anchor="middle" fill="#222" textLength="33.2" lengthAdjust="spacingAndGlyphs">Time (min)</text>
<text class="bt" transform="translate(218.80,393.40) rotate(-90)" font-size="8.9" fill="#222" textLength="49.5" lengthAdjust="spacingAndGlyphs">Fibrin formation</text>
<text class="bt" transform="translate(218.80,342.62) rotate(-90)" font-size="8.9" fill="#222" textLength="24.1" lengthAdjust="spacingAndGlyphs">(OD<tspan font-size="5.9" dy="1.5">405</tspan><tspan dy="-1.5">)</tspan></text>
<text transform="translate(211.8,302.9) scale(0.95,1)" font-size="12" font-weight="bold" fill="#000" style="stroke:#000;stroke-width:0.35px">F</text>
<polyline points="245.20,397.78 246.31,397.73 247.42,397.57 248.53,397.30 249.64,396.92 250.75,396.33 251.86,393.30 252.97,387.74 254.08,377.07 255.19,362.18 256.30,346.18 257.41,337.99 258.52,335.85 259.63,334.54 260.74,333.52 261.85,332.47 262.96,331.45 264.07,330.53 265.18,329.79 266.29,329.29 267.40,329.11 268.51,329.11 269.62,329.11 270.73,329.27 271.84,329.96 272.95,331.05 274.06,332.41 275.17,333.90 276.28,335.37 277.39,336.69 278.50,337.82 279.61,338.93 280.72,340.04 281.83,341.15 282.94,342.28 284.05,343.43 285.16,344.61 286.27,345.82 287.38,347.06 288.49,348.33 289.60,349.61 290.71,350.91 291.82,352.22 292.93,353.54 294.04,354.88 295.15,356.27 296.26,357.69 297.37,359.10 298.48,360.50 299.59,361.85 300.70,363.13 301.81,364.36 302.92,365.57 304.03,366.75 305.14,367.89 306.25,368.98 307.36,370.02 308.47,371.01 309.58,371.95 310.69,372.87 311.80,373.75 312.91,374.60 314.02,375.40 315.13,376.16 316.24,376.86 317.35,377.54 318.46,378.18 319.57,378.80 320.68,379.38 321.79,379.92 322.90,380.41 324.01,380.85 325.12,381.22 326.23,381.54 327.34,381.82 328.45,382.11 329.56,382.42 330.67,382.78 331.78,383.23 332.89,383.77 334.00,384.39 335.11,385.09 336.22,385.83 337.33,386.60 338.44,387.39 339.55,388.21 340.66,389.17 341.77,390.11 342.88,390.85 343.99,391.42 345.10,391.91 346.21,392.27 347.32,392.48 348.43,392.64 349.54,392.77 350.65,392.88 351.76,392.98 352.87,393.07 353.98,393.16 355.09,393.26 356.20,393.37 357.31,393.49 358.42,393.61 359.53,393.73 360.64,393.86 361.75,393.98 362.86,394.10 363.97,394.23 365.08,394.35 366.19,394.48 367.30,394.60 368.41,394.73 369.52,394.85 370.63,394.98 371.74,395.11 372.85,395.24 373.96,395.37 375.07,395.50 376.18,395.63 377.29,395.76 378.40,395.89" fill="none" stroke="#b0aed8" stroke-width="0.7" stroke-linejoin="round"/>
<path d="M244.15,397.78a1.05,1.05 0 1,0 2.1,0a1.05,1.05 0 1,0 -2.1,0M246.37,397.57a1.05,1.05 0 1,0 2.1,0a1.05,1.05 0 1,0 -2.1,0M248.59,396.92a1.05,1.05 0 1,0 2.1,0a1.05,1.05 0 1,0 -2.1,0M250.81,393.30a1.05,1.05 0 1,0 2.1,0a1.05,1.05 0 1,0 -2.1,0M253.03,377.07a1.05,1.05 0 1,0 2.1,0a1.05,1.05 0 1,0 -2.1,0M255.25,346.18a1.05,1.05 0 1,0 2.1,0a1.05,1.05 0 1,0 -2.1,0M257.47,335.85a1.05,1.05 0 1,0 2.1,0a1.05,1.05 0 1,0 -2.1,0M259.69,333.52a1.05,1.05 0 1,0 2.1,0a1.05,1.05 0 1,0 -2.1,0M261.91,331.45a1.05,1.05 0 1,0 2.1,0a1.05,1.05 0 1,0 -2.1,0M264.13,329.79a1.05,1.05 0 1,0 2.1,0a1.05,1.05 0 1,0 -2.1,0M266.35,329.11a1.05,1.05 0 1,0 2.1,0a1.05,1.05 0 1,0 -2.1,0M268.57,329.11a1.05,1.05 0 1,0 2.1,0a1.05,1.05 0 1,0 -2.1,0M270.79,329.96a1.05,1.05 0 1,0 2.1,0a1.05,1.05 0 1,0 -2.1,0M273.01,332.41a1.05,1.05 0 1,0 2.1,0a1.05,1.05 0 1,0 -2.1,0M275.23,335.37a1.05,1.05 0 1,0 2.1,0a1.05,1.05 0 1,0 -2.1,0M277.45,337.82a1.05,1.05 0 1,0 2.1,0a1.05,1.05 0 1,0 -2.1,0M279.67,340.04a1.05,1.05 0 1,0 2.1,0a1.05,1.05 0 1,0 -2.1,0M281.89,342.28a1.05,1.05 0 1,0 2.1,0a1.05,1.05 0 1,0 -2.1,0M284.11,344.61a1.05,1.05 0 1,0 2.1,0a1.05,1.05 0 1,0 -2.1,0M286.33,347.06a1.05,1.05 0 1,0 2.1,0a1.05,1.05 0 1,0 -2.1,0M288.55,349.61a1.05,1.05 0 1,0 2.1,0a1.05,1.05 0 1,0 -2.1,0M290.77,352.22a1.05,1.05 0 1,0 2.1,0a1.05,1.05 0 1,0 -2.1,0M292.99,354.88a1.05,1.05 0 1,0 2.1,0a1.05,1.05 0 1,0 -2.1,0M295.21,357.69a1.05,1.05 0 1,0 2.1,0a1.05,1.05 0 1,0 -2.1,0M297.43,360.50a1.05,1.05 0 1,0 2.1,0a1.05,1.05 0 1,0 -2.1,0M299.65,363.13a1.05,1.05 0 1,0 2.1,0a1.05,1.05 0 1,0 -2.1,0M301.87,365.57a1.05,1.05 0 1,0 2.1,0a1.05,1.05 0 1,0 -2.1,0M304.09,367.89a1.05,1.05 0 1,0 2.1,0a1.05,1.05 0 1,0 -2.1,0M306.31,370.02a1.05,1.05 0 1,0 2.1,0a1.05,1.05 0 1,0 -2.1,0M308.53,371.95a1.05,1.05 0 1,0 2.1,0a1.05,1.05 0 1,0 -2.1,0M310.75,373.75a1.05,1.05 0 1,0 2.1,0a1.05,1.05 0 1,0 -2.1,0M312.97,375.40a1.05,1.05 0 1,0 2.1,0a1.05,1.05 0 1,0 -2.1,0M315.19,376.86a1.05,1.05 0 1,0 2.1,0a1.05,1.05 0 1,0 -2.1,0M317.41,378.18a1.05,1.05 0 1,0 2.1,0a1.05,1.05 0 1,0 -2.1,0M319.63,379.38a1.05,1.05 0 1,0 2.1,0a1.05,1.05 0 1,0 -2.1,0M321.85,380.41a1.05,1.05 0 1,0 2.1,0a1.05,1.05 0 1,0 -2.1,0M324.07,381.22a1.05,1.05 0 1,0 2.1,0a1.05,1.05 0 1,0 -2.1,0M326.29,381.82a1.05,1.05 0 1,0 2.1,0a1.05,1.05 0 1,0 -2.1,0M328.51,382.42a1.05,1.05 0 1,0 2.1,0a1.05,1.05 0 1,0 -2.1,0M330.73,383.23a1.05,1.05 0 1,0 2.1,0a1.05,1.05 0 1,0 -2.1,0M332.95,384.39a1.05,1.05 0 1,0 2.1,0a1.05,1.05 0 1,0 -2.1,0M335.17,385.83a1.05,1.05 0 1,0 2.1,0a1.05,1.05 0 1,0 -2.1,0M337.39,387.39a1.05,1.05 0 1,0 2.1,0a1.05,1.05 0 1,0 -2.1,0M339.61,389.17a1.05,1.05 0 1,0 2.1,0a1.05,1.05 0 1,0 -2.1,0M341.83,390.85a1.05,1.05 0 1,0 2.1,0a1.05,1.05 0 1,0 -2.1,0M344.05,391.91a1.05,1.05 0 1,0 2.1,0a1.05,1.05 0 1,0 -2.1,0M346.27,392.48a1.05,1.05 0 1,0 2.1,0a1.05,1.05 0 1,0 -2.1,0M348.49,392.77a1.05,1.05 0 1,0 2.1,0a1.05,1.05 0 1,0 -2.1,0M350.71,392.98a1.05,1.05 0 1,0 2.1,0a1.05,1.05 0 1,0 -2.1,0M352.93,393.16a1.05,1.05 0 1,0 2.1,0a1.05,1.05 0 1,0 -2.1,0M355.15,393.37a1.05,1.05 0 1,0 2.1,0a1.05,1.05 0 1,0 -2.1,0M357.37,393.61a1.05,1.05 0 1,0 2.1,0a1.05,1.05 0 1,0 -2.1,0M359.59,393.86a1.05,1.05 0 1,0 2.1,0a1.05,1.05 0 1,0 -2.1,0M361.81,394.10a1.05,1.05 0 1,0 2.1,0a1.05,1.05 0 1,0 -2.1,0M364.03,394.35a1.05,1.05 0 1,0 2.1,0a1.05,1.05 0 1,0 -2.1,0M366.25,394.60a1.05,1.05 0 1,0 2.1,0a1.05,1.05 0 1,0 -2.1,0M368.47,394.85a1.05,1.05 0 1,0 2.1,0a1.05,1.05 0 1,0 -2.1,0M370.69,395.11a1.05,1.05 0 1,0 2.1,0a1.05,1.05 0 1,0 -2.1,0M372.91,395.37a1.05,1.05 0 1,0 2.1,0a1.05,1.05 0 1,0 -2.1,0M375.13,395.63a1.05,1.05 0 1,0 2.1,0a1.05,1.05 0 1,0 -2.1,0M377.35,395.89a1.05,1.05 0 1,0 2.1,0a1.05,1.05 0 1,0 -2.1,0" fill="#7e7bb5"/>
<polyline points="245.20,397.78 246.31,397.73 247.42,397.57 248.53,397.31 249.64,396.92 250.75,396.32 251.86,392.88 252.97,386.63 254.08,375.18 255.19,359.50 256.30,342.62 257.41,334.27 258.52,332.31 259.63,331.13 260.74,330.37 261.85,329.74 262.96,329.17 264.07,328.68 265.18,328.31 266.29,328.06 267.40,327.98 268.51,328.30 269.62,329.02 270.73,329.93 271.84,331.27 272.95,332.96 274.06,334.89 275.17,336.96 276.28,339.06 277.39,341.07 278.50,343.02 279.61,345.08 280.72,347.20 281.83,349.34 282.94,351.46 284.05,353.51 285.16,355.44 286.27,357.29 287.38,359.09 288.49,360.85 289.60,362.55 290.71,364.21 291.82,365.82 292.93,367.36 294.04,368.87 295.15,370.37 296.26,371.84 297.37,373.25 298.48,374.57 299.59,375.78 300.70,376.86 301.81,377.84 302.92,378.76 304.03,379.62 305.14,380.41 306.25,381.14 307.36,381.81 308.47,382.39 309.58,382.93 310.69,383.42 311.80,383.87 312.91,384.30 314.02,384.69 315.13,385.07 316.24,385.43 317.35,385.71 318.46,386.01 319.57,386.74 320.68,387.95 321.79,388.79 322.90,389.51 324.01,390.07 325.12,390.54 326.23,390.98 327.34,391.37 328.45,391.72 329.56,392.01 330.67,392.25 331.78,392.43 332.89,392.58 334.00,392.71 335.11,392.83 336.22,392.93 337.33,393.03 338.44,393.11 339.55,393.19 340.66,393.27 341.77,393.35 342.88,393.43 343.99,393.51 345.10,393.61 346.21,393.71 347.32,393.81 348.43,393.93 349.54,394.05 350.65,394.18 351.76,394.31 352.87,394.44 353.98,394.56 355.09,394.69 356.20,394.82 357.31,394.94 358.42,395.05 359.53,395.16 360.64,395.26 361.75,395.36 362.86,395.45 363.97,395.54 365.08,395.63 366.19,395.72 367.30,395.81 368.41,395.89 369.52,395.97 370.63,396.05 371.74,396.13 372.85,396.20 373.96,396.27 375.07,396.34 376.18,396.40 377.29,396.46 378.40,396.52" fill="none" stroke="#7070b8" stroke-width="0.7" stroke-linejoin="round"/>
<path d="M244.15,397.78a1.05,1.05 0 1,0 2.1,0a1.05,1.05 0 1,0 -2.1,0M246.37,397.57a1.05,1.05 0 1,0 2.1,0a1.05,1.05 0 1,0 -2.1,0M248.59,396.92a1.05,1.05 0 1,0 2.1,0a1.05,1.05 0 1,0 -2.1,0M250.81,392.88a1.05,1.05 0 1,0 2.1,0a1.05,1.05 0 1,0 -2.1,0M253.03,375.18a1.05,1.05 0 1,0 2.1,0a1.05,1.05 0 1,0 -2.1,0M255.25,342.62a1.05,1.05 0 1,0 2.1,0a1.05,1.05 0 1,0 -2.1,0M257.47,332.31a1.05,1.05 0 1,0 2.1,0a1.05,1.05 0 1,0 -2.1,0M259.69,330.37a1.05,1.05 0 1,0 2.1,0a1.05,1.05 0 1,0 -2.1,0M261.91,329.17a1.05,1.05 0 1,0 2.1,0a1.05,1.05 0 1,0 -2.1,0M264.13,328.31a1.05,1.05 0 1,0 2.1,0a1.05,1.05 0 1,0 -2.1,0M266.35,327.98a1.05,1.05 0 1,0 2.1,0a1.05,1.05 0 1,0 -2.1,0M268.57,329.02a1.05,1.05 0 1,0 2.1,0a1.05,1.05 0 1,0 -2.1,0M270.79,331.27a1.05,1.05 0 1,0 2.1,0a1.05,1.05 0 1,0 -2.1,0M273.01,334.89a1.05,1.05 0 1,0 2.1,0a1.05,1.05 0 1,0 -2.1,0M275.23,339.06a1.05,1.05 0 1,0 2.1,0a1.05,1.05 0 1,0 -2.1,0M277.45,343.02a1.05,1.05 0 1,0 2.1,0a1.05,1.05 0 1,0 -2.1,0M279.67,347.20a1.05,1.05 0 1,0 2.1,0a1.05,1.05 0 1,0 -2.1,0M281.89,351.46a1.05,1.05 0 1,0 2.1,0a1.05,1.05 0 1,0 -2.1,0M284.11,355.44a1.05,1.05 0 1,0 2.1,0a1.05,1.05 0 1,0 -2.1,0M286.33,359.09a1.05,1.05 0 1,0 2.1,0a1.05,1.05 0 1,0 -2.1,0M288.55,362.55a1.05,1.05 0 1,0 2.1,0a1.05,1.05 0 1,0 -2.1,0M290.77,365.82a1.05,1.05 0 1,0 2.1,0a1.05,1.05 0 1,0 -2.1,0M292.99,368.87a1.05,1.05 0 1,0 2.1,0a1.05,1.05 0 1,0 -2.1,0M295.21,371.84a1.05,1.05 0 1,0 2.1,0a1.05,1.05 0 1,0 -2.1,0M297.43,374.57a1.05,1.05 0 1,0 2.1,0a1.05,1.05 0 1,0 -2.1,0M299.65,376.86a1.05,1.05 0 1,0 2.1,0a1.05,1.05 0 1,0 -2.1,0M301.87,378.76a1.05,1.05 0 1,0 2.1,0a1.05,1.05 0 1,0 -2.1,0M304.09,380.41a1.05,1.05 0 1,0 2.1,0a1.05,1.05 0 1,0 -2.1,0M306.31,381.81a1.05,1.05 0 1,0 2.1,0a1.05,1.05 0 1,0 -2.1,0M308.53,382.93a1.05,1.05 0 1,0 2.1,0a1.05,1.05 0 1,0 -2.1,0M310.75,383.87a1.05,1.05 0 1,0 2.1,0a1.05,1.05 0 1,0 -2.1,0M312.97,384.69a1.05,1.05 0 1,0 2.1,0a1.05,1.05 0 1,0 -2.1,0M315.19,385.43a1.05,1.05 0 1,0 2.1,0a1.05,1.05 0 1,0 -2.1,0M317.41,386.01a1.05,1.05 0 1,0 2.1,0a1.05,1.05 0 1,0 -2.1,0M319.63,387.95a1.05,1.05 0 1,0 2.1,0a1.05,1.05 0 1,0 -2.1,0M321.85,389.51a1.05,1.05 0 1,0 2.1,0a1.05,1.05 0 1,0 -2.1,0M324.07,390.54a1.05,1.05 0 1,0 2.1,0a1.05,1.05 0 1,0 -2.1,0M326.29,391.37a1.05,1.05 0 1,0 2.1,0a1.05,1.05 0 1,0 -2.1,0M328.51,392.01a1.05,1.05 0 1,0 2.1,0a1.05,1.05 0 1,0 -2.1,0M330.73,392.43a1.05,1.05 0 1,0 2.1,0a1.05,1.05 0 1,0 -2.1,0M332.95,392.71a1.05,1.05 0 1,0 2.1,0a1.05,1.05 0 1,0 -2.1,0M335.17,392.93a1.05,1.05 0 1,0 2.1,0a1.05,1.05 0 1,0 -2.1,0M337.39,393.11a1.05,1.05 0 1,0 2.1,0a1.05,1.05 0 1,0 -2.1,0M339.61,393.27a1.05,1.05 0 1,0 2.1,0a1.05,1.05 0 1,0 -2.1,0M341.83,393.43a1.05,1.05 0 1,0 2.1,0a1.05,1.05 0 1,0 -2.1,0M344.05,393.61a1.05,1.05 0 1,0 2.1,0a1.05,1.05 0 1,0 -2.1,0M346.27,393.81a1.05,1.05 0 1,0 2.1,0a1.05,1.05 0 1,0 -2.1,0M348.49,394.05a1.05,1.05 0 1,0 2.1,0a1.05,1.05 0 1,0 -2.1,0M350.71,394.31a1.05,1.05 0 1,0 2.1,0a1.05,1.05 0 1,0 -2.1,0M352.93,394.56a1.05,1.05 0 1,0 2.1,0a1.05,1.05 0 1,0 -2.1,0M355.15,394.82a1.05,1.05 0 1,0 2.1,0a1.05,1.05 0 1,0 -2.1,0M357.37,395.05a1.05,1.05 0 1,0 2.1,0a1.05,1.05 0 1,0 -2.1,0M359.59,395.26a1.05,1.05 0 1,0 2.1,0a1.05,1.05 0 1,0 -2.1,0M361.81,395.45a1.05,1.05 0 1,0 2.1,0a1.05,1.05 0 1,0 -2.1,0M364.03,395.63a1.05,1.05 0 1,0 2.1,0a1.05,1.05 0 1,0 -2.1,0M366.25,395.81a1.05,1.05 0 1,0 2.1,0a1.05,1.05 0 1,0 -2.1,0M368.47,395.97a1.05,1.05 0 1,0 2.1,0a1.05,1.05 0 1,0 -2.1,0M370.69,396.13a1.05,1.05 0 1,0 2.1,0a1.05,1.05 0 1,0 -2.1,0M372.91,396.27a1.05,1.05 0 1,0 2.1,0a1.05,1.05 0 1,0 -2.1,0M375.13,396.40a1.05,1.05 0 1,0 2.1,0a1.05,1.05 0 1,0 -2.1,0M377.35,396.52a1.05,1.05 0 1,0 2.1,0a1.05,1.05 0 1,0 -2.1,0" fill="#1a1a6a"/>
<polyline points="245.20,397.78 246.31,397.73 247.42,397.57 248.53,397.30 249.64,396.92 250.75,396.33 251.86,393.27 252.97,387.73 254.08,377.31 255.19,363.96 256.30,352.06 257.41,345.45 258.52,342.66 259.63,340.80 260.74,339.82 261.85,339.31 262.96,338.91 264.07,338.65 265.18,338.56 266.29,338.66 267.40,338.92 268.51,339.32 269.62,339.80 270.73,340.53 271.84,341.92 272.95,343.84 274.06,346.11 275.17,348.57 276.28,351.05 277.39,353.37 278.50,355.56 279.61,357.85 280.72,360.21 281.83,362.58 282.94,364.91 284.05,367.12 285.16,369.18 286.27,371.11 287.38,373.00 288.49,374.82 289.60,376.58 290.71,378.24 291.82,379.80 292.93,381.25 294.04,382.60 295.15,383.89 296.26,385.11 297.37,386.26 298.48,387.34 299.59,388.32 300.70,389.21 301.81,390.03 302.92,390.81 304.03,391.54 305.14,392.21 306.25,392.82 307.36,393.37 308.47,393.84 309.58,394.28 310.69,394.72 311.80,395.12 312.91,395.49 314.02,395.79 315.13,396.01 316.24,396.14 317.35,396.22 318.46,396.28 319.57,396.34 320.68,396.39 321.79,396.44 322.90,396.48 324.01,396.52 325.12,396.55 326.23,396.58 327.34,396.61 328.45,396.63 329.56,396.66 330.67,396.69 331.78,396.71 332.89,396.74 334.00,396.77 335.11,396.80 336.22,396.84 337.33,396.87 338.44,396.90 339.55,396.93 340.66,396.96 341.77,396.99 342.88,397.02 343.99,397.05 345.10,397.08 346.21,397.11 347.32,397.14 348.43,397.17 349.54,397.20 350.65,397.22 351.76,397.25 352.87,397.28 353.98,397.31 355.09,397.33 356.20,397.36 357.31,397.39 358.42,397.41 359.53,397.44 360.64,397.46 361.75,397.48 362.86,397.51 363.97,397.53 365.08,397.55 366.19,397.58 367.30,397.60 368.41,397.62 369.52,397.64 370.63,397.66 371.74,397.68 372.85,397.70 373.96,397.71 375.07,397.73 376.18,397.75 377.29,397.76 378.40,397.78" fill="none" stroke="#90c080" stroke-width="0.7" stroke-linejoin="round"/>
<path d="M244.15,397.78a1.05,1.05 0 1,0 2.1,0a1.05,1.05 0 1,0 -2.1,0M246.37,397.57a1.05,1.05 0 1,0 2.1,0a1.05,1.05 0 1,0 -2.1,0M248.59,396.92a1.05,1.05 0 1,0 2.1,0a1.05,1.05 0 1,0 -2.1,0M250.81,393.27a1.05,1.05 0 1,0 2.1,0a1.05,1.05 0 1,0 -2.1,0M253.03,377.31a1.05,1.05 0 1,0 2.1,0a1.05,1.05 0 1,0 -2.1,0M255.25,352.06a1.05,1.05 0 1,0 2.1,0a1.05,1.05 0 1,0 -2.1,0M257.47,342.66a1.05,1.05 0 1,0 2.1,0a1.05,1.05 0 1,0 -2.1,0M259.69,339.82a1.05,1.05 0 1,0 2.1,0a1.05,1.05 0 1,0 -2.1,0M261.91,338.91a1.05,1.05 0 1,0 2.1,0a1.05,1.05 0 1,0 -2.1,0M264.13,338.56a1.05,1.05 0 1,0 2.1,0a1.05,1.05 0 1,0 -2.1,0M266.35,338.92a1.05,1.05 0 1,0 2.1,0a1.05,1.05 0 1,0 -2.1,0M268.57,339.80a1.05,1.05 0 1,0 2.1,0a1.05,1.05 0 1,0 -2.1,0M270.79,341.92a1.05,1.05 0 1,0 2.1,0a1.05,1.05 0 1,0 -2.1,0M273.01,346.11a1.05,1.05 0 1,0 2.1,0a1.05,1.05 0 1,0 -2.1,0M275.23,351.05a1.05,1.05 0 1,0 2.1,0a1.05,1.05 0 1,0 -2.1,0M277.45,355.56a1.05,1.05 0 1,0 2.1,0a1.05,1.05 0 1,0 -2.1,0M279.67,360.21a1.05,1.05 0 1,0 2.1,0a1.05,1.05 0 1,0 -2.1,0M281.89,364.91a1.05,1.05 0 1,0 2.1,0a1.05,1.05 0 1,0 -2.1,0M284.11,369.18a1.05,1.05 0 1,0 2.1,0a1.05,1.05 0 1,0 -2.1,0M286.33,373.00a1.05,1.05 0 1,0 2.1,0a1.05,1.05 0 1,0 -2.1,0M288.55,376.58a1.05,1.05 0 1,0 2.1,0a1.05,1.05 0 1,0 -2.1,0M290.77,379.80a1.05,1.05 0 1,0 2.1,0a1.05,1.05 0 1,0 -2.1,0M292.99,382.60a1.05,1.05 0 1,0 2.1,0a1.05,1.05 0 1,0 -2.1,0M295.21,385.11a1.05,1.05 0 1,0 2.1,0a1.05,1.05 0 1,0 -2.1,0M297.43,387.34a1.05,1.05 0 1,0 2.1,0a1.05,1.05 0 1,0 -2.1,0M299.65,389.21a1.05,1.05 0 1,0 2.1,0a1.05,1.05 0 1,0 -2.1,0M301.87,390.81a1.05,1.05 0 1,0 2.1,0a1.05,1.05 0 1,0 -2.1,0M304.09,392.21a1.05,1.05 0 1,0 2.1,0a1.05,1.05 0 1,0 -2.1,0M306.31,393.37a1.05,1.05 0 1,0 2.1,0a1.05,1.05 0 1,0 -2.1,0M308.53,394.28a1.05,1.05 0 1,0 2.1,0a1.05,1.05 0 1,0 -2.1,0M310.75,395.12a1.05,1.05 0 1,0 2.1,0a1.05,1.05 0 1,0 -2.1,0M312.97,395.79a1.05,1.05 0 1,0 2.1,0a1.05,1.05 0 1,0 -2.1,0M315.19,396.14a1.05,1.05 0 1,0 2.1,0a1.05,1.05 0 1,0 -2.1,0M317.41,396.28a1.05,1.05 0 1,0 2.1,0a1.05,1.05 0 1,0 -2.1,0M319.63,396.39a1.05,1.05 0 1,0 2.1,0a1.05,1.05 0 1,0 -2.1,0M321.85,396.48a1.05,1.05 0 1,0 2.1,0a1.05,1.05 0 1,0 -2.1,0M324.07,396.55a1.05,1.05 0 1,0 2.1,0a1.05,1.05 0 1,0 -2.1,0M326.29,396.61a1.05,1.05 0 1,0 2.1,0a1.05,1.05 0 1,0 -2.1,0M328.51,396.66a1.05,1.05 0 1,0 2.1,0a1.05,1.05 0 1,0 -2.1,0M330.73,396.71a1.05,1.05 0 1,0 2.1,0a1.05,1.05 0 1,0 -2.1,0M332.95,396.77a1.05,1.05 0 1,0 2.1,0a1.05,1.05 0 1,0 -2.1,0M335.17,396.84a1.05,1.05 0 1,0 2.1,0a1.05,1.05 0 1,0 -2.1,0M337.39,396.90a1.05,1.05 0 1,0 2.1,0a1.05,1.05 0 1,0 -2.1,0M339.61,396.96a1.05,1.05 0 1,0 2.1,0a1.05,1.05 0 1,0 -2.1,0M341.83,397.02a1.05,1.05 0 1,0 2.1,0a1.05,1.05 0 1,0 -2.1,0M344.05,397.08a1.05,1.05 0 1,0 2.1,0a1.05,1.05 0 1,0 -2.1,0M346.27,397.14a1.05,1.05 0 1,0 2.1,0a1.05,1.05 0 1,0 -2.1,0M348.49,397.20a1.05,1.05 0 1,0 2.1,0a1.05,1.05 0 1,0 -2.1,0M350.71,397.25a1.05,1.05 0 1,0 2.1,0a1.05,1.05 0 1,0 -2.1,0M352.93,397.31a1.05,1.05 0 1,0 2.1,0a1.05,1.05 0 1,0 -2.1,0M355.15,397.36a1.05,1.05 0 1,0 2.1,0a1.05,1.05 0 1,0 -2.1,0M357.37,397.41a1.05,1.05 0 1,0 2.1,0a1.05,1.05 0 1,0 -2.1,0M359.59,397.46a1.05,1.05 0 1,0 2.1,0a1.05,1.05 0 1,0 -2.1,0M361.81,397.51a1.05,1.05 0 1,0 2.1,0a1.05,1.05 0 1,0 -2.1,0M364.03,397.55a1.05,1.05 0 1,0 2.1,0a1.05,1.05 0 1,0 -2.1,0M366.25,397.60a1.05,1.05 0 1,0 2.1,0a1.05,1.05 0 1,0 -2.1,0M368.47,397.64a1.05,1.05 0 1,0 2.1,0a1.05,1.05 0 1,0 -2.1,0M370.69,397.68a1.05,1.05 0 1,0 2.1,0a1.05,1.05 0 1,0 -2.1,0M372.91,397.71a1.05,1.05 0 1,0 2.1,0a1.05,1.05 0 1,0 -2.1,0M375.13,397.75a1.05,1.05 0 1,0 2.1,0a1.05,1.05 0 1,0 -2.1,0M377.35,397.78a1.05,1.05 0 1,0 2.1,0a1.05,1.05 0 1,0 -2.1,0" fill="#3f8030"/>
<polyline points="245.20,397.78 246.31,397.73 247.42,397.57 248.53,397.30 249.64,396.91 250.75,396.33 251.86,393.34 252.97,388.65 254.08,382.95 255.19,375.99 256.30,370.71 257.41,366.37 258.52,363.76 259.63,362.64 260.74,361.80 261.85,361.32 262.96,361.29 264.07,361.77 265.18,362.65 266.29,363.78 267.40,365.02 268.51,366.73 269.62,368.86 270.73,370.87 271.84,372.94 272.95,375.06 274.06,377.16 275.17,379.21 276.28,381.16 277.39,382.95 278.50,384.63 279.61,386.30 280.72,387.92 281.83,389.45 282.94,390.84 284.05,392.03 285.16,392.99 286.27,393.78 287.38,394.50 288.49,395.14 289.60,395.70 290.71,396.16 291.82,396.52 292.93,396.83 294.04,397.11 295.15,397.37 296.26,397.57 297.37,397.71 298.48,397.78 299.59,397.80 300.70,397.82 301.81,397.85 302.92,397.87 304.03,397.89 305.14,397.91 306.25,397.93 307.36,397.95 308.47,397.96 309.58,397.98 310.69,398.00 311.80,398.02 312.91,398.03 314.02,398.05 315.13,398.06 316.24,398.08 317.35,398.09 318.46,398.11 319.57,398.12 320.68,398.14 321.79,398.15 322.90,398.16 324.01,398.17 325.12,398.19 326.23,398.20 327.34,398.21 328.45,398.22 329.56,398.23 330.67,398.24 331.78,398.25 332.89,398.26 334.00,398.27 335.11,398.28 336.22,398.28 337.33,398.29 338.44,398.30 339.55,398.31 340.66,398.31 341.77,398.32 342.88,398.33 343.99,398.33 345.10,398.34 346.21,398.34 347.32,398.35 348.43,398.35 349.54,398.36 350.65,398.36 351.76,398.37 352.87,398.37 353.98,398.38 355.09,398.38 356.20,398.38 357.31,398.39 358.42,398.39 359.53,398.39 360.64,398.39 361.75,398.40 362.86,398.40 363.97,398.40 365.08,398.40 366.19,398.40 367.30,398.40 368.41,398.41 369.52,398.41 370.63,398.41 371.74,398.41 372.85,398.41 373.96,398.41 375.07,398.41 376.18,398.41 377.29,398.41 378.40,398.41" fill="none" stroke="#f8e890" stroke-width="0.7" stroke-linejoin="round"/>
<path d="M244.15,397.78a1.05,1.05 0 1,0 2.1,0a1.05,1.05 0 1,0 -2.1,0M246.37,397.57a1.05,1.05 0 1,0 2.1,0a1.05,1.05 0 1,0 -2.1,0M248.59,396.91a1.05,1.05 0 1,0 2.1,0a1.05,1.05 0 1,0 -2.1,0M250.81,393.34a1.05,1.05 0 1,0 2.1,0a1.05,1.05 0 1,0 -2.1,0M253.03,382.95a1.05,1.05 0 1,0 2.1,0a1.05,1.05 0 1,0 -2.1,0M255.25,370.71a1.05,1.05 0 1,0 2.1,0a1.05,1.05 0 1,0 -2.1,0M257.47,363.76a1.05,1.05 0 1,0 2.1,0a1.05,1.05 0 1,0 -2.1,0M259.69,361.80a1.05,1.05 0 1,0 2.1,0a1.05,1.05 0 1,0 -2.1,0M261.91,361.29a1.05,1.05 0 1,0 2.1,0a1.05,1.05 0 1,0 -2.1,0M264.13,362.65a1.05,1.05 0 1,0 2.1,0a1.05,1.05 0 1,0 -2.1,0M266.35,365.02a1.05,1.05 0 1,0 2.1,0a1.05,1.05 0 1,0 -2.1,0M268.57,368.86a1.05,1.05 0 1,0 2.1,0a1.05,1.05 0 1,0 -2.1,0M270.79,372.94a1.05,1.05 0 1,0 2.1,0a1.05,1.05 0 1,0 -2.1,0M273.01,377.16a1.05,1.05 0 1,0 2.1,0a1.05,1.05 0 1,0 -2.1,0M275.23,381.16a1.05,1.05 0 1,0 2.1,0a1.05,1.05 0 1,0 -2.1,0M277.45,384.63a1.05,1.05 0 1,0 2.1,0a1.05,1.05 0 1,0 -2.1,0M279.67,387.92a1.05,1.05 0 1,0 2.1,0a1.05,1.05 0 1,0 -2.1,0M281.89,390.84a1.05,1.05 0 1,0 2.1,0a1.05,1.05 0 1,0 -2.1,0M284.11,392.99a1.05,1.05 0 1,0 2.1,0a1.05,1.05 0 1,0 -2.1,0M286.33,394.50a1.05,1.05 0 1,0 2.1,0a1.05,1.05 0 1,0 -2.1,0M288.55,395.70a1.05,1.05 0 1,0 2.1,0a1.05,1.05 0 1,0 -2.1,0M290.77,396.52a1.05,1.05 0 1,0 2.1,0a1.05,1.05 0 1,0 -2.1,0M292.99,397.11a1.05,1.05 0 1,0 2.1,0a1.05,1.05 0 1,0 -2.1,0M295.21,397.57a1.05,1.05 0 1,0 2.1,0a1.05,1.05 0 1,0 -2.1,0M297.43,397.78a1.05,1.05 0 1,0 2.1,0a1.05,1.05 0 1,0 -2.1,0M299.65,397.82a1.05,1.05 0 1,0 2.1,0a1.05,1.05 0 1,0 -2.1,0M301.87,397.87a1.05,1.05 0 1,0 2.1,0a1.05,1.05 0 1,0 -2.1,0M304.09,397.91a1.05,1.05 0 1,0 2.1,0a1.05,1.05 0 1,0 -2.1,0M306.31,397.95a1.05,1.05 0 1,0 2.1,0a1.05,1.05 0 1,0 -2.1,0M308.53,397.98a1.05,1.05 0 1,0 2.1,0a1.05,1.05 0 1,0 -2.1,0M310.75,398.02a1.05,1.05 0 1,0 2.1,0a1.05,1.05 0 1,0 -2.1,0M312.97,398.05a1.05,1.05 0 1,0 2.1,0a1.05,1.05 0 1,0 -2.1,0M315.19,398.08a1.05,1.05 0 1,0 2.1,0a1.05,1.05 0 1,0 -2.1,0M317.41,398.11a1.05,1.05 0 1,0 2.1,0a1.05,1.05 0 1,0 -2.1,0M319.63,398.14a1.05,1.05 0 1,0 2.1,0a1.05,1.05 0 1,0 -2.1,0M321.85,398.16a1.05,1.05 0 1,0 2.1,0a1.05,1.05 0 1,0 -2.1,0M324.07,398.19a1.05,1.05 0 1,0 2.1,0a1.05,1.05 0 1,0 -2.1,0M326.29,398.21a1.05,1.05 0 1,0 2.1,0a1.05,1.05 0 1,0 -2.1,0M328.51,398.23a1.05,1.05 0 1,0 2.1,0a1.05,1.05 0 1,0 -2.1,0M330.73,398.25a1.05,1.05 0 1,0 2.1,0a1.05,1.05 0 1,0 -2.1,0M332.95,398.27a1.05,1.05 0 1,0 2.1,0a1.05,1.05 0 1,0 -2.1,0M335.17,398.28a1.05,1.05 0 1,0 2.1,0a1.05,1.05 0 1,0 -2.1,0M337.39,398.30a1.05,1.05 0 1,0 2.1,0a1.05,1.05 0 1,0 -2.1,0M339.61,398.31a1.05,1.05 0 1,0 2.1,0a1.05,1.05 0 1,0 -2.1,0M341.83,398.33a1.05,1.05 0 1,0 2.1,0a1.05,1.05 0 1,0 -2.1,0M344.05,398.34a1.05,1.05 0 1,0 2.1,0a1.05,1.05 0 1,0 -2.1,0M346.27,398.35a1.05,1.05 0 1,0 2.1,0a1.05,1.05 0 1,0 -2.1,0M348.49,398.36a1.05,1.05 0 1,0 2.1,0a1.05,1.05 0 1,0 -2.1,0M350.71,398.37a1.05,1.05 0 1,0 2.1,0a1.05,1.05 0 1,0 -2.1,0M352.93,398.38a1.05,1.05 0 1,0 2.1,0a1.05,1.05 0 1,0 -2.1,0M355.15,398.38a1.05,1.05 0 1,0 2.1,0a1.05,1.05 0 1,0 -2.1,0M357.37,398.39a1.05,1.05 0 1,0 2.1,0a1.05,1.05 0 1,0 -2.1,0M359.59,398.39a1.05,1.05 0 1,0 2.1,0a1.05,1.05 0 1,0 -2.1,0M361.81,398.40a1.05,1.05 0 1,0 2.1,0a1.05,1.05 0 1,0 -2.1,0M364.03,398.40a1.05,1.05 0 1,0 2.1,0a1.05,1.05 0 1,0 -2.1,0M366.25,398.40a1.05,1.05 0 1,0 2.1,0a1.05,1.05 0 1,0 -2.1,0M368.47,398.41a1.05,1.05 0 1,0 2.1,0a1.05,1.05 0 1,0 -2.1,0M370.69,398.41a1.05,1.05 0 1,0 2.1,0a1.05,1.05 0 1,0 -2.1,0M372.91,398.41a1.05,1.05 0 1,0 2.1,0a1.05,1.05 0 1,0 -2.1,0M375.13,398.41a1.05,1.05 0 1,0 2.1,0a1.05,1.05 0 1,0 -2.1,0M377.35,398.41a1.05,1.05 0 1,0 2.1,0a1.05,1.05 0 1,0 -2.1,0" fill="#f0dc50"/>
<polyline points="245.20,397.78 246.31,397.73 247.42,397.57 248.53,397.30 249.64,396.91 250.75,396.32 251.86,393.29 252.97,388.62 254.08,383.23 255.19,376.88 256.30,372.21 257.41,368.52 258.52,366.28 259.63,365.26 260.74,364.58 261.85,364.40 262.96,364.74 264.07,365.46 265.18,366.46 266.29,367.61 267.40,368.80 268.51,370.30 269.62,372.09 270.73,373.81 271.84,375.58 272.95,377.38 274.06,379.18 275.17,380.94 276.28,382.64 277.39,384.24 278.50,385.79 279.61,387.36 280.72,388.92 281.83,390.40 282.94,391.73 284.05,392.87 285.16,393.75 286.27,394.44 287.38,395.07 288.49,395.62 289.60,396.09 290.71,396.47 291.82,396.77 292.93,397.02 294.04,397.25 295.15,397.45 296.26,397.61 297.37,397.72 298.48,397.78 299.59,397.80 300.70,397.82 301.81,397.84 302.92,397.87 304.03,397.89 305.14,397.90 306.25,397.92 307.36,397.94 308.47,397.96 309.58,397.98 310.69,398.00 311.80,398.01 312.91,398.03 314.02,398.04 315.13,398.06 316.24,398.08 317.35,398.09 318.46,398.10 319.57,398.12 320.68,398.13 321.79,398.14 322.90,398.16 324.01,398.17 325.12,398.18 326.23,398.19 327.34,398.20 328.45,398.21 329.56,398.22 330.67,398.23 331.78,398.24 332.89,398.25 334.00,398.26 335.11,398.27 336.22,398.28 337.33,398.29 338.44,398.30 339.55,398.30 340.66,398.31 341.77,398.32 342.88,398.32 343.99,398.33 345.10,398.34 346.21,398.34 347.32,398.35 348.43,398.35 349.54,398.36 350.65,398.36 351.76,398.37 352.87,398.37 353.98,398.37 355.09,398.38 356.20,398.38 357.31,398.38 358.42,398.39 359.53,398.39 360.64,398.39 361.75,398.39 362.86,398.40 363.97,398.40 365.08,398.40 366.19,398.40 367.30,398.40 368.41,398.40 369.52,398.41 370.63,398.41 371.74,398.41 372.85,398.41 373.96,398.41 375.07,398.41 376.18,398.41 377.29,398.41 378.40,398.41" fill="none" stroke="#f0c088" stroke-width="0.7" stroke-linejoin="round"/>
<path d="M244.15,397.78a1.05,1.05 0 1,0 2.1,0a1.05,1.05 0 1,0 -2.1,0M246.37,397.57a1.05,1.05 0 1,0 2.1,0a1.05,1.05 0 1,0 -2.1,0M248.59,396.91a1.05,1.05 0 1,0 2.1,0a1.05,1.05 0 1,0 -2.1,0M250.81,393.29a1.05,1.05 0 1,0 2.1,0a1.05,1.05 0 1,0 -2.1,0M253.03,383.23a1.05,1.05 0 1,0 2.1,0a1.05,1.05 0 1,0 -2.1,0M255.25,372.21a1.05,1.05 0 1,0 2.1,0a1.05,1.05 0 1,0 -2.1,0M257.47,366.28a1.05,1.05 0 1,0 2.1,0a1.05,1.05 0 1,0 -2.1,0M259.69,364.58a1.05,1.05 0 1,0 2.1,0a1.05,1.05 0 1,0 -2.1,0M261.91,364.74a1.05,1.05 0 1,0 2.1,0a1.05,1.05 0 1,0 -2.1,0M264.13,366.46a1.05,1.05 0 1,0 2.1,0a1.05,1.05 0 1,0 -2.1,0M266.35,368.80a1.05,1.05 0 1,0 2.1,0a1.05,1.05 0 1,0 -2.1,0M268.57,372.09a1.05,1.05 0 1,0 2.1,0a1.05,1.05 0 1,0 -2.1,0M270.79,375.58a1.05,1.05 0 1,0 2.1,0a1.05,1.05 0 1,0 -2.1,0M273.01,379.18a1.05,1.05 0 1,0 2.1,0a1.05,1.05 0 1,0 -2.1,0M275.23,382.64a1.05,1.05 0 1,0 2.1,0a1.05,1.05 0 1,0 -2.1,0M277.45,385.79a1.05,1.05 0 1,0 2.1,0a1.05,1.05 0 1,0 -2.1,0M279.67,388.92a1.05,1.05 0 1,0 2.1,0a1.05,1.05 0 1,0 -2.1,0M281.89,391.73a1.05,1.05 0 1,0 2.1,0a1.05,1.05 0 1,0 -2.1,0M284.11,393.75a1.05,1.05 0 1,0 2.1,0a1.05,1.05 0 1,0 -2.1,0M286.33,395.07a1.05,1.05 0 1,0 2.1,0a1.05,1.05 0 1,0 -2.1,0M288.55,396.09a1.05,1.05 0 1,0 2.1,0a1.05,1.05 0 1,0 -2.1,0M290.77,396.77a1.05,1.05 0 1,0 2.1,0a1.05,1.05 0 1,0 -2.1,0M292.99,397.25a1.05,1.05 0 1,0 2.1,0a1.05,1.05 0 1,0 -2.1,0M295.21,397.61a1.05,1.05 0 1,0 2.1,0a1.05,1.05 0 1,0 -2.1,0M297.43,397.78a1.05,1.05 0 1,0 2.1,0a1.05,1.05 0 1,0 -2.1,0M299.65,397.82a1.05,1.05 0 1,0 2.1,0a1.05,1.05 0 1,0 -2.1,0M301.87,397.87a1.05,1.05 0 1,0 2.1,0a1.05,1.05 0 1,0 -2.1,0M304.09,397.90a1.05,1.05 0 1,0 2.1,0a1.05,1.05 0 1,0 -2.1,0M306.31,397.94a1.05,1.05 0 1,0 2.1,0a1.05,1.05 0 1,0 -2.1,0M308.53,397.98a1.05,1.05 0 1,0 2.1,0a1.05,1.05 0 1,0 -2.1,0M310.75,398.01a1.05,1.05 0 1,0 2.1,0a1.05,1.05 0 1,0 -2.1,0M312.97,398.04a1.05,1.05 0 1,0 2.1,0a1.05,1.05 0 1,0 -2.1,0M315.19,398.08a1.05,1.05 0 1,0 2.1,0a1.05,1.05 0 1,0 -2.1,0M317.41,398.10a1.05,1.05 0 1,0 2.1,0a1.05,1.05 0 1,0 -2.1,0M319.63,398.13a1.05,1.05 0 1,0 2.1,0a1.05,1.05 0 1,0 -2.1,0M321.85,398.16a1.05,1.05 0 1,0 2.1,0a1.05,1.05 0 1,0 -2.1,0M324.07,398.18a1.05,1.05 0 1,0 2.1,0a1.05,1.05 0 1,0 -2.1,0M326.29,398.20a1.05,1.05 0 1,0 2.1,0a1.05,1.05 0 1,0 -2.1,0M328.51,398.22a1.05,1.05 0 1,0 2.1,0a1.05,1.05 0 1,0 -2.1,0M330.73,398.24a1.05,1.05 0 1,0 2.1,0a1.05,1.05 0 1,0 -2.1,0M332.95,398.26a1.05,1.05 0 1,0 2.1,0a1.05,1.05 0 1,0 -2.1,0M335.17,398.28a1.05,1.05 0 1,0 2.1,0a1.05,1.05 0 1,0 -2.1,0M337.39,398.30a1.05,1.05 0 1,0 2.1,0a1.05,1.05 0 1,0 -2.1,0M339.61,398.31a1.05,1.05 0 1,0 2.1,0a1.05,1.05 0 1,0 -2.1,0M341.83,398.32a1.05,1.05 0 1,0 2.1,0a1.05,1.05 0 1,0 -2.1,0M344.05,398.34a1.05,1.05 0 1,0 2.1,0a1.05,1.05 0 1,0 -2.1,0M346.27,398.35a1.05,1.05 0 1,0 2.1,0a1.05,1.05 0 1,0 -2.1,0M348.49,398.36a1.05,1.05 0 1,0 2.1,0a1.05,1.05 0 1,0 -2.1,0M350.71,398.37a1.05,1.05 0 1,0 2.1,0a1.05,1.05 0 1,0 -2.1,0M352.93,398.37a1.05,1.05 0 1,0 2.1,0a1.05,1.05 0 1,0 -2.1,0M355.15,398.38a1.05,1.05 0 1,0 2.1,0a1.05,1.05 0 1,0 -2.1,0M357.37,398.39a1.05,1.05 0 1,0 2.1,0a1.05,1.05 0 1,0 -2.1,0M359.59,398.39a1.05,1.05 0 1,0 2.1,0a1.05,1.05 0 1,0 -2.1,0M361.81,398.40a1.05,1.05 0 1,0 2.1,0a1.05,1.05 0 1,0 -2.1,0M364.03,398.40a1.05,1.05 0 1,0 2.1,0a1.05,1.05 0 1,0 -2.1,0M366.25,398.40a1.05,1.05 0 1,0 2.1,0a1.05,1.05 0 1,0 -2.1,0M368.47,398.41a1.05,1.05 0 1,0 2.1,0a1.05,1.05 0 1,0 -2.1,0M370.69,398.41a1.05,1.05 0 1,0 2.1,0a1.05,1.05 0 1,0 -2.1,0M372.91,398.41a1.05,1.05 0 1,0 2.1,0a1.05,1.05 0 1,0 -2.1,0M375.13,398.41a1.05,1.05 0 1,0 2.1,0a1.05,1.05 0 1,0 -2.1,0M377.35,398.41a1.05,1.05 0 1,0 2.1,0a1.05,1.05 0 1,0 -2.1,0" fill="#cc8430"/>
<polyline points="245.20,399.04 246.31,398.99 247.42,398.83 248.53,398.55 249.64,398.17 250.75,397.60 251.86,394.97 252.97,391.00 254.08,386.54 255.19,381.37 256.30,377.53 257.41,374.46 258.52,372.58 259.63,371.70 260.74,371.11 261.85,370.95 262.96,371.27 264.07,371.96 265.18,372.91 266.29,373.99 267.40,375.10 268.51,376.47 269.62,378.08 270.73,379.56 271.84,381.06 272.95,382.56 274.06,384.03 275.17,385.46 276.28,386.82 277.39,388.09 278.50,389.29 279.61,390.49 280.72,391.67 281.83,392.77 282.94,393.76 284.05,394.61 285.16,395.26 286.27,395.78 287.38,396.24 288.49,396.64 289.60,396.99 290.71,397.29 291.82,397.53 292.93,397.74 294.04,397.94 295.15,398.12 296.26,398.26 297.37,398.36 298.48,398.41 299.59,398.42 300.70,398.44 301.81,398.45 302.92,398.46 304.03,398.47 305.14,398.49 306.25,398.50 307.36,398.51 308.47,398.52 309.58,398.53 310.69,398.54 311.80,398.55 312.91,398.56 314.02,398.57 315.13,398.58 316.24,398.59 317.35,398.60 318.46,398.61 319.57,398.62 320.68,398.62 321.79,398.63 322.90,398.64 324.01,398.65 325.12,398.65 326.23,398.66 327.34,398.67 328.45,398.67 329.56,398.68 330.67,398.69 331.78,398.69 332.89,398.70 334.00,398.70 335.11,398.71 336.22,398.71 337.33,398.72 338.44,398.72 339.55,398.73 340.66,398.73 341.77,398.74 342.88,398.74 343.99,398.74 345.10,398.75 346.21,398.75 347.32,398.75 348.43,398.76 349.54,398.76 350.65,398.76 351.76,398.76 352.87,398.77 353.98,398.77 355.09,398.77 356.20,398.77 357.31,398.77 358.42,398.78 359.53,398.78 360.64,398.78 361.75,398.78 362.86,398.78 363.97,398.78 365.08,398.78 366.19,398.78 367.30,398.78 368.41,398.79 369.52,398.79 370.63,398.79 371.74,398.79 372.85,398.79 373.96,398.79 375.07,398.79 376.18,398.79 377.29,398.79 378.40,398.79" fill="none" stroke="#e07070" stroke-width="0.7" stroke-linejoin="round"/>
<path d="M244.15,399.04a1.05,1.05 0 1,0 2.1,0a1.05,1.05 0 1,0 -2.1,0M246.37,398.83a1.05,1.05 0 1,0 2.1,0a1.05,1.05 0 1,0 -2.1,0M248.59,398.17a1.05,1.05 0 1,0 2.1,0a1.05,1.05 0 1,0 -2.1,0M250.81,394.97a1.05,1.05 0 1,0 2.1,0a1.05,1.05 0 1,0 -2.1,0M253.03,386.54a1.05,1.05 0 1,0 2.1,0a1.05,1.05 0 1,0 -2.1,0M255.25,377.53a1.05,1.05 0 1,0 2.1,0a1.05,1.05 0 1,0 -2.1,0M257.47,372.58a1.05,1.05 0 1,0 2.1,0a1.05,1.05 0 1,0 -2.1,0M259.69,371.11a1.05,1.05 0 1,0 2.1,0a1.05,1.05 0 1,0 -2.1,0M261.91,371.27a1.05,1.05 0 1,0 2.1,0a1.05,1.05 0 1,0 -2.1,0M264.13,372.91a1.05,1.05 0 1,0 2.1,0a1.05,1.05 0 1,0 -2.1,0M266.35,375.10a1.05,1.05 0 1,0 2.1,0a1.05,1.05 0 1,0 -2.1,0M268.57,378.08a1.05,1.05 0 1,0 2.1,0a1.05,1.05 0 1,0 -2.1,0M270.79,381.06a1.05,1.05 0 1,0 2.1,0a1.05,1.05 0 1,0 -2.1,0M273.01,384.03a1.05,1.05 0 1,0 2.1,0a1.05,1.05 0 1,0 -2.1,0M275.23,386.82a1.05,1.05 0 1,0 2.1,0a1.05,1.05 0 1,0 -2.1,0M277.45,389.29a1.05,1.05 0 1,0 2.1,0a1.05,1.05 0 1,0 -2.1,0M279.67,391.67a1.05,1.05 0 1,0 2.1,0a1.05,1.05 0 1,0 -2.1,0M281.89,393.76a1.05,1.05 0 1,0 2.1,0a1.05,1.05 0 1,0 -2.1,0M284.11,395.26a1.05,1.05 0 1,0 2.1,0a1.05,1.05 0 1,0 -2.1,0M286.33,396.24a1.05,1.05 0 1,0 2.1,0a1.05,1.05 0 1,0 -2.1,0M288.55,396.99a1.05,1.05 0 1,0 2.1,0a1.05,1.05 0 1,0 -2.1,0M290.77,397.53a1.05,1.05 0 1,0 2.1,0a1.05,1.05 0 1,0 -2.1,0M292.99,397.94a1.05,1.05 0 1,0 2.1,0a1.05,1.05 0 1,0 -2.1,0M295.21,398.26a1.05,1.05 0 1,0 2.1,0a1.05,1.05 0 1,0 -2.1,0M297.43,398.41a1.05,1.05 0 1,0 2.1,0a1.05,1.05 0 1,0 -2.1,0M299.65,398.44a1.05,1.05 0 1,0 2.1,0a1.05,1.05 0 1,0 -2.1,0M301.87,398.46a1.05,1.05 0 1,0 2.1,0a1.05,1.05 0 1,0 -2.1,0M304.09,398.49a1.05,1.05 0 1,0 2.1,0a1.05,1.05 0 1,0 -2.1,0M306.31,398.51a1.05,1.05 0 1,0 2.1,0a1.05,1.05 0 1,0 -2.1,0M308.53,398.53a1.05,1.05 0 1,0 2.1,0a1.05,1.05 0 1,0 -2.1,0M310.75,398.55a1.05,1.05 0 1,0 2.1,0a1.05,1.05 0 1,0 -2.1,0M312.97,398.57a1.05,1.05 0 1,0 2.1,0a1.05,1.05 0 1,0 -2.1,0M315.19,398.59a1.05,1.05 0 1,0 2.1,0a1.05,1.05 0 1,0 -2.1,0M317.41,398.61a1.05,1.05 0 1,0 2.1,0a1.05,1.05 0 1,0 -2.1,0M319.63,398.62a1.05,1.05 0 1,0 2.1,0a1.05,1.05 0 1,0 -2.1,0M321.85,398.64a1.05,1.05 0 1,0 2.1,0a1.05,1.05 0 1,0 -2.1,0M324.07,398.65a1.05,1.05 0 1,0 2.1,0a1.05,1.05 0 1,0 -2.1,0M326.29,398.67a1.05,1.05 0 1,0 2.1,0a1.05,1.05 0 1,0 -2.1,0M328.51,398.68a1.05,1.05 0 1,0 2.1,0a1.05,1.05 0 1,0 -2.1,0M330.73,398.69a1.05,1.05 0 1,0 2.1,0a1.05,1.05 0 1,0 -2.1,0M332.95,398.70a1.05,1.05 0 1,0 2.1,0a1.05,1.05 0 1,0 -2.1,0M335.17,398.71a1.05,1.05 0 1,0 2.1,0a1.05,1.05 0 1,0 -2.1,0M337.39,398.72a1.05,1.05 0 1,0 2.1,0a1.05,1.05 0 1,0 -2.1,0M339.61,398.73a1.05,1.05 0 1,0 2.1,0a1.05,1.05 0 1,0 -2.1,0M341.83,398.74a1.05,1.05 0 1,0 2.1,0a1.05,1.05 0 1,0 -2.1,0M344.05,398.75a1.05,1.05 0 1,0 2.1,0a1.05,1.05 0 1,0 -2.1,0M346.27,398.75a1.05,1.05 0 1,0 2.1,0a1.05,1.05 0 1,0 -2.1,0M348.49,398.76a1.05,1.05 0 1,0 2.1,0a1.05,1.05 0 1,0 -2.1,0M350.71,398.76a1.05,1.05 0 1,0 2.1,0a1.05,1.05 0 1,0 -2.1,0M352.93,398.77a1.05,1.05 0 1,0 2.1,0a1.05,1.05 0 1,0 -2.1,0M355.15,398.77a1.05,1.05 0 1,0 2.1,0a1.05,1.05 0 1,0 -2.1,0M357.37,398.78a1.05,1.05 0 1,0 2.1,0a1.05,1.05 0 1,0 -2.1,0M359.59,398.78a1.05,1.05 0 1,0 2.1,0a1.05,1.05 0 1,0 -2.1,0M361.81,398.78a1.05,1.05 0 1,0 2.1,0a1.05,1.05 0 1,0 -2.1,0M364.03,398.78a1.05,1.05 0 1,0 2.1,0a1.05,1.05 0 1,0 -2.1,0M366.25,398.78a1.05,1.05 0 1,0 2.1,0a1.05,1.05 0 1,0 -2.1,0M368.47,398.79a1.05,1.05 0 1,0 2.1,0a1.05,1.05 0 1,0 -2.1,0M370.69,398.79a1.05,1.05 0 1,0 2.1,0a1.05,1.05 0 1,0 -2.1,0M372.91,398.79a1.05,1.05 0 1,0 2.1,0a1.05,1.05 0 1,0 -2.1,0M375.13,398.79a1.05,1.05 0 1,0 2.1,0a1.05,1.05 0 1,0 -2.1,0M377.35,398.79a1.05,1.05 0 1,0 2.1,0a1.05,1.05 0 1,0 -2.1,0" fill="#a0121a"/>
<line x1="41.40" y1="469.80" x2="41.40" y2="560.80" stroke="#000" stroke-width="1.25"/>
<line x1="38.00" y1="550.50" x2="41.40" y2="550.50" stroke="#333" stroke-width="1.1"/>
<text x="35.00" y="553.00" font-size="7.1" text-anchor="end" fill="#222" textLength="12.75" lengthAdjust="spacingAndGlyphs">0.00</text>
<line x1="38.00" y1="524.40" x2="41.40" y2="524.40" stroke="#333" stroke-width="1.1"/>
<text x="35.00" y="526.90" font-size="7.1" text-anchor="end" fill="#222" textLength="12.75" lengthAdjust="spacingAndGlyphs">0.05</text>
<line x1="38.00" y1="498.30" x2="41.40" y2="498.30" stroke="#333" stroke-width="1.1"/>
<text x="35.00" y="500.80" font-size="7.1" text-anchor="end" fill="#222" textLength="12.75" lengthAdjust="spacingAndGlyphs">0.10</text>
<line x1="38.00" y1="472.20" x2="41.40" y2="472.20" stroke="#333" stroke-width="1.1"/>
<text x="35.00" y="474.70" font-size="7.1" text-anchor="end" fill="#222" textLength="12.75" lengthAdjust="spacingAndGlyphs">0.15</text>
<line x1="41.40" y1="550.50" x2="177.30" y2="550.50" stroke="#000" stroke-width="1.2"/>
<line x1="41.40" y1="550.50" x2="41.40" y2="553.70" stroke="#111" stroke-width="1"/>
<line x1="45.83" y1="550.50" x2="45.83" y2="552.10" stroke="#222" stroke-width="0.8"/>
<line x1="50.26" y1="550.50" x2="50.26" y2="552.10" stroke="#222" stroke-width="0.8"/>
<line x1="54.69" y1="550.50" x2="54.69" y2="552.10" stroke="#222" stroke-width="0.8"/>
<line x1="59.12" y1="550.50" x2="59.12" y2="552.10" stroke="#222" stroke-width="0.8"/>
<line x1="63.55" y1="550.50" x2="63.55" y2="552.10" stroke="#222" stroke-width="0.8"/>
<line x1="67.98" y1="550.50" x2="67.98" y2="552.10" stroke="#222" stroke-width="0.8"/>
<line x1="72.41" y1="550.50" x2="72.41" y2="552.10" stroke="#222" stroke-width="0.8"/>
<line x1="76.84" y1="550.50" x2="76.84" y2="552.10" stroke="#222" stroke-width="0.8"/>
<line x1="81.27" y1="550.50" x2="81.27" y2="552.10" stroke="#222" stroke-width="0.8"/>
<line x1="85.70" y1="550.50" x2="85.70" y2="553.70" stroke="#111" stroke-width="1"/>
<text x="85.70" y="562.50" font-size="7.1" text-anchor="middle" fill="#222">10</text>
<line x1="90.13" y1="550.50" x2="90.13" y2="552.10" stroke="#222" stroke-width="0.8"/>
<line x1="94.56" y1="550.50" x2="94.56" y2="552.10" stroke="#222" stroke-width="0.8"/>
<line x1="98.99" y1="550.50" x2="98.99" y2="552.10" stroke="#222" stroke-width="0.8"/>
<line x1="103.42" y1="550.50" x2="103.42" y2="552.10" stroke="#222" stroke-width="0.8"/>
<line x1="107.85" y1="550.50" x2="107.85" y2="552.10" stroke="#222" stroke-width="0.8"/>
<line x1="112.28" y1="550.50" x2="112.28" y2="552.10" stroke="#222" stroke-width="0.8"/>
<line x1="116.71" y1="550.50" x2="116.71" y2="552.10" stroke="#222" stroke-width="0.8"/>
<line x1="121.14" y1="550.50" x2="121.14" y2="552.10" stroke="#222" stroke-width="0.8"/>
<line x1="125.57" y1="550.50" x2="125.57" y2="552.10" stroke="#222" stroke-width="0.8"/>
<line x1="130.00" y1="550.50" x2="130.00" y2="553.70" stroke="#111" stroke-width="1"/>
<text x="130.00" y="562.50" font-size="7.1" text-anchor="middle" fill="#222">20</text>
<line x1="134.43" y1="550.50" x2="134.43" y2="552.10" stroke="#222" stroke-width="0.8"/>
<line x1="138.86" y1="550.50" x2="138.86" y2="552.10" stroke="#222" stroke-width="0.8"/>
<line x1="143.29" y1="550.50" x2="143.29" y2="552.10" stroke="#222" stroke-width="0.8"/>
<line x1="147.72" y1="550.50" x2="147.72" y2="552.10" stroke="#222" stroke-width="0.8"/>
<line x1="152.15" y1="550.50" x2="152.15" y2="552.10" stroke="#222" stroke-width="0.8"/>
<line x1="156.58" y1="550.50" x2="156.58" y2="552.10" stroke="#222" stroke-width="0.8"/>
<line x1="161.01" y1="550.50" x2="161.01" y2="552.10" stroke="#222" stroke-width="0.8"/>
<line x1="165.44" y1="550.50" x2="165.44" y2="552.10" stroke="#222" stroke-width="0.8"/>
<line x1="169.87" y1="550.50" x2="169.87" y2="552.10" stroke="#222" stroke-width="0.8"/>
<line x1="174.30" y1="550.50" x2="174.30" y2="553.70" stroke="#111" stroke-width="1"/>
<text x="174.30" y="562.50" font-size="7.1" text-anchor="middle" fill="#222">30</text>
<text class="bt" x="109.45" y="573.80" font-size="7.8" text-anchor="middle" fill="#222" textLength="33.2" lengthAdjust="spacingAndGlyphs">Time (min)</text>
<text class="bt" transform="translate(15.00,547.00) rotate(-90)" font-size="8.9" fill="#222" textLength="49.8" lengthAdjust="spacingAndGlyphs">Fibrin formation</text>
<text class="bt" transform="translate(15.00,495.95) rotate(-90)" font-size="8.9" fill="#222" textLength="24.2" lengthAdjust="spacingAndGlyphs">(OD<tspan font-size="5.9" dy="1.5">405</tspan><tspan dy="-1.5">)</tspan></text>
<text transform="translate(7.0,452.8) scale(1.0,1)" font-size="12" font-weight="bold" fill="#000" style="stroke:#000;stroke-width:0.35px">G</text>
<polyline points="41.40,550.50 42.51,550.50 43.62,550.50 44.72,550.50 45.83,550.50 46.94,550.50 48.05,549.49 49.15,545.69 50.26,542.46 51.37,539.54 52.47,537.15 53.58,535.70 54.69,535.10 55.80,534.61 56.91,534.13 58.01,533.69 59.12,533.26 60.23,532.86 61.34,532.47 62.44,532.12 63.55,531.78 64.66,531.47 65.77,531.18 66.87,530.91 67.98,530.66 69.09,530.43 70.19,530.21 71.30,530.00 72.41,529.80 73.52,529.61 74.62,529.42 75.73,529.25 76.84,529.08 77.95,528.91 79.06,528.75 80.16,528.60 81.27,528.46 82.38,528.32 83.48,528.18 84.59,528.05 85.70,527.93 86.81,527.81 87.91,527.69 89.02,527.57 90.13,527.46 91.24,527.34 92.34,527.23 93.45,527.13 94.56,527.02 95.67,526.91 96.78,526.81 97.88,526.72 98.99,526.62 100.10,526.53 101.20,526.44 102.31,526.35 103.42,526.27 104.53,526.20 105.63,526.12 106.74,526.06 107.85,525.99 108.96,525.93 110.06,525.88 111.17,525.83 112.28,525.78 113.39,525.74 114.50,525.69 115.60,525.64 116.71,525.59 117.82,525.55 118.93,525.50 120.03,525.45 121.14,525.41 122.25,525.36 123.35,525.32 124.46,525.28 125.57,525.23 126.68,525.19 127.78,525.15 128.89,525.11 130.00,525.06 131.11,525.02 132.22,524.98 133.32,524.94 134.43,524.91 135.54,524.87 136.64,524.83 137.75,524.79 138.86,524.76 139.97,524.72 141.07,524.69 142.18,524.66 143.29,524.62 144.40,524.59 145.50,524.56 146.61,524.53 147.72,524.50 148.83,524.47 149.94,524.45 151.04,524.42 152.15,524.40 153.26,524.37 154.37,524.35 155.47,524.33 156.58,524.31 157.69,524.29 158.80,524.27 159.90,524.25 161.01,524.24 162.12,524.22 163.22,524.21 164.33,524.19 165.44,524.18 166.55,524.17 167.66,524.16 168.76,524.16 169.87,524.15 170.98,524.15 172.09,524.14 173.19,524.14 174.30,524.14" fill="none" stroke="#d4d2ec" stroke-width="3.0" stroke-linejoin="round"/>
<polyline points="41.40,550.50 42.51,550.50 43.62,550.50 44.72,550.50 45.83,550.50 46.94,550.50 48.05,549.49 49.15,545.69 50.26,542.48 51.37,539.54 52.47,536.99 53.58,535.44 54.69,534.84 55.80,534.33 56.91,533.85 58.01,533.38 59.12,532.94 60.23,532.52 61.34,532.13 62.44,531.76 63.55,531.41 64.66,531.08 65.77,530.78 66.87,530.50 67.98,530.25 69.09,530.01 70.19,529.78 71.30,529.56 72.41,529.35 73.52,529.15 74.62,528.96 75.73,528.78 76.84,528.60 77.95,528.43 79.06,528.27 80.16,528.11 81.27,527.96 82.38,527.82 83.48,527.68 84.59,527.54 85.70,527.41 86.81,527.29 87.91,527.17 89.02,527.05 90.13,526.93 91.24,526.81 92.34,526.70 93.45,526.59 94.56,526.48 95.67,526.37 96.78,526.27 97.88,526.17 98.99,526.07 100.10,525.98 101.20,525.88 102.31,525.80 103.42,525.71 104.53,525.64 105.63,525.56 106.74,525.49 107.85,525.42 108.96,525.36 110.06,525.31 111.17,525.26 112.28,525.21 113.39,525.16 114.50,525.11 115.60,525.06 116.71,525.01 117.82,524.96 118.93,524.91 120.03,524.86 121.14,524.81 122.25,524.76 123.35,524.72 124.46,524.67 125.57,524.62 126.68,524.58 127.78,524.53 128.89,524.49 130.00,524.45 131.11,524.40 132.22,524.36 133.32,524.32 134.43,524.28 135.54,524.24 136.64,524.20 137.75,524.16 138.86,524.12 139.97,524.08 141.07,524.05 142.18,524.01 143.29,523.98 144.40,523.94 145.50,523.91 146.61,523.88 147.72,523.85 148.83,523.82 149.94,523.79 151.04,523.76 152.15,523.74 153.26,523.71 154.37,523.69 155.47,523.66 156.58,523.64 157.69,523.62 158.80,523.60 159.90,523.58 161.01,523.56 162.12,523.55 163.22,523.53 164.33,523.52 165.44,523.51 166.55,523.50 167.66,523.49 168.76,523.48 169.87,523.47 170.98,523.47 172.09,523.46 173.19,523.46 174.30,523.46" fill="none" stroke="#b8b8e0" stroke-width="3.0" stroke-linejoin="round"/>
<polyline points="41.40,550.50 42.51,550.50 43.62,550.50 44.72,550.50 45.83,550.50 46.94,550.50 48.05,549.49 49.15,545.69 50.26,542.46 51.37,539.54 52.47,537.21 53.58,535.80 54.69,535.21 55.80,534.74 56.91,534.30 58.01,533.89 59.12,533.51 60.23,533.15 61.34,532.81 62.44,532.49 63.55,532.20 64.66,531.92 65.77,531.66 66.87,531.41 67.98,531.19 69.09,530.97 70.19,530.76 71.30,530.56 72.41,530.36 73.52,530.18 74.62,530.00 75.73,529.83 76.84,529.66 77.95,529.50 79.06,529.35 80.16,529.20 81.27,529.06 82.38,528.92 83.48,528.79 84.59,528.67 85.70,528.55 86.81,528.43 87.91,528.32 89.02,528.20 90.13,528.10 91.24,527.99 92.34,527.89 93.45,527.78 94.56,527.68 95.67,527.59 96.78,527.49 97.88,527.40 98.99,527.31 100.10,527.23 101.20,527.14 102.31,527.06 103.42,526.99 104.53,526.92 105.63,526.85 106.74,526.78 107.85,526.72 108.96,526.66 110.06,526.61 111.17,526.56 112.28,526.51 113.39,526.47 114.50,526.42 115.60,526.37 116.71,526.32 117.82,526.28 118.93,526.23 120.03,526.18 121.14,526.14 122.25,526.09 123.35,526.04 124.46,526.00 125.57,525.96 126.68,525.91 127.78,525.87 128.89,525.83 130.00,525.78 131.11,525.74 132.22,525.70 133.32,525.66 134.43,525.62 135.54,525.58 136.64,525.54 137.75,525.50 138.86,525.47 139.97,525.43 141.07,525.40 142.18,525.36 143.29,525.33 144.40,525.29 145.50,525.26 146.61,525.23 147.72,525.20 148.83,525.17 149.94,525.14 151.04,525.12 152.15,525.09 153.26,525.06 154.37,525.04 155.47,525.02 156.58,525.00 157.69,524.98 158.80,524.96 159.90,524.94 161.01,524.92 162.12,524.90 163.22,524.89 164.33,524.88 165.44,524.86 166.55,524.85 167.66,524.84 168.76,524.84 169.87,524.83 170.98,524.82 172.09,524.82 173.19,524.82 174.30,524.82" fill="none" stroke="#c0dcb0" stroke-width="3.0" stroke-linejoin="round"/>
<polyline points="41.40,550.50 42.51,550.50 43.62,550.50 44.72,550.50 45.83,550.50 46.94,550.50 48.05,549.49 49.15,545.69 50.26,542.39 51.37,539.54 52.47,537.69 53.58,536.55 54.69,535.99 55.80,535.56 56.91,535.17 58.01,534.80 59.12,534.45 60.23,534.13 61.34,533.83 62.44,533.55 63.55,533.30 64.66,533.06 65.77,532.83 66.87,532.63 67.98,532.44 69.09,532.26 70.19,532.09 71.30,531.93 72.41,531.77 73.52,531.62 74.62,531.48 75.73,531.34 76.84,531.21 77.95,531.09 79.06,530.97 80.16,530.85 81.27,530.74 82.38,530.63 83.48,530.53 84.59,530.43 85.70,530.33 86.81,530.24 87.91,530.14 89.02,530.05 90.13,529.96 91.24,529.87 92.34,529.78 93.45,529.70 94.56,529.61 95.67,529.53 96.78,529.45 97.88,529.37 98.99,529.30 100.10,529.23 101.20,529.16 102.31,529.09 103.42,529.02 104.53,528.96 105.63,528.90 106.74,528.85 107.85,528.79 108.96,528.74 110.06,528.70 111.17,528.65 112.28,528.61 113.39,528.57 114.50,528.53 115.60,528.49 116.71,528.45 117.82,528.40 118.93,528.36 120.03,528.32 121.14,528.28 122.25,528.24 123.35,528.20 124.46,528.16 125.57,528.12 126.68,528.08 127.78,528.05 128.89,528.01 130.00,527.97 131.11,527.93 132.22,527.90 133.32,527.86 134.43,527.83 135.54,527.79 136.64,527.76 137.75,527.72 138.86,527.69 139.97,527.66 141.07,527.63 142.18,527.60 143.29,527.57 144.40,527.54 145.50,527.51 146.61,527.48 147.72,527.46 148.83,527.43 149.94,527.40 151.04,527.38 152.15,527.36 153.26,527.33 154.37,527.31 155.47,527.29 156.58,527.27 157.69,527.26 158.80,527.24 159.90,527.22 161.01,527.21 162.12,527.19 163.22,527.18 164.33,527.17 165.44,527.16 166.55,527.15 167.66,527.14 168.76,527.13 169.87,527.13 170.98,527.12 172.09,527.12 173.19,527.12 174.30,527.11" fill="none" stroke="#fbf0b8" stroke-width="3.0" stroke-linejoin="round"/>
<polyline points="41.40,550.50 42.51,550.50 43.62,550.50 44.72,550.50 45.83,550.50 46.94,550.50 48.05,549.49 49.15,545.69 50.26,542.31 51.37,539.54 52.47,538.21 53.58,537.37 54.69,536.82 55.80,536.43 56.91,536.06 58.01,535.71 59.12,535.39 60.23,535.10 61.34,534.82 62.44,534.56 63.55,534.33 64.66,534.11 65.77,533.90 66.87,533.71 67.98,533.53 69.09,533.37 70.19,533.21 71.30,533.06 72.41,532.91 73.52,532.77 74.62,532.64 75.73,532.51 76.84,532.39 77.95,532.27 79.06,532.16 80.16,532.06 81.27,531.95 82.38,531.85 83.48,531.75 84.59,531.66 85.70,531.57 86.81,531.48 87.91,531.39 89.02,531.31 90.13,531.23 91.24,531.14 92.34,531.06 93.45,530.98 94.56,530.90 95.67,530.83 96.78,530.75 97.88,530.68 98.99,530.61 100.10,530.54 101.20,530.48 102.31,530.42 103.42,530.36 104.53,530.30 105.63,530.24 106.74,530.19 107.85,530.14 108.96,530.10 110.06,530.05 111.17,530.01 112.28,529.97 113.39,529.94 114.50,529.90 115.60,529.86 116.71,529.82 117.82,529.78 118.93,529.74 120.03,529.70 121.14,529.67 122.25,529.63 123.35,529.59 124.46,529.55 125.57,529.52 126.68,529.48 127.78,529.45 128.89,529.41 130.00,529.38 131.11,529.34 132.22,529.31 133.32,529.27 134.43,529.24 135.54,529.21 136.64,529.18 137.75,529.15 138.86,529.12 139.97,529.09 141.07,529.06 142.18,529.03 143.29,529.00 144.40,528.97 145.50,528.95 146.61,528.92 147.72,528.90 148.83,528.87 149.94,528.85 151.04,528.82 152.15,528.80 153.26,528.78 154.37,528.76 155.47,528.74 156.58,528.72 157.69,528.71 158.80,528.69 159.90,528.68 161.01,528.66 162.12,528.65 163.22,528.64 164.33,528.62 165.44,528.61 166.55,528.61 167.66,528.60 168.76,528.59 169.87,528.59 170.98,528.58 172.09,528.58 173.19,528.58 174.30,528.58" fill="none" stroke="#f2d2a8" stroke-width="3.0" stroke-linejoin="round"/>
<polyline points="41.40,550.50 42.51,550.50 43.62,550.50 44.72,550.50 45.83,550.50 46.94,550.50 48.05,549.49 49.15,545.69 50.26,542.20 51.37,539.54 52.47,538.78 53.58,538.23 54.69,537.71 55.80,537.34 56.91,536.99 58.01,536.66 59.12,536.35 60.23,536.07 61.34,535.80 62.44,535.55 63.55,535.33 64.66,535.11 65.77,534.92 66.87,534.74 67.98,534.58 69.09,534.43 70.19,534.28 71.30,534.14 72.41,534.01 73.52,533.88 74.62,533.75 75.73,533.64 76.84,533.53 77.95,533.42 79.06,533.32 80.16,533.22 81.27,533.13 82.38,533.04 83.48,532.95 84.59,532.87 85.70,532.79 86.81,532.72 87.91,532.65 89.02,532.58 90.13,532.51 91.24,532.45 92.34,532.38 93.45,532.32 94.56,532.26 95.67,532.20 96.78,532.14 97.88,532.09 98.99,532.03 100.10,531.98 101.20,531.93 102.31,531.89 103.42,531.84 104.53,531.80 105.63,531.76 106.74,531.72 107.85,531.68 108.96,531.65 110.06,531.62 111.17,531.59 112.28,531.56 113.39,531.53 114.50,531.50 115.60,531.47 116.71,531.44 117.82,531.41 118.93,531.38 120.03,531.35 121.14,531.32 122.25,531.29 123.35,531.27 124.46,531.24 125.57,531.21 126.68,531.18 127.78,531.16 128.89,531.13 130.00,531.11 131.11,531.08 132.22,531.05 133.32,531.03 134.43,531.00 135.54,530.98 136.64,530.96 137.75,530.93 138.86,530.91 139.97,530.89 141.07,530.87 142.18,530.84 143.29,530.82 144.40,530.80 145.50,530.78 146.61,530.76 147.72,530.75 148.83,530.73 149.94,530.71 151.04,530.69 152.15,530.68 153.26,530.66 154.37,530.65 155.47,530.63 156.58,530.62 157.69,530.61 158.80,530.59 159.90,530.58 161.01,530.57 162.12,530.56 163.22,530.55 164.33,530.54 165.44,530.54 166.55,530.53 167.66,530.52 168.76,530.52 169.87,530.51 170.98,530.51 172.09,530.51 173.19,530.51 174.30,530.51" fill="none" stroke="#f2b8b8" stroke-width="3.0" stroke-linejoin="round"/>
<polyline points="41.40,550.50 42.51,550.50 43.62,550.50 44.72,550.50 45.83,550.50 46.94,550.50 48.05,549.49 49.15,545.69 50.26,542.46 51.37,539.54 52.47,537.15 53.58,535.70 54.69,535.10 55.80,534.61 56.91,534.13 58.01,533.69 59.12,533.26 60.23,532.86 61.34,532.47 62.44,532.12 63.55,531.78 64.66,531.47 65.77,531.18 66.87,530.91 67.98,530.66 69.09,530.43 70.19,530.21 71.30,530.00 72.41,529.80 73.52,529.61 74.62,529.42 75.73,529.25 76.84,529.08 77.95,528.91 79.06,528.75 80.16,528.60 81.27,528.46 82.38,528.32 83.48,528.18 84.59,528.05 85.70,527.93 86.81,527.81 87.91,527.69 89.02,527.57 90.13,527.46 91.24,527.34 92.34,527.23 93.45,527.13 94.56,527.02 95.67,526.91 96.78,526.81 97.88,526.72 98.99,526.62 100.10,526.53 101.20,526.44 102.31,526.35 103.42,526.27 104.53,526.20 105.63,526.12 106.74,526.06 107.85,525.99 108.96,525.93 110.06,525.88 111.17,525.83 112.28,525.78 113.39,525.74 114.50,525.69 115.60,525.64 116.71,525.59 117.82,525.55 118.93,525.50 120.03,525.45 121.14,525.41 122.25,525.36 123.35,525.32 124.46,525.28 125.57,525.23 126.68,525.19 127.78,525.15 128.89,525.11 130.00,525.06 131.11,525.02 132.22,524.98 133.32,524.94 134.43,524.91 135.54,524.87 136.64,524.83 137.75,524.79 138.86,524.76 139.97,524.72 141.07,524.69 142.18,524.66 143.29,524.62 144.40,524.59 145.50,524.56 146.61,524.53 147.72,524.50 148.83,524.47 149.94,524.45 151.04,524.42 152.15,524.40 153.26,524.37 154.37,524.35 155.47,524.33 156.58,524.31 157.69,524.29 158.80,524.27 159.90,524.25 161.01,524.24 162.12,524.22 163.22,524.21 164.33,524.19 165.44,524.18 166.55,524.17 167.66,524.16 168.76,524.16 169.87,524.15 170.98,524.15 172.09,524.14 173.19,524.14 174.30,524.14" fill="none" stroke="#7e7bb5" stroke-width="1.5" stroke-linejoin="round"/>
<path d="M40.30,550.50a1.1,1.1 0 1,0 2.2,0a1.1,1.1 0 1,0 -2.2,0M42.52,550.50a1.1,1.1 0 1,0 2.2,0a1.1,1.1 0 1,0 -2.2,0M44.73,550.50a1.1,1.1 0 1,0 2.2,0a1.1,1.1 0 1,0 -2.2,0M46.95,549.49a1.1,1.1 0 1,0 2.2,0a1.1,1.1 0 1,0 -2.2,0M49.16,542.46a1.1,1.1 0 1,0 2.2,0a1.1,1.1 0 1,0 -2.2,0M51.37,537.15a1.1,1.1 0 1,0 2.2,0a1.1,1.1 0 1,0 -2.2,0M53.59,535.10a1.1,1.1 0 1,0 2.2,0a1.1,1.1 0 1,0 -2.2,0M55.80,534.13a1.1,1.1 0 1,0 2.2,0a1.1,1.1 0 1,0 -2.2,0M58.02,533.26a1.1,1.1 0 1,0 2.2,0a1.1,1.1 0 1,0 -2.2,0M60.23,532.47a1.1,1.1 0 1,0 2.2,0a1.1,1.1 0 1,0 -2.2,0M62.45,531.78a1.1,1.1 0 1,0 2.2,0a1.1,1.1 0 1,0 -2.2,0M64.67,531.18a1.1,1.1 0 1,0 2.2,0a1.1,1.1 0 1,0 -2.2,0M66.88,530.66a1.1,1.1 0 1,0 2.2,0a1.1,1.1 0 1,0 -2.2,0M69.09,530.21a1.1,1.1 0 1,0 2.2,0a1.1,1.1 0 1,0 -2.2,0M71.31,529.80a1.1,1.1 0 1,0 2.2,0a1.1,1.1 0 1,0 -2.2,0M73.53,529.42a1.1,1.1 0 1,0 2.2,0a1.1,1.1 0 1,0 -2.2,0M75.74,529.08a1.1,1.1 0 1,0 2.2,0a1.1,1.1 0 1,0 -2.2,0M77.96,528.75a1.1,1.1 0 1,0 2.2,0a1.1,1.1 0 1,0 -2.2,0M80.17,528.46a1.1,1.1 0 1,0 2.2,0a1.1,1.1 0 1,0 -2.2,0M82.39,528.18a1.1,1.1 0 1,0 2.2,0a1.1,1.1 0 1,0 -2.2,0M84.60,527.93a1.1,1.1 0 1,0 2.2,0a1.1,1.1 0 1,0 -2.2,0M86.81,527.69a1.1,1.1 0 1,0 2.2,0a1.1,1.1 0 1,0 -2.2,0M89.03,527.46a1.1,1.1 0 1,0 2.2,0a1.1,1.1 0 1,0 -2.2,0M91.25,527.23a1.1,1.1 0 1,0 2.2,0a1.1,1.1 0 1,0 -2.2,0M93.46,527.02a1.1,1.1 0 1,0 2.2,0a1.1,1.1 0 1,0 -2.2,0M95.68,526.81a1.1,1.1 0 1,0 2.2,0a1.1,1.1 0 1,0 -2.2,0M97.89,526.62a1.1,1.1 0 1,0 2.2,0a1.1,1.1 0 1,0 -2.2,0M100.11,526.44a1.1,1.1 0 1,0 2.2,0a1.1,1.1 0 1,0 -2.2,0M102.32,526.27a1.1,1.1 0 1,0 2.2,0a1.1,1.1 0 1,0 -2.2,0M104.53,526.12a1.1,1.1 0 1,0 2.2,0a1.1,1.1 0 1,0 -2.2,0M106.75,525.99a1.1,1.1 0 1,0 2.2,0a1.1,1.1 0 1,0 -2.2,0M108.97,525.88a1.1,1.1 0 1,0 2.2,0a1.1,1.1 0 1,0 -2.2,0M111.18,525.78a1.1,1.1 0 1,0 2.2,0a1.1,1.1 0 1,0 -2.2,0M113.40,525.69a1.1,1.1 0 1,0 2.2,0a1.1,1.1 0 1,0 -2.2,0M115.61,525.59a1.1,1.1 0 1,0 2.2,0a1.1,1.1 0 1,0 -2.2,0M117.83,525.50a1.1,1.1 0 1,0 2.2,0a1.1,1.1 0 1,0 -2.2,0M120.04,525.41a1.1,1.1 0 1,0 2.2,0a1.1,1.1 0 1,0 -2.2,0M122.25,525.32a1.1,1.1 0 1,0 2.2,0a1.1,1.1 0 1,0 -2.2,0M124.47,525.23a1.1,1.1 0 1,0 2.2,0a1.1,1.1 0 1,0 -2.2,0M126.69,525.15a1.1,1.1 0 1,0 2.2,0a1.1,1.1 0 1,0 -2.2,0M128.90,525.06a1.1,1.1 0 1,0 2.2,0a1.1,1.1 0 1,0 -2.2,0M131.12,524.98a1.1,1.1 0 1,0 2.2,0a1.1,1.1 0 1,0 -2.2,0M133.33,524.91a1.1,1.1 0 1,0 2.2,0a1.1,1.1 0 1,0 -2.2,0M135.54,524.83a1.1,1.1 0 1,0 2.2,0a1.1,1.1 0 1,0 -2.2,0M137.76,524.76a1.1,1.1 0 1,0 2.2,0a1.1,1.1 0 1,0 -2.2,0M139.97,524.69a1.1,1.1 0 1,0 2.2,0a1.1,1.1 0 1,0 -2.2,0M142.19,524.62a1.1,1.1 0 1,0 2.2,0a1.1,1.1 0 1,0 -2.2,0M144.41,524.56a1.1,1.1 0 1,0 2.2,0a1.1,1.1 0 1,0 -2.2,0M146.62,524.50a1.1,1.1 0 1,0 2.2,0a1.1,1.1 0 1,0 -2.2,0M148.84,524.45a1.1,1.1 0 1,0 2.2,0a1.1,1.1 0 1,0 -2.2,0M151.05,524.40a1.1,1.1 0 1,0 2.2,0a1.1,1.1 0 1,0 -2.2,0M153.27,524.35a1.1,1.1 0 1,0 2.2,0a1.1,1.1 0 1,0 -2.2,0M155.48,524.31a1.1,1.1 0 1,0 2.2,0a1.1,1.1 0 1,0 -2.2,0M157.70,524.27a1.1,1.1 0 1,0 2.2,0a1.1,1.1 0 1,0 -2.2,0M159.91,524.24a1.1,1.1 0 1,0 2.2,0a1.1,1.1 0 1,0 -2.2,0M162.12,524.21a1.1,1.1 0 1,0 2.2,0a1.1,1.1 0 1,0 -2.2,0M164.34,524.18a1.1,1.1 0 1,0 2.2,0a1.1,1.1 0 1,0 -2.2,0M166.56,524.16a1.1,1.1 0 1,0 2.2,0a1.1,1.1 0 1,0 -2.2,0M168.77,524.15a1.1,1.1 0 1,0 2.2,0a1.1,1.1 0 1,0 -2.2,0M170.99,524.14a1.1,1.1 0 1,0 2.2,0a1.1,1.1 0 1,0 -2.2,0M173.20,524.14a1.1,1.1 0 1,0 2.2,0a1.1,1.1 0 1,0 -2.2,0" fill="#7e7bb5"/>
<polyline points="41.40,550.50 42.51,550.50 43.62,550.50 44.72,550.50 45.83,550.50 46.94,550.50 48.05,549.49 49.15,545.69 50.26,542.48 51.37,539.54 52.47,536.99 53.58,535.44 54.69,534.84 55.80,534.33 56.91,533.85 58.01,533.38 59.12,532.94 60.23,532.52 61.34,532.13 62.44,531.76 63.55,531.41 64.66,531.08 65.77,530.78 66.87,530.50 67.98,530.25 69.09,530.01 70.19,529.78 71.30,529.56 72.41,529.35 73.52,529.15 74.62,528.96 75.73,528.78 76.84,528.60 77.95,528.43 79.06,528.27 80.16,528.11 81.27,527.96 82.38,527.82 83.48,527.68 84.59,527.54 85.70,527.41 86.81,527.29 87.91,527.17 89.02,527.05 90.13,526.93 91.24,526.81 92.34,526.70 93.45,526.59 94.56,526.48 95.67,526.37 96.78,526.27 97.88,526.17 98.99,526.07 100.10,525.98 101.20,525.88 102.31,525.80 103.42,525.71 104.53,525.64 105.63,525.56 106.74,525.49 107.85,525.42 108.96,525.36 110.06,525.31 111.17,525.26 112.28,525.21 113.39,525.16 114.50,525.11 115.60,525.06 116.71,525.01 117.82,524.96 118.93,524.91 120.03,524.86 121.14,524.81 122.25,524.76 123.35,524.72 124.46,524.67 125.57,524.62 126.68,524.58 127.78,524.53 128.89,524.49 130.00,524.45 131.11,524.40 132.22,524.36 133.32,524.32 134.43,524.28 135.54,524.24 136.64,524.20 137.75,524.16 138.86,524.12 139.97,524.08 141.07,524.05 142.18,524.01 143.29,523.98 144.40,523.94 145.50,523.91 146.61,523.88 147.72,523.85 148.83,523.82 149.94,523.79 151.04,523.76 152.15,523.74 153.26,523.71 154.37,523.69 155.47,523.66 156.58,523.64 157.69,523.62 158.80,523.60 159.90,523.58 161.01,523.56 162.12,523.55 163.22,523.53 164.33,523.52 165.44,523.51 166.55,523.50 167.66,523.49 168.76,523.48 169.87,523.47 170.98,523.47 172.09,523.46 173.19,523.46 174.30,523.46" fill="none" stroke="#1a1a6a" stroke-width="1.5" stroke-linejoin="round"/>
<path d="M40.30,550.50a1.1,1.1 0 1,0 2.2,0a1.1,1.1 0 1,0 -2.2,0M42.52,550.50a1.1,1.1 0 1,0 2.2,0a1.1,1.1 0 1,0 -2.2,0M44.73,550.50a1.1,1.1 0 1,0 2.2,0a1.1,1.1 0 1,0 -2.2,0M46.95,549.49a1.1,1.1 0 1,0 2.2,0a1.1,1.1 0 1,0 -2.2,0M49.16,542.48a1.1,1.1 0 1,0 2.2,0a1.1,1.1 0 1,0 -2.2,0M51.37,536.99a1.1,1.1 0 1,0 2.2,0a1.1,1.1 0 1,0 -2.2,0M53.59,534.84a1.1,1.1 0 1,0 2.2,0a1.1,1.1 0 1,0 -2.2,0M55.80,533.85a1.1,1.1 0 1,0 2.2,0a1.1,1.1 0 1,0 -2.2,0M58.02,532.94a1.1,1.1 0 1,0 2.2,0a1.1,1.1 0 1,0 -2.2,0M60.23,532.13a1.1,1.1 0 1,0 2.2,0a1.1,1.1 0 1,0 -2.2,0M62.45,531.41a1.1,1.1 0 1,0 2.2,0a1.1,1.1 0 1,0 -2.2,0M64.67,530.78a1.1,1.1 0 1,0 2.2,0a1.1,1.1 0 1,0 -2.2,0M66.88,530.25a1.1,1.1 0 1,0 2.2,0a1.1,1.1 0 1,0 -2.2,0M69.09,529.78a1.1,1.1 0 1,0 2.2,0a1.1,1.1 0 1,0 -2.2,0M71.31,529.35a1.1,1.1 0 1,0 2.2,0a1.1,1.1 0 1,0 -2.2,0M73.53,528.96a1.1,1.1 0 1,0 2.2,0a1.1,1.1 0 1,0 -2.2,0M75.74,528.60a1.1,1.1 0 1,0 2.2,0a1.1,1.1 0 1,0 -2.2,0M77.96,528.27a1.1,1.1 0 1,0 2.2,0a1.1,1.1 0 1,0 -2.2,0M80.17,527.96a1.1,1.1 0 1,0 2.2,0a1.1,1.1 0 1,0 -2.2,0M82.39,527.68a1.1,1.1 0 1,0 2.2,0a1.1,1.1 0 1,0 -2.2,0M84.60,527.41a1.1,1.1 0 1,0 2.2,0a1.1,1.1 0 1,0 -2.2,0M86.81,527.17a1.1,1.1 0 1,0 2.2,0a1.1,1.1 0 1,0 -2.2,0M89.03,526.93a1.1,1.1 0 1,0 2.2,0a1.1,1.1 0 1,0 -2.2,0M91.25,526.70a1.1,1.1 0 1,0 2.2,0a1.1,1.1 0 1,0 -2.2,0M93.46,526.48a1.1,1.1 0 1,0 2.2,0a1.1,1.1 0 1,0 -2.2,0M95.68,526.27a1.1,1.1 0 1,0 2.2,0a1.1,1.1 0 1,0 -2.2,0M97.89,526.07a1.1,1.1 0 1,0 2.2,0a1.1,1.1 0 1,0 -2.2,0M100.11,525.88a1.1,1.1 0 1,0 2.2,0a1.1,1.1 0 1,0 -2.2,0M102.32,525.71a1.1,1.1 0 1,0 2.2,0a1.1,1.1 0 1,0 -2.2,0M104.53,525.56a1.1,1.1 0 1,0 2.2,0a1.1,1.1 0 1,0 -2.2,0M106.75,525.42a1.1,1.1 0 1,0 2.2,0a1.1,1.1 0 1,0 -2.2,0M108.97,525.31a1.1,1.1 0 1,0 2.2,0a1.1,1.1 0 1,0 -2.2,0M111.18,525.21a1.1,1.1 0 1,0 2.2,0a1.1,1.1 0 1,0 -2.2,0M113.40,525.11a1.1,1.1 0 1,0 2.2,0a1.1,1.1 0 1,0 -2.2,0M115.61,525.01a1.1,1.1 0 1,0 2.2,0a1.1,1.1 0 1,0 -2.2,0M117.83,524.91a1.1,1.1 0 1,0 2.2,0a1.1,1.1 0 1,0 -2.2,0M120.04,524.81a1.1,1.1 0 1,0 2.2,0a1.1,1.1 0 1,0 -2.2,0M122.25,524.72a1.1,1.1 0 1,0 2.2,0a1.1,1.1 0 1,0 -2.2,0M124.47,524.62a1.1,1.1 0 1,0 2.2,0a1.1,1.1 0 1,0 -2.2,0M126.69,524.53a1.1,1.1 0 1,0 2.2,0a1.1,1.1 0 1,0 -2.2,0M128.90,524.45a1.1,1.1 0 1,0 2.2,0a1.1,1.1 0 1,0 -2.2,0M131.12,524.36a1.1,1.1 0 1,0 2.2,0a1.1,1.1 0 1,0 -2.2,0M133.33,524.28a1.1,1.1 0 1,0 2.2,0a1.1,1.1 0 1,0 -2.2,0M135.54,524.20a1.1,1.1 0 1,0 2.2,0a1.1,1.1 0 1,0 -2.2,0M137.76,524.12a1.1,1.1 0 1,0 2.2,0a1.1,1.1 0 1,0 -2.2,0M139.97,524.05a1.1,1.1 0 1,0 2.2,0a1.1,1.1 0 1,0 -2.2,0M142.19,523.98a1.1,1.1 0 1,0 2.2,0a1.1,1.1 0 1,0 -2.2,0M144.41,523.91a1.1,1.1 0 1,0 2.2,0a1.1,1.1 0 1,0 -2.2,0M146.62,523.85a1.1,1.1 0 1,0 2.2,0a1.1,1.1 0 1,0 -2.2,0M148.84,523.79a1.1,1.1 0 1,0 2.2,0a1.1,1.1 0 1,0 -2.2,0M151.05,523.74a1.1,1.1 0 1,0 2.2,0a1.1,1.1 0 1,0 -2.2,0M153.27,523.69a1.1,1.1 0 1,0 2.2,0a1.1,1.1 0 1,0 -2.2,0M155.48,523.64a1.1,1.1 0 1,0 2.2,0a1.1,1.1 0 1,0 -2.2,0M157.70,523.60a1.1,1.1 0 1,0 2.2,0a1.1,1.1 0 1,0 -2.2,0M159.91,523.56a1.1,1.1 0 1,0 2.2,0a1.1,1.1 0 1,0 -2.2,0M162.12,523.53a1.1,1.1 0 1,0 2.2,0a1.1,1.1 0 1,0 -2.2,0M164.34,523.51a1.1,1.1 0 1,0 2.2,0a1.1,1.1 0 1,0 -2.2,0M166.56,523.49a1.1,1.1 0 1,0 2.2,0a1.1,1.1 0 1,0 -2.2,0M168.77,523.47a1.1,1.1 0 1,0 2.2,0a1.1,1.1 0 1,0 -2.2,0M170.99,523.46a1.1,1.1 0 1,0 2.2,0a1.1,1.1 0 1,0 -2.2,0M173.20,523.46a1.1,1.1 0 1,0 2.2,0a1.1,1.1 0 1,0 -2.2,0" fill="#1a1a6a"/>
<polyline points="41.40,550.50 42.51,550.50 43.62,550.50 44.72,550.50 45.83,550.50 46.94,550.50 48.05,549.49 49.15,545.69 50.26,542.46 51.37,539.54 52.47,537.21 53.58,535.80 54.69,535.21 55.80,534.74 56.91,534.30 58.01,533.89 59.12,533.51 60.23,533.15 61.34,532.81 62.44,532.49 63.55,532.20 64.66,531.92 65.77,531.66 66.87,531.41 67.98,531.19 69.09,530.97 70.19,530.76 71.30,530.56 72.41,530.36 73.52,530.18 74.62,530.00 75.73,529.83 76.84,529.66 77.95,529.50 79.06,529.35 80.16,529.20 81.27,529.06 82.38,528.92 83.48,528.79 84.59,528.67 85.70,528.55 86.81,528.43 87.91,528.32 89.02,528.20 90.13,528.10 91.24,527.99 92.34,527.89 93.45,527.78 94.56,527.68 95.67,527.59 96.78,527.49 97.88,527.40 98.99,527.31 100.10,527.23 101.20,527.14 102.31,527.06 103.42,526.99 104.53,526.92 105.63,526.85 106.74,526.78 107.85,526.72 108.96,526.66 110.06,526.61 111.17,526.56 112.28,526.51 113.39,526.47 114.50,526.42 115.60,526.37 116.71,526.32 117.82,526.28 118.93,526.23 120.03,526.18 121.14,526.14 122.25,526.09 123.35,526.04 124.46,526.00 125.57,525.96 126.68,525.91 127.78,525.87 128.89,525.83 130.00,525.78 131.11,525.74 132.22,525.70 133.32,525.66 134.43,525.62 135.54,525.58 136.64,525.54 137.75,525.50 138.86,525.47 139.97,525.43 141.07,525.40 142.18,525.36 143.29,525.33 144.40,525.29 145.50,525.26 146.61,525.23 147.72,525.20 148.83,525.17 149.94,525.14 151.04,525.12 152.15,525.09 153.26,525.06 154.37,525.04 155.47,525.02 156.58,525.00 157.69,524.98 158.80,524.96 159.90,524.94 161.01,524.92 162.12,524.90 163.22,524.89 164.33,524.88 165.44,524.86 166.55,524.85 167.66,524.84 168.76,524.84 169.87,524.83 170.98,524.82 172.09,524.82 173.19,524.82 174.30,524.82" fill="none" stroke="#3f8030" stroke-width="1.5" stroke-linejoin="round"/>
<path d="M40.30,550.50a1.1,1.1 0 1,0 2.2,0a1.1,1.1 0 1,0 -2.2,0M42.52,550.50a1.1,1.1 0 1,0 2.2,0a1.1,1.1 0 1,0 -2.2,0M44.73,550.50a1.1,1.1 0 1,0 2.2,0a1.1,1.1 0 1,0 -2.2,0M46.95,549.49a1.1,1.1 0 1,0 2.2,0a1.1,1.1 0 1,0 -2.2,0M49.16,542.46a1.1,1.1 0 1,0 2.2,0a1.1,1.1 0 1,0 -2.2,0M51.37,537.21a1.1,1.1 0 1,0 2.2,0a1.1,1.1 0 1,0 -2.2,0M53.59,535.21a1.1,1.1 0 1,0 2.2,0a1.1,1.1 0 1,0 -2.2,0M55.80,534.30a1.1,1.1 0 1,0 2.2,0a1.1,1.1 0 1,0 -2.2,0M58.02,533.51a1.1,1.1 0 1,0 2.2,0a1.1,1.1 0 1,0 -2.2,0M60.23,532.81a1.1,1.1 0 1,0 2.2,0a1.1,1.1 0 1,0 -2.2,0M62.45,532.20a1.1,1.1 0 1,0 2.2,0a1.1,1.1 0 1,0 -2.2,0M64.67,531.66a1.1,1.1 0 1,0 2.2,0a1.1,1.1 0 1,0 -2.2,0M66.88,531.19a1.1,1.1 0 1,0 2.2,0a1.1,1.1 0 1,0 -2.2,0M69.09,530.76a1.1,1.1 0 1,0 2.2,0a1.1,1.1 0 1,0 -2.2,0M71.31,530.36a1.1,1.1 0 1,0 2.2,0a1.1,1.1 0 1,0 -2.2,0M73.53,530.00a1.1,1.1 0 1,0 2.2,0a1.1,1.1 0 1,0 -2.2,0M75.74,529.66a1.1,1.1 0 1,0 2.2,0a1.1,1.1 0 1,0 -2.2,0M77.96,529.35a1.1,1.1 0 1,0 2.2,0a1.1,1.1 0 1,0 -2.2,0M80.17,529.06a1.1,1.1 0 1,0 2.2,0a1.1,1.1 0 1,0 -2.2,0M82.39,528.79a1.1,1.1 0 1,0 2.2,0a1.1,1.1 0 1,0 -2.2,0M84.60,528.55a1.1,1.1 0 1,0 2.2,0a1.1,1.1 0 1,0 -2.2,0M86.81,528.32a1.1,1.1 0 1,0 2.2,0a1.1,1.1 0 1,0 -2.2,0M89.03,528.10a1.1,1.1 0 1,0 2.2,0a1.1,1.1 0 1,0 -2.2,0M91.25,527.89a1.1,1.1 0 1,0 2.2,0a1.1,1.1 0 1,0 -2.2,0M93.46,527.68a1.1,1.1 0 1,0 2.2,0a1.1,1.1 0 1,0 -2.2,0M95.68,527.49a1.1,1.1 0 1,0 2.2,0a1.1,1.1 0 1,0 -2.2,0M97.89,527.31a1.1,1.1 0 1,0 2.2,0a1.1,1.1 0 1,0 -2.2,0M100.11,527.14a1.1,1.1 0 1,0 2.2,0a1.1,1.1 0 1,0 -2.2,0M102.32,526.99a1.1,1.1 0 1,0 2.2,0a1.1,1.1 0 1,0 -2.2,0M104.53,526.85a1.1,1.1 0 1,0 2.2,0a1.1,1.1 0 1,0 -2.2,0M106.75,526.72a1.1,1.1 0 1,0 2.2,0a1.1,1.1 0 1,0 -2.2,0M108.97,526.61a1.1,1.1 0 1,0 2.2,0a1.1,1.1 0 1,0 -2.2,0M111.18,526.51a1.1,1.1 0 1,0 2.2,0a1.1,1.1 0 1,0 -2.2,0M113.40,526.42a1.1,1.1 0 1,0 2.2,0a1.1,1.1 0 1,0 -2.2,0M115.61,526.32a1.1,1.1 0 1,0 2.2,0a1.1,1.1 0 1,0 -2.2,0M117.83,526.23a1.1,1.1 0 1,0 2.2,0a1.1,1.1 0 1,0 -2.2,0M120.04,526.14a1.1,1.1 0 1,0 2.2,0a1.1,1.1 0 1,0 -2.2,0M122.25,526.04a1.1,1.1 0 1,0 2.2,0a1.1,1.1 0 1,0 -2.2,0M124.47,525.96a1.1,1.1 0 1,0 2.2,0a1.1,1.1 0 1,0 -2.2,0M126.69,525.87a1.1,1.1 0 1,0 2.2,0a1.1,1.1 0 1,0 -2.2,0M128.90,525.78a1.1,1.1 0 1,0 2.2,0a1.1,1.1 0 1,0 -2.2,0M131.12,525.70a1.1,1.1 0 1,0 2.2,0a1.1,1.1 0 1,0 -2.2,0M133.33,525.62a1.1,1.1 0 1,0 2.2,0a1.1,1.1 0 1,0 -2.2,0M135.54,525.54a1.1,1.1 0 1,0 2.2,0a1.1,1.1 0 1,0 -2.2,0M137.76,525.47a1.1,1.1 0 1,0 2.2,0a1.1,1.1 0 1,0 -2.2,0M139.97,525.40a1.1,1.1 0 1,0 2.2,0a1.1,1.1 0 1,0 -2.2,0M142.19,525.33a1.1,1.1 0 1,0 2.2,0a1.1,1.1 0 1,0 -2.2,0M144.41,525.26a1.1,1.1 0 1,0 2.2,0a1.1,1.1 0 1,0 -2.2,0M146.62,525.20a1.1,1.1 0 1,0 2.2,0a1.1,1.1 0 1,0 -2.2,0M148.84,525.14a1.1,1.1 0 1,0 2.2,0a1.1,1.1 0 1,0 -2.2,0M151.05,525.09a1.1,1.1 0 1,0 2.2,0a1.1,1.1 0 1,0 -2.2,0M153.27,525.04a1.1,1.1 0 1,0 2.2,0a1.1,1.1 0 1,0 -2.2,0M155.48,525.00a1.1,1.1 0 1,0 2.2,0a1.1,1.1 0 1,0 -2.2,0M157.70,524.96a1.1,1.1 0 1,0 2.2,0a1.1,1.1 0 1,0 -2.2,0M159.91,524.92a1.1,1.1 0 1,0 2.2,0a1.1,1.1 0 1,0 -2.2,0M162.12,524.89a1.1,1.1 0 1,0 2.2,0a1.1,1.1 0 1,0 -2.2,0M164.34,524.86a1.1,1.1 0 1,0 2.2,0a1.1,1.1 0 1,0 -2.2,0M166.56,524.84a1.1,1.1 0 1,0 2.2,0a1.1,1.1 0 1,0 -2.2,0M168.77,524.83a1.1,1.1 0 1,0 2.2,0a1.1,1.1 0 1,0 -2.2,0M170.99,524.82a1.1,1.1 0 1,0 2.2,0a1.1,1.1 0 1,0 -2.2,0M173.20,524.82a1.1,1.1 0 1,0 2.2,0a1.1,1.1 0 1,0 -2.2,0" fill="#3f8030"/>
<polyline points="41.40,550.50 42.51,550.50 43.62,550.50 44.72,550.50 45.83,550.50 46.94,550.50 48.05,549.49 49.15,545.69 50.26,542.39 51.37,539.54 52.47,537.69 53.58,536.55 54.69,535.99 55.80,535.56 56.91,535.17 58.01,534.80 59.12,534.45 60.23,534.13 61.34,533.83 62.44,533.55 63.55,533.30 64.66,533.06 65.77,532.83 66.87,532.63 67.98,532.44 69.09,532.26 70.19,532.09 71.30,531.93 72.41,531.77 73.52,531.62 74.62,531.48 75.73,531.34 76.84,531.21 77.95,531.09 79.06,530.97 80.16,530.85 81.27,530.74 82.38,530.63 83.48,530.53 84.59,530.43 85.70,530.33 86.81,530.24 87.91,530.14 89.02,530.05 90.13,529.96 91.24,529.87 92.34,529.78 93.45,529.70 94.56,529.61 95.67,529.53 96.78,529.45 97.88,529.37 98.99,529.30 100.10,529.23 101.20,529.16 102.31,529.09 103.42,529.02 104.53,528.96 105.63,528.90 106.74,528.85 107.85,528.79 108.96,528.74 110.06,528.70 111.17,528.65 112.28,528.61 113.39,528.57 114.50,528.53 115.60,528.49 116.71,528.45 117.82,528.40 118.93,528.36 120.03,528.32 121.14,528.28 122.25,528.24 123.35,528.20 124.46,528.16 125.57,528.12 126.68,528.08 127.78,528.05 128.89,528.01 130.00,527.97 131.11,527.93 132.22,527.90 133.32,527.86 134.43,527.83 135.54,527.79 136.64,527.76 137.75,527.72 138.86,527.69 139.97,527.66 141.07,527.63 142.18,527.60 143.29,527.57 144.40,527.54 145.50,527.51 146.61,527.48 147.72,527.46 148.83,527.43 149.94,527.40 151.04,527.38 152.15,527.36 153.26,527.33 154.37,527.31 155.47,527.29 156.58,527.27 157.69,527.26 158.80,527.24 159.90,527.22 161.01,527.21 162.12,527.19 163.22,527.18 164.33,527.17 165.44,527.16 166.55,527.15 167.66,527.14 168.76,527.13 169.87,527.13 170.98,527.12 172.09,527.12 173.19,527.12 174.30,527.11" fill="none" stroke="#f0dc50" stroke-width="1.5" stroke-linejoin="round"/>
<path d="M40.30,550.50a1.1,1.1 0 1,0 2.2,0a1.1,1.1 0 1,0 -2.2,0M42.52,550.50a1.1,1.1 0 1,0 2.2,0a1.1,1.1 0 1,0 -2.2,0M44.73,550.50a1.1,1.1 0 1,0 2.2,0a1.1,1.1 0 1,0 -2.2,0M46.95,549.49a1.1,1.1 0 1,0 2.2,0a1.1,1.1 0 1,0 -2.2,0M49.16,542.39a1.1,1.1 0 1,0 2.2,0a1.1,1.1 0 1,0 -2.2,0M51.37,537.69a1.1,1.1 0 1,0 2.2,0a1.1,1.1 0 1,0 -2.2,0M53.59,535.99a1.1,1.1 0 1,0 2.2,0a1.1,1.1 0 1,0 -2.2,0M55.80,535.17a1.1,1.1 0 1,0 2.2,0a1.1,1.1 0 1,0 -2.2,0M58.02,534.45a1.1,1.1 0 1,0 2.2,0a1.1,1.1 0 1,0 -2.2,0M60.23,533.83a1.1,1.1 0 1,0 2.2,0a1.1,1.1 0 1,0 -2.2,0M62.45,533.30a1.1,1.1 0 1,0 2.2,0a1.1,1.1 0 1,0 -2.2,0M64.67,532.83a1.1,1.1 0 1,0 2.2,0a1.1,1.1 0 1,0 -2.2,0M66.88,532.44a1.1,1.1 0 1,0 2.2,0a1.1,1.1 0 1,0 -2.2,0M69.09,532.09a1.1,1.1 0 1,0 2.2,0a1.1,1.1 0 1,0 -2.2,0M71.31,531.77a1.1,1.1 0 1,0 2.2,0a1.1,1.1 0 1,0 -2.2,0M73.53,531.48a1.1,1.1 0 1,0 2.2,0a1.1,1.1 0 1,0 -2.2,0M75.74,531.21a1.1,1.1 0 1,0 2.2,0a1.1,1.1 0 1,0 -2.2,0M77.96,530.97a1.1,1.1 0 1,0 2.2,0a1.1,1.1 0 1,0 -2.2,0M80.17,530.74a1.1,1.1 0 1,0 2.2,0a1.1,1.1 0 1,0 -2.2,0M82.39,530.53a1.1,1.1 0 1,0 2.2,0a1.1,1.1 0 1,0 -2.2,0M84.60,530.33a1.1,1.1 0 1,0 2.2,0a1.1,1.1 0 1,0 -2.2,0M86.81,530.14a1.1,1.1 0 1,0 2.2,0a1.1,1.1 0 1,0 -2.2,0M89.03,529.96a1.1,1.1 0 1,0 2.2,0a1.1,1.1 0 1,0 -2.2,0M91.25,529.78a1.1,1.1 0 1,0 2.2,0a1.1,1.1 0 1,0 -2.2,0M93.46,529.61a1.1,1.1 0 1,0 2.2,0a1.1,1.1 0 1,0 -2.2,0M95.68,529.45a1.1,1.1 0 1,0 2.2,0a1.1,1.1 0 1,0 -2.2,0M97.89,529.30a1.1,1.1 0 1,0 2.2,0a1.1,1.1 0 1,0 -2.2,0M100.11,529.16a1.1,1.1 0 1,0 2.2,0a1.1,1.1 0 1,0 -2.2,0M102.32,529.02a1.1,1.1 0 1,0 2.2,0a1.1,1.1 0 1,0 -2.2,0M104.53,528.90a1.1,1.1 0 1,0 2.2,0a1.1,1.1 0 1,0 -2.2,0M106.75,528.79a1.1,1.1 0 1,0 2.2,0a1.1,1.1 0 1,0 -2.2,0M108.97,528.70a1.1,1.1 0 1,0 2.2,0a1.1,1.1 0 1,0 -2.2,0M111.18,528.61a1.1,1.1 0 1,0 2.2,0a1.1,1.1 0 1,0 -2.2,0M113.40,528.53a1.1,1.1 0 1,0 2.2,0a1.1,1.1 0 1,0 -2.2,0M115.61,528.45a1.1,1.1 0 1,0 2.2,0a1.1,1.1 0 1,0 -2.2,0M117.83,528.36a1.1,1.1 0 1,0 2.2,0a1.1,1.1 0 1,0 -2.2,0M120.04,528.28a1.1,1.1 0 1,0 2.2,0a1.1,1.1 0 1,0 -2.2,0M122.25,528.20a1.1,1.1 0 1,0 2.2,0a1.1,1.1 0 1,0 -2.2,0M124.47,528.12a1.1,1.1 0 1,0 2.2,0a1.1,1.1 0 1,0 -2.2,0M126.69,528.05a1.1,1.1 0 1,0 2.2,0a1.1,1.1 0 1,0 -2.2,0M128.90,527.97a1.1,1.1 0 1,0 2.2,0a1.1,1.1 0 1,0 -2.2,0M131.12,527.90a1.1,1.1 0 1,0 2.2,0a1.1,1.1 0 1,0 -2.2,0M133.33,527.83a1.1,1.1 0 1,0 2.2,0a1.1,1.1 0 1,0 -2.2,0M135.54,527.76a1.1,1.1 0 1,0 2.2,0a1.1,1.1 0 1,0 -2.2,0M137.76,527.69a1.1,1.1 0 1,0 2.2,0a1.1,1.1 0 1,0 -2.2,0M139.97,527.63a1.1,1.1 0 1,0 2.2,0a1.1,1.1 0 1,0 -2.2,0M142.19,527.57a1.1,1.1 0 1,0 2.2,0a1.1,1.1 0 1,0 -2.2,0M144.41,527.51a1.1,1.1 0 1,0 2.2,0a1.1,1.1 0 1,0 -2.2,0M146.62,527.46a1.1,1.1 0 1,0 2.2,0a1.1,1.1 0 1,0 -2.2,0M148.84,527.40a1.1,1.1 0 1,0 2.2,0a1.1,1.1 0 1,0 -2.2,0M151.05,527.36a1.1,1.1 0 1,0 2.2,0a1.1,1.1 0 1,0 -2.2,0M153.27,527.31a1.1,1.1 0 1,0 2.2,0a1.1,1.1 0 1,0 -2.2,0M155.48,527.27a1.1,1.1 0 1,0 2.2,0a1.1,1.1 0 1,0 -2.2,0M157.70,527.24a1.1,1.1 0 1,0 2.2,0a1.1,1.1 0 1,0 -2.2,0M159.91,527.21a1.1,1.1 0 1,0 2.2,0a1.1,1.1 0 1,0 -2.2,0M162.12,527.18a1.1,1.1 0 1,0 2.2,0a1.1,1.1 0 1,0 -2.2,0M164.34,527.16a1.1,1.1 0 1,0 2.2,0a1.1,1.1 0 1,0 -2.2,0M166.56,527.14a1.1,1.1 0 1,0 2.2,0a1.1,1.1 0 1,0 -2.2,0M168.77,527.13a1.1,1.1 0 1,0 2.2,0a1.1,1.1 0 1,0 -2.2,0M170.99,527.12a1.1,1.1 0 1,0 2.2,0a1.1,1.1 0 1,0 -2.2,0M173.20,527.11a1.1,1.1 0 1,0 2.2,0a1.1,1.1 0 1,0 -2.2,0" fill="#f0dc50"/>
<polyline points="41.40,550.50 42.51,550.50 43.62,550.50 44.72,550.50 45.83,550.50 46.94,550.50 48.05,549.49 49.15,545.69 50.26,542.31 51.37,539.54 52.47,538.21 53.58,537.37 54.69,536.82 55.80,536.43 56.91,536.06 58.01,535.71 59.12,535.39 60.23,535.10 61.34,534.82 62.44,534.56 63.55,534.33 64.66,534.11 65.77,533.90 66.87,533.71 67.98,533.53 69.09,533.37 70.19,533.21 71.30,533.06 72.41,532.91 73.52,532.77 74.62,532.64 75.73,532.51 76.84,532.39 77.95,532.27 79.06,532.16 80.16,532.06 81.27,531.95 82.38,531.85 83.48,531.75 84.59,531.66 85.70,531.57 86.81,531.48 87.91,531.39 89.02,531.31 90.13,531.23 91.24,531.14 92.34,531.06 93.45,530.98 94.56,530.90 95.67,530.83 96.78,530.75 97.88,530.68 98.99,530.61 100.10,530.54 101.20,530.48 102.31,530.42 103.42,530.36 104.53,530.30 105.63,530.24 106.74,530.19 107.85,530.14 108.96,530.10 110.06,530.05 111.17,530.01 112.28,529.97 113.39,529.94 114.50,529.90 115.60,529.86 116.71,529.82 117.82,529.78 118.93,529.74 120.03,529.70 121.14,529.67 122.25,529.63 123.35,529.59 124.46,529.55 125.57,529.52 126.68,529.48 127.78,529.45 128.89,529.41 130.00,529.38 131.11,529.34 132.22,529.31 133.32,529.27 134.43,529.24 135.54,529.21 136.64,529.18 137.75,529.15 138.86,529.12 139.97,529.09 141.07,529.06 142.18,529.03 143.29,529.00 144.40,528.97 145.50,528.95 146.61,528.92 147.72,528.90 148.83,528.87 149.94,528.85 151.04,528.82 152.15,528.80 153.26,528.78 154.37,528.76 155.47,528.74 156.58,528.72 157.69,528.71 158.80,528.69 159.90,528.68 161.01,528.66 162.12,528.65 163.22,528.64 164.33,528.62 165.44,528.61 166.55,528.61 167.66,528.60 168.76,528.59 169.87,528.59 170.98,528.58 172.09,528.58 173.19,528.58 174.30,528.58" fill="none" stroke="#cc8430" stroke-width="1.5" stroke-linejoin="round"/>
<path d="M40.30,550.50a1.1,1.1 0 1,0 2.2,0a1.1,1.1 0 1,0 -2.2,0M42.52,550.50a1.1,1.1 0 1,0 2.2,0a1.1,1.1 0 1,0 -2.2,0M44.73,550.50a1.1,1.1 0 1,0 2.2,0a1.1,1.1 0 1,0 -2.2,0M46.95,549.49a1.1,1.1 0 1,0 2.2,0a1.1,1.1 0 1,0 -2.2,0M49.16,542.31a1.1,1.1 0 1,0 2.2,0a1.1,1.1 0 1,0 -2.2,0M51.37,538.21a1.1,1.1 0 1,0 2.2,0a1.1,1.1 0 1,0 -2.2,0M53.59,536.82a1.1,1.1 0 1,0 2.2,0a1.1,1.1 0 1,0 -2.2,0M55.80,536.06a1.1,1.1 0 1,0 2.2,0a1.1,1.1 0 1,0 -2.2,0M58.02,535.39a1.1,1.1 0 1,0 2.2,0a1.1,1.1 0 1,0 -2.2,0M60.23,534.82a1.1,1.1 0 1,0 2.2,0a1.1,1.1 0 1,0 -2.2,0M62.45,534.33a1.1,1.1 0 1,0 2.2,0a1.1,1.1 0 1,0 -2.2,0M64.67,533.90a1.1,1.1 0 1,0 2.2,0a1.1,1.1 0 1,0 -2.2,0M66.88,533.53a1.1,1.1 0 1,0 2.2,0a1.1,1.1 0 1,0 -2.2,0M69.09,533.21a1.1,1.1 0 1,0 2.2,0a1.1,1.1 0 1,0 -2.2,0M71.31,532.91a1.1,1.1 0 1,0 2.2,0a1.1,1.1 0 1,0 -2.2,0M73.53,532.64a1.1,1.1 0 1,0 2.2,0a1.1,1.1 0 1,0 -2.2,0M75.74,532.39a1.1,1.1 0 1,0 2.2,0a1.1,1.1 0 1,0 -2.2,0M77.96,532.16a1.1,1.1 0 1,0 2.2,0a1.1,1.1 0 1,0 -2.2,0M80.17,531.95a1.1,1.1 0 1,0 2.2,0a1.1,1.1 0 1,0 -2.2,0M82.39,531.75a1.1,1.1 0 1,0 2.2,0a1.1,1.1 0 1,0 -2.2,0M84.60,531.57a1.1,1.1 0 1,0 2.2,0a1.1,1.1 0 1,0 -2.2,0M86.81,531.39a1.1,1.1 0 1,0 2.2,0a1.1,1.1 0 1,0 -2.2,0M89.03,531.23a1.1,1.1 0 1,0 2.2,0a1.1,1.1 0 1,0 -2.2,0M91.25,531.06a1.1,1.1 0 1,0 2.2,0a1.1,1.1 0 1,0 -2.2,0M93.46,530.90a1.1,1.1 0 1,0 2.2,0a1.1,1.1 0 1,0 -2.2,0M95.68,530.75a1.1,1.1 0 1,0 2.2,0a1.1,1.1 0 1,0 -2.2,0M97.89,530.61a1.1,1.1 0 1,0 2.2,0a1.1,1.1 0 1,0 -2.2,0M100.11,530.48a1.1,1.1 0 1,0 2.2,0a1.1,1.1 0 1,0 -2.2,0M102.32,530.36a1.1,1.1 0 1,0 2.2,0a1.1,1.1 0 1,0 -2.2,0M104.53,530.24a1.1,1.1 0 1,0 2.2,0a1.1,1.1 0 1,0 -2.2,0M106.75,530.14a1.1,1.1 0 1,0 2.2,0a1.1,1.1 0 1,0 -2.2,0M108.97,530.05a1.1,1.1 0 1,0 2.2,0a1.1,1.1 0 1,0 -2.2,0M111.18,529.97a1.1,1.1 0 1,0 2.2,0a1.1,1.1 0 1,0 -2.2,0M113.40,529.90a1.1,1.1 0 1,0 2.2,0a1.1,1.1 0 1,0 -2.2,0M115.61,529.82a1.1,1.1 0 1,0 2.2,0a1.1,1.1 0 1,0 -2.2,0M117.83,529.74a1.1,1.1 0 1,0 2.2,0a1.1,1.1 0 1,0 -2.2,0M120.04,529.67a1.1,1.1 0 1,0 2.2,0a1.1,1.1 0 1,0 -2.2,0M122.25,529.59a1.1,1.1 0 1,0 2.2,0a1.1,1.1 0 1,0 -2.2,0M124.47,529.52a1.1,1.1 0 1,0 2.2,0a1.1,1.1 0 1,0 -2.2,0M126.69,529.45a1.1,1.1 0 1,0 2.2,0a1.1,1.1 0 1,0 -2.2,0M128.90,529.38a1.1,1.1 0 1,0 2.2,0a1.1,1.1 0 1,0 -2.2,0M131.12,529.31a1.1,1.1 0 1,0 2.2,0a1.1,1.1 0 1,0 -2.2,0M133.33,529.24a1.1,1.1 0 1,0 2.2,0a1.1,1.1 0 1,0 -2.2,0M135.54,529.18a1.1,1.1 0 1,0 2.2,0a1.1,1.1 0 1,0 -2.2,0M137.76,529.12a1.1,1.1 0 1,0 2.2,0a1.1,1.1 0 1,0 -2.2,0M139.97,529.06a1.1,1.1 0 1,0 2.2,0a1.1,1.1 0 1,0 -2.2,0M142.19,529.00a1.1,1.1 0 1,0 2.2,0a1.1,1.1 0 1,0 -2.2,0M144.41,528.95a1.1,1.1 0 1,0 2.2,0a1.1,1.1 0 1,0 -2.2,0M146.62,528.90a1.1,1.1 0 1,0 2.2,0a1.1,1.1 0 1,0 -2.2,0M148.84,528.85a1.1,1.1 0 1,0 2.2,0a1.1,1.1 0 1,0 -2.2,0M151.05,528.80a1.1,1.1 0 1,0 2.2,0a1.1,1.1 0 1,0 -2.2,0M153.27,528.76a1.1,1.1 0 1,0 2.2,0a1.1,1.1 0 1,0 -2.2,0M155.48,528.72a1.1,1.1 0 1,0 2.2,0a1.1,1.1 0 1,0 -2.2,0M157.70,528.69a1.1,1.1 0 1,0 2.2,0a1.1,1.1 0 1,0 -2.2,0M159.91,528.66a1.1,1.1 0 1,0 2.2,0a1.1,1.1 0 1,0 -2.2,0M162.12,528.64a1.1,1.1 0 1,0 2.2,0a1.1,1.1 0 1,0 -2.2,0M164.34,528.61a1.1,1.1 0 1,0 2.2,0a1.1,1.1 0 1,0 -2.2,0M166.56,528.60a1.1,1.1 0 1,0 2.2,0a1.1,1.1 0 1,0 -2.2,0M168.77,528.59a1.1,1.1 0 1,0 2.2,0a1.1,1.1 0 1,0 -2.2,0M170.99,528.58a1.1,1.1 0 1,0 2.2,0a1.1,1.1 0 1,0 -2.2,0M173.20,528.58a1.1,1.1 0 1,0 2.2,0a1.1,1.1 0 1,0 -2.2,0" fill="#cc8430"/>
<polyline points="41.40,550.50 42.51,550.50 43.62,550.50 44.72,550.50 45.83,550.50 46.94,550.50 48.05,549.49 49.15,545.69 50.26,542.20 51.37,539.54 52.47,538.78 53.58,538.23 54.69,537.71 55.80,537.34 56.91,536.99 58.01,536.66 59.12,536.35 60.23,536.07 61.34,535.80 62.44,535.55 63.55,535.33 64.66,535.11 65.77,534.92 66.87,534.74 67.98,534.58 69.09,534.43 70.19,534.28 71.30,534.14 72.41,534.01 73.52,533.88 74.62,533.75 75.73,533.64 76.84,533.53 77.95,533.42 79.06,533.32 80.16,533.22 81.27,533.13 82.38,533.04 83.48,532.95 84.59,532.87 85.70,532.79 86.81,532.72 87.91,532.65 89.02,532.58 90.13,532.51 91.24,532.45 92.34,532.38 93.45,532.32 94.56,532.26 95.67,532.20 96.78,532.14 97.88,532.09 98.99,532.03 100.10,531.98 101.20,531.93 102.31,531.89 103.42,531.84 104.53,531.80 105.63,531.76 106.74,531.72 107.85,531.68 108.96,531.65 110.06,531.62 111.17,531.59 112.28,531.56 113.39,531.53 114.50,531.50 115.60,531.47 116.71,531.44 117.82,531.41 118.93,531.38 120.03,531.35 121.14,531.32 122.25,531.29 123.35,531.27 124.46,531.24 125.57,531.21 126.68,531.18 127.78,531.16 128.89,531.13 130.00,531.11 131.11,531.08 132.22,531.05 133.32,531.03 134.43,531.00 135.54,530.98 136.64,530.96 137.75,530.93 138.86,530.91 139.97,530.89 141.07,530.87 142.18,530.84 143.29,530.82 144.40,530.80 145.50,530.78 146.61,530.76 147.72,530.75 148.83,530.73 149.94,530.71 151.04,530.69 152.15,530.68 153.26,530.66 154.37,530.65 155.47,530.63 156.58,530.62 157.69,530.61 158.80,530.59 159.90,530.58 161.01,530.57 162.12,530.56 163.22,530.55 164.33,530.54 165.44,530.54 166.55,530.53 167.66,530.52 168.76,530.52 169.87,530.51 170.98,530.51 172.09,530.51 173.19,530.51 174.30,530.51" fill="none" stroke="#a0121a" stroke-width="1.5" stroke-linejoin="round"/>
<path d="M40.30,550.50a1.1,1.1 0 1,0 2.2,0a1.1,1.1 0 1,0 -2.2,0M42.52,550.50a1.1,1.1 0 1,0 2.2,0a1.1,1.1 0 1,0 -2.2,0M44.73,550.50a1.1,1.1 0 1,0 2.2,0a1.1,1.1 0 1,0 -2.2,0M46.95,549.49a1.1,1.1 0 1,0 2.2,0a1.1,1.1 0 1,0 -2.2,0M49.16,542.20a1.1,1.1 0 1,0 2.2,0a1.1,1.1 0 1,0 -2.2,0M51.37,538.78a1.1,1.1 0 1,0 2.2,0a1.1,1.1 0 1,0 -2.2,0M53.59,537.71a1.1,1.1 0 1,0 2.2,0a1.1,1.1 0 1,0 -2.2,0M55.80,536.99a1.1,1.1 0 1,0 2.2,0a1.1,1.1 0 1,0 -2.2,0M58.02,536.35a1.1,1.1 0 1,0 2.2,0a1.1,1.1 0 1,0 -2.2,0M60.23,535.80a1.1,1.1 0 1,0 2.2,0a1.1,1.1 0 1,0 -2.2,0M62.45,535.33a1.1,1.1 0 1,0 2.2,0a1.1,1.1 0 1,0 -2.2,0M64.67,534.92a1.1,1.1 0 1,0 2.2,0a1.1,1.1 0 1,0 -2.2,0M66.88,534.58a1.1,1.1 0 1,0 2.2,0a1.1,1.1 0 1,0 -2.2,0M69.09,534.28a1.1,1.1 0 1,0 2.2,0a1.1,1.1 0 1,0 -2.2,0M71.31,534.01a1.1,1.1 0 1,0 2.2,0a1.1,1.1 0 1,0 -2.2,0M73.53,533.75a1.1,1.1 0 1,0 2.2,0a1.1,1.1 0 1,0 -2.2,0M75.74,533.53a1.1,1.1 0 1,0 2.2,0a1.1,1.1 0 1,0 -2.2,0M77.96,533.32a1.1,1.1 0 1,0 2.2,0a1.1,1.1 0 1,0 -2.2,0M80.17,533.13a1.1,1.1 0 1,0 2.2,0a1.1,1.1 0 1,0 -2.2,0M82.39,532.95a1.1,1.1 0 1,0 2.2,0a1.1,1.1 0 1,0 -2.2,0M84.60,532.79a1.1,1.1 0 1,0 2.2,0a1.1,1.1 0 1,0 -2.2,0M86.81,532.65a1.1,1.1 0 1,0 2.2,0a1.1,1.1 0 1,0 -2.2,0M89.03,532.51a1.1,1.1 0 1,0 2.2,0a1.1,1.1 0 1,0 -2.2,0M91.25,532.38a1.1,1.1 0 1,0 2.2,0a1.1,1.1 0 1,0 -2.2,0M93.46,532.26a1.1,1.1 0 1,0 2.2,0a1.1,1.1 0 1,0 -2.2,0M95.68,532.14a1.1,1.1 0 1,0 2.2,0a1.1,1.1 0 1,0 -2.2,0M97.89,532.03a1.1,1.1 0 1,0 2.2,0a1.1,1.1 0 1,0 -2.2,0M100.11,531.93a1.1,1.1 0 1,0 2.2,0a1.1,1.1 0 1,0 -2.2,0M102.32,531.84a1.1,1.1 0 1,0 2.2,0a1.1,1.1 0 1,0 -2.2,0M104.53,531.76a1.1,1.1 0 1,0 2.2,0a1.1,1.1 0 1,0 -2.2,0M106.75,531.68a1.1,1.1 0 1,0 2.2,0a1.1,1.1 0 1,0 -2.2,0M108.97,531.62a1.1,1.1 0 1,0 2.2,0a1.1,1.1 0 1,0 -2.2,0M111.18,531.56a1.1,1.1 0 1,0 2.2,0a1.1,1.1 0 1,0 -2.2,0M113.40,531.50a1.1,1.1 0 1,0 2.2,0a1.1,1.1 0 1,0 -2.2,0M115.61,531.44a1.1,1.1 0 1,0 2.2,0a1.1,1.1 0 1,0 -2.2,0M117.83,531.38a1.1,1.1 0 1,0 2.2,0a1.1,1.1 0 1,0 -2.2,0M120.04,531.32a1.1,1.1 0 1,0 2.2,0a1.1,1.1 0 1,0 -2.2,0M122.25,531.27a1.1,1.1 0 1,0 2.2,0a1.1,1.1 0 1,0 -2.2,0M124.47,531.21a1.1,1.1 0 1,0 2.2,0a1.1,1.1 0 1,0 -2.2,0M126.69,531.16a1.1,1.1 0 1,0 2.2,0a1.1,1.1 0 1,0 -2.2,0M128.90,531.11a1.1,1.1 0 1,0 2.2,0a1.1,1.1 0 1,0 -2.2,0M131.12,531.05a1.1,1.1 0 1,0 2.2,0a1.1,1.1 0 1,0 -2.2,0M133.33,531.00a1.1,1.1 0 1,0 2.2,0a1.1,1.1 0 1,0 -2.2,0M135.54,530.96a1.1,1.1 0 1,0 2.2,0a1.1,1.1 0 1,0 -2.2,0M137.76,530.91a1.1,1.1 0 1,0 2.2,0a1.1,1.1 0 1,0 -2.2,0M139.97,530.87a1.1,1.1 0 1,0 2.2,0a1.1,1.1 0 1,0 -2.2,0M142.19,530.82a1.1,1.1 0 1,0 2.2,0a1.1,1.1 0 1,0 -2.2,0M144.41,530.78a1.1,1.1 0 1,0 2.2,0a1.1,1.1 0 1,0 -2.2,0M146.62,530.75a1.1,1.1 0 1,0 2.2,0a1.1,1.1 0 1,0 -2.2,0M148.84,530.71a1.1,1.1 0 1,0 2.2,0a1.1,1.1 0 1,0 -2.2,0M151.05,530.68a1.1,1.1 0 1,0 2.2,0a1.1,1.1 0 1,0 -2.2,0M153.27,530.65a1.1,1.1 0 1,0 2.2,0a1.1,1.1 0 1,0 -2.2,0M155.48,530.62a1.1,1.1 0 1,0 2.2,0a1.1,1.1 0 1,0 -2.2,0M157.70,530.59a1.1,1.1 0 1,0 2.2,0a1.1,1.1 0 1,0 -2.2,0M159.91,530.57a1.1,1.1 0 1,0 2.2,0a1.1,1.1 0 1,0 -2.2,0M162.12,530.55a1.1,1.1 0 1,0 2.2,0a1.1,1.1 0 1,0 -2.2,0M164.34,530.54a1.1,1.1 0 1,0 2.2,0a1.1,1.1 0 1,0 -2.2,0M166.56,530.52a1.1,1.1 0 1,0 2.2,0a1.1,1.1 0 1,0 -2.2,0M168.77,530.51a1.1,1.1 0 1,0 2.2,0a1.1,1.1 0 1,0 -2.2,0M170.99,530.51a1.1,1.1 0 1,0 2.2,0a1.1,1.1 0 1,0 -2.2,0M173.20,530.51a1.1,1.1 0 1,0 2.2,0a1.1,1.1 0 1,0 -2.2,0" fill="#a0121a"/>
<line x1="245.40" y1="459.20" x2="245.40" y2="552.50" stroke="#000" stroke-width="1.25"/>
<line x1="242.00" y1="550.40" x2="245.40" y2="550.40" stroke="#333" stroke-width="1.1"/>
<text x="239.00" y="552.90" font-size="7.1" text-anchor="end" fill="#222" textLength="12.75" lengthAdjust="spacingAndGlyphs">0.00</text>
<line x1="242.00" y1="521.00" x2="245.40" y2="521.00" stroke="#333" stroke-width="1.1"/>
<text x="239.00" y="523.50" font-size="7.1" text-anchor="end" fill="#222" textLength="12.75" lengthAdjust="spacingAndGlyphs">0.02</text>
<line x1="242.00" y1="491.60" x2="245.40" y2="491.60" stroke="#333" stroke-width="1.1"/>
<text x="239.00" y="494.10" font-size="7.1" text-anchor="end" fill="#222" textLength="12.75" lengthAdjust="spacingAndGlyphs">0.04</text>
<line x1="242.00" y1="462.20" x2="245.40" y2="462.20" stroke="#333" stroke-width="1.1"/>
<text x="239.00" y="464.70" font-size="7.1" text-anchor="end" fill="#222" textLength="12.75" lengthAdjust="spacingAndGlyphs">0.06</text>
<line x1="245.40" y1="550.40" x2="381.40" y2="550.40" stroke="#000" stroke-width="1.2"/>
<line x1="245.40" y1="550.40" x2="245.40" y2="553.60" stroke="#111" stroke-width="1"/>
<text x="245.40" y="562.40" font-size="7.1" text-anchor="middle" fill="#222">0</text>
<line x1="249.83" y1="550.40" x2="249.83" y2="552.00" stroke="#222" stroke-width="0.8"/>
<line x1="254.27" y1="550.40" x2="254.27" y2="552.00" stroke="#222" stroke-width="0.8"/>
<line x1="258.70" y1="550.40" x2="258.70" y2="552.00" stroke="#222" stroke-width="0.8"/>
<line x1="263.13" y1="550.40" x2="263.13" y2="552.00" stroke="#222" stroke-width="0.8"/>
<line x1="267.57" y1="550.40" x2="267.57" y2="552.00" stroke="#222" stroke-width="0.8"/>
<line x1="272.00" y1="550.40" x2="272.00" y2="552.00" stroke="#222" stroke-width="0.8"/>
<line x1="276.43" y1="550.40" x2="276.43" y2="552.00" stroke="#222" stroke-width="0.8"/>
<line x1="280.87" y1="550.40" x2="280.87" y2="552.00" stroke="#222" stroke-width="0.8"/>
<line x1="285.30" y1="550.40" x2="285.30" y2="552.00" stroke="#222" stroke-width="0.8"/>
<line x1="289.73" y1="550.40" x2="289.73" y2="553.60" stroke="#111" stroke-width="1"/>
<text x="289.73" y="562.40" font-size="7.1" text-anchor="middle" fill="#222">10</text>
<line x1="294.17" y1="550.40" x2="294.17" y2="552.00" stroke="#222" stroke-width="0.8"/>
<line x1="298.60" y1="550.40" x2="298.60" y2="552.00" stroke="#222" stroke-width="0.8"/>
<line x1="303.03" y1="550.40" x2="303.03" y2="552.00" stroke="#222" stroke-width="0.8"/>
<line x1="307.47" y1="550.40" x2="307.47" y2="552.00" stroke="#222" stroke-width="0.8"/>
<line x1="311.90" y1="550.40" x2="311.90" y2="552.00" stroke="#222" stroke-width="0.8"/>
<line x1="316.33" y1="550.40" x2="316.33" y2="552.00" stroke="#222" stroke-width="0.8"/>
<line x1="320.77" y1="550.40" x2="320.77" y2="552.00" stroke="#222" stroke-width="0.8"/>
<line x1="325.20" y1="550.40" x2="325.20" y2="552.00" stroke="#222" stroke-width="0.8"/>
<line x1="329.63" y1="550.40" x2="329.63" y2="552.00" stroke="#222" stroke-width="0.8"/>
<line x1="334.07" y1="550.40" x2="334.07" y2="553.60" stroke="#111" stroke-width="1"/>
<text x="334.07" y="562.40" font-size="7.1" text-anchor="middle" fill="#222">20</text>
<line x1="338.50" y1="550.40" x2="338.50" y2="552.00" stroke="#222" stroke-width="0.8"/>
<line x1="342.93" y1="550.40" x2="342.93" y2="552.00" stroke="#222" stroke-width="0.8"/>
<line x1="347.37" y1="550.40" x2="347.37" y2="552.00" stroke="#222" stroke-width="0.8"/>
<line x1="351.80" y1="550.40" x2="351.80" y2="552.00" stroke="#222" stroke-width="0.8"/>
<line x1="356.23" y1="550.40" x2="356.23" y2="552.00" stroke="#222" stroke-width="0.8"/>
<line x1="360.67" y1="550.40" x2="360.67" y2="552.00" stroke="#222" stroke-width="0.8"/>
<line x1="365.10" y1="550.40" x2="365.10" y2="552.00" stroke="#222" stroke-width="0.8"/>
<line x1="369.53" y1="550.40" x2="369.53" y2="552.00" stroke="#222" stroke-width="0.8"/>
<line x1="373.97" y1="550.40" x2="373.97" y2="552.00" stroke="#222" stroke-width="0.8"/>
<line x1="378.40" y1="550.40" x2="378.40" y2="553.60" stroke="#111" stroke-width="1"/>
<text x="378.40" y="562.40" font-size="7.1" text-anchor="middle" fill="#222">30</text>
<text class="bt" x="313.50" y="573.70" font-size="7.8" text-anchor="middle" fill="#222" textLength="33.2" lengthAdjust="spacingAndGlyphs">Time (min)</text>
<text class="bt" transform="translate(219.00,542.00) rotate(-90)" font-size="8.9" fill="#222" textLength="49.3" lengthAdjust="spacingAndGlyphs">Fibrin formation</text>
<text class="bt" transform="translate(219.00,491.35) rotate(-90)" font-size="8.9" fill="#222" textLength="24.1" lengthAdjust="spacingAndGlyphs">(OD<tspan font-size="5.9" dy="1.5">405</tspan><tspan dy="-1.5">)</tspan></text>
<text transform="translate(211,452.9) scale(0.97,1)" font-size="12" font-weight="bold" fill="#000" style="stroke:#000;stroke-width:0.35px">H</text>
<polyline points="245.40,550.40 246.51,550.40 247.62,550.40 248.72,550.40 249.83,549.64 250.94,547.26 252.05,544.52 253.16,541.80 254.27,538.64 255.38,534.70 256.48,530.20 257.59,525.98 258.70,522.76 259.81,519.85 260.92,517.24 262.02,515.18 263.13,513.94 264.24,513.25 265.35,512.65 266.46,512.15 267.57,511.77 268.68,511.53 269.78,511.44 270.89,511.64 272.00,512.18 273.11,512.96 274.22,513.89 275.32,514.89 276.43,515.86 277.54,516.89 278.65,518.12 279.76,519.45 280.87,520.79 281.98,522.07 283.08,523.20 284.19,524.22 285.30,525.20 286.41,526.13 287.52,527.02 288.62,527.86 289.73,528.65 290.84,529.37 291.95,530.07 293.06,530.76 294.17,531.43 295.27,532.09 296.38,532.73 297.49,533.34 298.60,533.93 299.71,534.48 300.82,535.01 301.93,535.50 303.03,535.96 304.14,536.37 305.25,536.74 306.36,537.07 307.47,537.39 308.57,537.69 309.68,537.98 310.79,538.26 311.90,538.53 313.01,538.78 314.12,539.03 315.23,539.26 316.33,539.48 317.44,539.68 318.55,539.88 319.66,540.06 320.77,540.23 321.88,540.39 322.98,540.54 324.09,540.67 325.20,540.80 326.31,540.92 327.42,541.03 328.52,541.14 329.63,541.25 330.74,541.35 331.85,541.44 332.96,541.53 334.07,541.62 335.18,541.70 336.28,541.78 337.39,541.85 338.50,541.92 339.61,541.99 340.72,542.05 341.82,542.11 342.93,542.17 344.04,542.22 345.15,542.28 346.26,542.33 347.37,542.38 348.48,542.44 349.58,542.49 350.69,542.54 351.80,542.59 352.91,542.64 354.02,542.69 355.12,542.74 356.23,542.78 357.34,542.83 358.45,542.87 359.56,542.92 360.67,542.96 361.77,543.00 362.88,543.04 363.99,543.07 365.10,543.11 366.21,543.14 367.32,543.17 368.42,543.20 369.53,543.23 370.64,543.25 371.75,543.27 372.86,543.29 373.97,543.31 375.07,543.32 376.18,543.33 377.29,543.34 378.40,543.34" fill="none" stroke="#b0aed8" stroke-width="0.7" stroke-linejoin="round"/>
<path d="M244.35,550.40a1.05,1.05 0 1,0 2.1,0a1.05,1.05 0 1,0 -2.1,0M246.57,550.40a1.05,1.05 0 1,0 2.1,0a1.05,1.05 0 1,0 -2.1,0M248.78,549.64a1.05,1.05 0 1,0 2.1,0a1.05,1.05 0 1,0 -2.1,0M251.00,544.52a1.05,1.05 0 1,0 2.1,0a1.05,1.05 0 1,0 -2.1,0M253.22,538.64a1.05,1.05 0 1,0 2.1,0a1.05,1.05 0 1,0 -2.1,0M255.43,530.20a1.05,1.05 0 1,0 2.1,0a1.05,1.05 0 1,0 -2.1,0M257.65,522.76a1.05,1.05 0 1,0 2.1,0a1.05,1.05 0 1,0 -2.1,0M259.87,517.24a1.05,1.05 0 1,0 2.1,0a1.05,1.05 0 1,0 -2.1,0M262.08,513.94a1.05,1.05 0 1,0 2.1,0a1.05,1.05 0 1,0 -2.1,0M264.30,512.65a1.05,1.05 0 1,0 2.1,0a1.05,1.05 0 1,0 -2.1,0M266.52,511.77a1.05,1.05 0 1,0 2.1,0a1.05,1.05 0 1,0 -2.1,0M268.73,511.44a1.05,1.05 0 1,0 2.1,0a1.05,1.05 0 1,0 -2.1,0M270.95,512.18a1.05,1.05 0 1,0 2.1,0a1.05,1.05 0 1,0 -2.1,0M273.17,513.89a1.05,1.05 0 1,0 2.1,0a1.05,1.05 0 1,0 -2.1,0M275.38,515.86a1.05,1.05 0 1,0 2.1,0a1.05,1.05 0 1,0 -2.1,0M277.60,518.12a1.05,1.05 0 1,0 2.1,0a1.05,1.05 0 1,0 -2.1,0M279.82,520.79a1.05,1.05 0 1,0 2.1,0a1.05,1.05 0 1,0 -2.1,0M282.03,523.20a1.05,1.05 0 1,0 2.1,0a1.05,1.05 0 1,0 -2.1,0M284.25,525.20a1.05,1.05 0 1,0 2.1,0a1.05,1.05 0 1,0 -2.1,0M286.47,527.02a1.05,1.05 0 1,0 2.1,0a1.05,1.05 0 1,0 -2.1,0M288.68,528.65a1.05,1.05 0 1,0 2.1,0a1.05,1.05 0 1,0 -2.1,0M290.90,530.07a1.05,1.05 0 1,0 2.1,0a1.05,1.05 0 1,0 -2.1,0M293.12,531.43a1.05,1.05 0 1,0 2.1,0a1.05,1.05 0 1,0 -2.1,0M295.33,532.73a1.05,1.05 0 1,0 2.1,0a1.05,1.05 0 1,0 -2.1,0M297.55,533.93a1.05,1.05 0 1,0 2.1,0a1.05,1.05 0 1,0 -2.1,0M299.77,535.01a1.05,1.05 0 1,0 2.1,0a1.05,1.05 0 1,0 -2.1,0M301.98,535.96a1.05,1.05 0 1,0 2.1,0a1.05,1.05 0 1,0 -2.1,0M304.20,536.74a1.05,1.05 0 1,0 2.1,0a1.05,1.05 0 1,0 -2.1,0M306.42,537.39a1.05,1.05 0 1,0 2.1,0a1.05,1.05 0 1,0 -2.1,0M308.63,537.98a1.05,1.05 0 1,0 2.1,0a1.05,1.05 0 1,0 -2.1,0M310.85,538.53a1.05,1.05 0 1,0 2.1,0a1.05,1.05 0 1,0 -2.1,0M313.07,539.03a1.05,1.05 0 1,0 2.1,0a1.05,1.05 0 1,0 -2.1,0M315.28,539.48a1.05,1.05 0 1,0 2.1,0a1.05,1.05 0 1,0 -2.1,0M317.50,539.88a1.05,1.05 0 1,0 2.1,0a1.05,1.05 0 1,0 -2.1,0M319.72,540.23a1.05,1.05 0 1,0 2.1,0a1.05,1.05 0 1,0 -2.1,0M321.93,540.54a1.05,1.05 0 1,0 2.1,0a1.05,1.05 0 1,0 -2.1,0M324.15,540.80a1.05,1.05 0 1,0 2.1,0a1.05,1.05 0 1,0 -2.1,0M326.37,541.03a1.05,1.05 0 1,0 2.1,0a1.05,1.05 0 1,0 -2.1,0M328.58,541.25a1.05,1.05 0 1,0 2.1,0a1.05,1.05 0 1,0 -2.1,0M330.80,541.44a1.05,1.05 0 1,0 2.1,0a1.05,1.05 0 1,0 -2.1,0M333.02,541.62a1.05,1.05 0 1,0 2.1,0a1.05,1.05 0 1,0 -2.1,0M335.23,541.78a1.05,1.05 0 1,0 2.1,0a1.05,1.05 0 1,0 -2.1,0M337.45,541.92a1.05,1.05 0 1,0 2.1,0a1.05,1.05 0 1,0 -2.1,0M339.67,542.05a1.05,1.05 0 1,0 2.1,0a1.05,1.05 0 1,0 -2.1,0M341.88,542.17a1.05,1.05 0 1,0 2.1,0a1.05,1.05 0 1,0 -2.1,0M344.10,542.28a1.05,1.05 0 1,0 2.1,0a1.05,1.05 0 1,0 -2.1,0M346.32,542.38a1.05,1.05 0 1,0 2.1,0a1.05,1.05 0 1,0 -2.1,0M348.53,542.49a1.05,1.05 0 1,0 2.1,0a1.05,1.05 0 1,0 -2.1,0M350.75,542.59a1.05,1.05 0 1,0 2.1,0a1.05,1.05 0 1,0 -2.1,0M352.97,542.69a1.05,1.05 0 1,0 2.1,0a1.05,1.05 0 1,0 -2.1,0M355.18,542.78a1.05,1.05 0 1,0 2.1,0a1.05,1.05 0 1,0 -2.1,0M357.40,542.87a1.05,1.05 0 1,0 2.1,0a1.05,1.05 0 1,0 -2.1,0M359.62,542.96a1.05,1.05 0 1,0 2.1,0a1.05,1.05 0 1,0 -2.1,0M361.83,543.04a1.05,1.05 0 1,0 2.1,0a1.05,1.05 0 1,0 -2.1,0M364.05,543.11a1.05,1.05 0 1,0 2.1,0a1.05,1.05 0 1,0 -2.1,0M366.27,543.17a1.05,1.05 0 1,0 2.1,0a1.05,1.05 0 1,0 -2.1,0M368.48,543.23a1.05,1.05 0 1,0 2.1,0a1.05,1.05 0 1,0 -2.1,0M370.70,543.27a1.05,1.05 0 1,0 2.1,0a1.05,1.05 0 1,0 -2.1,0M372.92,543.31a1.05,1.05 0 1,0 2.1,0a1.05,1.05 0 1,0 -2.1,0M375.13,543.33a1.05,1.05 0 1,0 2.1,0a1.05,1.05 0 1,0 -2.1,0M377.35,543.34a1.05,1.05 0 1,0 2.1,0a1.05,1.05 0 1,0 -2.1,0" fill="#7e7bb5"/>
<polyline points="245.40,550.40 246.51,550.40 247.62,550.40 248.72,550.40 249.83,549.64 250.94,547.26 252.05,544.52 253.16,541.80 254.27,538.64 255.38,534.69 256.48,530.15 257.59,525.94 258.70,522.79 259.81,520.01 260.92,517.52 262.02,515.57 263.13,514.38 264.24,513.70 265.35,513.11 266.46,512.64 267.57,512.32 268.68,512.18 269.78,512.30 270.89,512.74 272.00,513.42 273.11,514.24 274.22,515.12 275.32,516.25 276.43,517.78 277.54,519.55 278.65,521.40 279.76,523.17 280.87,524.67 281.98,526.00 283.08,527.31 284.19,528.58 285.30,529.81 286.41,530.97 287.52,532.05 288.62,533.04 289.73,533.91 290.84,534.67 291.95,535.35 293.06,536.01 294.17,536.64 295.27,537.24 296.38,537.81 297.49,538.35 298.60,538.86 299.71,539.33 300.82,539.77 301.93,540.18 303.03,540.55 304.14,540.88 305.25,541.18 306.36,541.44 307.47,541.69 308.57,541.94 309.68,542.17 310.79,542.39 311.90,542.60 313.01,542.80 314.12,542.99 315.23,543.17 316.33,543.34 317.44,543.50 318.55,543.65 319.66,543.78 320.77,543.91 321.88,544.02 322.98,544.12 324.09,544.21 325.20,544.29 326.31,544.37 327.42,544.44 328.52,544.52 329.63,544.59 330.74,544.66 331.85,544.72 332.96,544.78 334.07,544.84 335.18,544.89 336.28,544.94 337.39,544.98 338.50,545.02 339.61,545.05 340.72,545.08 341.82,545.10 342.93,545.11 344.04,545.12 345.15,545.13 346.26,545.13 347.37,545.14 348.48,545.15 349.58,545.16 350.69,545.17 351.80,545.17 352.91,545.18 354.02,545.19 355.12,545.19 356.23,545.20 357.34,545.20 358.45,545.21 359.56,545.21 360.67,545.22 361.77,545.22 362.88,545.23 363.99,545.23 365.10,545.23 366.21,545.24 367.32,545.24 368.42,545.24 369.53,545.25 370.64,545.25 371.75,545.25 372.86,545.25 373.97,545.25 375.07,545.25 376.18,545.25 377.29,545.25 378.40,545.25" fill="none" stroke="#7070b8" stroke-width="0.7" stroke-linejoin="round"/>
<path d="M244.35,550.40a1.05,1.05 0 1,0 2.1,0a1.05,1.05 0 1,0 -2.1,0M246.57,550.40a1.05,1.05 0 1,0 2.1,0a1.05,1.05 0 1,0 -2.1,0M248.78,549.64a1.05,1.05 0 1,0 2.1,0a1.05,1.05 0 1,0 -2.1,0M251.00,544.52a1.05,1.05 0 1,0 2.1,0a1.05,1.05 0 1,0 -2.1,0M253.22,538.64a1.05,1.05 0 1,0 2.1,0a1.05,1.05 0 1,0 -2.1,0M255.43,530.15a1.05,1.05 0 1,0 2.1,0a1.05,1.05 0 1,0 -2.1,0M257.65,522.79a1.05,1.05 0 1,0 2.1,0a1.05,1.05 0 1,0 -2.1,0M259.87,517.52a1.05,1.05 0 1,0 2.1,0a1.05,1.05 0 1,0 -2.1,0M262.08,514.38a1.05,1.05 0 1,0 2.1,0a1.05,1.05 0 1,0 -2.1,0M264.30,513.11a1.05,1.05 0 1,0 2.1,0a1.05,1.05 0 1,0 -2.1,0M266.52,512.32a1.05,1.05 0 1,0 2.1,0a1.05,1.05 0 1,0 -2.1,0M268.73,512.30a1.05,1.05 0 1,0 2.1,0a1.05,1.05 0 1,0 -2.1,0M270.95,513.42a1.05,1.05 0 1,0 2.1,0a1.05,1.05 0 1,0 -2.1,0M273.17,515.12a1.05,1.05 0 1,0 2.1,0a1.05,1.05 0 1,0 -2.1,0M275.38,517.78a1.05,1.05 0 1,0 2.1,0a1.05,1.05 0 1,0 -2.1,0M277.60,521.40a1.05,1.05 0 1,0 2.1,0a1.05,1.05 0 1,0 -2.1,0M279.82,524.67a1.05,1.05 0 1,0 2.1,0a1.05,1.05 0 1,0 -2.1,0M282.03,527.31a1.05,1.05 0 1,0 2.1,0a1.05,1.05 0 1,0 -2.1,0M284.25,529.81a1.05,1.05 0 1,0 2.1,0a1.05,1.05 0 1,0 -2.1,0M286.47,532.05a1.05,1.05 0 1,0 2.1,0a1.05,1.05 0 1,0 -2.1,0M288.68,533.91a1.05,1.05 0 1,0 2.1,0a1.05,1.05 0 1,0 -2.1,0M290.90,535.35a1.05,1.05 0 1,0 2.1,0a1.05,1.05 0 1,0 -2.1,0M293.12,536.64a1.05,1.05 0 1,0 2.1,0a1.05,1.05 0 1,0 -2.1,0M295.33,537.81a1.05,1.05 0 1,0 2.1,0a1.05,1.05 0 1,0 -2.1,0M297.55,538.86a1.05,1.05 0 1,0 2.1,0a1.05,1.05 0 1,0 -2.1,0M299.77,539.77a1.05,1.05 0 1,0 2.1,0a1.05,1.05 0 1,0 -2.1,0M301.98,540.55a1.05,1.05 0 1,0 2.1,0a1.05,1.05 0 1,0 -2.1,0M304.20,541.18a1.05,1.05 0 1,0 2.1,0a1.05,1.05 0 1,0 -2.1,0M306.42,541.69a1.05,1.05 0 1,0 2.1,0a1.05,1.05 0 1,0 -2.1,0M308.63,542.17a1.05,1.05 0 1,0 2.1,0a1.05,1.05 0 1,0 -2.1,0M310.85,542.60a1.05,1.05 0 1,0 2.1,0a1.05,1.05 0 1,0 -2.1,0M313.07,542.99a1.05,1.05 0 1,0 2.1,0a1.05,1.05 0 1,0 -2.1,0M315.28,543.34a1.05,1.05 0 1,0 2.1,0a1.05,1.05 0 1,0 -2.1,0M317.50,543.65a1.05,1.05 0 1,0 2.1,0a1.05,1.05 0 1,0 -2.1,0M319.72,543.91a1.05,1.05 0 1,0 2.1,0a1.05,1.05 0 1,0 -2.1,0M321.93,544.12a1.05,1.05 0 1,0 2.1,0a1.05,1.05 0 1,0 -2.1,0M324.15,544.29a1.05,1.05 0 1,0 2.1,0a1.05,1.05 0 1,0 -2.1,0M326.37,544.44a1.05,1.05 0 1,0 2.1,0a1.05,1.05 0 1,0 -2.1,0M328.58,544.59a1.05,1.05 0 1,0 2.1,0a1.05,1.05 0 1,0 -2.1,0M330.80,544.72a1.05,1.05 0 1,0 2.1,0a1.05,1.05 0 1,0 -2.1,0M333.02,544.84a1.05,1.05 0 1,0 2.1,0a1.05,1.05 0 1,0 -2.1,0M335.23,544.94a1.05,1.05 0 1,0 2.1,0a1.05,1.05 0 1,0 -2.1,0M337.45,545.02a1.05,1.05 0 1,0 2.1,0a1.05,1.05 0 1,0 -2.1,0M339.67,545.08a1.05,1.05 0 1,0 2.1,0a1.05,1.05 0 1,0 -2.1,0M341.88,545.11a1.05,1.05 0 1,0 2.1,0a1.05,1.05 0 1,0 -2.1,0M344.10,545.13a1.05,1.05 0 1,0 2.1,0a1.05,1.05 0 1,0 -2.1,0M346.32,545.14a1.05,1.05 0 1,0 2.1,0a1.05,1.05 0 1,0 -2.1,0M348.53,545.16a1.05,1.05 0 1,0 2.1,0a1.05,1.05 0 1,0 -2.1,0M350.75,545.17a1.05,1.05 0 1,0 2.1,0a1.05,1.05 0 1,0 -2.1,0M352.97,545.19a1.05,1.05 0 1,0 2.1,0a1.05,1.05 0 1,0 -2.1,0M355.18,545.20a1.05,1.05 0 1,0 2.1,0a1.05,1.05 0 1,0 -2.1,0M357.40,545.21a1.05,1.05 0 1,0 2.1,0a1.05,1.05 0 1,0 -2.1,0M359.62,545.22a1.05,1.05 0 1,0 2.1,0a1.05,1.05 0 1,0 -2.1,0M361.83,545.23a1.05,1.05 0 1,0 2.1,0a1.05,1.05 0 1,0 -2.1,0M364.05,545.23a1.05,1.05 0 1,0 2.1,0a1.05,1.05 0 1,0 -2.1,0M366.27,545.24a1.05,1.05 0 1,0 2.1,0a1.05,1.05 0 1,0 -2.1,0M368.48,545.25a1.05,1.05 0 1,0 2.1,0a1.05,1.05 0 1,0 -2.1,0M370.70,545.25a1.05,1.05 0 1,0 2.1,0a1.05,1.05 0 1,0 -2.1,0M372.92,545.25a1.05,1.05 0 1,0 2.1,0a1.05,1.05 0 1,0 -2.1,0M375.13,545.25a1.05,1.05 0 1,0 2.1,0a1.05,1.05 0 1,0 -2.1,0M377.35,545.25a1.05,1.05 0 1,0 2.1,0a1.05,1.05 0 1,0 -2.1,0" fill="#1a1a6a"/>
<polyline points="245.40,550.40 246.51,550.40 247.62,550.40 248.72,550.40 249.83,549.64 250.94,547.26 252.05,544.52 253.16,541.79 254.27,538.64 255.38,534.75 256.48,530.33 257.59,526.39 258.70,523.78 259.81,521.78 260.92,520.16 262.02,518.97 263.13,518.13 264.24,517.36 265.35,516.73 266.46,516.31 267.57,516.15 268.68,516.32 269.78,516.77 270.89,517.39 272.00,518.06 273.11,518.88 274.22,519.95 275.32,521.18 276.43,522.47 277.54,523.85 278.65,525.38 279.76,527.01 280.87,528.69 281.98,530.38 283.08,532.02 284.19,533.75 285.30,535.63 286.41,537.55 287.52,539.39 288.62,541.02 289.73,542.32 290.84,543.19 291.95,543.86 293.06,544.48 294.17,545.02 295.27,545.49 296.38,545.86 297.49,546.13 298.60,546.28 299.71,546.38 300.82,546.46 301.93,546.54 303.03,546.60 304.14,546.67 305.25,546.72 306.36,546.77 307.47,546.80 308.57,546.83 309.68,546.85 310.79,546.87 311.90,546.87 313.01,546.87 314.12,546.85 315.23,546.83 316.33,546.80 317.44,546.76 318.55,546.73 319.66,546.69 320.77,546.65 321.88,546.62 322.98,546.60 324.09,546.58 325.20,546.58 326.31,546.59 327.42,546.63 328.52,546.68 329.63,546.75 330.74,546.84 331.85,546.94 332.96,547.04 334.07,547.15 335.18,547.25 336.28,547.36 337.39,547.46 338.50,547.55 339.61,547.63 340.72,547.69 341.82,547.73 342.93,547.75 344.04,547.76 345.15,547.77 346.26,547.78 347.37,547.79 348.48,547.80 349.58,547.81 350.69,547.81 351.80,547.82 352.91,547.83 354.02,547.83 355.12,547.84 356.23,547.85 357.34,547.85 358.45,547.86 359.56,547.86 360.67,547.87 361.77,547.87 362.88,547.87 363.99,547.88 365.10,547.88 366.21,547.88 367.32,547.89 368.42,547.89 369.53,547.89 370.64,547.89 371.75,547.90 372.86,547.90 373.97,547.90 375.07,547.90 376.18,547.90 377.29,547.90 378.40,547.90" fill="none" stroke="#90c080" stroke-width="0.7" stroke-linejoin="round"/>
<path d="M244.35,550.40a1.05,1.05 0 1,0 2.1,0a1.05,1.05 0 1,0 -2.1,0M246.57,550.40a1.05,1.05 0 1,0 2.1,0a1.05,1.05 0 1,0 -2.1,0M248.78,549.64a1.05,1.05 0 1,0 2.1,0a1.05,1.05 0 1,0 -2.1,0M251.00,544.52a1.05,1.05 0 1,0 2.1,0a1.05,1.05 0 1,0 -2.1,0M253.22,538.64a1.05,1.05 0 1,0 2.1,0a1.05,1.05 0 1,0 -2.1,0M255.43,530.33a1.05,1.05 0 1,0 2.1,0a1.05,1.05 0 1,0 -2.1,0M257.65,523.78a1.05,1.05 0 1,0 2.1,0a1.05,1.05 0 1,0 -2.1,0M259.87,520.16a1.05,1.05 0 1,0 2.1,0a1.05,1.05 0 1,0 -2.1,0M262.08,518.13a1.05,1.05 0 1,0 2.1,0a1.05,1.05 0 1,0 -2.1,0M264.30,516.73a1.05,1.05 0 1,0 2.1,0a1.05,1.05 0 1,0 -2.1,0M266.52,516.15a1.05,1.05 0 1,0 2.1,0a1.05,1.05 0 1,0 -2.1,0M268.73,516.77a1.05,1.05 0 1,0 2.1,0a1.05,1.05 0 1,0 -2.1,0M270.95,518.06a1.05,1.05 0 1,0 2.1,0a1.05,1.05 0 1,0 -2.1,0M273.17,519.95a1.05,1.05 0 1,0 2.1,0a1.05,1.05 0 1,0 -2.1,0M275.38,522.47a1.05,1.05 0 1,0 2.1,0a1.05,1.05 0 1,0 -2.1,0M277.60,525.38a1.05,1.05 0 1,0 2.1,0a1.05,1.05 0 1,0 -2.1,0M279.82,528.69a1.05,1.05 0 1,0 2.1,0a1.05,1.05 0 1,0 -2.1,0M282.03,532.02a1.05,1.05 0 1,0 2.1,0a1.05,1.05 0 1,0 -2.1,0M284.25,535.63a1.05,1.05 0 1,0 2.1,0a1.05,1.05 0 1,0 -2.1,0M286.47,539.39a1.05,1.05 0 1,0 2.1,0a1.05,1.05 0 1,0 -2.1,0M288.68,542.32a1.05,1.05 0 1,0 2.1,0a1.05,1.05 0 1,0 -2.1,0M290.90,543.86a1.05,1.05 0 1,0 2.1,0a1.05,1.05 0 1,0 -2.1,0M293.12,545.02a1.05,1.05 0 1,0 2.1,0a1.05,1.05 0 1,0 -2.1,0M295.33,545.86a1.05,1.05 0 1,0 2.1,0a1.05,1.05 0 1,0 -2.1,0M297.55,546.28a1.05,1.05 0 1,0 2.1,0a1.05,1.05 0 1,0 -2.1,0M299.77,546.46a1.05,1.05 0 1,0 2.1,0a1.05,1.05 0 1,0 -2.1,0M301.98,546.60a1.05,1.05 0 1,0 2.1,0a1.05,1.05 0 1,0 -2.1,0M304.20,546.72a1.05,1.05 0 1,0 2.1,0a1.05,1.05 0 1,0 -2.1,0M306.42,546.80a1.05,1.05 0 1,0 2.1,0a1.05,1.05 0 1,0 -2.1,0M308.63,546.85a1.05,1.05 0 1,0 2.1,0a1.05,1.05 0 1,0 -2.1,0M310.85,546.87a1.05,1.05 0 1,0 2.1,0a1.05,1.05 0 1,0 -2.1,0M313.07,546.85a1.05,1.05 0 1,0 2.1,0a1.05,1.05 0 1,0 -2.1,0M315.28,546.80a1.05,1.05 0 1,0 2.1,0a1.05,1.05 0 1,0 -2.1,0M317.50,546.73a1.05,1.05 0 1,0 2.1,0a1.05,1.05 0 1,0 -2.1,0M319.72,546.65a1.05,1.05 0 1,0 2.1,0a1.05,1.05 0 1,0 -2.1,0M321.93,546.60a1.05,1.05 0 1,0 2.1,0a1.05,1.05 0 1,0 -2.1,0M324.15,546.58a1.05,1.05 0 1,0 2.1,0a1.05,1.05 0 1,0 -2.1,0M326.37,546.63a1.05,1.05 0 1,0 2.1,0a1.05,1.05 0 1,0 -2.1,0M328.58,546.75a1.05,1.05 0 1,0 2.1,0a1.05,1.05 0 1,0 -2.1,0M330.80,546.94a1.05,1.05 0 1,0 2.1,0a1.05,1.05 0 1,0 -2.1,0M333.02,547.15a1.05,1.05 0 1,0 2.1,0a1.05,1.05 0 1,0 -2.1,0M335.23,547.36a1.05,1.05 0 1,0 2.1,0a1.05,1.05 0 1,0 -2.1,0M337.45,547.55a1.05,1.05 0 1,0 2.1,0a1.05,1.05 0 1,0 -2.1,0M339.67,547.69a1.05,1.05 0 1,0 2.1,0a1.05,1.05 0 1,0 -2.1,0M341.88,547.75a1.05,1.05 0 1,0 2.1,0a1.05,1.05 0 1,0 -2.1,0M344.10,547.77a1.05,1.05 0 1,0 2.1,0a1.05,1.05 0 1,0 -2.1,0M346.32,547.79a1.05,1.05 0 1,0 2.1,0a1.05,1.05 0 1,0 -2.1,0M348.53,547.81a1.05,1.05 0 1,0 2.1,0a1.05,1.05 0 1,0 -2.1,0M350.75,547.82a1.05,1.05 0 1,0 2.1,0a1.05,1.05 0 1,0 -2.1,0M352.97,547.83a1.05,1.05 0 1,0 2.1,0a1.05,1.05 0 1,0 -2.1,0M355.18,547.85a1.05,1.05 0 1,0 2.1,0a1.05,1.05 0 1,0 -2.1,0M357.40,547.86a1.05,1.05 0 1,0 2.1,0a1.05,1.05 0 1,0 -2.1,0M359.62,547.87a1.05,1.05 0 1,0 2.1,0a1.05,1.05 0 1,0 -2.1,0M361.83,547.87a1.05,1.05 0 1,0 2.1,0a1.05,1.05 0 1,0 -2.1,0M364.05,547.88a1.05,1.05 0 1,0 2.1,0a1.05,1.05 0 1,0 -2.1,0M366.27,547.89a1.05,1.05 0 1,0 2.1,0a1.05,1.05 0 1,0 -2.1,0M368.48,547.89a1.05,1.05 0 1,0 2.1,0a1.05,1.05 0 1,0 -2.1,0M370.70,547.90a1.05,1.05 0 1,0 2.1,0a1.05,1.05 0 1,0 -2.1,0M372.92,547.90a1.05,1.05 0 1,0 2.1,0a1.05,1.05 0 1,0 -2.1,0M375.13,547.90a1.05,1.05 0 1,0 2.1,0a1.05,1.05 0 1,0 -2.1,0M377.35,547.90a1.05,1.05 0 1,0 2.1,0a1.05,1.05 0 1,0 -2.1,0" fill="#3f8030"/>
<polyline points="245.40,550.40 246.51,550.40 247.62,550.40 248.72,550.40 249.83,549.64 250.94,547.26 252.05,544.52 253.16,541.78 254.27,538.64 255.38,534.77 256.48,530.40 257.59,526.64 258.70,524.39 259.81,522.86 260.92,521.69 262.02,520.85 263.13,520.13 264.24,519.49 265.35,519.02 266.46,518.80 267.57,518.93 268.68,519.41 269.78,520.09 270.89,520.85 272.00,521.68 273.11,522.73 274.22,523.92 275.32,525.16 276.43,526.43 277.54,527.79 278.65,529.21 279.76,530.64 280.87,532.02 281.98,533.39 283.08,534.78 284.19,536.15 285.30,537.47 286.41,538.70 287.52,539.81 288.62,540.91 289.73,541.99 290.84,543.00 291.95,543.91 293.06,544.67 294.17,545.25 295.27,545.72 296.38,546.17 297.49,546.59 298.60,546.96 299.71,547.27 300.82,547.52 301.93,547.68 303.03,547.75 304.14,547.78 305.25,547.80 306.36,547.82 307.47,547.84 308.57,547.86 309.68,547.88 310.79,547.90 311.90,547.92 313.01,547.93 314.12,547.95 315.23,547.97 316.33,547.98 317.44,548.00 318.55,548.02 319.66,548.03 320.77,548.05 321.88,548.06 322.98,548.07 324.09,548.09 325.20,548.10 326.31,548.11 327.42,548.12 328.52,548.14 329.63,548.15 330.74,548.16 331.85,548.17 332.96,548.18 334.07,548.19 335.18,548.20 336.28,548.21 337.39,548.21 338.50,548.22 339.61,548.23 340.72,548.24 341.82,548.25 342.93,548.25 344.04,548.26 345.15,548.27 346.26,548.27 347.37,548.28 348.48,548.28 349.58,548.29 350.69,548.29 351.80,548.30 352.91,548.30 354.02,548.31 355.12,548.31 356.23,548.31 357.34,548.32 358.45,548.32 359.56,548.32 360.67,548.32 361.77,548.33 362.88,548.33 363.99,548.33 365.10,548.33 366.21,548.33 367.32,548.34 368.42,548.34 369.53,548.34 370.64,548.34 371.75,548.34 372.86,548.34 373.97,548.34 375.07,548.34 376.18,548.34 377.29,548.34 378.40,548.34" fill="none" stroke="#f8e890" stroke-width="0.7" stroke-linejoin="round"/>
<path d="M244.35,550.40a1.05,1.05 0 1,0 2.1,0a1.05,1.05 0 1,0 -2.1,0M246.57,550.40a1.05,1.05 0 1,0 2.1,0a1.05,1.05 0 1,0 -2.1,0M248.78,549.64a1.05,1.05 0 1,0 2.1,0a1.05,1.05 0 1,0 -2.1,0M251.00,544.52a1.05,1.05 0 1,0 2.1,0a1.05,1.05 0 1,0 -2.1,0M253.22,538.64a1.05,1.05 0 1,0 2.1,0a1.05,1.05 0 1,0 -2.1,0M255.43,530.40a1.05,1.05 0 1,0 2.1,0a1.05,1.05 0 1,0 -2.1,0M257.65,524.39a1.05,1.05 0 1,0 2.1,0a1.05,1.05 0 1,0 -2.1,0M259.87,521.69a1.05,1.05 0 1,0 2.1,0a1.05,1.05 0 1,0 -2.1,0M262.08,520.13a1.05,1.05 0 1,0 2.1,0a1.05,1.05 0 1,0 -2.1,0M264.30,519.02a1.05,1.05 0 1,0 2.1,0a1.05,1.05 0 1,0 -2.1,0M266.52,518.93a1.05,1.05 0 1,0 2.1,0a1.05,1.05 0 1,0 -2.1,0M268.73,520.09a1.05,1.05 0 1,0 2.1,0a1.05,1.05 0 1,0 -2.1,0M270.95,521.68a1.05,1.05 0 1,0 2.1,0a1.05,1.05 0 1,0 -2.1,0M273.17,523.92a1.05,1.05 0 1,0 2.1,0a1.05,1.05 0 1,0 -2.1,0M275.38,526.43a1.05,1.05 0 1,0 2.1,0a1.05,1.05 0 1,0 -2.1,0M277.60,529.21a1.05,1.05 0 1,0 2.1,0a1.05,1.05 0 1,0 -2.1,0M279.82,532.02a1.05,1.05 0 1,0 2.1,0a1.05,1.05 0 1,0 -2.1,0M282.03,534.78a1.05,1.05 0 1,0 2.1,0a1.05,1.05 0 1,0 -2.1,0M284.25,537.47a1.05,1.05 0 1,0 2.1,0a1.05,1.05 0 1,0 -2.1,0M286.47,539.81a1.05,1.05 0 1,0 2.1,0a1.05,1.05 0 1,0 -2.1,0M288.68,541.99a1.05,1.05 0 1,0 2.1,0a1.05,1.05 0 1,0 -2.1,0M290.90,543.91a1.05,1.05 0 1,0 2.1,0a1.05,1.05 0 1,0 -2.1,0M293.12,545.25a1.05,1.05 0 1,0 2.1,0a1.05,1.05 0 1,0 -2.1,0M295.33,546.17a1.05,1.05 0 1,0 2.1,0a1.05,1.05 0 1,0 -2.1,0M297.55,546.96a1.05,1.05 0 1,0 2.1,0a1.05,1.05 0 1,0 -2.1,0M299.77,547.52a1.05,1.05 0 1,0 2.1,0a1.05,1.05 0 1,0 -2.1,0M301.98,547.75a1.05,1.05 0 1,0 2.1,0a1.05,1.05 0 1,0 -2.1,0M304.20,547.80a1.05,1.05 0 1,0 2.1,0a1.05,1.05 0 1,0 -2.1,0M306.42,547.84a1.05,1.05 0 1,0 2.1,0a1.05,1.05 0 1,0 -2.1,0M308.63,547.88a1.05,1.05 0 1,0 2.1,0a1.05,1.05 0 1,0 -2.1,0M310.85,547.92a1.05,1.05 0 1,0 2.1,0a1.05,1.05 0 1,0 -2.1,0M313.07,547.95a1.05,1.05 0 1,0 2.1,0a1.05,1.05 0 1,0 -2.1,0M315.28,547.98a1.05,1.05 0 1,0 2.1,0a1.05,1.05 0 1,0 -2.1,0M317.50,548.02a1.05,1.05 0 1,0 2.1,0a1.05,1.05 0 1,0 -2.1,0M319.72,548.05a1.05,1.05 0 1,0 2.1,0a1.05,1.05 0 1,0 -2.1,0M321.93,548.07a1.05,1.05 0 1,0 2.1,0a1.05,1.05 0 1,0 -2.1,0M324.15,548.10a1.05,1.05 0 1,0 2.1,0a1.05,1.05 0 1,0 -2.1,0M326.37,548.12a1.05,1.05 0 1,0 2.1,0a1.05,1.05 0 1,0 -2.1,0M328.58,548.15a1.05,1.05 0 1,0 2.1,0a1.05,1.05 0 1,0 -2.1,0M330.80,548.17a1.05,1.05 0 1,0 2.1,0a1.05,1.05 0 1,0 -2.1,0M333.02,548.19a1.05,1.05 0 1,0 2.1,0a1.05,1.05 0 1,0 -2.1,0M335.23,548.21a1.05,1.05 0 1,0 2.1,0a1.05,1.05 0 1,0 -2.1,0M337.45,548.22a1.05,1.05 0 1,0 2.1,0a1.05,1.05 0 1,0 -2.1,0M339.67,548.24a1.05,1.05 0 1,0 2.1,0a1.05,1.05 0 1,0 -2.1,0M341.88,548.25a1.05,1.05 0 1,0 2.1,0a1.05,1.05 0 1,0 -2.1,0M344.10,548.27a1.05,1.05 0 1,0 2.1,0a1.05,1.05 0 1,0 -2.1,0M346.32,548.28a1.05,1.05 0 1,0 2.1,0a1.05,1.05 0 1,0 -2.1,0M348.53,548.29a1.05,1.05 0 1,0 2.1,0a1.05,1.05 0 1,0 -2.1,0M350.75,548.30a1.05,1.05 0 1,0 2.1,0a1.05,1.05 0 1,0 -2.1,0M352.97,548.31a1.05,1.05 0 1,0 2.1,0a1.05,1.05 0 1,0 -2.1,0M355.18,548.31a1.05,1.05 0 1,0 2.1,0a1.05,1.05 0 1,0 -2.1,0M357.40,548.32a1.05,1.05 0 1,0 2.1,0a1.05,1.05 0 1,0 -2.1,0M359.62,548.32a1.05,1.05 0 1,0 2.1,0a1.05,1.05 0 1,0 -2.1,0M361.83,548.33a1.05,1.05 0 1,0 2.1,0a1.05,1.05 0 1,0 -2.1,0M364.05,548.33a1.05,1.05 0 1,0 2.1,0a1.05,1.05 0 1,0 -2.1,0M366.27,548.34a1.05,1.05 0 1,0 2.1,0a1.05,1.05 0 1,0 -2.1,0M368.48,548.34a1.05,1.05 0 1,0 2.1,0a1.05,1.05 0 1,0 -2.1,0M370.70,548.34a1.05,1.05 0 1,0 2.1,0a1.05,1.05 0 1,0 -2.1,0M372.92,548.34a1.05,1.05 0 1,0 2.1,0a1.05,1.05 0 1,0 -2.1,0M375.13,548.34a1.05,1.05 0 1,0 2.1,0a1.05,1.05 0 1,0 -2.1,0M377.35,548.34a1.05,1.05 0 1,0 2.1,0a1.05,1.05 0 1,0 -2.1,0" fill="#f0dc50"/>
<polyline points="245.40,550.40 246.51,550.40 247.62,550.40 248.72,550.40 249.83,549.64 250.94,547.26 252.05,544.52 253.16,541.77 254.27,538.64 255.38,534.82 256.48,530.53 257.59,526.86 258.70,524.72 259.81,523.25 260.92,522.26 262.02,521.78 263.13,521.41 264.24,521.15 265.35,521.01 266.46,521.06 267.57,521.38 268.68,521.88 269.78,522.47 270.89,523.26 272.00,524.34 273.11,525.59 274.22,526.88 275.32,528.25 276.43,529.77 277.54,531.31 278.65,532.76 279.76,534.12 280.87,535.45 281.98,536.75 283.08,537.98 284.19,539.15 285.30,540.28 286.41,541.44 287.52,542.58 288.62,543.65 289.73,544.61 290.84,545.41 291.95,545.99 293.06,546.44 294.17,546.87 295.27,547.26 296.38,547.61 297.49,547.90 298.60,548.13 299.71,548.28 300.82,548.34 301.93,548.36 303.03,548.37 304.14,548.39 305.25,548.40 306.36,548.42 307.47,548.43 308.57,548.45 309.68,548.46 310.79,548.47 311.90,548.49 313.01,548.50 314.12,548.51 315.23,548.52 316.33,548.54 317.44,548.55 318.55,548.56 319.66,548.57 320.77,548.58 321.88,548.59 322.98,548.60 324.09,548.61 325.20,548.62 326.31,548.62 327.42,548.63 328.52,548.64 329.63,548.65 330.74,548.66 331.85,548.66 332.96,548.67 334.07,548.68 335.18,548.68 336.28,548.69 337.39,548.70 338.50,548.70 339.61,548.71 340.72,548.71 341.82,548.72 342.93,548.72 344.04,548.73 345.15,548.73 346.26,548.73 347.37,548.74 348.48,548.74 349.58,548.75 350.69,548.75 351.80,548.75 352.91,548.76 354.02,548.76 355.12,548.76 356.23,548.76 357.34,548.77 358.45,548.77 359.56,548.77 360.67,548.77 361.77,548.77 362.88,548.77 363.99,548.78 365.10,548.78 366.21,548.78 367.32,548.78 368.42,548.78 369.53,548.78 370.64,548.78 371.75,548.78 372.86,548.78 373.97,548.78 375.07,548.78 376.18,548.78 377.29,548.78 378.40,548.78" fill="none" stroke="#f0c088" stroke-width="0.7" stroke-linejoin="round"/>
<path d="M244.35,550.40a1.05,1.05 0 1,0 2.1,0a1.05,1.05 0 1,0 -2.1,0M246.57,550.40a1.05,1.05 0 1,0 2.1,0a1.05,1.05 0 1,0 -2.1,0M248.78,549.64a1.05,1.05 0 1,0 2.1,0a1.05,1.05 0 1,0 -2.1,0M251.00,544.52a1.05,1.05 0 1,0 2.1,0a1.05,1.05 0 1,0 -2.1,0M253.22,538.64a1.05,1.05 0 1,0 2.1,0a1.05,1.05 0 1,0 -2.1,0M255.43,530.53a1.05,1.05 0 1,0 2.1,0a1.05,1.05 0 1,0 -2.1,0M257.65,524.72a1.05,1.05 0 1,0 2.1,0a1.05,1.05 0 1,0 -2.1,0M259.87,522.26a1.05,1.05 0 1,0 2.1,0a1.05,1.05 0 1,0 -2.1,0M262.08,521.41a1.05,1.05 0 1,0 2.1,0a1.05,1.05 0 1,0 -2.1,0M264.30,521.01a1.05,1.05 0 1,0 2.1,0a1.05,1.05 0 1,0 -2.1,0M266.52,521.38a1.05,1.05 0 1,0 2.1,0a1.05,1.05 0 1,0 -2.1,0M268.73,522.47a1.05,1.05 0 1,0 2.1,0a1.05,1.05 0 1,0 -2.1,0M270.95,524.34a1.05,1.05 0 1,0 2.1,0a1.05,1.05 0 1,0 -2.1,0M273.17,526.88a1.05,1.05 0 1,0 2.1,0a1.05,1.05 0 1,0 -2.1,0M275.38,529.77a1.05,1.05 0 1,0 2.1,0a1.05,1.05 0 1,0 -2.1,0M277.60,532.76a1.05,1.05 0 1,0 2.1,0a1.05,1.05 0 1,0 -2.1,0M279.82,535.45a1.05,1.05 0 1,0 2.1,0a1.05,1.05 0 1,0 -2.1,0M282.03,537.98a1.05,1.05 0 1,0 2.1,0a1.05,1.05 0 1,0 -2.1,0M284.25,540.28a1.05,1.05 0 1,0 2.1,0a1.05,1.05 0 1,0 -2.1,0M286.47,542.58a1.05,1.05 0 1,0 2.1,0a1.05,1.05 0 1,0 -2.1,0M288.68,544.61a1.05,1.05 0 1,0 2.1,0a1.05,1.05 0 1,0 -2.1,0M290.90,545.99a1.05,1.05 0 1,0 2.1,0a1.05,1.05 0 1,0 -2.1,0M293.12,546.87a1.05,1.05 0 1,0 2.1,0a1.05,1.05 0 1,0 -2.1,0M295.33,547.61a1.05,1.05 0 1,0 2.1,0a1.05,1.05 0 1,0 -2.1,0M297.55,548.13a1.05,1.05 0 1,0 2.1,0a1.05,1.05 0 1,0 -2.1,0M299.77,548.34a1.05,1.05 0 1,0 2.1,0a1.05,1.05 0 1,0 -2.1,0M301.98,548.37a1.05,1.05 0 1,0 2.1,0a1.05,1.05 0 1,0 -2.1,0M304.20,548.40a1.05,1.05 0 1,0 2.1,0a1.05,1.05 0 1,0 -2.1,0M306.42,548.43a1.05,1.05 0 1,0 2.1,0a1.05,1.05 0 1,0 -2.1,0M308.63,548.46a1.05,1.05 0 1,0 2.1,0a1.05,1.05 0 1,0 -2.1,0M310.85,548.49a1.05,1.05 0 1,0 2.1,0a1.05,1.05 0 1,0 -2.1,0M313.07,548.51a1.05,1.05 0 1,0 2.1,0a1.05,1.05 0 1,0 -2.1,0M315.28,548.54a1.05,1.05 0 1,0 2.1,0a1.05,1.05 0 1,0 -2.1,0M317.50,548.56a1.05,1.05 0 1,0 2.1,0a1.05,1.05 0 1,0 -2.1,0M319.72,548.58a1.05,1.05 0 1,0 2.1,0a1.05,1.05 0 1,0 -2.1,0M321.93,548.60a1.05,1.05 0 1,0 2.1,0a1.05,1.05 0 1,0 -2.1,0M324.15,548.62a1.05,1.05 0 1,0 2.1,0a1.05,1.05 0 1,0 -2.1,0M326.37,548.63a1.05,1.05 0 1,0 2.1,0a1.05,1.05 0 1,0 -2.1,0M328.58,548.65a1.05,1.05 0 1,0 2.1,0a1.05,1.05 0 1,0 -2.1,0M330.80,548.66a1.05,1.05 0 1,0 2.1,0a1.05,1.05 0 1,0 -2.1,0M333.02,548.68a1.05,1.05 0 1,0 2.1,0a1.05,1.05 0 1,0 -2.1,0M335.23,548.69a1.05,1.05 0 1,0 2.1,0a1.05,1.05 0 1,0 -2.1,0M337.45,548.70a1.05,1.05 0 1,0 2.1,0a1.05,1.05 0 1,0 -2.1,0M339.67,548.71a1.05,1.05 0 1,0 2.1,0a1.05,1.05 0 1,0 -2.1,0M341.88,548.72a1.05,1.05 0 1,0 2.1,0a1.05,1.05 0 1,0 -2.1,0M344.10,548.73a1.05,1.05 0 1,0 2.1,0a1.05,1.05 0 1,0 -2.1,0M346.32,548.74a1.05,1.05 0 1,0 2.1,0a1.05,1.05 0 1,0 -2.1,0M348.53,548.75a1.05,1.05 0 1,0 2.1,0a1.05,1.05 0 1,0 -2.1,0M350.75,548.75a1.05,1.05 0 1,0 2.1,0a1.05,1.05 0 1,0 -2.1,0M352.97,548.76a1.05,1.05 0 1,0 2.1,0a1.05,1.05 0 1,0 -2.1,0M355.18,548.76a1.05,1.05 0 1,0 2.1,0a1.05,1.05 0 1,0 -2.1,0M357.40,548.77a1.05,1.05 0 1,0 2.1,0a1.05,1.05 0 1,0 -2.1,0M359.62,548.77a1.05,1.05 0 1,0 2.1,0a1.05,1.05 0 1,0 -2.1,0M361.83,548.77a1.05,1.05 0 1,0 2.1,0a1.05,1.05 0 1,0 -2.1,0M364.05,548.78a1.05,1.05 0 1,0 2.1,0a1.05,1.05 0 1,0 -2.1,0M366.27,548.78a1.05,1.05 0 1,0 2.1,0a1.05,1.05 0 1,0 -2.1,0M368.48,548.78a1.05,1.05 0 1,0 2.1,0a1.05,1.05 0 1,0 -2.1,0M370.70,548.78a1.05,1.05 0 1,0 2.1,0a1.05,1.05 0 1,0 -2.1,0M372.92,548.78a1.05,1.05 0 1,0 2.1,0a1.05,1.05 0 1,0 -2.1,0M375.13,548.78a1.05,1.05 0 1,0 2.1,0a1.05,1.05 0 1,0 -2.1,0M377.35,548.78a1.05,1.05 0 1,0 2.1,0a1.05,1.05 0 1,0 -2.1,0" fill="#cc8430"/>
<polyline points="245.40,550.40 246.51,550.40 247.62,550.40 248.72,550.40 249.83,549.64 250.94,547.26 252.05,544.52 253.16,541.75 254.27,538.64 255.38,534.95 256.48,530.87 257.59,527.45 258.70,525.55 259.81,524.32 260.92,523.65 262.02,523.36 263.13,523.15 264.24,523.06 265.35,523.16 266.46,523.49 267.57,523.94 268.68,524.57 269.78,525.47 270.89,526.52 272.00,527.62 273.11,528.78 274.22,530.08 275.32,531.43 276.43,532.76 277.54,534.07 278.65,535.42 279.76,536.75 280.87,538.05 281.98,539.28 283.08,540.41 284.19,541.56 285.30,542.71 286.41,543.82 287.52,544.85 288.62,545.74 289.73,546.46 290.84,546.95 291.95,547.35 293.06,547.72 294.17,548.04 295.27,548.32 296.38,548.54 297.49,548.70 298.60,548.78 299.71,548.83 300.82,548.87 301.93,548.91 303.03,548.94 304.14,548.98 305.25,549.00 306.36,549.02 307.47,549.04 308.57,549.06 309.68,549.07 310.79,549.07 311.90,549.08 313.01,549.08 314.12,549.08 315.23,549.08 316.33,549.08 317.44,549.08 318.55,549.08 319.66,549.08 320.77,549.08 321.88,549.08 322.98,549.08 324.09,549.08 325.20,549.08 326.31,549.08 327.42,549.08 328.52,549.08 329.63,549.08 330.74,549.08 331.85,549.08 332.96,549.08 334.07,549.08 335.18,549.08 336.28,549.08 337.39,549.08 338.50,549.08 339.61,549.08 340.72,549.08 341.82,549.08 342.93,549.08 344.04,549.08 345.15,549.08 346.26,549.08 347.37,549.08 348.48,549.08 349.58,549.08 350.69,549.08 351.80,549.08 352.91,549.08 354.02,549.08 355.12,549.08 356.23,549.08 357.34,549.08 358.45,549.08 359.56,549.08 360.67,549.08 361.77,549.08 362.88,549.08 363.99,549.08 365.10,549.08 366.21,549.08 367.32,549.08 368.42,549.08 369.53,549.08 370.64,549.08 371.75,549.08 372.86,549.08 373.97,549.08 375.07,549.08 376.18,549.08 377.29,549.08 378.40,549.08" fill="none" stroke="#e07070" stroke-width="0.7" stroke-linejoin="round"/>
<path d="M244.35,550.40a1.05,1.05 0 1,0 2.1,0a1.05,1.05 0 1,0 -2.1,0M246.57,550.40a1.05,1.05 0 1,0 2.1,0a1.05,1.05 0 1,0 -2.1,0M248.78,549.64a1.05,1.05 0 1,0 2.1,0a1.05,1.05 0 1,0 -2.1,0M251.00,544.52a1.05,1.05 0 1,0 2.1,0a1.05,1.05 0 1,0 -2.1,0M253.22,538.64a1.05,1.05 0 1,0 2.1,0a1.05,1.05 0 1,0 -2.1,0M255.43,530.87a1.05,1.05 0 1,0 2.1,0a1.05,1.05 0 1,0 -2.1,0M257.65,525.55a1.05,1.05 0 1,0 2.1,0a1.05,1.05 0 1,0 -2.1,0M259.87,523.65a1.05,1.05 0 1,0 2.1,0a1.05,1.05 0 1,0 -2.1,0M262.08,523.15a1.05,1.05 0 1,0 2.1,0a1.05,1.05 0 1,0 -2.1,0M264.30,523.16a1.05,1.05 0 1,0 2.1,0a1.05,1.05 0 1,0 -2.1,0M266.52,523.94a1.05,1.05 0 1,0 2.1,0a1.05,1.05 0 1,0 -2.1,0M268.73,525.47a1.05,1.05 0 1,0 2.1,0a1.05,1.05 0 1,0 -2.1,0M270.95,527.62a1.05,1.05 0 1,0 2.1,0a1.05,1.05 0 1,0 -2.1,0M273.17,530.08a1.05,1.05 0 1,0 2.1,0a1.05,1.05 0 1,0 -2.1,0M275.38,532.76a1.05,1.05 0 1,0 2.1,0a1.05,1.05 0 1,0 -2.1,0M277.60,535.42a1.05,1.05 0 1,0 2.1,0a1.05,1.05 0 1,0 -2.1,0M279.82,538.05a1.05,1.05 0 1,0 2.1,0a1.05,1.05 0 1,0 -2.1,0M282.03,540.41a1.05,1.05 0 1,0 2.1,0a1.05,1.05 0 1,0 -2.1,0M284.25,542.71a1.05,1.05 0 1,0 2.1,0a1.05,1.05 0 1,0 -2.1,0M286.47,544.85a1.05,1.05 0 1,0 2.1,0a1.05,1.05 0 1,0 -2.1,0M288.68,546.46a1.05,1.05 0 1,0 2.1,0a1.05,1.05 0 1,0 -2.1,0M290.90,547.35a1.05,1.05 0 1,0 2.1,0a1.05,1.05 0 1,0 -2.1,0M293.12,548.04a1.05,1.05 0 1,0 2.1,0a1.05,1.05 0 1,0 -2.1,0M295.33,548.54a1.05,1.05 0 1,0 2.1,0a1.05,1.05 0 1,0 -2.1,0M297.55,548.78a1.05,1.05 0 1,0 2.1,0a1.05,1.05 0 1,0 -2.1,0M299.77,548.87a1.05,1.05 0 1,0 2.1,0a1.05,1.05 0 1,0 -2.1,0M301.98,548.94a1.05,1.05 0 1,0 2.1,0a1.05,1.05 0 1,0 -2.1,0M304.20,549.00a1.05,1.05 0 1,0 2.1,0a1.05,1.05 0 1,0 -2.1,0M306.42,549.04a1.05,1.05 0 1,0 2.1,0a1.05,1.05 0 1,0 -2.1,0M308.63,549.07a1.05,1.05 0 1,0 2.1,0a1.05,1.05 0 1,0 -2.1,0M310.85,549.08a1.05,1.05 0 1,0 2.1,0a1.05,1.05 0 1,0 -2.1,0M313.07,549.08a1.05,1.05 0 1,0 2.1,0a1.05,1.05 0 1,0 -2.1,0M315.28,549.08a1.05,1.05 0 1,0 2.1,0a1.05,1.05 0 1,0 -2.1,0M317.50,549.08a1.05,1.05 0 1,0 2.1,0a1.05,1.05 0 1,0 -2.1,0M319.72,549.08a1.05,1.05 0 1,0 2.1,0a1.05,1.05 0 1,0 -2.1,0M321.93,549.08a1.05,1.05 0 1,0 2.1,0a1.05,1.05 0 1,0 -2.1,0M324.15,549.08a1.05,1.05 0 1,0 2.1,0a1.05,1.05 0 1,0 -2.1,0M326.37,549.08a1.05,1.05 0 1,0 2.1,0a1.05,1.05 0 1,0 -2.1,0M328.58,549.08a1.05,1.05 0 1,0 2.1,0a1.05,1.05 0 1,0 -2.1,0M330.80,549.08a1.05,1.05 0 1,0 2.1,0a1.05,1.05 0 1,0 -2.1,0M333.02,549.08a1.05,1.05 0 1,0 2.1,0a1.05,1.05 0 1,0 -2.1,0M335.23,549.08a1.05,1.05 0 1,0 2.1,0a1.05,1.05 0 1,0 -2.1,0M337.45,549.08a1.05,1.05 0 1,0 2.1,0a1.05,1.05 0 1,0 -2.1,0M339.67,549.08a1.05,1.05 0 1,0 2.1,0a1.05,1.05 0 1,0 -2.1,0M341.88,549.08a1.05,1.05 0 1,0 2.1,0a1.05,1.05 0 1,0 -2.1,0M344.10,549.08a1.05,1.05 0 1,0 2.1,0a1.05,1.05 0 1,0 -2.1,0M346.32,549.08a1.05,1.05 0 1,0 2.1,0a1.05,1.05 0 1,0 -2.1,0M348.53,549.08a1.05,1.05 0 1,0 2.1,0a1.05,1.05 0 1,0 -2.1,0M350.75,549.08a1.05,1.05 0 1,0 2.1,0a1.05,1.05 0 1,0 -2.1,0M352.97,549.08a1.05,1.05 0 1,0 2.1,0a1.05,1.05 0 1,0 -2.1,0M355.18,549.08a1.05,1.05 0 1,0 2.1,0a1.05,1.05 0 1,0 -2.1,0M357.40,549.08a1.05,1.05 0 1,0 2.1,0a1.05,1.05 0 1,0 -2.1,0M359.62,549.08a1.05,1.05 0 1,0 2.1,0a1.05,1.05 0 1,0 -2.1,0M361.83,549.08a1.05,1.05 0 1,0 2.1,0a1.05,1.05 0 1,0 -2.1,0M364.05,549.08a1.05,1.05 0 1,0 2.1,0a1.05,1.05 0 1,0 -2.1,0M366.27,549.08a1.05,1.05 0 1,0 2.1,0a1.05,1.05 0 1,0 -2.1,0M368.48,549.08a1.05,1.05 0 1,0 2.1,0a1.05,1.05 0 1,0 -2.1,0M370.70,549.08a1.05,1.05 0 1,0 2.1,0a1.05,1.05 0 1,0 -2.1,0M372.92,549.08a1.05,1.05 0 1,0 2.1,0a1.05,1.05 0 1,0 -2.1,0M375.13,549.08a1.05,1.05 0 1,0 2.1,0a1.05,1.05 0 1,0 -2.1,0M377.35,549.08a1.05,1.05 0 1,0 2.1,0a1.05,1.05 0 1,0 -2.1,0" fill="#a0121a"/>
<line x1="389.0" y1="42.0" x2="400.6" y2="42.0" stroke="#c07888" stroke-width="2.0"/>
<circle cx="395.0" cy="42.0" r="1.45" fill="#4a0818"/>
<text x="404.60" y="45.20" font-size="6.6" fill="#222" textLength="25.9" lengthAdjust="spacingAndGlyphs"><tspan font-style="italic">Fga</tspan><tspan font-size="4.3" dy="-3.4">WT/WT</tspan></text>
<line x1="389.0" y1="54.93" x2="400.6" y2="54.93" stroke="#6a6a98" stroke-width="2.0"/>
<circle cx="395.0" cy="54.93" r="1.45" fill="#0a0a40"/>
<text x="404.60" y="58.13" font-size="6.6" fill="#222" textLength="25.4" lengthAdjust="spacingAndGlyphs"><tspan font-style="italic">Fga</tspan><tspan font-size="4.3" dy="-3.4">WT/EK</tspan></text>
<line x1="389.0" y1="67.86" x2="400.6" y2="67.86" stroke="#90a888" stroke-width="2.0"/>
<circle cx="395.0" cy="67.86" r="1.45" fill="#3a5a30"/>
<text x="404.60" y="71.06" font-size="6.6" fill="#222" textLength="24.8" lengthAdjust="spacingAndGlyphs"><tspan font-style="italic">Fga</tspan><tspan font-size="4.3" dy="-3.4">EK/EK</tspan></text>
<line x1="389.0" y1="80.78999999999999" x2="400.6" y2="80.78999999999999" stroke="#e4b050" stroke-width="2.0"/>
<circle cx="395.0" cy="80.78999999999999" r="1.45" fill="#7a5a18"/>
<text x="404.60" y="83.99" font-size="6.6" fill="#222" textLength="19.5" lengthAdjust="spacingAndGlyphs"><tspan font-style="italic">Fga</tspan><tspan font-size="4.3" dy="-3.4">+/−</tspan></text>
<line x1="389.0" y1="93.72" x2="400.6" y2="93.72" stroke="#a0a0c0" stroke-width="2.0"/>
<circle cx="395.0" cy="93.72" r="1.45" fill="#5a5a98"/>
<text x="404.60" y="96.92" font-size="6.6" fill="#222" textLength="18.5" lengthAdjust="spacingAndGlyphs"><tspan font-style="italic">Fga</tspan><tspan font-size="4.3" dy="-3.4">−/−</tspan></text>
<line x1="389.0" y1="182.6" x2="400.6" y2="182.6" stroke="#b86878" stroke-width="2.0"/>
<circle cx="395.0" cy="182.6" r="1.45" fill="#4a0818"/>
<text x="404.60" y="185.80" font-size="6.6" fill="#222" textLength="44.4" lengthAdjust="spacingAndGlyphs">100% <tspan font-style="italic">Fga</tspan><tspan font-size="4.3" dy="-3.2">WT/WT</tspan></text>
<line x1="389.0" y1="195.4" x2="400.6" y2="195.4" stroke="#e0d890" stroke-width="2.0"/>
<circle cx="395.0" cy="195.4" r="1.45" fill="#a09040"/>
<text x="404.60" y="198.60" font-size="6.6" fill="#222" textLength="82.3" lengthAdjust="spacingAndGlyphs">75% <tspan font-style="italic">Fga</tspan><tspan font-size="4.3" dy="-3.2">WT/WT</tspan><tspan dy="3.2">/25% </tspan><tspan font-style="italic">Fga</tspan><tspan font-size="4.3" dy="-3.2">EK/EK</tspan></text>
<line x1="389.0" y1="208.3" x2="400.6" y2="208.3" stroke="#a0a0c0" stroke-width="2.0"/>
<circle cx="395.0" cy="208.3" r="1.45" fill="#6a6aa0"/>
<text x="404.60" y="211.50" font-size="6.6" fill="#222" textLength="82.3" lengthAdjust="spacingAndGlyphs">50% <tspan font-style="italic">Fga</tspan><tspan font-size="4.3" dy="-3.2">WT/WT</tspan><tspan dy="3.2">/50% </tspan><tspan font-style="italic">Fga</tspan><tspan font-size="4.3" dy="-3.2">EK/EK</tspan></text>
<line x1="389.0" y1="222.3" x2="400.6" y2="222.3" stroke="#6a6a98" stroke-width="2.0"/>
<circle cx="395.0" cy="222.3" r="1.45" fill="#0a0a40"/>
<text x="404.60" y="225.50" font-size="6.6" fill="#222" textLength="82.3" lengthAdjust="spacingAndGlyphs">25% <tspan font-style="italic">Fga</tspan><tspan font-size="4.3" dy="-3.2">WT/WT</tspan><tspan dy="3.2">/75% </tspan><tspan font-style="italic">Fga</tspan><tspan font-size="4.3" dy="-3.2">EK/EK</tspan></text>
<line x1="389.0" y1="234.3" x2="400.6" y2="234.3" stroke="#90a888" stroke-width="2.0"/>
<circle cx="395.0" cy="234.3" r="1.45" fill="#4a6a40"/>
<text x="404.60" y="237.50" font-size="6.6" fill="#222" textLength="43.0" lengthAdjust="spacingAndGlyphs">100% <tspan font-style="italic">Fga</tspan><tspan font-size="4.3" dy="-3.2">EK/EK</tspan></text>
<line x1="389.0" y1="321.2" x2="400.6" y2="321.2" stroke="#b86878" stroke-width="2.0"/>
<circle cx="395.0" cy="321.2" r="1.45" fill="#4a0818"/>
<text x="405.50" y="325.00" font-size="6.6" fill="#222" textLength="49.8" lengthAdjust="spacingAndGlyphs">0.5 mg/mL Fib<tspan font-size="4.3" dy="-3.2">WT</tspan></text>
<line x1="389.0" y1="334.28" x2="400.6" y2="334.28" stroke="#e8b890" stroke-width="2.0"/>
<circle cx="395.0" cy="334.28" r="1.45" fill="#b07840"/>
<text x="405.50" y="338.08" font-size="6.6" fill="#222" textLength="106.2" lengthAdjust="spacingAndGlyphs">0.5 mg/mL Fib<tspan font-size="4.3" dy="-3.2">WT</tspan><tspan dy="3.2"> + 0.1 mg/mL Fib</tspan><tspan font-size="4.3" dy="-3.2">WT</tspan></text>
<line x1="389.0" y1="347.36" x2="400.6" y2="347.36" stroke="#f4f0a8" stroke-width="2.0"/>
<circle cx="395.0" cy="347.36" r="1.45" fill="#c8c070"/>
<text x="405.50" y="351.16" font-size="6.6" fill="#222" textLength="106.2" lengthAdjust="spacingAndGlyphs">0.5 mg/mL Fib<tspan font-size="4.3" dy="-3.2">WT</tspan><tspan dy="3.2"> + 0.2 mg/mL Fib</tspan><tspan font-size="4.3" dy="-3.2">WT</tspan></text>
<line x1="389.0" y1="360.44" x2="400.6" y2="360.44" stroke="#809880" stroke-width="2.0"/>
<circle cx="395.0" cy="360.44" r="1.45" fill="#304830"/>
<text x="405.50" y="364.24" font-size="6.6" fill="#222" textLength="106.2" lengthAdjust="spacingAndGlyphs">0.5 mg/mL Fib<tspan font-size="4.3" dy="-3.2">WT</tspan><tspan dy="3.2"> + 0.3 mg/mL Fib</tspan><tspan font-size="4.3" dy="-3.2">WT</tspan></text>
<line x1="389.0" y1="373.52" x2="400.6" y2="373.52" stroke="#505080" stroke-width="2.0"/>
<circle cx="395.0" cy="373.52" r="1.45" fill="#0a0a30"/>
<text x="405.50" y="377.32" font-size="6.6" fill="#222" textLength="106.2" lengthAdjust="spacingAndGlyphs">0.5 mg/mL Fib<tspan font-size="4.3" dy="-3.2">WT</tspan><tspan dy="3.2"> + 0.4 mg/mL Fib</tspan><tspan font-size="4.3" dy="-3.2">WT</tspan></text>
<line x1="389.0" y1="386.6" x2="400.6" y2="386.6" stroke="#a0a0c0" stroke-width="2.0"/>
<circle cx="395.0" cy="386.6" r="1.45" fill="#6a6a98"/>
<text x="405.50" y="390.40" font-size="6.6" fill="#222" textLength="106.2" lengthAdjust="spacingAndGlyphs">0.5 mg/mL Fib<tspan font-size="4.3" dy="-3.2">WT</tspan><tspan dy="3.2"> + 0.5 mg/mL Fib</tspan><tspan font-size="4.3" dy="-3.2">WT</tspan></text>
<line x1="389.0" y1="460.2" x2="400.6" y2="460.2" stroke="#b86878" stroke-width="2.0"/>
<circle cx="395.0" cy="460.2" r="1.45" fill="#4a0818"/>
<text x="405.50" y="464.00" font-size="6.6" fill="#222" textLength="49.8" lengthAdjust="spacingAndGlyphs">0.5 mg/mL Fib<tspan font-size="4.3" dy="-3.2">WT</tspan></text>
<line x1="389.0" y1="473.28" x2="400.6" y2="473.28" stroke="#e8b890" stroke-width="2.0"/>
<circle cx="395.0" cy="473.28" r="1.45" fill="#b07840"/>
<text x="405.50" y="477.08" font-size="6.6" fill="#222" textLength="106.2" lengthAdjust="spacingAndGlyphs">0.5 mg/mL Fib<tspan font-size="4.3" dy="-3.2">WT</tspan><tspan dy="3.2"> + 0.1 mg/mL Fib</tspan><tspan font-size="4.3" dy="-3.2">EK</tspan></text>
<line x1="389.0" y1="486.36" x2="400.6" y2="486.36" stroke="#f4f0a8" stroke-width="2.0"/>
<circle cx="395.0" cy="486.36" r="1.45" fill="#c8c070"/>
<text x="405.50" y="490.16" font-size="6.6" fill="#222" textLength="106.2" lengthAdjust="spacingAndGlyphs">0.5 mg/mL Fib<tspan font-size="4.3" dy="-3.2">WT</tspan><tspan dy="3.2"> + 0.2 mg/mL Fib</tspan><tspan font-size="4.3" dy="-3.2">EK</tspan></text>
<line x1="389.0" y1="499.44" x2="400.6" y2="499.44" stroke="#809880" stroke-width="2.0"/>
<circle cx="395.0" cy="499.44" r="1.45" fill="#304830"/>
<text x="405.50" y="503.24" font-size="6.6" fill="#222" textLength="106.2" lengthAdjust="spacingAndGlyphs">0.5 mg/mL Fib<tspan font-size="4.3" dy="-3.2">WT</tspan><tspan dy="3.2"> + 0.3 mg/mL Fib</tspan><tspan font-size="4.3" dy="-3.2">EK</tspan></text>
<line x1="389.0" y1="512.52" x2="400.6" y2="512.52" stroke="#505080" stroke-width="2.0"/>
<circle cx="395.0" cy="512.52" r="1.45" fill="#0a0a30"/>
<text x="405.50" y="516.32" font-size="6.6" fill="#222" textLength="106.2" lengthAdjust="spacingAndGlyphs">0.5 mg/mL Fib<tspan font-size="4.3" dy="-3.2">WT</tspan><tspan dy="3.2"> + 0.4 mg/mL Fib</tspan><tspan font-size="4.3" dy="-3.2">EK</tspan></text>
<line x1="389.0" y1="525.6" x2="400.6" y2="525.6" stroke="#a0a0c0" stroke-width="2.0"/>
<circle cx="395.0" cy="525.6" r="1.45" fill="#6a6a98"/>
<text x="405.50" y="529.40" font-size="6.6" fill="#222" textLength="106.2" lengthAdjust="spacingAndGlyphs">0.5 mg/mL Fib<tspan font-size="4.3" dy="-3.2">WT</tspan><tspan dy="3.2"> + 0.5 mg/mL Fib</tspan><tspan font-size="4.3" dy="-3.2">EK</tspan></text>
<rect x="0.5" y="0.5" width="519" height="583" fill="none" stroke="#444" stroke-width="1"/>
</svg>
</body></html>
